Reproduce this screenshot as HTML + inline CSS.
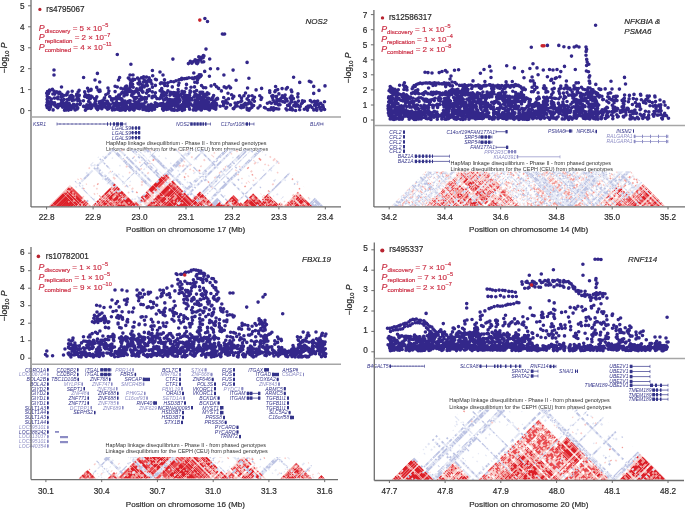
<!DOCTYPE html><html><head><meta charset="utf-8"><style>
html,body{margin:0;padding:0;background:#fff;}
svg{display:block;font-family:"Liberation Sans", sans-serif;filter:blur(0.4px);}
</style></head><body>
<svg width="685" height="509" viewBox="0 0 685 509">
<text x="46" y="125.8" text-anchor="end" font-size="5.0" font-style="italic" fill="#34348a">KSR1</text><path d="M57 124H126" stroke="#34348a" stroke-width="0.7"/><path d="M57 122.5v3M126 122.5v3" stroke="#34348a" stroke-width="0.6"/><rect x="107" y="122.3" width="1" height="3.4" fill="#34348a"/><rect x="110" y="122.3" width="1" height="3.4" fill="#34348a"/><rect x="113" y="122.3" width="2" height="3.4" fill="#34348a"/><rect x="116" y="122.3" width="3" height="3.4" fill="#34348a"/><rect x="120" y="122.3" width="3" height="3.4" fill="#34348a"/><path d="M60 123v2M64 123v2M68 123v2M72 123v2M76 123v2M80 123v2M84 123v2M88 123v2M92 123v2M96 123v2M100 123v2M104 123v2" stroke="#34348a" stroke-width="0.5"/><text x="131" y="129.8" text-anchor="end" font-size="5.0" font-style="italic" fill="#34348a">LGALS9</text><path d="M131 128H140" stroke="#34348a" stroke-width="0.7"/><path d="M131 126.5v3M140 126.5v3" stroke="#34348a" stroke-width="0.6"/><rect x="132" y="126.3" width="1.5" height="3.4" fill="#34348a"/><rect x="135" y="126.3" width="2" height="3.4" fill="#34348a"/><rect x="138" y="126.3" width="2" height="3.4" fill="#34348a"/><text x="131" y="134.5" text-anchor="end" font-size="5.0" font-style="italic" fill="#34348a">LGALS9</text><path d="M131 132.7H140" stroke="#34348a" stroke-width="0.7"/><path d="M131 131.2v3M140 131.2v3" stroke="#34348a" stroke-width="0.6"/><rect x="132" y="131.0" width="1.5" height="3.4" fill="#34348a"/><rect x="135" y="131.0" width="2" height="3.4" fill="#34348a"/><rect x="138" y="131.0" width="2" height="3.4" fill="#34348a"/><text x="131" y="139.5" text-anchor="end" font-size="5.0" font-style="italic" fill="#34348a">LGALS9</text><path d="M131 137.7H140" stroke="#34348a" stroke-width="0.7"/><path d="M131 136.2v3M140 136.2v3" stroke="#34348a" stroke-width="0.6"/><rect x="132" y="136.0" width="1.5" height="3.4" fill="#34348a"/><rect x="135" y="136.0" width="2" height="3.4" fill="#34348a"/><rect x="138" y="136.0" width="2" height="3.4" fill="#34348a"/><text x="189.5" y="125.8" text-anchor="end" font-size="5.0" font-style="italic" fill="#34348a">NOS2</text><path d="M190.5 124H210.5" stroke="#34348a" stroke-width="0.7"/><path d="M190.5 122.5v3M210.5 122.5v3" stroke="#34348a" stroke-width="0.6"/><rect x="190.5" y="122.3" width="2.2" height="3.4" fill="#34348a"/><rect x="193.5" y="122.3" width="2.2" height="3.4" fill="#34348a"/><rect x="196.5" y="122.3" width="2.2" height="3.4" fill="#34348a"/><rect x="199.5" y="122.3" width="2.2" height="3.4" fill="#34348a"/><rect x="202.5" y="122.3" width="1.5" height="3.4" fill="#34348a"/><rect x="205" y="122.3" width="1.5" height="3.4" fill="#34348a"/><text x="244" y="125.8" text-anchor="end" font-size="5.0" font-style="italic" fill="#34348a">C17orf108</text><path d="M245 124H254" stroke="#34348a" stroke-width="0.7"/><path d="M245 122.5v3M254 122.5v3" stroke="#34348a" stroke-width="0.6"/><rect x="246" y="122.3" width="2" height="3.4" fill="#34348a"/><rect x="249" y="122.3" width="1" height="3.4" fill="#34348a"/><text x="319.5" y="125.8" text-anchor="end" font-size="5.0" font-style="italic" fill="#34348a">BLK</text><path d="M320 124H323" stroke="#34348a" stroke-width="0.7"/><path d="M320 122.5v3M323 122.5v3" stroke="#34348a" stroke-width="0.6"/><text x="106" y="144.5" font-size="5.45" fill="#333">HapMap linkage disequilibrium - Phase II - from phased genotypes</text><text x="106" y="150.8" font-size="5.45" fill="#333">Linkage disequilibrium for the CEPH (CEU) from phased genotypes</text>
<text x="401.5" y="133.9" text-anchor="end" font-size="5.0" font-style="italic" fill="#34348a">CFL2</text><path d="M403 132.1H405" stroke="#34348a" stroke-width="0.7"/><rect x="403" y="130.4" width="2" height="3.4" fill="#34348a"/><text x="401.5" y="138.6" text-anchor="end" font-size="5.0" font-style="italic" fill="#34348a">CFL2</text><path d="M403 136.8H405" stroke="#34348a" stroke-width="0.7"/><rect x="403" y="135.1" width="2" height="3.4" fill="#34348a"/><text x="401.5" y="143.7" text-anchor="end" font-size="5.0" font-style="italic" fill="#34348a">CFL2</text><path d="M403 141.9H405" stroke="#34348a" stroke-width="0.7"/><rect x="403" y="140.2" width="2" height="3.4" fill="#34348a"/><text x="401.5" y="148.5" text-anchor="end" font-size="5.0" font-style="italic" fill="#34348a">CFL2</text><path d="M403 146.7H405" stroke="#34348a" stroke-width="0.7"/><rect x="403" y="145.0" width="2" height="3.4" fill="#34348a"/><text x="401.5" y="153.0" text-anchor="end" font-size="5.0" font-style="italic" fill="#34348a">CFL2</text><path d="M403 151.2H405" stroke="#34348a" stroke-width="0.7"/><rect x="403" y="149.5" width="2" height="3.4" fill="#34348a"/><text x="413.5" y="158.0" text-anchor="end" font-size="5.0" font-style="italic" fill="#34348a">BAZ1A</text><path d="M415 156.2H449.5" stroke="#34348a" stroke-width="0.7"/><path d="M415 154.7v3M449.5 154.7v3" stroke="#34348a" stroke-width="0.6"/><rect x="415" y="154.5" width="2" height="3.4" fill="#34348a"/><rect x="418.5" y="154.5" width="2" height="3.4" fill="#34348a"/><rect x="422" y="154.5" width="2" height="3.4" fill="#34348a"/><rect x="425.5" y="154.5" width="2" height="3.4" fill="#34348a"/><rect x="429" y="154.5" width="1.5" height="3.4" fill="#34348a"/><rect x="432" y="154.5" width="1" height="3.4" fill="#34348a"/><text x="413.5" y="163.2" text-anchor="end" font-size="5.0" font-style="italic" fill="#34348a">BAZ1A</text><path d="M415 161.4H449.5" stroke="#34348a" stroke-width="0.7"/><path d="M415 159.9v3M449.5 159.9v3" stroke="#34348a" stroke-width="0.6"/><rect x="415" y="159.7" width="2" height="3.4" fill="#34348a"/><rect x="418.5" y="159.7" width="2" height="3.4" fill="#34348a"/><rect x="422" y="159.7" width="2" height="3.4" fill="#34348a"/><rect x="425.5" y="159.7" width="2" height="3.4" fill="#34348a"/><rect x="429" y="159.7" width="1.5" height="3.4" fill="#34348a"/><rect x="432" y="159.7" width="1" height="3.4" fill="#34348a"/><text x="467" y="133.5" text-anchor="end" font-size="5.0" font-style="italic" fill="#34348a">C14orf19</text><path d="M468 131.7H469.5" stroke="#34348a" stroke-width="0.7"/><path d="M468 130.2v3M469.5 130.2v3" stroke="#34348a" stroke-width="0.6"/><text x="495" y="133.5" text-anchor="end" font-size="5.0" font-style="italic" fill="#34348a">FAM177A1</text><path d="M496 131.7H507" stroke="#34348a" stroke-width="0.7"/><path d="M496 130.2v3M507 130.2v3" stroke="#34348a" stroke-width="0.6"/><rect x="505.5" y="130.0" width="2" height="3.4" fill="#34348a"/><text x="480" y="138.8" text-anchor="end" font-size="5.0" font-style="italic" fill="#34348a">SRP54</text><path d="M480.5 137H492" stroke="#34348a" stroke-width="0.7"/><path d="M480.5 135.5v3M492 135.5v3" stroke="#34348a" stroke-width="0.6"/><rect x="481" y="135.3" width="2.5" height="3.4" fill="#34348a"/><rect x="484.5" y="135.3" width="2.5" height="3.4" fill="#34348a"/><rect x="488" y="135.3" width="2.5" height="3.4" fill="#34348a"/><text x="480" y="144.0" text-anchor="end" font-size="5.0" font-style="italic" fill="#34348a">SRP54</text><path d="M480.5 142.2H492" stroke="#34348a" stroke-width="0.7"/><path d="M480.5 140.7v3M492 140.7v3" stroke="#34348a" stroke-width="0.6"/><rect x="481" y="140.5" width="2.5" height="3.4" fill="#34348a"/><rect x="484.5" y="140.5" width="2.5" height="3.4" fill="#34348a"/><rect x="488" y="140.5" width="2.5" height="3.4" fill="#34348a"/><text x="495" y="149.1" text-anchor="end" font-size="5.0" font-style="italic" fill="#34348a">FAM177A1</text><path d="M496 147.3H508" stroke="#34348a" stroke-width="0.7"/><path d="M496 145.8v3M508 145.8v3" stroke="#34348a" stroke-width="0.6"/><rect x="506" y="145.6" width="2" height="3.4" fill="#34348a"/><text x="507" y="153.5" text-anchor="end" font-size="5.0" font-style="italic" fill="#8c8cc4">PPP2R3C</text><path d="M508 151.7H516" stroke="#8c8cc4" stroke-width="0.7"/><path d="M508 150.2v3M516 150.2v3" stroke="#8c8cc4" stroke-width="0.6"/><rect x="508" y="150.0" width="2" height="3.4" fill="#8c8cc4"/><rect x="511" y="150.0" width="2" height="3.4" fill="#8c8cc4"/><rect x="514" y="150.0" width="2" height="3.4" fill="#8c8cc4"/><text x="516" y="158.6" text-anchor="end" font-size="5.0" font-style="italic" fill="#8c8cc4">KIAA0391</text><path d="M517 156.8H560" stroke="#8c8cc4" stroke-width="0.7"/><path d="M517 155.3v3M560 155.3v3" stroke="#8c8cc4" stroke-width="0.6"/><rect x="517" y="155.1" width="1.2" height="3.4" fill="#8c8cc4"/><text x="565" y="132.8" text-anchor="end" font-size="5.0" font-style="italic" fill="#34348a">PSMA6</text><path d="M565.5 131H572" stroke="#34348a" stroke-width="0.7"/><path d="M565.5 129.5v3M572 129.5v3" stroke="#34348a" stroke-width="0.6"/><rect x="569" y="129.3" width="2.5" height="3.4" fill="#34348a"/><text x="594.5" y="133.3" text-anchor="end" font-size="5.0" font-style="italic" fill="#34348a">NFKBIA</text><path d="M595.5 131.5H597" stroke="#34348a" stroke-width="0.7"/><rect x="595.5" y="129.8" width="1.5" height="3.4" fill="#34348a"/><text x="631.5" y="132.8" text-anchor="end" font-size="5.0" font-style="italic" fill="#34348a">INSM2</text><path d="M633 131H634" stroke="#34348a" stroke-width="0.7"/><rect x="633" y="129.3" width="1" height="3.4" fill="#34348a"/><text x="632.5" y="138.2" text-anchor="end" font-size="5.0" font-style="italic" fill="#8c8cc4">RALGAPA1</text><path d="M634 136.4H668" stroke="#8c8cc4" stroke-width="0.7"/><path d="M634 134.9v3M668 134.9v3" stroke="#8c8cc4" stroke-width="0.6"/><rect x="634" y="134.7" width="1.5" height="3.4" fill="#8c8cc4"/><rect x="642" y="134.7" width="1" height="3.4" fill="#8c8cc4"/><rect x="650" y="134.7" width="1" height="3.4" fill="#8c8cc4"/><rect x="658" y="134.7" width="1" height="3.4" fill="#8c8cc4"/><rect x="666" y="134.7" width="1.5" height="3.4" fill="#8c8cc4"/><text x="632.5" y="143.3" text-anchor="end" font-size="5.0" font-style="italic" fill="#8c8cc4">RALGAPA1</text><path d="M634 141.5H668" stroke="#8c8cc4" stroke-width="0.7"/><path d="M634 140.0v3M668 140.0v3" stroke="#8c8cc4" stroke-width="0.6"/><rect x="634" y="139.8" width="1.5" height="3.4" fill="#8c8cc4"/><rect x="642" y="139.8" width="1" height="3.4" fill="#8c8cc4"/><rect x="650" y="139.8" width="1" height="3.4" fill="#8c8cc4"/><rect x="658" y="139.8" width="1" height="3.4" fill="#8c8cc4"/><rect x="666" y="139.8" width="1.5" height="3.4" fill="#8c8cc4"/><text x="450.6" y="164.7" font-size="5.45" fill="#333">HapMap linkage disequilibrium - Phase II - from phased genotypes</text><text x="450.6" y="171.2" font-size="5.45" fill="#333">Linkage disequilibrium for the CEPH (CEU) from phased genotypes</text>
<text x="46" y="371.6" text-anchor="end" font-size="5.0" font-style="italic" fill="#34348a">CORO1A</text><path d="M47 369.8H49" stroke="#34348a" stroke-width="0.7"/><rect x="47" y="368.1" width="1.6" height="3.4" fill="#34348a"/><text x="46" y="376.3" text-anchor="end" font-size="5.0" font-style="italic" fill="#8c8cc4">LOC606724</text><path d="M47 374.5H49" stroke="#8c8cc4" stroke-width="0.7"/><rect x="47" y="372.8" width="1.6" height="3.4" fill="#8c8cc4"/><text x="46" y="381.2" text-anchor="end" font-size="5.0" font-style="italic" fill="#34348a">BOLA2B</text><path d="M47 379.4H49" stroke="#34348a" stroke-width="0.7"/><rect x="47" y="377.7" width="1.6" height="3.4" fill="#34348a"/><text x="46" y="385.9" text-anchor="end" font-size="5.0" font-style="italic" fill="#34348a">BOLA2</text><path d="M47 384.1H49" stroke="#34348a" stroke-width="0.7"/><rect x="47" y="382.4" width="1.6" height="3.4" fill="#34348a"/><text x="46" y="390.5" text-anchor="end" font-size="5.0" font-style="italic" fill="#34348a">GIYD2</text><path d="M47 388.7H49" stroke="#34348a" stroke-width="0.7"/><rect x="47" y="387.0" width="1.6" height="3.4" fill="#34348a"/><text x="46" y="395.2" text-anchor="end" font-size="5.0" font-style="italic" fill="#34348a">GIYD2</text><path d="M47 393.4H49" stroke="#34348a" stroke-width="0.7"/><rect x="47" y="391.7" width="1.6" height="3.4" fill="#34348a"/><text x="46" y="399.9" text-anchor="end" font-size="5.0" font-style="italic" fill="#34348a">GIYD1</text><path d="M47 398.1H49" stroke="#34348a" stroke-width="0.7"/><rect x="47" y="396.4" width="1.6" height="3.4" fill="#34348a"/><text x="46" y="404.8" text-anchor="end" font-size="5.0" font-style="italic" fill="#34348a">GIYD1</text><path d="M47 403H49" stroke="#34348a" stroke-width="0.7"/><rect x="47" y="401.3" width="1.6" height="3.4" fill="#34348a"/><text x="46" y="409.5" text-anchor="end" font-size="5.0" font-style="italic" fill="#34348a">SULT1A3</text><path d="M47 407.7H49" stroke="#34348a" stroke-width="0.7"/><rect x="47" y="406.0" width="1.6" height="3.4" fill="#34348a"/><text x="46" y="414.4" text-anchor="end" font-size="5.0" font-style="italic" fill="#34348a">SULT1A4</text><path d="M47 412.6H49" stroke="#34348a" stroke-width="0.7"/><rect x="47" y="410.9" width="1.6" height="3.4" fill="#34348a"/><text x="46" y="419.3" text-anchor="end" font-size="5.0" font-style="italic" fill="#34348a">SULT1A3</text><path d="M47 417.5H49" stroke="#34348a" stroke-width="0.7"/><rect x="47" y="415.8" width="1.6" height="3.4" fill="#34348a"/><text x="46" y="424.2" text-anchor="end" font-size="5.0" font-style="italic" fill="#34348a">SULT1A4</text><path d="M47 422.4H49" stroke="#34348a" stroke-width="0.7"/><rect x="47" y="420.7" width="1.6" height="3.4" fill="#34348a"/><text x="46" y="429.1" text-anchor="end" font-size="5.0" font-style="italic" fill="#8c8cc4">LOC595101</text><path d="M47 427.3H49" stroke="#8c8cc4" stroke-width="0.7"/><rect x="47" y="425.6" width="1.6" height="3.4" fill="#8c8cc4"/><text x="46" y="433.8" text-anchor="end" font-size="5.0" font-style="italic" fill="#34348a">LOC388242</text><path d="M47 432H49" stroke="#34348a" stroke-width="0.7"/><rect x="47" y="430.3" width="1.6" height="3.4" fill="#34348a"/><text x="46" y="438.4" text-anchor="end" font-size="5.0" font-style="italic" fill="#8c8cc4">LOC613037</text><path d="M47 436.6H49" stroke="#8c8cc4" stroke-width="0.7"/><rect x="47" y="434.9" width="1.6" height="3.4" fill="#8c8cc4"/><text x="46" y="443.1" text-anchor="end" font-size="5.0" font-style="italic" fill="#8c8cc4">LOC595101</text><path d="M47 441.3H49" stroke="#8c8cc4" stroke-width="0.7"/><rect x="47" y="439.6" width="1.6" height="3.4" fill="#8c8cc4"/><text x="46" y="447.8" text-anchor="end" font-size="5.0" font-style="italic" fill="#8c8cc4">LOC440354</text><path d="M47 446H49" stroke="#8c8cc4" stroke-width="0.7"/><rect x="47" y="444.3" width="1.6" height="3.4" fill="#8c8cc4"/><rect x="55" y="431" width="4" height="1.8" fill="#8c8cc4"/><rect x="60" y="436" width="8" height="2.2" fill="#8c8cc4"/><rect x="60" y="441" width="8" height="2.2" fill="#8c8cc4"/><text x="76" y="371.6" text-anchor="end" font-size="5.0" font-style="italic" fill="#34348a">CD2BP2</text><path d="M77 369.8H78.5" stroke="#34348a" stroke-width="0.7"/><rect x="77" y="368.1" width="1.5" height="3.4" fill="#34348a"/><text x="76" y="376.3" text-anchor="end" font-size="5.0" font-style="italic" fill="#34348a">CD2BP2</text><path d="M77 374.5H78.5" stroke="#34348a" stroke-width="0.7"/><rect x="77" y="372.8" width="1.5" height="3.4" fill="#34348a"/><text x="76.5" y="381.2" text-anchor="end" font-size="5.0" font-style="italic" fill="#34348a">TBC1D10B</text><path d="M77.5 379.4H79.0" stroke="#34348a" stroke-width="0.7"/><rect x="77.5" y="377.7" width="1.5" height="3.4" fill="#34348a"/><text x="80.5" y="385.9" text-anchor="end" font-size="5.0" font-style="italic" fill="#8c8cc4">MYLPF</text><path d="M81.5 384.1H83.0" stroke="#8c8cc4" stroke-width="0.7"/><rect x="81.5" y="382.4" width="1.5" height="3.4" fill="#8c8cc4"/><text x="82.5" y="390.5" text-anchor="end" font-size="5.0" font-style="italic" fill="#34348a">SEPT1</text><path d="M83.5 388.7H85.0" stroke="#34348a" stroke-width="0.7"/><rect x="83.5" y="387.0" width="1.5" height="3.4" fill="#34348a"/><text x="86.5" y="395.2" text-anchor="end" font-size="5.0" font-style="italic" fill="#8c8cc4">ZNF48</text><path d="M87.5 393.4H89.0" stroke="#8c8cc4" stroke-width="0.7"/><rect x="87.5" y="391.7" width="1.5" height="3.4" fill="#8c8cc4"/><text x="86.5" y="399.9" text-anchor="end" font-size="5.0" font-style="italic" fill="#34348a">ZNF771</text><path d="M87.5 398.1H89.0" stroke="#34348a" stroke-width="0.7"/><rect x="87.5" y="396.4" width="1.5" height="3.4" fill="#34348a"/><text x="86.5" y="404.8" text-anchor="end" font-size="5.0" font-style="italic" fill="#34348a">ZNF771</text><path d="M87.5 403H89.0" stroke="#34348a" stroke-width="0.7"/><rect x="87.5" y="401.3" width="1.5" height="3.4" fill="#34348a"/><text x="89.5" y="409.5" text-anchor="end" font-size="5.0" font-style="italic" fill="#8c8cc4">DCTPP1</text><path d="M90.5 407.7H92.0" stroke="#8c8cc4" stroke-width="0.7"/><rect x="90.5" y="406.0" width="1.5" height="3.4" fill="#8c8cc4"/><text x="93" y="414.4" text-anchor="end" font-size="5.0" font-style="italic" fill="#34348a">SEPHS2</text><path d="M94 412.6H95.5" stroke="#34348a" stroke-width="0.7"/><rect x="94" y="410.9" width="1.5" height="3.4" fill="#34348a"/><text x="99.5" y="371.6" text-anchor="end" font-size="5.0" font-style="italic" fill="#34348a">ITGAL</text><path d="M100.5 369.8H111" stroke="#34348a" stroke-width="0.7"/><path d="M100.5 368.3v3M111 368.3v3" stroke="#34348a" stroke-width="0.6"/><rect x="100.5" y="368.1" width="3" height="3.4" fill="#34348a"/><rect x="104" y="368.1" width="3" height="3.4" fill="#34348a"/><rect x="107.5" y="368.1" width="3" height="3.4" fill="#34348a"/><text x="99.5" y="376.3" text-anchor="end" font-size="5.0" font-style="italic" fill="#34348a">ITGAL</text><path d="M100.5 374.5H111" stroke="#34348a" stroke-width="0.7"/><path d="M100.5 373.0v3M111 373.0v3" stroke="#34348a" stroke-width="0.6"/><rect x="100.5" y="372.8" width="3" height="3.4" fill="#34348a"/><rect x="104" y="372.8" width="3" height="3.4" fill="#34348a"/><rect x="107.5" y="372.8" width="3" height="3.4" fill="#34348a"/><text x="108" y="381.2" text-anchor="end" font-size="5.0" font-style="italic" fill="#34348a">ZNF768</text><path d="M109 379.4H110.5" stroke="#34348a" stroke-width="0.7"/><rect x="109" y="377.7" width="1.5" height="3.4" fill="#34348a"/><text x="110" y="385.9" text-anchor="end" font-size="5.0" font-style="italic" fill="#8c8cc4">ZNF747</text><path d="M111 384.1H112.5" stroke="#8c8cc4" stroke-width="0.7"/><rect x="111" y="382.4" width="1.5" height="3.4" fill="#8c8cc4"/><text x="115" y="390.5" text-anchor="end" font-size="5.0" font-style="italic" fill="#8c8cc4">ZNF764</text><path d="M116 388.7H117.5" stroke="#8c8cc4" stroke-width="0.7"/><rect x="116" y="387.0" width="1.5" height="3.4" fill="#8c8cc4"/><text x="116" y="395.2" text-anchor="end" font-size="5.0" font-style="italic" fill="#34348a">ZNF688</text><path d="M117 393.4H118.5" stroke="#34348a" stroke-width="0.7"/><rect x="117" y="391.7" width="1.5" height="3.4" fill="#34348a"/><text x="116" y="399.9" text-anchor="end" font-size="5.0" font-style="italic" fill="#34348a">ZNF688</text><path d="M117 398.1H118.5" stroke="#34348a" stroke-width="0.7"/><rect x="117" y="396.4" width="1.5" height="3.4" fill="#34348a"/><text x="116" y="404.8" text-anchor="end" font-size="5.0" font-style="italic" fill="#8c8cc4">ZNF785</text><path d="M117 403H118.5" stroke="#8c8cc4" stroke-width="0.7"/><rect x="117" y="401.3" width="1.5" height="3.4" fill="#8c8cc4"/><text x="121" y="409.5" text-anchor="end" font-size="5.0" font-style="italic" fill="#8c8cc4">ZNF689</text><path d="M122 407.7H123.5" stroke="#8c8cc4" stroke-width="0.7"/><rect x="122" y="406.0" width="1.5" height="3.4" fill="#8c8cc4"/><text x="131.3" y="371.6" text-anchor="end" font-size="5.0" font-style="italic" fill="#8c8cc4">PRR14</text><path d="M132.3 369.8H133.8" stroke="#8c8cc4" stroke-width="0.7"/><rect x="132.3" y="368.1" width="1.5" height="3.4" fill="#8c8cc4"/><text x="133.6" y="376.3" text-anchor="end" font-size="5.0" font-style="italic" fill="#34348a">FBRS</text><path d="M134.6 374.5H136.1" stroke="#34348a" stroke-width="0.7"/><rect x="134.6" y="372.8" width="1.5" height="3.4" fill="#34348a"/><text x="141.8" y="381.2" text-anchor="end" font-size="5.0" font-style="italic" fill="#34348a">SRCAP</text><path d="M142.8 379.4H144.3" stroke="#34348a" stroke-width="0.7"/><rect x="142.8" y="377.7" width="1.5" height="3.4" fill="#34348a"/><text x="141.8" y="385.9" text-anchor="end" font-size="5.0" font-style="italic" fill="#8c8cc4">SMCR4B</text><path d="M142.8 384.1H144.3" stroke="#8c8cc4" stroke-width="0.7"/><rect x="142.8" y="382.4" width="1.5" height="3.4" fill="#8c8cc4"/><text x="143" y="395.2" text-anchor="end" font-size="5.0" font-style="italic" fill="#8c8cc4">PHKG2</text><path d="M144 393.4H145.5" stroke="#8c8cc4" stroke-width="0.7"/><rect x="144" y="391.7" width="1.5" height="3.4" fill="#8c8cc4"/><text x="145.3" y="399.9" text-anchor="end" font-size="5.0" font-style="italic" fill="#8c8cc4">C16orf93</text><path d="M146.3 398.1H147.8" stroke="#8c8cc4" stroke-width="0.7"/><rect x="146.3" y="396.4" width="1.5" height="3.4" fill="#8c8cc4"/><text x="152.3" y="404.8" text-anchor="end" font-size="5.0" font-style="italic" fill="#34348a">RNF40</text><path d="M153.3 403H154.8" stroke="#34348a" stroke-width="0.7"/><rect x="153.3" y="401.3" width="1.5" height="3.4" fill="#34348a"/><text x="157" y="409.5" text-anchor="end" font-size="5.0" font-style="italic" fill="#8c8cc4">ZNF629</text><path d="M158 407.7H159.5" stroke="#8c8cc4" stroke-width="0.7"/><rect x="158" y="406.0" width="1.5" height="3.4" fill="#8c8cc4"/><rect x="143" y="377.7" width="7" height="3.4" fill="#34348a"/><rect x="153.5" y="401.3" width="3.5" height="3.4" fill="#34348a"/><text x="178" y="371.6" text-anchor="end" font-size="5.0" font-style="italic" fill="#34348a">BCL7C</text><path d="M179 369.8H181" stroke="#34348a" stroke-width="0.7"/><rect x="179" y="368.1" width="2" height="3.4" fill="#34348a"/><text x="178" y="376.3" text-anchor="end" font-size="5.0" font-style="italic" fill="#8c8cc4">MIR762</text><path d="M179 374.5H181" stroke="#8c8cc4" stroke-width="0.7"/><rect x="179" y="372.8" width="2" height="3.4" fill="#8c8cc4"/><text x="178" y="381.2" text-anchor="end" font-size="5.0" font-style="italic" fill="#34348a">CTF1</text><path d="M179 379.4H181" stroke="#34348a" stroke-width="0.7"/><rect x="179" y="377.7" width="2" height="3.4" fill="#34348a"/><text x="178" y="385.9" text-anchor="end" font-size="5.0" font-style="italic" fill="#34348a">CTF1</text><path d="M179 384.1H181" stroke="#34348a" stroke-width="0.7"/><rect x="179" y="382.4" width="2" height="3.4" fill="#34348a"/><text x="180" y="390.5" text-anchor="end" font-size="5.0" font-style="italic" fill="#8c8cc4">FBXL19</text><path d="M181 388.7H183" stroke="#8c8cc4" stroke-width="0.7"/><rect x="181" y="387.0" width="2" height="3.4" fill="#8c8cc4"/><text x="181" y="395.2" text-anchor="end" font-size="5.0" font-style="italic" fill="#34348a">ORAI3</text><path d="M182 393.4H184" stroke="#34348a" stroke-width="0.7"/><rect x="182" y="391.7" width="2" height="3.4" fill="#34348a"/><text x="182" y="399.9" text-anchor="end" font-size="5.0" font-style="italic" fill="#8c8cc4">SETD1A</text><path d="M183 398.1H185" stroke="#8c8cc4" stroke-width="0.7"/><rect x="183" y="396.4" width="2" height="3.4" fill="#8c8cc4"/><text x="183" y="404.8" text-anchor="end" font-size="5.0" font-style="italic" fill="#34348a">HSD3B7</text><path d="M184 403H186" stroke="#34348a" stroke-width="0.7"/><rect x="184" y="401.3" width="2" height="3.4" fill="#34348a"/><text x="190" y="409.5" text-anchor="end" font-size="5.0" font-style="italic" fill="#34348a">NCRNA00095</text><path d="M191 407.7H193" stroke="#34348a" stroke-width="0.7"/><rect x="191" y="406.0" width="2" height="3.4" fill="#34348a"/><text x="181" y="414.4" text-anchor="end" font-size="5.0" font-style="italic" fill="#34348a">HSD3B7</text><path d="M182 412.6H184" stroke="#34348a" stroke-width="0.7"/><rect x="182" y="410.9" width="2" height="3.4" fill="#34348a"/><text x="181" y="419.3" text-anchor="end" font-size="5.0" font-style="italic" fill="#34348a">HSD3B7</text><path d="M182 417.5H184" stroke="#34348a" stroke-width="0.7"/><rect x="182" y="415.8" width="2" height="3.4" fill="#34348a"/><text x="180" y="424.2" text-anchor="end" font-size="5.0" font-style="italic" fill="#34348a">STX1B</text><path d="M181 422.4H183" stroke="#34348a" stroke-width="0.7"/><rect x="181" y="420.7" width="2" height="3.4" fill="#34348a"/><text x="203.6" y="371.6" text-anchor="end" font-size="5.0" font-style="italic" fill="#8c8cc4">STX4</text><path d="M204.6 369.8H206.6" stroke="#8c8cc4" stroke-width="0.7"/><rect x="204.6" y="368.1" width="2" height="3.4" fill="#8c8cc4"/><text x="209.5" y="376.3" text-anchor="end" font-size="5.0" font-style="italic" fill="#8c8cc4">ZNF668</text><path d="M210.5 374.5H212.5" stroke="#8c8cc4" stroke-width="0.7"/><rect x="210.5" y="372.8" width="2" height="3.4" fill="#8c8cc4"/><text x="210.7" y="381.2" text-anchor="end" font-size="5.0" font-style="italic" fill="#34348a">ZNF646</text><path d="M211.7 379.4H213.7" stroke="#34348a" stroke-width="0.7"/><rect x="211.7" y="377.7" width="2" height="3.4" fill="#34348a"/><text x="213" y="385.9" text-anchor="end" font-size="5.0" font-style="italic" fill="#34348a">POL3S</text><path d="M214 384.1H216" stroke="#34348a" stroke-width="0.7"/><rect x="214" y="382.4" width="2" height="3.4" fill="#34348a"/><text x="213" y="390.5" text-anchor="end" font-size="5.0" font-style="italic" fill="#34348a">VKORC1</text><path d="M214 388.7H216" stroke="#34348a" stroke-width="0.7"/><rect x="214" y="387.0" width="2" height="3.4" fill="#34348a"/><text x="213" y="395.2" text-anchor="end" font-size="5.0" font-style="italic" fill="#34348a">VKORC1</text><path d="M214 393.4H216" stroke="#34348a" stroke-width="0.7"/><rect x="214" y="391.7" width="2" height="3.4" fill="#34348a"/><text x="216.6" y="399.9" text-anchor="end" font-size="5.0" font-style="italic" fill="#34348a">BCKDK</text><path d="M217.6 398.1H219.6" stroke="#34348a" stroke-width="0.7"/><rect x="217.6" y="396.4" width="2" height="3.4" fill="#34348a"/><text x="216.6" y="404.8" text-anchor="end" font-size="5.0" font-style="italic" fill="#34348a">BCKDK</text><path d="M217.6 403H219.6" stroke="#34348a" stroke-width="0.7"/><rect x="217.6" y="401.3" width="2" height="3.4" fill="#34348a"/><text x="219" y="409.5" text-anchor="end" font-size="5.0" font-style="italic" fill="#34348a">MYST1</text><path d="M220 407.7H222" stroke="#34348a" stroke-width="0.7"/><rect x="220" y="406.0" width="2" height="3.4" fill="#34348a"/><text x="219" y="414.4" text-anchor="end" font-size="5.0" font-style="italic" fill="#34348a">MYST1</text><path d="M220 412.6H222" stroke="#34348a" stroke-width="0.7"/><rect x="220" y="410.9" width="2" height="3.4" fill="#34348a"/><text x="222" y="419.3" text-anchor="end" font-size="5.0" font-style="italic" fill="#34348a">PRSS8</text><path d="M223 417.5H225" stroke="#34348a" stroke-width="0.7"/><rect x="223" y="415.8" width="2" height="3.4" fill="#34348a"/><text x="223.7" y="424.2" text-anchor="end" font-size="5.0" font-style="italic" fill="#34348a">PRSS36</text><path d="M224.7 422.4H226.7" stroke="#34348a" stroke-width="0.7"/><rect x="224.7" y="420.7" width="2" height="3.4" fill="#34348a"/><text x="235.5" y="429.1" text-anchor="end" font-size="5.0" font-style="italic" fill="#34348a">PYCARD</text><path d="M236.5 427.3H238.5" stroke="#34348a" stroke-width="0.7"/><rect x="236.5" y="425.6" width="2" height="3.4" fill="#34348a"/><text x="235.5" y="433.8" text-anchor="end" font-size="5.0" font-style="italic" fill="#34348a">PYCARD</text><path d="M236.5 432H238.5" stroke="#34348a" stroke-width="0.7"/><rect x="236.5" y="430.3" width="2" height="3.4" fill="#34348a"/><text x="238" y="438.4" text-anchor="end" font-size="5.0" font-style="italic" fill="#34348a">TRIM72</text><path d="M239 436.6H241" stroke="#34348a" stroke-width="0.7"/><rect x="239" y="434.9" width="2" height="3.4" fill="#34348a"/><text x="232" y="371.6" text-anchor="end" font-size="5.0" font-style="italic" fill="#34348a">FUS</text><path d="M233 369.8H235" stroke="#34348a" stroke-width="0.7"/><rect x="233" y="368.1" width="2" height="3.4" fill="#34348a"/><text x="232" y="376.3" text-anchor="end" font-size="5.0" font-style="italic" fill="#34348a">FUS</text><path d="M233 374.5H235" stroke="#34348a" stroke-width="0.7"/><rect x="233" y="372.8" width="2" height="3.4" fill="#34348a"/><text x="232" y="381.2" text-anchor="end" font-size="5.0" font-style="italic" fill="#34348a">FUS</text><path d="M233 379.4H235" stroke="#34348a" stroke-width="0.7"/><rect x="233" y="377.7" width="2" height="3.4" fill="#34348a"/><text x="232" y="385.9" text-anchor="end" font-size="5.0" font-style="italic" fill="#34348a">FUS</text><path d="M233 384.1H235" stroke="#34348a" stroke-width="0.7"/><rect x="233" y="382.4" width="2" height="3.4" fill="#34348a"/><text x="240.3" y="390.5" text-anchor="end" font-size="5.0" font-style="italic" fill="#8c8cc4">PYDC1</text><path d="M241.3 388.7H243.3" stroke="#8c8cc4" stroke-width="0.7"/><rect x="241.3" y="387.0" width="2" height="3.4" fill="#8c8cc4"/><text x="245.5" y="395.2" text-anchor="end" font-size="5.0" font-style="italic" fill="#34348a">ITGAM</text><path d="M247 393.4H260" stroke="#34348a" stroke-width="0.7"/><path d="M247 391.9v3M260 391.9v3" stroke="#34348a" stroke-width="0.6"/><rect x="247" y="391.7" width="2.5" height="3.4" fill="#34348a"/><rect x="250" y="391.7" width="2.5" height="3.4" fill="#34348a"/><rect x="258" y="391.7" width="2.2" height="3.4" fill="#34348a"/><text x="245.5" y="399.9" text-anchor="end" font-size="5.0" font-style="italic" fill="#34348a">ITGAM</text><path d="M247 398.1H260" stroke="#34348a" stroke-width="0.7"/><path d="M247 396.6v3M260 396.6v3" stroke="#34348a" stroke-width="0.6"/><rect x="247" y="396.4" width="2.5" height="3.4" fill="#34348a"/><rect x="250" y="396.4" width="2.5" height="3.4" fill="#34348a"/><rect x="258" y="396.4" width="2.2" height="3.4" fill="#34348a"/><text x="263.2" y="371.6" text-anchor="end" font-size="5.0" font-style="italic" fill="#34348a">ITGAX</text><path d="M264.2 369.8H266.2" stroke="#34348a" stroke-width="0.7"/><rect x="264.2" y="368.1" width="2" height="3.4" fill="#34348a"/><text x="271" y="376.3" text-anchor="end" font-size="5.0" font-style="italic" fill="#34348a">ITGAD</text><path d="M272 374.5H274" stroke="#34348a" stroke-width="0.7"/><rect x="272" y="372.8" width="2" height="3.4" fill="#34348a"/><text x="275.7" y="381.2" text-anchor="end" font-size="5.0" font-style="italic" fill="#34348a">COX6A2</text><path d="M276.7 379.4H278.7" stroke="#34348a" stroke-width="0.7"/><rect x="276.7" y="377.7" width="2" height="3.4" fill="#34348a"/><text x="277" y="385.9" text-anchor="end" font-size="5.0" font-style="italic" fill="#8c8cc4">ZNF843</text><path d="M278 384.1H280" stroke="#8c8cc4" stroke-width="0.7"/><rect x="278" y="382.4" width="2" height="3.4" fill="#8c8cc4"/><text x="282.8" y="390.5" text-anchor="end" font-size="5.0" font-style="italic" fill="#34348a">ARMC5</text><path d="M283.8 388.7H285.8" stroke="#34348a" stroke-width="0.7"/><rect x="283.8" y="387.0" width="2" height="3.4" fill="#34348a"/><text x="282.8" y="395.2" text-anchor="end" font-size="5.0" font-style="italic" fill="#34348a">ARMC5</text><path d="M283.8 393.4H285.8" stroke="#34348a" stroke-width="0.7"/><rect x="283.8" y="391.7" width="2" height="3.4" fill="#34348a"/><text x="286" y="399.9" text-anchor="end" font-size="5.0" font-style="italic" fill="#34348a">TGFB1I1</text><path d="M287 398.1H289" stroke="#34348a" stroke-width="0.7"/><rect x="287" y="396.4" width="2" height="3.4" fill="#34348a"/><text x="286" y="404.8" text-anchor="end" font-size="5.0" font-style="italic" fill="#34348a">TGFB1I1</text><path d="M287 403H289" stroke="#34348a" stroke-width="0.7"/><rect x="287" y="401.3" width="2" height="3.4" fill="#34348a"/><text x="286" y="409.5" text-anchor="end" font-size="5.0" font-style="italic" fill="#34348a">TGFB1I1</text><path d="M287 407.7H289" stroke="#34348a" stroke-width="0.7"/><rect x="287" y="406.0" width="2" height="3.4" fill="#34348a"/><text x="287.6" y="414.4" text-anchor="end" font-size="5.0" font-style="italic" fill="#34348a">SLC5A2</text><path d="M288.6 412.6H290.6" stroke="#34348a" stroke-width="0.7"/><rect x="288.6" y="410.9" width="2" height="3.4" fill="#34348a"/><text x="289.2" y="419.3" text-anchor="end" font-size="5.0" font-style="italic" fill="#34348a">C16orf58</text><path d="M290.2 417.5H292.2" stroke="#34348a" stroke-width="0.7"/><rect x="290.2" y="415.8" width="2" height="3.4" fill="#34348a"/><rect x="264.5" y="368.1" width="4.5" height="3.4" fill="#34348a"/><rect x="272" y="372.8" width="7" height="3.4" fill="#34348a"/><rect x="290" y="415.8" width="4" height="3.4" fill="#34348a"/><rect x="220" y="406" width="3.5" height="3.4" fill="#34348a"/><rect x="220" y="410.9" width="3.5" height="3.4" fill="#34348a"/><text x="295.8" y="371.6" text-anchor="end" font-size="5.0" font-style="italic" fill="#34348a">AHSP</text><path d="M296.5 369.8H297.5" stroke="#34348a" stroke-width="0.7"/><rect x="296.5" y="368.1" width="1" height="3.4" fill="#34348a"/><text x="302" y="376.3" text-anchor="end" font-size="5.0" font-style="italic" fill="#8c8cc4">CSDAP1</text><path d="M303 374.5H304" stroke="#8c8cc4" stroke-width="0.7"/><rect x="303" y="372.8" width="1" height="3.4" fill="#8c8cc4"/><text x="105.5" y="447.1" font-size="5.45" fill="#333">HapMap linkage disequilibrium - Phase II - from phased genotypes</text><text x="105.5" y="453.1" font-size="5.45" fill="#333">Linkage disequilibrium for the CEPH (CEU) from phased genotypes</text>
<text x="388.5" y="368.0" text-anchor="end" font-size="5.0" font-style="italic" fill="#34348a">B4GALT5</text><path d="M389.5 366.2H424.5" stroke="#34348a" stroke-width="0.7"/><path d="M389.5 364.7v3M424.5 364.7v3" stroke="#34348a" stroke-width="0.6"/><rect x="390" y="364.5" width="1" height="3.4" fill="#34348a"/><path d="M392 365.4v1.6M395 365.4v1.6M398 365.4v1.6M401 365.4v1.6M404 365.4v1.6M407 365.4v1.6M410 365.4v1.6M413 365.4v1.6M416 365.4v1.6M419 365.4v1.6M422 365.4v1.6" stroke="#34348a" stroke-width="0.5"/><text x="478.5" y="368.0" text-anchor="end" font-size="5.0" font-style="italic" fill="#34348a">SLC9A8</text><path d="M479.5 366.2H521" stroke="#34348a" stroke-width="0.7"/><path d="M479.5 364.7v3M521 364.7v3" stroke="#34348a" stroke-width="0.6"/><rect x="480" y="364.5" width="1.5" height="3.4" fill="#34348a"/><rect x="486" y="364.5" width="1" height="3.4" fill="#34348a"/><rect x="494" y="364.5" width="1.5" height="3.4" fill="#34348a"/><rect x="497" y="364.5" width="1.5" height="3.4" fill="#34348a"/><rect x="500" y="364.5" width="1.5" height="3.4" fill="#34348a"/><rect x="505" y="364.5" width="1.5" height="3.4" fill="#34348a"/><rect x="510" y="364.5" width="1.5" height="3.4" fill="#34348a"/><rect x="515" y="364.5" width="1.5" height="3.4" fill="#34348a"/><rect x="519" y="364.5" width="1.5" height="3.4" fill="#34348a"/><text x="548.5" y="368.2" text-anchor="end" font-size="5.0" font-style="italic" fill="#34348a">RNF114</text><path d="M549.5 366.4H556" stroke="#34348a" stroke-width="0.7"/><path d="M549.5 364.9v3M556 364.9v3" stroke="#34348a" stroke-width="0.6"/><rect x="550" y="364.7" width="1.5" height="3.4" fill="#34348a"/><rect x="553" y="364.7" width="1.5" height="3.4" fill="#34348a"/><text x="529.5" y="373.0" text-anchor="end" font-size="5.0" font-style="italic" fill="#34348a">SPATA2</text><path d="M531 371.2H538" stroke="#34348a" stroke-width="0.7"/><path d="M531 369.7v3M538 369.7v3" stroke="#34348a" stroke-width="0.6"/><rect x="531" y="369.5" width="2.5" height="3.4" fill="#34348a"/><text x="529.5" y="377.8" text-anchor="end" font-size="5.0" font-style="italic" fill="#34348a">SPATA2</text><path d="M531 376H538" stroke="#34348a" stroke-width="0.7"/><path d="M531 374.5v3M538 374.5v3" stroke="#34348a" stroke-width="0.6"/><rect x="531" y="374.3" width="2.5" height="3.4" fill="#34348a"/><text x="573.5" y="373.0" text-anchor="end" font-size="5.0" font-style="italic" fill="#34348a">SNAI1</text><path d="M575 371.2H578" stroke="#34348a" stroke-width="0.7"/><rect x="575" y="369.5" width="1" height="3.4" fill="#34348a"/><rect x="577" y="369.5" width="1" height="3.4" fill="#34348a"/><text x="628.5" y="368.2" text-anchor="end" font-size="5.0" font-style="italic" fill="#34348a">UBE2V1</text><path d="M630 366.4H650" stroke="#34348a" stroke-width="0.7"/><path d="M630 364.9v3M650 364.9v3" stroke="#34348a" stroke-width="0.6"/><rect x="630" y="364.7" width="2.5" height="3.4" fill="#34348a"/><text x="628.5" y="373.3" text-anchor="end" font-size="5.0" font-style="italic" fill="#34348a">UBE2V1</text><path d="M630 371.5H650" stroke="#34348a" stroke-width="0.7"/><path d="M630 370.0v3M650 370.0v3" stroke="#34348a" stroke-width="0.6"/><rect x="630" y="369.8" width="2.5" height="3.4" fill="#34348a"/><text x="628.5" y="378.4" text-anchor="end" font-size="5.0" font-style="italic" fill="#34348a">UBE2V1</text><path d="M630 376.6H650" stroke="#34348a" stroke-width="0.7"/><path d="M630 375.1v3M650 375.1v3" stroke="#34348a" stroke-width="0.6"/><rect x="630" y="374.9" width="2.5" height="3.4" fill="#34348a"/><text x="628.5" y="383.3" text-anchor="end" font-size="5.0" font-style="italic" fill="#34348a">UBE2V1</text><path d="M630 381.5H650" stroke="#34348a" stroke-width="0.7"/><path d="M630 380.0v3M650 380.0v3" stroke="#34348a" stroke-width="0.6"/><rect x="630" y="379.8" width="2.5" height="3.4" fill="#34348a"/><text x="628.5" y="387.1" text-anchor="end" font-size="5.0" font-style="italic" fill="#34348a">TMEM189-UBE2V1</text><path d="M630 385.3H668" stroke="#34348a" stroke-width="0.7"/><path d="M630 383.8v3M668 383.8v3" stroke="#34348a" stroke-width="0.6"/><rect x="630" y="383.6" width="2.5" height="3.4" fill="#34348a"/><rect x="650" y="383.6" width="3" height="3.4" fill="#34348a"/><rect x="655" y="383.6" width="2" height="3.4" fill="#34348a"/><rect x="660" y="383.6" width="2" height="3.4" fill="#34348a"/><text x="651.5" y="391.9" text-anchor="end" font-size="5.0" font-style="italic" fill="#34348a">TMEM189</text><path d="M652.5 390.1H668" stroke="#34348a" stroke-width="0.7"/><path d="M652.5 388.6v3M668 388.6v3" stroke="#34348a" stroke-width="0.6"/><rect x="652.5" y="388.4" width="2.5" height="3.4" fill="#34348a"/><rect x="656" y="388.4" width="2" height="3.4" fill="#34348a"/><rect x="660" y="388.4" width="1.5" height="3.4" fill="#34348a"/><text x="651.5" y="396.5" text-anchor="end" font-size="5.0" font-style="italic" fill="#34348a">TMEM189</text><path d="M652.5 394.7H668" stroke="#34348a" stroke-width="0.7"/><path d="M652.5 393.2v3M668 393.2v3" stroke="#34348a" stroke-width="0.6"/><rect x="652.5" y="393.0" width="2.5" height="3.4" fill="#34348a"/><rect x="656" y="393.0" width="2" height="3.4" fill="#34348a"/><rect x="660" y="393.0" width="1.5" height="3.4" fill="#34348a"/><text x="651.5" y="401.0" text-anchor="end" font-size="5.0" font-style="italic" fill="#34348a">TMEM189</text><path d="M652.5 399.2H668" stroke="#34348a" stroke-width="0.7"/><path d="M652.5 397.7v3M668 397.7v3" stroke="#34348a" stroke-width="0.6"/><rect x="652.5" y="397.5" width="2.5" height="3.4" fill="#34348a"/><rect x="656" y="397.5" width="2" height="3.4" fill="#34348a"/><rect x="660" y="397.5" width="1.5" height="3.4" fill="#34348a"/><text x="449.3" y="401.9" font-size="5.45" fill="#333">HapMap linkage disequilibrium - Phase II - from phased genotypes</text><text x="449.3" y="408.6" font-size="5.45" fill="#333">Linkage disequilibrium for the CEPH (CEU) from phased genotypes</text>
<clipPath id="hcTL"><path d="M48.5 206.4L105.4 149.5H267.1L324 206.4z"/></clipPath>
<g clip-path="url(#hcTL)"><g transform="matrix(0.25 0.25 0.25 -0.25 0 206.4)">
<path fill="#e2e6f4" d="M99 263h5v5h-5zM104 199h6v3h-6zM104 238h6v5h-6zM104 268h6v7h-6zM104 304h6v4h-6zM110 189h6v5h-6zM110 202h6v3h-6zM110 212h6v10h-6zM110 243h6v15h-6zM110 282h6v15h-6zM110 313h6v6h-6zM110 330h6v6h-6zM110 344h6v5h-6zM116 263h5v5h-5zM116 293h5v4h-5zM116 336h5v5h-5zM121 205h5v4h-5zM121 263h5v12h-5zM121 336h5v5h-5zM121 349h5v6h-5zM126 202h4v3h-4zM126 263h4v5h-4zM126 319h4v5h-4zM130 199h4v3h-4zM130 349h4v6h-4zM134 268h5v7h-5zM134 349h5v6h-5zM139 293h6v4h-6zM139 336h6v8h-6zM139 349h6v6h-6zM139 374h6v5h-6zM145 263h4v12h-4zM145 336h4v5h-4zM145 379h4v5h-4zM149 199h4v3h-4zM149 258h4v5h-4zM149 282h4v6h-4zM149 336h4v5h-4zM153 199h3v3h-3zM153 288h3v5h-3zM153 336h3v5h-3zM153 379h3v5h-3zM153 388h3v3h-3zM156 199h5v3h-5zM156 319h5v5h-5zM161 263h6v5h-6zM161 288h6v9h-6zM161 374h6v5h-6zM167 258h4v5h-4zM167 341h4v3h-4zM167 374h4v5h-4zM171 202h5v3h-5zM171 263h5v12h-5zM171 300h5v4h-5zM171 336h5v5h-5zM171 379h5v5h-5zM171 403h5v5h-5zM176 199h7v3h-7zM176 263h7v5h-7zM176 293h7v4h-7zM176 360h7v6h-7zM176 379h7v5h-7zM176 388h7v3h-7zM176 397h7v6h-7zM183 199h6v3h-6zM183 263h6v5h-6zM183 293h6v4h-6zM183 304h6v4h-6zM183 349h6v6h-6zM189 293h5v4h-5zM189 341h5v3h-5zM189 374h5v5h-5zM189 388h5v3h-5zM194 388h5v3h-5zM194 403h5v5h-5zM199 288h3v20h-3zM199 319h3v5h-3zM199 336h3v5h-3zM199 344h3v5h-3zM199 370h3v4h-3zM199 384h3v4h-3zM199 397h3v6h-3zM199 414h3v7h-3zM199 426h3v4h-3zM202 293h3v4h-3zM202 336h3v5h-3zM202 379h3v5h-3zM202 408h3v3h-3zM205 263h4v5h-4zM205 341h4v3h-4zM205 426h4v4h-4zM209 268h3v7h-3zM209 308h3v5h-3zM209 341h3v3h-3zM209 397h3v6h-3zM212 336h4v5h-4zM212 349h4v6h-4zM212 360h4v6h-4zM212 370h4v9h-4zM212 408h4v3h-4zM216 263h3v5h-3zM216 293h3v4h-3zM216 336h3v8h-3zM216 379h3v5h-3zM216 408h3v3h-3zM216 417h3v4h-3zM219 336h3v5h-3zM219 349h3v6h-3zM222 336h5v8h-5zM222 349h5v6h-5zM227 341h5v3h-5zM227 379h5v5h-5zM227 388h5v3h-5zM232 341h6v3h-6zM232 349h6v6h-6zM232 374h6v5h-6zM232 388h6v3h-6zM232 426h6v4h-6zM238 388h5v3h-5zM238 408h5v3h-5zM243 341h5v3h-5zM243 374h5v5h-5zM243 464h5v4h-5zM248 275h5v7h-5zM248 336h5v8h-5zM248 349h5v6h-5zM248 388h5v3h-5zM248 408h5v3h-5zM248 464h5v4h-5zM253 282h5v6h-5zM253 293h5v4h-5zM253 336h5v8h-5zM253 379h5v5h-5zM253 388h5v3h-5zM253 403h5v5h-5zM253 426h5v4h-5zM253 464h5v4h-5zM253 480h5v5h-5zM258 336h5v5h-5zM258 379h5v5h-5zM258 388h5v3h-5zM258 408h5v3h-5zM263 263h5v5h-5zM263 282h5v18h-5zM263 313h5v6h-5zM263 384h5v4h-5zM263 397h5v6h-5zM263 414h5v3h-5zM263 435h5v4h-5zM263 448h5v9h-5zM263 468h5v12h-5zM263 485h5v10h-5zM263 499h5v5h-5zM268 282h7v6h-7zM268 297h7v3h-7zM268 304h7v4h-7zM268 324h7v6h-7zM268 408h7v3h-7zM268 426h7v4h-7zM268 448h7v4h-7zM268 460h7v4h-7zM268 473h7v7h-7zM268 485h7v5h-7zM275 293h7v4h-7zM275 336h7v5h-7zM275 435h7v4h-7zM275 464h7v4h-7zM275 504h7v6h-7zM282 336h6v5h-6zM282 374h6v5h-6zM282 388h6v3h-6zM282 408h6v3h-6zM282 426h6v4h-6zM282 464h6v4h-6zM288 341h5v3h-5zM288 374h5v10h-5zM288 403h5v5h-5zM288 452h5v5h-5zM288 464h5v4h-5zM293 388h4v3h-4zM293 403h4v11h-4zM293 417h4v4h-4zM293 430h4v5h-4zM293 448h4v4h-4zM293 457h4v11h-4zM293 480h4v5h-4zM293 504h4v11h-4zM297 408h3v3h-3zM297 414h3v3h-3zM297 435h3v4h-3zM297 485h3v5h-3zM297 510h3v5h-3zM300 510h4v5h-4zM304 408h4v3h-4zM313 408h6v3h-6zM313 421h6v5h-6zM313 510h6v5h-6zM319 341h5v3h-5zM319 452h5v8h-5zM324 403h6v8h-6zM324 421h6v5h-6zM324 464h6v4h-6zM330 403h6v5h-6zM330 510h6v5h-6zM336 391h5v6h-5zM336 403h5v5h-5zM336 421h5v5h-5zM336 435h5v4h-5zM336 444h5v8h-5zM336 457h5v3h-5zM336 468h5v12h-5zM336 485h5v25h-5zM336 525h5v3h-5zM341 408h3v3h-3zM341 426h3v4h-3zM341 448h3v9h-3zM341 473h3v7h-3zM341 490h3v5h-3zM341 499h3v5h-3zM341 542h3v6h-3zM344 411h5v3h-5zM344 421h5v5h-5zM344 430h5v5h-5zM344 473h5v7h-5zM344 570h5v6h-5zM349 349h6v6h-6zM349 360h6v6h-6zM349 403h6v8h-6zM349 435h6v4h-6zM349 444h6v8h-6zM349 460h6v4h-6zM349 473h6v7h-6zM349 495h6v9h-6zM349 510h6v5h-6zM349 533h6v9h-6zM349 546h6v6h-6zM349 561h6v5h-6zM349 570h6v12h-6zM355 510h5v5h-5zM360 408h6v3h-6zM360 464h6v4h-6zM366 403h4v5h-4zM366 561h4v5h-4zM370 464h4v4h-4zM370 490h4v5h-4zM370 533h4v5h-4zM374 430h5v5h-5zM374 457h5v3h-5zM374 464h5v4h-5zM374 473h5v17h-5zM374 510h5v10h-5zM374 525h5v3h-5zM374 548h5v4h-5zM374 557h5v13h-5zM374 582h5v16h-5zM379 430h5v22h-5zM379 457h5v3h-5zM379 464h5v16h-5zM379 485h5v5h-5zM379 499h5v16h-5zM379 520h5v13h-5zM379 542h5v6h-5zM379 561h5v9h-5zM379 601h5v5h-5zM384 464h4v4h-4zM384 510h4v5h-4zM388 452h3v5h-3zM388 464h3v4h-3zM388 490h3v5h-3zM388 510h3v5h-3zM388 548h3v4h-3zM388 576h3v6h-3zM388 601h3v11h-3zM391 510h6v5h-6zM397 464h6v4h-6zM403 411h5v3h-5zM403 430h5v5h-5zM403 439h5v9h-5zM403 457h5v3h-5zM403 464h5v9h-5zM403 499h5v5h-5zM403 525h5v3h-5zM403 542h5v4h-5zM403 557h5v4h-5zM403 566h5v10h-5zM403 598h5v14h-5zM403 637h5v5h-5zM408 411h3v3h-3zM408 430h3v9h-3zM408 448h3v4h-3zM408 457h3v7h-3zM408 499h3v16h-3zM408 520h3v8h-3zM408 548h3v4h-3zM408 557h3v9h-3zM408 570h3v12h-3zM408 601h3v5h-3zM408 632h3v5h-3zM414 510h3v5h-3zM414 632h3v5h-3zM417 510h4v5h-4zM417 598h4v3h-4zM426 468h4v5h-4zM426 601h4v5h-4zM426 632h4v5h-4zM435 510h4v5h-4zM435 528h4v5h-4zM435 557h4v4h-4zM444 510h4v5h-4zM452 464h5v4h-5zM452 510h5v5h-5zM452 598h5v3h-5zM457 464h3v4h-3zM460 464h4v4h-4zM460 548h4v4h-4zM464 490h4v9h-4zM464 504h4v6h-4zM464 525h4v8h-4zM464 546h4v2h-4zM464 561h4v5h-4zM464 570h4v6h-4zM464 598h4v3h-4zM464 606h4v6h-4zM464 621h4v11h-4zM464 637h4v5h-4zM468 612h5v5h-5zM480 510h5v5h-5zM495 601h4v5h-4zM510 533h5v5h-5zM510 566h5v10h-5zM510 612h5v13h-5zM510 642h5v5h-5zM515 621h5v4h-5zM525 566h3v4h-3zM528 576h5v6h-5zM542 642h4v5h-4zM546 576h2v6h-2zM601 632h5v5h-5z"/>
<path fill="#bcc3e3" d="M97 263h2v12h-2zM97 293h2v4h-2zM99 199h5v3h-5zM104 293h6v4h-6zM104 336h6v5h-6zM110 205h6v4h-6zM110 222h6v21h-6zM110 263h6v5h-6zM110 275h6v7h-6zM110 297h6v3h-6zM110 304h6v9h-6zM110 319h6v11h-6zM110 336h6v8h-6zM116 199h5v3h-5zM116 268h5v7h-5zM116 349h5v6h-5zM121 293h5v4h-5zM126 199h4v3h-4zM126 268h4v7h-4zM126 336h4v8h-4zM126 349h4v6h-4zM130 263h4v5h-4zM130 293h4v4h-4zM130 336h4v8h-4zM134 199h5v3h-5zM134 263h5v5h-5zM134 293h5v4h-5zM134 336h5v8h-5zM139 199h6v3h-6zM139 263h6v5h-6zM145 199h4v3h-4zM145 349h4v6h-4zM145 374h4v5h-4zM149 268h4v7h-4zM149 341h4v3h-4zM149 374h4v10h-4zM153 263h3v5h-3zM153 293h3v4h-3zM153 349h3v6h-3zM153 374h3v5h-3zM156 263h5v12h-5zM156 336h5v8h-5zM156 349h5v6h-5zM156 374h5v10h-5zM156 388h5v3h-5zM161 183h6v6h-6zM161 199h6v3h-6zM161 268h6v7h-6zM161 336h6v8h-6zM161 349h6v6h-6zM161 379h6v5h-6zM161 388h6v3h-6zM167 199h4v3h-4zM167 263h4v12h-4zM167 293h4v4h-4zM167 336h4v5h-4zM167 349h4v6h-4zM167 360h4v6h-4zM171 199h5v3h-5zM171 293h5v4h-5zM171 341h5v3h-5zM171 349h5v6h-5zM171 388h5v3h-5zM176 268h7v7h-7zM176 336h7v8h-7zM176 349h7v6h-7zM176 374h7v5h-7zM176 403h7v8h-7zM183 336h6v8h-6zM183 379h6v5h-6zM183 388h6v3h-6zM183 403h6v8h-6zM189 268h5v7h-5zM189 336h5v5h-5zM189 349h5v6h-5zM189 379h5v5h-5zM189 408h5v3h-5zM194 293h5v4h-5zM194 336h5v5h-5zM194 349h5v6h-5zM194 379h5v5h-5zM199 253h3v10h-3zM199 308h3v11h-3zM199 324h3v12h-3zM199 341h3v3h-3zM199 349h3v6h-3zM199 360h3v10h-3zM199 374h3v10h-3zM199 403h3v11h-3zM199 421h3v5h-3zM199 430h3v5h-3zM202 263h3v5h-3zM202 341h3v3h-3zM202 349h3v6h-3zM202 374h3v5h-3zM202 388h3v3h-3zM202 403h3v5h-3zM205 268h4v7h-4zM205 336h4v5h-4zM205 349h4v6h-4zM205 374h4v10h-4zM205 388h4v3h-4zM205 403h4v8h-4zM209 293h3v4h-3zM209 374h3v10h-3zM209 388h3v3h-3zM209 403h3v8h-3zM212 293h4v4h-4zM212 341h4v3h-4zM212 403h4v5h-4zM216 349h3v6h-3zM216 374h3v5h-3zM216 388h3v3h-3zM216 403h3v5h-3zM219 374h3v10h-3zM219 388h3v3h-3zM219 403h3v8h-3zM222 374h5v10h-5zM222 388h5v3h-5zM222 403h5v8h-5zM227 336h5v5h-5zM227 349h5v6h-5zM227 374h5v5h-5zM227 403h5v8h-5zM232 263h6v5h-6zM232 293h6v4h-6zM232 336h6v5h-6zM232 403h6v8h-6zM238 336h5v8h-5zM238 349h5v6h-5zM238 374h5v14h-5zM238 403h5v5h-5zM238 464h5v4h-5zM243 336h5v5h-5zM243 349h5v6h-5zM243 379h5v5h-5zM243 403h5v8h-5zM248 374h5v10h-5zM248 403h5v5h-5zM253 374h5v5h-5zM253 408h5v3h-5zM258 293h5v4h-5zM258 341h5v3h-5zM258 374h5v5h-5zM258 464h5v4h-5zM263 308h5v5h-5zM263 360h5v10h-5zM263 391h5v6h-5zM263 403h5v11h-5zM263 417h5v4h-5zM263 426h5v9h-5zM263 439h5v9h-5zM263 457h5v3h-5zM263 464h5v4h-5zM263 495h5v4h-5zM268 268h7v7h-7zM268 288h7v5h-7zM268 397h7v11h-7zM268 411h7v10h-7zM268 430h7v18h-7zM268 452h7v8h-7zM268 464h7v4h-7zM268 480h7v5h-7zM268 499h7v5h-7zM275 349h7v6h-7zM275 403h7v5h-7zM275 510h7v5h-7zM282 341h6v3h-6zM282 349h6v6h-6zM282 379h6v5h-6zM282 403h6v5h-6zM282 510h6v5h-6zM288 293h5v4h-5zM288 510h5v5h-5zM293 313h4v6h-4zM293 397h4v6h-4zM293 414h4v3h-4zM293 421h4v5h-4zM293 435h4v13h-4zM293 452h4v5h-4zM293 485h4v19h-4zM293 515h4v13h-4zM297 403h3v5h-3zM297 464h3v4h-3zM300 403h4v8h-4zM304 403h4v5h-4zM304 510h4v5h-4zM308 403h5v8h-5zM308 464h5v4h-5zM308 510h5v5h-5zM313 403h6v5h-6zM313 464h6v4h-6zM319 408h5v3h-5zM319 464h5v4h-5zM319 510h5v5h-5zM324 510h6v5h-6zM330 408h6v3h-6zM330 426h6v4h-6zM330 464h6v4h-6zM336 397h5v6h-5zM336 408h5v13h-5zM336 426h5v4h-5zM336 439h5v5h-5zM336 480h5v5h-5zM336 510h5v10h-5zM336 528h5v18h-5zM336 548h5v9h-5zM336 561h5v15h-5zM341 366h3v4h-3zM341 384h3v4h-3zM341 397h3v6h-3zM341 411h3v15h-3zM341 439h3v9h-3zM341 457h3v7h-3zM341 468h3v5h-3zM341 480h3v5h-3zM341 495h3v4h-3zM341 504h3v11h-3zM341 520h3v8h-3zM341 538h3v4h-3zM341 548h3v18h-3zM341 570h3v6h-3zM344 464h5v4h-5zM344 510h5v5h-5zM349 366h6v4h-6zM349 397h6v6h-6zM349 411h6v10h-6zM349 426h6v4h-6zM349 439h6v5h-6zM349 452h6v5h-6zM349 468h6v5h-6zM349 480h6v15h-6zM349 504h6v6h-6zM349 515h6v18h-6zM349 542h6v4h-6zM349 552h6v9h-6zM349 566h6v4h-6zM349 582h6v5h-6zM355 403h5v8h-5zM355 460h5v8h-5zM366 408h4v3h-4zM370 510h4v5h-4zM374 435h5v22h-5zM374 460h5v4h-5zM374 468h5v5h-5zM374 490h5v14h-5zM374 520h5v5h-5zM374 533h5v15h-5zM374 552h5v5h-5zM374 570h5v12h-5zM374 598h5v8h-5zM379 403h5v8h-5zM379 414h5v3h-5zM379 460h5v4h-5zM379 480h5v5h-5zM379 495h5v4h-5zM379 533h5v9h-5zM379 552h5v5h-5zM379 570h5v31h-5zM379 606h5v6h-5zM384 388h4v3h-4zM384 403h4v8h-4zM388 411h3v3h-3zM388 417h3v4h-3zM388 430h3v5h-3zM388 439h3v5h-3zM388 448h3v4h-3zM388 457h3v7h-3zM388 468h3v22h-3zM388 495h3v15h-3zM388 515h3v27h-3zM388 552h3v24h-3zM388 582h3v16h-3zM388 612h3v13h-3zM391 464h6v4h-6zM391 548h6v4h-6zM391 612h6v5h-6zM397 495h6v4h-6zM397 510h6v5h-6zM403 403h5v5h-5zM403 448h5v9h-5zM403 460h5v4h-5zM403 473h5v26h-5zM403 504h5v21h-5zM403 528h5v14h-5zM403 546h5v2h-5zM403 552h5v5h-5zM403 561h5v5h-5zM403 576h5v17h-5zM403 612h5v9h-5zM403 625h5v12h-5zM408 408h3v3h-3zM408 414h3v3h-3zM408 439h3v5h-3zM408 452h3v5h-3zM408 464h3v9h-3zM408 480h3v19h-3zM408 515h3v5h-3zM408 528h3v10h-3zM408 542h3v6h-3zM408 552h3v5h-3zM408 566h3v4h-3zM408 582h3v16h-3zM408 606h3v26h-3zM408 642h3v5h-3zM417 430h4v22h-4zM417 464h4v4h-4zM421 430h5v22h-5zM421 464h5v4h-5zM421 510h5v5h-5zM421 528h5v5h-5zM426 430h4v14h-4zM426 448h4v4h-4zM426 464h4v4h-4zM426 510h4v5h-4zM430 448h5v4h-5zM435 464h4v4h-4zM439 448h5v4h-5zM439 464h5v4h-5zM439 510h5v5h-5zM448 464h4v4h-4zM457 510h3v5h-3zM460 510h4v5h-4zM464 485h4v5h-4zM464 499h4v5h-4zM464 515h4v10h-4zM464 533h4v9h-4zM464 548h4v13h-4zM464 576h4v22h-4zM464 612h4v9h-4zM464 642h4v6h-4zM468 510h5v5h-5zM473 510h7v5h-7zM480 557h5v4h-5zM495 598h4v3h-4zM510 515h5v5h-5zM510 561h5v5h-5zM510 576h5v36h-5zM510 625h5v17h-5zM542 632h4v5h-4zM546 582h2v5h-2zM546 642h2v5h-2zM612 625h5v23h-5zM617 625h4v23h-4zM621 625h4v7h-4zM621 637h4v10h-4zM625 625h7v23h-7zM632 632h5v16h-5zM637 637h5v11h-5zM642 642h5v6h-5zM647 647h1v1h-1z"/>
<path fill="#f9cdca" d="M99 176h5v7h-5zM99 209h5v3h-5zM99 253h5v5h-5zM104 216h6v3h-6zM126 216h4v3h-4zM126 355h4v5h-4zM130 355h4v5h-4zM134 370h5v4h-5zM139 370h6v4h-6zM145 183h4v6h-4zM145 227h4v5h-4zM149 176h4v7h-4zM149 288h4v5h-4zM153 176h3v7h-3zM153 341h3v3h-3zM156 227h5v5h-5zM161 212h6v4h-6zM161 397h6v6h-6zM167 219h4v3h-4zM167 282h4v6h-4zM167 366h4v4h-4zM171 176h5v7h-5zM171 282h5v6h-5zM171 330h5v6h-5zM183 209h6v3h-6zM183 411h6v3h-6zM189 219h5v3h-5zM189 243h5v5h-5zM189 253h5v5h-5zM189 324h5v6h-5zM189 366h5v4h-5zM189 414h5v3h-5zM202 227h3v5h-3zM205 355h4v5h-4zM209 212h3v4h-3zM209 219h3v3h-3zM209 243h3v10h-3zM209 288h3v5h-3zM212 384h4v4h-4zM216 300h3v4h-3zM227 227h5v5h-5zM227 258h5v5h-5zM227 282h5v6h-5zM227 297h5v7h-5zM227 360h5v6h-5zM232 330h6v6h-6zM238 324h5v6h-5zM243 468h5v5h-5zM258 275h5v7h-5zM258 485h5v5h-5zM275 282h7v6h-7zM275 324h7v6h-7zM275 439h7v5h-7zM275 457h7v3h-7zM282 293h6v11h-6zM282 308h6v22h-6zM282 344h6v5h-6zM282 355h6v11h-6zM282 370h6v4h-6zM282 391h6v6h-6zM282 444h6v8h-6zM282 480h6v5h-6zM288 297h5v27h-5zM288 330h5v11h-5zM288 344h5v30h-5zM288 384h5v7h-5zM297 460h3v4h-3zM304 313h4v6h-4zM304 344h4v5h-4zM304 370h4v4h-4zM304 435h4v4h-4zM304 452h4v5h-4zM313 435h6v4h-6zM313 457h6v3h-6zM313 499h6v5h-6zM319 480h5v5h-5zM319 525h5v3h-5zM319 533h5v5h-5zM319 552h5v5h-5zM324 525h6v3h-6zM355 566h5v4h-5zM360 582h6v5h-6zM370 414h4v3h-4zM370 485h4v5h-4zM370 504h4v6h-4zM370 520h4v5h-4zM370 528h4v5h-4zM384 460h4v4h-4zM397 542h6v4h-6zM397 557h6v4h-6zM411 414h3v3h-3zM414 421h3v9h-3zM414 598h3v3h-3zM421 593h5v8h-5zM426 538h4v4h-4zM430 570h5v6h-5zM439 637h5v5h-5zM444 538h4v4h-4zM444 546h4v2h-4zM444 612h4v5h-4zM448 546h4v2h-4zM452 468h5v5h-5zM452 557h5v4h-5zM452 566h5v4h-5zM452 617h5v4h-5zM452 637h5v10h-5zM460 642h4v5h-4zM468 642h5v5h-5zM485 520h5v5h-5zM485 621h5v4h-5zM495 546h4v2h-4zM499 587h5v6h-5zM504 542h6v4h-6zM504 548h6v4h-6zM520 647h5v1h-5zM525 533h3v5h-3zM548 637h4v5h-4zM552 566h5v4h-5zM557 576h4v6h-4zM561 566h5v4h-5zM561 606h5v6h-5zM566 576h4v6h-4zM566 587h4v14h-4zM566 612h4v9h-4zM566 647h4v1h-4zM570 598h6v3h-6zM570 606h6v6h-6zM570 617h6v8h-6zM576 601h6v5h-6zM582 601h5v5h-5zM587 601h6v5h-6zM593 601h5v5h-5zM598 632h3v5h-3zM601 612h5v5h-5z"/>
<path fill="#f29590" d="M97 97h2v2h-2zM97 176h2v7h-2zM99 156h5v11h-5zM104 167h6v4h-6zM116 171h5v5h-5zM121 167h5v4h-5zM126 145h4v4h-4zM126 171h4v5h-4zM130 167h4v4h-4zM130 202h4v3h-4zM134 156h5v5h-5zM145 145h4v4h-4zM149 238h4v5h-4zM153 153h3v8h-3zM156 167h5v4h-5zM161 161h6v6h-6zM171 171h5v5h-5zM176 176h7v7h-7zM176 219h7v3h-7zM183 183h6v6h-6zM183 216h6v6h-6zM183 258h6v5h-6zM189 189h5v5h-5zM189 209h5v3h-5zM189 227h5v5h-5zM194 205h5v4h-5zM194 222h5v5h-5zM194 243h5v5h-5zM194 253h5v5h-5zM199 263h3v5h-3zM202 205h3v4h-3zM202 219h3v3h-3zM205 205h4v4h-4zM205 243h4v15h-4zM209 209h3v3h-3zM212 219h4v3h-4zM212 232h4v6h-4zM212 397h4v6h-4zM216 219h3v3h-3zM216 232h3v6h-3zM219 219h3v3h-3zM219 238h3v5h-3zM219 253h3v5h-3zM222 232h5v6h-5zM222 243h5v5h-5zM222 263h5v5h-5zM232 243h6v5h-6zM232 268h6v7h-6zM238 248h5v10h-5zM243 253h5v5h-5zM243 300h5v4h-5zM248 253h5v5h-5zM248 263h5v5h-5zM263 324h5v6h-5zM275 275h7v7h-7zM275 304h7v4h-7zM293 341h4v3h-4zM297 297h3v3h-3zM297 319h3v5h-3zM297 384h3v4h-3zM300 308h4v5h-4zM300 341h4v3h-4zM304 304h4v4h-4zM308 391h5v6h-5zM308 426h5v4h-5zM313 324h6v6h-6zM313 349h6v6h-6zM319 344h5v5h-5zM319 355h5v5h-5zM324 370h6v4h-6zM324 468h6v5h-6zM330 360h6v14h-6zM336 355h5v5h-5zM344 360h5v6h-5zM355 370h5v4h-5zM366 464h4v4h-4zM370 397h4v6h-4zM374 426h5v4h-5zM384 411h4v3h-4zM384 417h4v4h-4zM391 421h6v5h-6zM397 397h6v6h-6zM397 411h6v3h-6zM397 421h6v9h-6zM403 417h5v4h-5zM411 411h3v3h-3zM411 421h3v5h-3zM411 538h3v4h-3zM414 414h3v3h-3zM417 570h4v6h-4zM421 426h5v4h-5zM421 612h5v5h-5zM426 612h4v5h-4zM435 444h4v4h-4zM439 566h5v4h-5zM444 452h4v5h-4zM448 448h4v16h-4zM448 473h4v7h-4zM448 528h4v5h-4zM452 460h5v4h-5zM457 460h3v4h-3zM457 473h3v7h-3zM468 468h5v5h-5zM473 473h7v7h-7zM480 480h5v5h-5zM480 490h5v5h-5zM485 485h5v5h-5zM485 525h5v3h-5zM490 499h5v5h-5zM490 520h5v5h-5zM495 499h4v5h-4zM499 499h5v5h-5zM499 520h5v5h-5zM499 528h5v5h-5zM504 566h6v4h-6zM510 542h5v4h-5zM515 538h5v4h-5zM515 548h5v4h-5zM515 557h5v4h-5zM520 542h5v4h-5zM520 552h5v5h-5zM525 525h3v3h-3zM528 528h5v5h-5zM528 538h5v4h-5zM528 557h5v4h-5zM528 637h5v5h-5zM533 546h5v6h-5zM533 557h5v4h-5zM538 548h4v9h-4zM548 548h4v4h-4zM552 557h5v4h-5zM557 561h4v5h-4zM561 632h5v5h-5zM566 570h4v6h-4zM566 601h4v5h-4zM570 570h6v6h-6zM570 601h6v5h-6zM576 576h6v6h-6zM576 593h6v5h-6zM576 617h6v4h-6zM582 582h5v11h-5zM582 621h5v4h-5zM587 621h6v4h-6zM593 621h5v4h-5zM598 598h3v3h-3zM598 606h3v11h-3zM601 601h5v5h-5zM606 612h6v5h-6z"/>
<path fill="#e84a4e" d="M97 99h2v77h-2zM104 176h6v7h-6zM110 176h6v7h-6zM116 176h5v7h-5zM121 176h5v7h-5zM126 176h4v7h-4zM130 176h4v7h-4zM134 176h5v7h-5zM139 176h6v7h-6zM145 176h4v7h-4zM156 176h5v7h-5zM161 176h6v7h-6zM167 176h4v7h-4zM183 189h6v5h-6zM183 227h6v5h-6zM189 194h5v15h-5zM189 212h5v7h-5zM189 222h5v5h-5zM189 232h5v11h-5zM189 248h5v5h-5zM189 258h5v10h-5zM194 209h5v3h-5zM194 227h5v5h-5zM199 209h3v3h-3zM199 227h3v5h-3zM202 209h3v3h-3zM205 209h4v3h-4zM205 227h4v5h-4zM209 216h3v3h-3zM209 222h3v5h-3zM209 232h3v11h-3zM209 253h3v15h-3zM212 227h4v5h-4zM216 227h3v5h-3zM219 227h3v5h-3zM222 227h5v5h-5zM227 232h5v26h-5zM227 263h5v12h-5zM263 275h5v7h-5zM263 304h5v4h-5zM268 275h7v7h-7zM275 297h7v7h-7zM275 308h7v16h-7zM275 330h7v6h-7zM275 341h7v8h-7zM275 355h7v42h-7zM293 304h4v4h-4zM297 304h3v4h-3zM300 304h4v4h-4zM304 308h4v5h-4zM304 319h4v25h-4zM304 349h4v21h-4zM304 374h4v23h-4zM370 408h4v3h-4zM374 408h5v3h-5zM374 414h5v3h-5zM384 414h4v3h-4zM388 408h3v3h-3zM388 414h3v3h-3zM391 408h6v3h-6zM391 414h6v3h-6zM397 408h6v3h-6zM397 414h6v3h-6zM403 408h5v3h-5zM403 414h5v3h-5zM408 417h3v13h-3zM414 417h3v4h-3zM444 468h4v5h-4zM444 485h4v5h-4zM448 468h4v5h-4zM448 485h4v5h-4zM452 485h5v5h-5zM457 468h3v5h-3zM457 485h3v5h-3zM460 468h4v5h-4zM460 485h4v5h-4zM464 468h4v5h-4zM468 473h5v12h-5zM473 485h7v5h-7zM480 485h5v5h-5zM480 525h5v3h-5zM485 490h5v30h-5zM485 528h5v5h-5zM490 525h5v3h-5zM495 525h4v3h-4zM499 525h5v3h-5zM504 525h6v3h-6zM510 525h5v3h-5zM515 525h5v3h-5zM520 525h5v3h-5zM525 528h3v5h-3zM525 538h3v23h-3zM557 566h4v4h-4zM566 582h4v5h-4zM566 606h4v6h-4zM566 621h4v4h-4zM570 576h6v22h-6zM570 612h6v5h-6zM598 601h3v5h-3zM601 606h5v6h-5zM601 617h5v8h-5z"/>
<path fill="#dc1f27" d="M99 99h5v57h-5zM99 167h5v9h-5zM104 104h6v63h-6zM104 171h6v5h-6zM110 110h6v66h-6zM116 116h5v55h-5zM121 121h5v46h-5zM121 171h5v5h-5zM126 126h4v19h-4zM126 149h4v22h-4zM130 130h4v37h-4zM130 171h4v5h-4zM134 134h5v22h-5zM134 161h5v15h-5zM139 139h6v37h-6zM145 149h4v27h-4zM149 149h4v27h-4zM153 161h3v15h-3zM156 156h5v11h-5zM156 171h5v5h-5zM161 167h6v9h-6zM167 167h4v9h-4zM183 194h6v5h-6zM183 202h6v7h-6zM183 212h6v4h-6zM183 222h6v5h-6zM183 232h6v26h-6zM183 268h6v7h-6zM194 194h5v11h-5zM194 212h5v10h-5zM194 232h5v11h-5zM194 248h5v5h-5zM194 258h5v17h-5zM199 199h3v10h-3zM199 212h3v15h-3zM199 232h3v21h-3zM199 268h3v7h-3zM202 202h3v3h-3zM202 212h3v7h-3zM202 222h3v5h-3zM202 232h3v31h-3zM202 268h3v7h-3zM205 212h4v15h-4zM205 232h4v11h-4zM205 258h4v5h-4zM212 212h4v7h-4zM212 222h4v5h-4zM212 238h4v37h-4zM216 216h3v3h-3zM216 222h3v5h-3zM216 238h3v25h-3zM216 268h3v7h-3zM219 222h3v5h-3zM219 232h3v6h-3zM219 243h3v10h-3zM219 258h3v17h-3zM222 222h5v5h-5zM222 238h5v5h-5zM222 248h5v15h-5zM222 268h5v7h-5zM232 232h6v11h-6zM232 248h6v15h-6zM238 238h5v10h-5zM238 258h5v17h-5zM243 243h5v10h-5zM243 258h5v17h-5zM248 248h5v5h-5zM248 258h5v5h-5zM248 268h5v7h-5zM253 253h5v22h-5zM258 258h5v17h-5zM263 268h5v7h-5zM263 300h5v4h-5zM263 319h5v5h-5zM263 330h5v30h-5zM263 370h5v14h-5zM263 388h5v3h-5zM268 293h7v4h-7zM268 300h7v4h-7zM268 308h7v16h-7zM268 330h7v67h-7zM293 293h4v11h-4zM293 308h4v5h-4zM293 319h4v22h-4zM293 344h4v44h-4zM293 391h4v6h-4zM297 300h3v4h-3zM297 308h3v11h-3zM297 324h3v60h-3zM297 388h3v9h-3zM300 300h4v4h-4zM300 313h4v28h-4zM300 344h4v53h-4zM308 308h5v83h-5zM313 313h6v11h-6zM313 330h6v19h-6zM313 355h6v42h-6zM319 319h5v22h-5zM319 349h5v6h-5zM319 360h5v37h-5zM324 324h6v46h-6zM324 374h6v23h-6zM330 330h6v30h-6zM330 374h6v23h-6zM336 336h5v19h-5zM336 360h5v31h-5zM341 341h3v25h-3zM341 370h3v14h-3zM341 388h3v9h-3zM344 344h5v16h-5zM344 366h5v31h-5zM349 355h6v5h-6zM349 370h6v27h-6zM355 355h5v15h-5zM355 374h5v23h-5zM360 360h6v37h-6zM366 366h4v31h-4zM370 370h4v27h-4zM370 403h4v5h-4zM370 411h4v3h-4zM370 417h4v13h-4zM374 374h5v34h-5zM374 411h5v3h-5zM374 417h5v9h-5zM379 379h5v24h-5zM379 411h5v3h-5zM379 417h5v13h-5zM384 384h4v4h-4zM384 391h4v12h-4zM384 421h4v9h-4zM388 388h3v20h-3zM388 421h3v9h-3zM391 391h6v17h-6zM391 411h6v3h-6zM391 417h6v4h-6zM391 426h6v4h-6zM397 403h6v5h-6zM397 417h6v4h-6zM403 421h5v9h-5zM411 417h3v4h-3zM411 426h3v4h-3zM417 417h4v13h-4zM421 421h5v5h-5zM426 426h4v4h-4zM430 430h5v18h-5zM435 435h4v9h-4zM439 439h5v9h-5zM444 444h4v8h-4zM444 457h4v11h-4zM444 473h4v12h-4zM448 480h4v5h-4zM452 452h5v8h-5zM452 473h5v12h-5zM457 457h3v3h-3zM457 480h3v5h-3zM460 460h4v4h-4zM460 473h4v12h-4zM464 464h4v4h-4zM464 473h4v12h-4zM473 480h7v5h-7zM480 495h5v15h-5zM480 515h5v10h-5zM480 528h5v5h-5zM490 490h5v9h-5zM490 504h5v16h-5zM490 528h5v5h-5zM495 495h4v4h-4zM495 504h4v21h-4zM495 528h4v5h-4zM499 504h5v16h-5zM504 504h6v21h-6zM504 528h6v5h-6zM510 510h5v5h-5zM510 520h5v5h-5zM510 528h5v5h-5zM510 538h5v4h-5zM510 546h5v15h-5zM515 515h5v10h-5zM515 528h5v10h-5zM515 542h5v6h-5zM515 552h5v5h-5zM520 520h5v5h-5zM520 528h5v14h-5zM520 546h5v6h-5zM520 557h5v4h-5zM528 533h5v5h-5zM528 542h5v15h-5zM533 533h5v13h-5zM533 552h5v5h-5zM538 538h4v10h-4zM538 557h4v4h-4zM542 542h4v19h-4zM546 546h2v15h-2zM548 552h4v9h-4zM552 552h5v5h-5zM552 561h5v5h-5zM557 557h4v4h-4zM561 561h5v5h-5zM576 582h6v11h-6zM576 598h6v3h-6zM576 606h6v11h-6zM576 621h6v4h-6zM582 593h5v8h-5zM582 606h5v15h-5zM587 587h6v14h-6zM587 606h6v15h-6zM593 593h5v8h-5zM593 606h5v15h-5zM598 617h3v8h-3zM606 606h6v6h-6zM606 617h6v8h-6zM612 612h5v13h-5zM617 617h4v8h-4zM621 621h4v4h-4z"/>
<path stroke="#fff" stroke-width="1.6" opacity="0.75" fill="none" d="M99 99v232M99 99h-232M110 110v232M110 110h-232M153 153v232M153 153h-232M161 161v232M161 161h-232M167 167v232M167 167h-232M189 189v232M189 189h-232M194 194v232M194 194h-232M199 199v232M199 199h-232M222 222v232M222 222h-232M232 232v232M232 232h-232M258 258v232M258 258h-232M282 282v232M282 282h-232M288 288v232M288 288h-232M319 319v232M319 319h-232M324 324v232M324 324h-232M330 330v232M330 330h-232M349 349v232M349 349h-232M379 379v232M379 379h-232M388 388v232M388 388h-232M391 391v232M391 391h-232M403 403v232M403 403h-232M414 414v232M414 414h-232M468 468v232M468 468h-232M515 515v232M515 515h-232M533 533v232M533 533h-232M542 542v232M542 542h-232M557 557v232M557 557h-232M561 561v232M561 561h-232M566 566v232M566 566h-232M582 582v232M582 582h-232M587 587v232M587 587h-232M617 617v232M617 617h-232M637 637v232M637 637h-232M647 647v232M647 647h-232"/>
</g></g>
<clipPath id="hcTR"><path d="M391 206L425.5 171.5H631.0L665.5 206z"/></clipPath>
<g clip-path="url(#hcTR)"><g transform="matrix(0.25 0.25 0.25 -0.25 0 206)">
<path fill="#e2e6f4" d="M782 788h2v8h-2zM782 819h2v4h-2zM782 834h2v7h-2zM782 849h2v4h-2zM782 856h2v8h-2zM782 886h2v5h-2zM782 924h2v3h-2zM784 788h4v8h-4zM784 819h4v4h-4zM784 845h4v4h-4zM784 869h4v3h-4zM788 799h5v3h-5zM788 809h5v5h-5zM788 827h5v7h-5zM788 837h5v4h-5zM788 845h5v8h-5zM788 856h5v5h-5zM788 883h5v13h-5zM788 901h5v3h-5zM788 907h5v6h-5zM788 917h5v4h-5zM788 927h5v4h-5zM793 799h3v3h-3zM793 809h3v5h-3zM793 819h3v4h-3zM793 841h3v8h-3zM793 861h3v8h-3zM793 872h3v6h-3zM793 883h3v8h-3zM793 913h3v4h-3zM793 935h3v4h-3zM796 819h3v4h-3zM796 834h3v7h-3zM796 896h3v5h-3zM796 917h3v4h-3zM796 927h3v4h-3zM796 935h3v4h-3zM799 805h3v4h-3zM799 819h3v4h-3zM799 886h3v5h-3zM799 896h3v5h-3zM799 935h3v4h-3zM802 802h3v3h-3zM802 809h3v10h-3zM802 841h3v4h-3zM802 856h3v8h-3zM802 869h3v9h-3zM802 883h3v8h-3zM802 896h3v5h-3zM802 907h3v3h-3zM802 935h3v8h-3zM805 805h4v4h-4zM805 819h4v4h-4zM805 827h4v4h-4zM805 845h4v4h-4zM805 853h4v3h-4zM805 874h4v9h-4zM805 901h4v3h-4zM805 935h4v4h-4zM805 943h4v4h-4zM809 819h5v4h-5zM809 837h5v4h-5zM809 849h5v4h-5zM809 864h5v5h-5zM809 886h5v5h-5zM809 904h5v3h-5zM809 935h5v4h-5zM809 943h5v4h-5zM814 819h5v4h-5zM814 837h5v4h-5zM814 845h5v4h-5zM814 864h5v5h-5zM814 872h5v2h-5zM814 896h5v5h-5zM814 924h5v3h-5zM814 951h5v2h-5zM814 957h5v5h-5zM819 823h4v4h-4zM819 831h4v10h-4zM819 861h4v3h-4zM819 874h4v4h-4zM819 883h4v8h-4zM819 901h4v6h-4zM819 910h4v3h-4zM819 917h4v14h-4zM819 939h4v4h-4zM819 953h4v9h-4zM823 827h4v4h-4zM823 883h4v3h-4zM823 924h4v3h-4zM823 935h4v4h-4zM823 957h4v5h-4zM827 837h4v8h-4zM827 853h4v8h-4zM827 864h4v5h-4zM827 896h4v8h-4zM827 917h4v4h-4zM827 924h4v3h-4zM827 951h4v2h-4zM827 957h4v5h-4zM831 834h3v3h-3zM831 853h3v3h-3zM831 872h3v2h-3zM831 917h3v4h-3zM831 924h3v3h-3zM831 931h3v8h-3zM831 957h3v5h-3zM834 841h3v4h-3zM834 856h3v8h-3zM834 883h3v3h-3zM834 891h3v10h-3zM834 907h3v3h-3zM834 913h3v4h-3zM834 921h3v3h-3zM834 939h3v4h-3zM834 974h3v4h-3zM837 869h4v3h-4zM837 878h4v8h-4zM837 891h4v10h-4zM837 904h4v3h-4zM837 910h4v3h-4zM837 924h4v3h-4zM837 931h4v4h-4zM837 939h4v4h-4zM837 947h4v6h-4zM837 957h4v5h-4zM837 978h4v3h-4zM841 878h4v8h-4zM841 901h4v6h-4zM841 921h4v6h-4zM841 947h4v4h-4zM841 974h4v4h-4zM845 849h4v4h-4zM845 864h4v5h-4zM845 891h4v5h-4zM845 931h4v8h-4zM845 943h4v4h-4zM845 953h4v9h-4zM845 990h4v3h-4zM849 861h4v3h-4zM849 869h4v3h-4zM849 874h4v4h-4zM849 896h4v8h-4zM849 924h4v3h-4zM849 957h4v11h-4zM853 935h3v4h-3zM856 924h5v3h-5zM864 883h5v3h-5zM864 891h5v10h-5zM864 913h5v4h-5zM864 921h5v6h-5zM864 931h5v4h-5zM864 962h5v6h-5zM864 990h5v3h-5zM864 999h5v4h-5zM872 957h2v5h-2zM874 957h4v5h-4zM874 990h4v3h-4zM878 883h5v3h-5zM883 886h3v5h-3zM883 913h3v4h-3zM883 924h3v3h-3zM883 951h3v2h-3zM883 957h3v5h-3zM891 901h5v3h-5zM891 996h5v3h-5zM896 901h5v3h-5zM896 907h5v3h-5zM896 917h5v4h-5zM896 927h5v4h-5zM896 939h5v4h-5zM896 947h5v6h-5zM896 957h5v5h-5zM896 974h5v4h-5zM896 996h5v3h-5zM896 1024h5v14h-5zM896 1042h5v4h-5zM901 904h3v6h-3zM901 913h3v4h-3zM901 921h3v3h-3zM901 927h3v4h-3zM901 953h3v4h-3zM901 962h3v6h-3zM901 996h3v3h-3zM901 1038h3v8h-3zM904 1046h3v3h-3zM907 996h3v3h-3zM910 924h3v3h-3zM910 935h3v4h-3zM910 996h3v3h-3zM913 1057h4v3h-4zM917 924h4v3h-4zM917 957h4v5h-4zM921 931h3v8h-3zM921 957h3v5h-3zM921 974h3v4h-3zM921 985h3v5h-3zM921 1060h3v3h-3zM924 935h3v4h-3zM924 968h3v6h-3zM924 978h3v3h-3zM924 996h3v3h-3zM924 1034h3v4h-3zM924 1042h3v4h-3zM924 1053h3v4h-3zM924 1060h3v3h-3zM927 957h4v5h-4zM927 996h4v3h-4zM927 1070h4v3h-4zM931 1015h4v4h-4zM935 935h4v8h-4zM935 953h4v4h-4zM935 974h4v4h-4zM935 1015h4v4h-4zM935 1024h4v7h-4zM935 1038h4v4h-4zM935 1046h4v3h-4zM935 1057h4v6h-4zM935 1070h4v3h-4zM935 1080h4v3h-4zM939 996h4v3h-4zM939 1080h4v3h-4zM943 1063h4v3h-4zM943 1073h4v3h-4zM943 1080h4v3h-4zM947 1049h4v8h-4zM947 1080h4v3h-4zM951 1063h2v10h-2zM953 968h4v6h-4zM953 1053h4v4h-4zM953 1096h4v5h-4zM957 957h5v5h-5zM957 990h5v3h-5zM957 1003h5v5h-5zM957 1024h5v4h-5zM957 1057h5v6h-5zM957 1073h5v7h-5zM962 990h6v3h-6zM962 996h6v3h-6zM962 1049h6v4h-6zM962 1070h6v3h-6zM962 1076h6v4h-6zM968 1024h6v4h-6zM968 1057h6v3h-6zM968 1070h6v3h-6zM968 1080h6v3h-6zM968 1096h6v5h-6zM968 1109h6v5h-6zM974 1042h4v4h-4zM978 1024h3v4h-3zM978 1049h3v4h-3zM978 1057h3v3h-3zM978 1070h3v3h-3zM978 1096h3v5h-3zM981 996h4v3h-4zM981 1046h4v3h-4zM981 1073h4v3h-4zM981 1121h4v5h-4zM985 1063h5v3h-5zM985 1070h5v3h-5zM985 1080h5v3h-5zM985 1086h5v5h-5zM985 1130h5v2h-5zM990 1046h3v3h-3zM990 1073h3v3h-3zM990 1096h3v9h-3zM990 1109h3v5h-3zM990 1121h3v15h-3zM993 1109h3v5h-3zM993 1130h3v2h-3zM996 1038h3v4h-3zM996 1049h3v8h-3zM996 1066h3v14h-3zM996 1083h3v3h-3zM996 1091h3v5h-3zM996 1101h3v8h-3zM996 1117h3v4h-3zM996 1130h3v2h-3zM999 1049h4v4h-4zM999 1066h4v7h-4zM999 1076h4v7h-4zM999 1096h4v5h-4zM999 1136h4v5h-4zM1003 1042h5v4h-5zM1003 1073h5v3h-5zM1003 1080h5v3h-5zM1003 1096h5v13h-5zM1003 1130h5v6h-5zM1008 1046h4v3h-4zM1008 1060h4v3h-4zM1008 1066h4v4h-4zM1008 1080h4v11h-4zM1008 1096h4v5h-4zM1008 1117h4v4h-4zM1008 1141h4v3h-4zM1012 1057h3v3h-3zM1012 1076h3v7h-3zM1012 1105h3v4h-3zM1012 1114h3v7h-3zM1012 1130h3v6h-3zM1012 1144h3v4h-3zM1015 1053h4v7h-4zM1015 1070h4v3h-4zM1015 1080h4v6h-4zM1015 1109h4v5h-4zM1015 1117h4v4h-4zM1015 1130h4v2h-4zM1015 1141h4v7h-4zM1019 1080h5v3h-5zM1019 1096h5v5h-5zM1024 1042h4v4h-4zM1024 1076h4v7h-4zM1024 1096h4v5h-4zM1024 1117h4v9h-4zM1024 1132h4v4h-4zM1024 1141h4v5h-4zM1024 1168h4v3h-4zM1028 1042h3v4h-3zM1028 1057h3v3h-3zM1028 1126h3v10h-3zM1028 1144h3v2h-3zM1028 1171h3v3h-3zM1031 1046h3v3h-3zM1031 1053h3v4h-3zM1031 1070h3v6h-3zM1031 1096h3v5h-3zM1031 1117h3v4h-3zM1031 1132h3v12h-3zM1031 1146h3v2h-3zM1031 1174h3v4h-3zM1034 1060h4v6h-4zM1034 1070h4v3h-4zM1034 1080h4v3h-4zM1034 1121h4v20h-4zM1034 1178h4v5h-4zM1038 1049h4v4h-4zM1038 1066h4v7h-4zM1038 1136h4v5h-4zM1042 1042h4v4h-4zM1042 1053h4v4h-4zM1042 1060h4v3h-4zM1042 1070h4v3h-4zM1042 1080h4v3h-4zM1042 1114h4v3h-4zM1042 1121h4v5h-4zM1042 1141h4v3h-4zM1042 1171h4v3h-4zM1042 1183h4v5h-4zM1046 1114h3v7h-3zM1046 1132h3v4h-3zM1046 1141h3v3h-3zM1046 1171h3v7h-3zM1046 1188h3v4h-3zM1049 1049h4v4h-4zM1049 1073h4v3h-4zM1049 1080h4v3h-4zM1049 1091h4v5h-4zM1049 1141h4v3h-4zM1049 1183h4v9h-4zM1053 1070h4v3h-4zM1053 1080h4v3h-4zM1053 1086h4v5h-4zM1053 1130h4v2h-4zM1053 1136h4v8h-4zM1053 1163h4v5h-4zM1053 1174h4v4h-4zM1057 1070h3v6h-3zM1057 1080h3v3h-3zM1057 1105h3v4h-3zM1057 1117h3v9h-3zM1057 1130h3v6h-3zM1057 1141h3v5h-3zM1057 1152h3v5h-3zM1057 1171h3v7h-3zM1057 1183h3v5h-3zM1060 1076h3v4h-3zM1060 1121h3v5h-3zM1060 1132h3v4h-3zM1060 1144h3v2h-3zM1060 1171h3v7h-3zM1060 1183h3v5h-3zM1063 1066h3v7h-3zM1063 1117h3v4h-3zM1063 1126h3v4h-3zM1063 1132h3v14h-3zM1063 1188h3v4h-3zM1063 1204h3v3h-3zM1066 1096h4v5h-4zM1066 1121h4v5h-4zM1066 1136h4v5h-4zM1066 1171h4v3h-4zM1066 1188h4v4h-4zM1066 1207h4v5h-4zM1070 1073h3v13h-3zM1070 1101h3v4h-3zM1070 1109h3v8h-3zM1070 1121h3v9h-3zM1070 1136h3v5h-3zM1070 1144h3v4h-3zM1070 1152h3v16h-3zM1070 1171h3v7h-3zM1070 1199h3v5h-3zM1070 1212h3v5h-3zM1073 1083h3v3h-3zM1073 1096h3v5h-3zM1073 1109h3v5h-3zM1073 1117h3v4h-3zM1073 1130h3v6h-3zM1073 1141h3v3h-3zM1073 1174h3v4h-3zM1073 1188h3v4h-3zM1076 1126h4v4h-4zM1076 1141h4v3h-4zM1076 1171h4v3h-4zM1080 1080h3v3h-3zM1080 1101h3v4h-3zM1080 1109h3v5h-3zM1080 1121h3v5h-3zM1080 1130h3v6h-3zM1080 1146h3v6h-3zM1080 1168h3v6h-3zM1080 1178h3v14h-3zM1080 1199h3v5h-3zM1080 1222h3v7h-3zM1083 1114h3v3h-3zM1083 1126h3v18h-3zM1083 1157h3v6h-3zM1083 1171h3v3h-3zM1083 1178h3v5h-3zM1083 1188h3v4h-3zM1083 1212h3v5h-3zM1086 1117h5v13h-5zM1086 1132h5v4h-5zM1086 1178h5v5h-5zM1086 1188h5v4h-5zM1086 1212h5v5h-5zM1091 1096h5v5h-5zM1091 1121h5v11h-5zM1091 1141h5v5h-5zM1091 1148h5v4h-5zM1091 1171h5v3h-5zM1091 1183h5v5h-5zM1091 1192h5v3h-5zM1091 1204h5v3h-5zM1091 1212h5v5h-5zM1096 1101h5v16h-5zM1096 1121h5v5h-5zM1096 1130h5v14h-5zM1096 1148h5v9h-5zM1096 1163h5v8h-5zM1096 1183h5v5h-5zM1096 1192h5v3h-5zM1096 1199h5v5h-5zM1096 1207h5v5h-5zM1096 1217h5v16h-5zM1096 1238h5v4h-5zM1101 1121h4v9h-4zM1101 1141h4v3h-4zM1101 1178h4v5h-4zM1101 1188h4v4h-4zM1101 1204h4v8h-4zM1105 1105h4v4h-4zM1105 1121h4v9h-4zM1105 1132h4v4h-4zM1105 1192h4v3h-4zM1105 1217h4v5h-4zM1105 1247h4v5h-4zM1109 1144h5v2h-5zM1109 1148h5v4h-5zM1109 1174h5v4h-5zM1109 1204h5v3h-5zM1109 1224h5v5h-5zM1109 1233h5v9h-5zM1109 1255h5v3h-5zM1114 1117h3v4h-3zM1114 1130h3v6h-3zM1114 1144h3v2h-3zM1114 1168h3v3h-3zM1114 1174h3v4h-3zM1114 1207h3v5h-3zM1114 1224h3v5h-3zM1114 1233h3v9h-3zM1117 1117h4v4h-4zM1117 1126h4v4h-4zM1117 1136h4v8h-4zM1117 1152h4v11h-4zM1117 1178h4v10h-4zM1117 1192h4v7h-4zM1117 1207h4v15h-4zM1117 1242h4v5h-4zM1121 1130h5v11h-5zM1121 1163h5v5h-5zM1121 1171h5v3h-5zM1121 1178h5v5h-5zM1121 1192h5v12h-5zM1121 1207h5v5h-5zM1121 1233h5v5h-5zM1121 1247h5v8h-5zM1121 1265h5v5h-5zM1126 1130h4v14h-4zM1126 1146h4v2h-4zM1126 1171h4v3h-4zM1126 1188h4v4h-4zM1126 1195h4v4h-4zM1126 1207h4v5h-4zM1126 1217h4v5h-4zM1126 1224h4v5h-4zM1126 1233h4v5h-4zM1126 1258h4v7h-4zM1126 1270h4v4h-4zM1130 1130h2v2h-2zM1130 1144h2v4h-2zM1130 1163h2v8h-2zM1130 1178h2v10h-2zM1130 1195h2v4h-2zM1130 1204h2v3h-2zM1130 1212h2v5h-2zM1130 1242h2v13h-2zM1130 1258h2v4h-2zM1130 1270h2v4h-2zM1132 1132h4v4h-4zM1132 1141h4v3h-4zM1132 1171h4v7h-4zM1132 1183h4v5h-4zM1132 1192h4v3h-4zM1132 1217h4v5h-4zM1132 1224h4v9h-4zM1132 1247h4v5h-4zM1132 1262h4v3h-4zM1132 1270h4v4h-4zM1136 1148h5v15h-5zM1136 1168h5v6h-5zM1136 1183h5v5h-5zM1136 1195h5v4h-5zM1136 1212h5v10h-5zM1136 1229h5v4h-5zM1136 1242h5v16h-5zM1136 1265h5v5h-5zM1136 1274h5v4h-5zM1141 1148h3v4h-3zM1141 1168h3v3h-3zM1141 1178h3v17h-3zM1141 1199h3v8h-3zM1141 1233h3v14h-3zM1141 1252h3v6h-3zM1141 1262h3v8h-3zM1141 1274h3v9h-3zM1144 1163h2v5h-2zM1144 1171h2v12h-2zM1144 1188h2v4h-2zM1144 1204h2v18h-2zM1144 1229h2v9h-2zM1144 1242h2v10h-2zM1144 1258h2v7h-2zM1144 1270h2v8h-2zM1146 1157h2v6h-2zM1146 1174h2v4h-2zM1146 1183h2v5h-2zM1146 1204h2v3h-2zM1146 1212h2v5h-2zM1146 1229h2v4h-2zM1146 1262h2v3h-2zM1146 1289h2v5h-2zM1148 1171h4v3h-4zM1148 1178h4v10h-4zM1148 1204h4v3h-4zM1148 1255h4v3h-4zM1148 1265h4v9h-4zM1152 1199h5v5h-5zM1152 1258h5v4h-5zM1152 1265h5v9h-5zM1157 1163h6v5h-6zM1157 1171h6v7h-6zM1157 1183h6v5h-6zM1157 1199h6v5h-6zM1157 1217h6v5h-6zM1157 1233h6v5h-6zM1157 1242h6v5h-6zM1157 1270h6v4h-6zM1157 1303h6v6h-6zM1163 1174h5v4h-5zM1163 1183h5v5h-5zM1163 1217h5v5h-5zM1163 1255h5v3h-5zM1163 1265h5v5h-5zM1163 1286h5v8h-5zM1163 1303h5v6h-5zM1168 1171h3v3h-3zM1168 1188h3v4h-3zM1168 1195h3v12h-3zM1168 1212h3v5h-3zM1168 1247h3v5h-3zM1168 1255h3v3h-3zM1168 1270h3v4h-3zM1168 1299h3v15h-3zM1171 1178h3v5h-3zM1171 1192h3v3h-3zM1171 1204h3v8h-3zM1171 1238h3v4h-3zM1171 1247h3v5h-3zM1171 1255h3v3h-3zM1171 1262h3v3h-3zM1171 1283h3v37h-3zM1174 1195h4v4h-4zM1174 1212h4v5h-4zM1174 1222h4v20h-4zM1174 1274h4v4h-4zM1174 1303h4v17h-4zM1178 1204h5v3h-5zM1178 1212h5v5h-5zM1178 1238h5v4h-5zM1178 1255h5v3h-5zM1178 1262h5v3h-5zM1178 1270h5v4h-5zM1178 1303h5v6h-5zM1183 1192h5v3h-5zM1183 1199h5v8h-5zM1183 1229h5v4h-5zM1183 1258h5v4h-5zM1183 1270h5v4h-5zM1183 1278h5v5h-5zM1183 1286h5v3h-5zM1183 1314h5v6h-5zM1183 1328h5v3h-5zM1188 1188h4v4h-4zM1188 1199h4v8h-4zM1188 1212h4v5h-4zM1188 1222h4v16h-4zM1188 1252h4v3h-4zM1188 1265h4v5h-4zM1188 1274h4v4h-4zM1188 1283h4v3h-4zM1188 1309h4v5h-4zM1188 1320h4v4h-4zM1192 1233h3v5h-3zM1192 1255h3v3h-3zM1192 1270h3v4h-3zM1192 1286h3v17h-3zM1195 1270h4v4h-4zM1195 1286h4v3h-4zM1195 1294h4v5h-4zM1195 1309h4v5h-4zM1199 1199h5v5h-5zM1199 1247h5v5h-5zM1199 1255h5v3h-5zM1199 1265h5v9h-5zM1199 1283h5v3h-5zM1204 1204h3v13h-3zM1204 1262h3v3h-3zM1204 1283h3v6h-3zM1204 1303h3v21h-3zM1204 1328h3v3h-3zM1207 1255h5v3h-5zM1207 1278h5v5h-5zM1207 1324h5v4h-5zM1212 1233h5v5h-5zM1212 1255h5v3h-5zM1212 1283h5v3h-5zM1217 1303h5v6h-5zM1217 1328h5v3h-5zM1222 1265h2v5h-2zM1224 1233h5v5h-5zM1224 1258h5v4h-5zM1224 1270h5v4h-5zM1224 1286h5v13h-5zM1224 1303h5v6h-5zM1229 1278h4v5h-4zM1229 1286h4v3h-4zM1229 1299h4v4h-4zM1229 1314h4v6h-4zM1233 1265h5v5h-5zM1233 1274h5v4h-5zM1233 1283h5v6h-5zM1233 1294h5v34h-5zM1238 1283h4v3h-4zM1238 1303h4v17h-4zM1247 1294h5v5h-5zM1247 1303h5v6h-5zM1255 1286h3v3h-3zM1262 1278h3v5h-3zM1262 1303h3v6h-3zM1262 1324h3v4h-3zM1265 1286h5v3h-5zM1265 1320h5v4h-5zM1270 1274h4v4h-4zM1270 1320h4v4h-4zM1309 1328h5v3h-5zM1320 1320h4v4h-4z"/>
<path fill="#bcc3e3" d="M782 799h2v6h-2zM782 823h2v4h-2zM782 864h2v5h-2zM782 878h2v5h-2zM782 896h2v5h-2zM782 907h2v3h-2zM784 799h4v6h-4zM784 834h4v7h-4zM784 849h4v4h-4zM784 864h4v5h-4zM784 878h4v5h-4zM784 896h4v5h-4zM784 924h4v3h-4zM788 788h5v8h-5zM788 802h5v7h-5zM788 814h5v5h-5zM788 823h5v4h-5zM788 834h5v3h-5zM788 841h5v4h-5zM788 861h5v13h-5zM788 896h5v5h-5zM788 904h5v3h-5zM788 913h5v4h-5zM788 921h5v6h-5zM788 931h5v4h-5zM793 793h3v6h-3zM793 805h3v4h-3zM793 814h3v5h-3zM793 823h3v18h-3zM793 849h3v4h-3zM793 878h3v5h-3zM793 891h3v22h-3zM793 917h3v14h-3zM796 802h3v3h-3zM796 864h3v5h-3zM796 874h3v9h-3zM796 886h3v5h-3zM796 924h3v3h-3zM799 802h3v3h-3zM799 834h3v3h-3zM799 864h3v5h-3zM799 901h3v3h-3zM799 913h3v4h-3zM799 924h3v3h-3zM799 939h3v4h-3zM802 819h3v8h-3zM802 831h3v6h-3zM802 845h3v11h-3zM802 864h3v5h-3zM802 878h3v5h-3zM802 891h3v5h-3zM802 901h3v6h-3zM802 910h3v3h-3zM802 917h3v7h-3zM802 927h3v8h-3zM802 943h3v4h-3zM805 814h4v5h-4zM805 834h4v7h-4zM805 891h4v10h-4zM809 874h5v4h-5zM809 896h5v5h-5zM809 924h5v3h-5zM814 834h5v3h-5zM814 853h5v8h-5zM814 901h5v3h-5zM814 935h5v4h-5zM819 819h4v4h-4zM819 827h4v4h-4zM819 841h4v20h-4zM819 864h4v5h-4zM819 872h4v2h-4zM819 878h4v5h-4zM819 891h4v10h-4zM819 913h4v4h-4zM819 931h4v8h-4zM819 947h4v6h-4zM819 962h4v6h-4zM823 834h4v7h-4zM823 845h4v4h-4zM823 886h4v5h-4zM823 896h4v8h-4zM823 907h4v3h-4zM823 943h4v4h-4zM823 953h4v4h-4zM827 827h4v4h-4zM827 834h4v3h-4zM827 861h4v3h-4zM827 874h4v4h-4zM827 891h4v5h-4zM827 935h4v4h-4zM827 943h4v4h-4zM831 831h3v3h-3zM831 837h3v4h-3zM831 845h3v4h-3zM831 856h3v5h-3zM831 864h3v5h-3zM831 896h3v8h-3zM831 913h3v4h-3zM834 834h3v7h-3zM834 845h3v4h-3zM834 853h3v3h-3zM834 864h3v19h-3zM834 886h3v5h-3zM834 901h3v6h-3zM834 910h3v3h-3zM834 924h3v15h-3zM834 943h3v10h-3zM834 962h3v12h-3zM837 837h4v4h-4zM837 845h4v4h-4zM837 853h4v8h-4zM837 864h4v5h-4zM837 874h4v4h-4zM837 886h4v5h-4zM837 901h4v3h-4zM837 907h4v3h-4zM837 913h4v11h-4zM837 935h4v4h-4zM837 943h4v4h-4zM837 953h4v4h-4zM837 962h4v16h-4zM837 981h4v4h-4zM841 849h4v4h-4zM841 864h4v5h-4zM841 874h4v4h-4zM841 896h4v5h-4zM841 913h4v4h-4zM841 935h4v4h-4zM841 957h4v5h-4zM845 853h4v3h-4zM845 861h4v3h-4zM845 869h4v3h-4zM845 896h4v8h-4zM845 924h4v3h-4zM845 985h4v5h-4zM849 886h4v5h-4zM849 993h4v3h-4zM853 896h3v5h-3zM853 996h3v3h-3zM856 883h5v3h-5zM856 896h5v8h-5zM856 935h5v4h-5zM856 996h5v3h-5zM861 864h3v5h-3zM861 901h3v3h-3zM861 935h3v4h-3zM861 990h3v3h-3zM864 878h5v5h-5zM864 917h5v4h-5zM864 935h5v4h-5zM864 957h5v5h-5zM864 968h5v6h-5zM864 981h5v4h-5zM864 996h5v3h-5zM864 1008h5v4h-5zM869 896h3v8h-3zM869 924h3v3h-3zM869 957h3v11h-3zM872 901h2v3h-2zM872 996h2v3h-2zM874 901h4v3h-4zM874 996h4v3h-4zM878 896h5v5h-5zM878 935h5v4h-5zM878 996h5v3h-5zM883 883h3v3h-3zM883 901h3v3h-3zM883 910h3v3h-3zM883 931h3v8h-3zM883 943h3v4h-3zM883 993h3v6h-3zM891 896h5v5h-5zM896 904h5v3h-5zM896 921h5v6h-5zM896 953h5v4h-5zM896 968h5v6h-5zM896 981h5v4h-5zM896 1003h5v5h-5zM896 1012h5v7h-5zM896 1038h5v4h-5zM901 901h3v3h-3zM901 917h3v4h-3zM901 924h3v3h-3zM901 957h3v5h-3zM901 985h3v5h-3zM901 1012h3v7h-3zM901 1024h3v4h-3zM901 1031h3v3h-3zM910 1053h3v4h-3zM913 935h4v4h-4zM913 957h4v5h-4zM913 996h4v3h-4zM913 1024h4v4h-4zM913 1042h4v4h-4zM917 935h4v4h-4zM917 1015h4v4h-4zM917 1046h4v7h-4zM917 1063h4v3h-4zM921 924h3v3h-3zM921 990h3v9h-3zM921 1053h3v4h-3zM924 931h3v4h-3zM924 943h3v4h-3zM924 957h3v11h-3zM924 985h3v8h-3zM924 999h3v13h-3zM924 1024h3v4h-3zM924 1031h3v3h-3zM924 1038h3v4h-3zM924 1046h3v7h-3zM924 1063h3v3h-3zM927 1015h4v4h-4zM927 1024h4v4h-4zM931 957h4v5h-4zM931 1053h4v4h-4zM931 1070h4v3h-4zM935 951h4v2h-4zM935 957h4v17h-4zM935 978h4v3h-4zM935 985h4v8h-4zM935 1031h4v3h-4zM935 1042h4v4h-4zM935 1053h4v4h-4zM935 1063h4v3h-4zM935 1073h4v7h-4zM939 957h4v5h-4zM939 1042h4v4h-4zM939 1053h4v4h-4zM939 1070h4v3h-4zM939 1076h4v4h-4zM943 996h4v3h-4zM943 1070h4v3h-4zM947 957h4v5h-4zM947 996h4v3h-4zM951 1057h2v3h-2zM951 1083h2v3h-2zM953 957h4v5h-4zM953 996h4v3h-4zM953 1080h4v3h-4zM957 968h5v6h-5zM957 978h5v7h-5zM957 999h5v4h-5zM957 1008h5v4h-5zM957 1015h5v4h-5zM957 1038h5v15h-5zM957 1063h5v3h-5zM957 1070h5v3h-5zM957 1086h5v5h-5zM957 1096h5v9h-5zM962 1015h6v4h-6zM962 1080h6v3h-6zM962 1105h6v4h-6zM968 1105h6v4h-6zM974 1080h4v3h-4zM974 1096h4v5h-4zM978 1080h3v3h-3zM978 1086h3v5h-3zM978 1114h3v7h-3zM981 1015h4v4h-4zM981 1066h4v7h-4zM981 1080h4v3h-4zM981 1117h4v4h-4zM981 1126h4v4h-4zM985 1046h5v3h-5zM985 1091h5v10h-5zM985 1117h5v13h-5zM990 996h3v3h-3zM990 1049h3v4h-3zM990 1060h3v3h-3zM990 1070h3v3h-3zM990 1080h3v3h-3zM990 1117h3v4h-3zM993 996h3v3h-3zM993 1070h3v3h-3zM993 1080h3v3h-3zM993 1086h3v5h-3zM993 1096h3v5h-3zM993 1117h3v9h-3zM993 1136h3v5h-3zM996 1003h3v9h-3zM996 1019h3v5h-3zM996 1042h3v4h-3zM996 1057h3v3h-3zM996 1063h3v3h-3zM996 1080h3v3h-3zM996 1086h3v5h-3zM996 1096h3v5h-3zM996 1114h3v3h-3zM996 1121h3v9h-3zM996 1132h3v9h-3zM999 1046h4v3h-4zM999 1063h4v3h-4zM999 1117h4v13h-4zM999 1132h4v4h-4zM999 1141h4v5h-4zM1003 1015h5v4h-5zM1003 1057h5v3h-5zM1003 1117h5v13h-5zM1003 1136h5v10h-5zM1008 1042h4v4h-4zM1008 1049h4v4h-4zM1008 1070h4v3h-4zM1008 1105h4v4h-4zM1008 1121h4v5h-4zM1008 1132h4v9h-4zM1008 1144h4v2h-4zM1012 1038h3v4h-3zM1012 1049h3v4h-3zM1012 1060h3v3h-3zM1012 1070h3v3h-3zM1012 1101h3v4h-3zM1012 1121h3v9h-3zM1012 1136h3v8h-3zM1015 1049h4v4h-4zM1015 1063h4v3h-4zM1015 1086h4v5h-4zM1015 1096h4v5h-4zM1015 1121h4v9h-4zM1015 1132h4v4h-4zM1019 1066h5v4h-5zM1019 1083h5v3h-5zM1019 1117h5v15h-5zM1019 1136h5v5h-5zM1019 1144h5v2h-5zM1019 1148h5v4h-5zM1019 1157h5v6h-5zM1024 1066h4v7h-4zM1024 1126h4v6h-4zM1028 1070h3v3h-3zM1028 1080h3v6h-3zM1028 1096h3v5h-3zM1028 1109h3v5h-3zM1028 1117h3v4h-3zM1028 1136h3v8h-3zM1031 1057h3v3h-3zM1031 1076h3v7h-3zM1031 1121h3v11h-3zM1031 1144h3v2h-3zM1031 1152h3v16h-3zM1031 1171h3v3h-3zM1034 1117h4v4h-4zM1034 1141h4v5h-4zM1034 1171h4v7h-4zM1038 1080h4v3h-4zM1038 1096h4v5h-4zM1038 1109h4v5h-4zM1038 1117h4v9h-4zM1038 1132h4v4h-4zM1038 1141h4v5h-4zM1038 1163h4v5h-4zM1038 1171h4v7h-4zM1038 1183h4v5h-4zM1042 1066h4v4h-4zM1042 1073h4v3h-4zM1042 1117h4v4h-4zM1042 1126h4v15h-4zM1042 1144h4v2h-4zM1042 1152h4v5h-4zM1042 1168h4v3h-4zM1042 1174h4v9h-4zM1046 1049h3v4h-3zM1046 1070h3v3h-3zM1046 1080h3v3h-3zM1046 1091h3v10h-3zM1046 1121h3v11h-3zM1046 1136h3v5h-3zM1046 1144h3v2h-3zM1046 1163h3v5h-3zM1046 1183h3v5h-3zM1049 1070h4v3h-4zM1049 1096h4v5h-4zM1049 1117h4v9h-4zM1049 1130h4v11h-4zM1049 1146h4v2h-4zM1049 1171h4v12h-4zM1053 1057h4v3h-4zM1053 1096h4v5h-4zM1053 1117h4v13h-4zM1053 1132h4v4h-4zM1053 1171h4v3h-4zM1053 1183h4v5h-4zM1057 1096h3v5h-3zM1057 1136h3v5h-3zM1057 1188h3v4h-3zM1060 1070h3v6h-3zM1060 1080h3v3h-3zM1060 1091h3v5h-3zM1060 1117h3v4h-3zM1060 1126h3v6h-3zM1060 1136h3v8h-3zM1060 1168h3v3h-3zM1060 1188h3v4h-3zM1060 1199h3v8h-3zM1063 1080h3v3h-3zM1063 1096h3v5h-3zM1063 1105h3v4h-3zM1063 1121h3v5h-3zM1063 1130h3v2h-3zM1063 1171h3v7h-3zM1063 1183h3v5h-3zM1063 1199h3v5h-3zM1066 1070h4v3h-4zM1066 1083h4v3h-4zM1066 1117h4v4h-4zM1066 1126h4v10h-4zM1066 1141h4v5h-4zM1066 1174h4v4h-4zM1066 1183h4v5h-4zM1066 1199h4v8h-4zM1070 1070h3v3h-3zM1070 1091h3v10h-3zM1070 1105h3v4h-3zM1070 1117h3v4h-3zM1070 1130h3v6h-3zM1070 1148h3v4h-3zM1070 1168h3v3h-3zM1070 1178h3v5h-3zM1070 1188h3v11h-3zM1073 1080h3v3h-3zM1073 1121h3v5h-3zM1073 1144h3v2h-3zM1073 1148h3v4h-3zM1073 1183h3v5h-3zM1073 1204h3v3h-3zM1073 1217h3v5h-3zM1076 1080h4v3h-4zM1076 1096h4v5h-4zM1076 1117h4v9h-4zM1076 1130h4v11h-4zM1076 1144h4v2h-4zM1076 1174h4v4h-4zM1076 1188h4v4h-4zM1076 1204h4v3h-4zM1076 1212h4v10h-4zM1080 1083h3v18h-3zM1080 1105h3v4h-3zM1080 1114h3v3h-3zM1080 1126h3v4h-3zM1080 1136h3v10h-3zM1080 1157h3v11h-3zM1080 1174h3v4h-3zM1080 1192h3v7h-3zM1080 1204h3v18h-3zM1083 1091h3v5h-3zM1083 1117h3v9h-3zM1083 1144h3v2h-3zM1083 1152h3v5h-3zM1083 1174h3v4h-3zM1083 1204h3v3h-3zM1086 1096h5v5h-5zM1086 1114h5v3h-5zM1086 1130h5v2h-5zM1086 1141h5v5h-5zM1086 1157h5v6h-5zM1086 1171h5v7h-5zM1086 1183h5v5h-5zM1086 1204h5v3h-5zM1091 1105h5v4h-5zM1091 1117h5v4h-5zM1091 1132h5v9h-5zM1091 1174h5v4h-5zM1091 1188h5v4h-5zM1091 1207h5v5h-5zM1091 1233h5v5h-5zM1096 1096h5v5h-5zM1096 1126h5v4h-5zM1096 1144h5v4h-5zM1096 1157h5v6h-5zM1096 1171h5v3h-5zM1096 1178h5v5h-5zM1096 1188h5v4h-5zM1096 1195h5v4h-5zM1096 1204h5v3h-5zM1096 1212h5v5h-5zM1096 1233h5v5h-5zM1096 1242h5v5h-5zM1101 1117h4v4h-4zM1101 1130h4v2h-4zM1101 1144h4v2h-4zM1101 1174h4v4h-4zM1101 1183h4v5h-4zM1101 1229h4v9h-4zM1105 1117h4v4h-4zM1105 1130h4v2h-4zM1105 1144h4v2h-4zM1105 1174h4v4h-4zM1105 1183h4v9h-4zM1105 1222h4v2h-4zM1105 1233h4v9h-4zM1109 1117h5v9h-5zM1109 1130h5v2h-5zM1109 1136h5v5h-5zM1109 1152h5v5h-5zM1109 1171h5v3h-5zM1109 1178h5v5h-5zM1109 1242h5v5h-5zM1114 1121h3v5h-3zM1114 1141h3v3h-3zM1114 1171h3v3h-3zM1114 1183h3v5h-3zM1114 1252h3v6h-3zM1117 1121h4v5h-4zM1117 1130h4v6h-4zM1117 1144h4v4h-4zM1117 1163h4v5h-4zM1117 1174h4v4h-4zM1117 1199h4v8h-4zM1117 1222h4v7h-4zM1117 1233h4v9h-4zM1117 1247h4v18h-4zM1121 1121h5v9h-5zM1121 1141h5v11h-5zM1121 1174h5v4h-5zM1121 1183h5v9h-5zM1121 1204h5v3h-5zM1121 1212h5v21h-5zM1121 1238h5v9h-5zM1121 1258h5v7h-5zM1126 1126h4v4h-4zM1126 1144h4v2h-4zM1126 1152h4v11h-4zM1126 1168h4v3h-4zM1126 1174h4v14h-4zM1126 1192h4v3h-4zM1126 1199h4v5h-4zM1126 1212h4v5h-4zM1126 1222h4v2h-4zM1126 1229h4v4h-4zM1126 1242h4v5h-4zM1126 1252h4v6h-4zM1126 1265h4v5h-4zM1130 1132h2v12h-2zM1130 1152h2v11h-2zM1130 1171h2v3h-2zM1130 1188h2v4h-2zM1130 1207h2v5h-2zM1130 1217h2v7h-2zM1130 1229h2v4h-2zM1130 1238h2v4h-2zM1130 1255h2v3h-2zM1130 1262h2v8h-2zM1132 1136h4v5h-4zM1132 1144h4v27h-4zM1132 1188h4v4h-4zM1132 1195h4v22h-4zM1132 1222h4v2h-4zM1132 1233h4v14h-4zM1132 1252h4v3h-4zM1132 1258h4v4h-4zM1132 1274h4v9h-4zM1136 1136h5v10h-5zM1136 1178h5v5h-5zM1136 1188h5v7h-5zM1136 1199h5v13h-5zM1136 1222h5v7h-5zM1136 1233h5v9h-5zM1136 1262h5v3h-5zM1136 1270h5v4h-5zM1136 1278h5v8h-5zM1141 1141h3v7h-3zM1141 1152h3v16h-3zM1141 1171h3v7h-3zM1141 1195h3v4h-3zM1141 1207h3v10h-3zM1141 1222h3v11h-3zM1141 1258h3v4h-3zM1141 1270h3v4h-3zM1141 1283h3v6h-3zM1144 1144h2v19h-2zM1144 1168h2v3h-2zM1144 1183h2v5h-2zM1144 1192h2v7h-2zM1144 1222h2v7h-2zM1144 1238h2v4h-2zM1144 1265h2v5h-2zM1144 1278h2v5h-2zM1144 1286h2v3h-2zM1146 1171h2v3h-2zM1146 1188h2v4h-2zM1146 1222h2v2h-2zM1146 1233h2v5h-2zM1146 1242h2v5h-2zM1146 1265h2v9h-2zM1148 1174h4v4h-4zM1148 1188h4v4h-4zM1148 1212h4v5h-4zM1148 1222h4v2h-4zM1148 1262h4v3h-4zM1148 1274h4v4h-4zM1152 1171h5v3h-5zM1152 1188h5v4h-5zM1152 1212h5v5h-5zM1152 1229h5v9h-5zM1152 1255h5v3h-5zM1152 1262h5v3h-5zM1152 1283h5v3h-5zM1157 1188h6v4h-6zM1157 1204h6v3h-6zM1157 1224h6v5h-6zM1157 1255h6v3h-6zM1157 1265h6v5h-6zM1163 1171h5v3h-5zM1163 1188h5v4h-5zM1163 1204h5v3h-5zM1163 1233h5v9h-5zM1168 1174h3v4h-3zM1168 1183h3v5h-3zM1168 1233h3v5h-3zM1168 1252h3v3h-3zM1168 1262h3v8h-3zM1171 1171h3v7h-3zM1171 1183h3v9h-3zM1171 1195h3v9h-3zM1171 1217h3v21h-3zM1171 1242h3v5h-3zM1171 1252h3v3h-3zM1171 1258h3v4h-3zM1171 1265h3v18h-3zM1174 1174h4v4h-4zM1174 1183h4v5h-4zM1174 1192h4v3h-4zM1174 1199h4v13h-4zM1174 1217h4v5h-4zM1174 1242h4v5h-4zM1174 1252h4v6h-4zM1174 1262h4v12h-4zM1174 1278h4v25h-4zM1174 1320h4v4h-4zM1178 1188h5v4h-5zM1178 1233h5v5h-5zM1178 1265h5v5h-5zM1178 1278h5v8h-5zM1178 1320h5v4h-5zM1183 1183h5v9h-5zM1183 1195h5v4h-5zM1183 1207h5v15h-5zM1183 1224h5v5h-5zM1183 1233h5v14h-5zM1183 1252h5v6h-5zM1183 1262h5v8h-5zM1183 1289h5v5h-5zM1183 1299h5v15h-5zM1183 1320h5v8h-5zM1188 1195h4v4h-4zM1188 1207h4v5h-4zM1188 1217h4v5h-4zM1188 1238h4v4h-4zM1188 1247h4v5h-4zM1188 1258h4v7h-4zM1188 1270h4v4h-4zM1188 1278h4v5h-4zM1188 1289h4v20h-4zM1188 1314h4v6h-4zM1188 1324h4v7h-4zM1192 1262h3v8h-3zM1192 1303h3v6h-3zM1195 1204h4v3h-4zM1195 1262h4v3h-4zM1195 1303h4v6h-4zM1199 1204h5v3h-5zM1199 1233h5v9h-5zM1199 1262h5v3h-5zM1199 1303h5v6h-5zM1204 1222h3v7h-3zM1204 1258h3v4h-3zM1204 1274h3v9h-3zM1204 1289h3v14h-3zM1207 1303h5v6h-5zM1212 1262h5v3h-5zM1212 1299h5v10h-5zM1217 1224h5v5h-5zM1217 1233h5v5h-5zM1217 1265h5v9h-5zM1217 1283h5v3h-5zM1222 1233h2v5h-2zM1222 1255h2v3h-2zM1222 1262h2v3h-2zM1222 1303h2v6h-2zM1224 1255h5v3h-5zM1224 1262h5v8h-5zM1224 1274h5v9h-5zM1224 1299h5v4h-5zM1224 1328h5v3h-5zM1229 1255h4v3h-4zM1229 1262h4v3h-4zM1229 1303h4v6h-4zM1233 1233h5v5h-5zM1233 1247h5v5h-5zM1233 1255h5v3h-5zM1233 1270h5v4h-5zM1233 1278h5v5h-5zM1233 1289h5v5h-5zM1233 1328h5v3h-5zM1238 1262h4v3h-4zM1238 1270h4v4h-4zM1238 1289h4v5h-4zM1252 1303h3v6h-3zM1255 1270h3v4h-3zM1255 1320h3v4h-3zM1262 1320h3v4h-3zM1265 1278h5v5h-5zM1265 1294h5v5h-5zM1303 1320h6v4h-6z"/>
<path fill="#f9cdca" d="M782 784h2v4h-2zM782 805h2v9h-2zM782 841h2v4h-2zM782 910h2v3h-2zM782 921h2v3h-2zM784 827h4v4h-4zM784 861h4v3h-4zM784 874h4v4h-4zM784 910h4v3h-4zM796 799h3v3h-3zM796 831h3v3h-3zM796 849h3v4h-3zM796 856h3v5h-3zM796 910h3v3h-3zM799 845h3v8h-3zM799 861h3v3h-3zM799 878h3v5h-3zM799 910h3v3h-3zM799 917h3v4h-3zM805 823h4v4h-4zM805 864h4v5h-4zM805 910h4v3h-4zM809 883h5v3h-5zM809 921h5v3h-5zM809 951h5v2h-5zM814 849h5v4h-5zM814 910h5v3h-5zM814 931h5v4h-5zM814 943h5v4h-5zM823 823h4v4h-4zM823 831h4v3h-4zM823 861h4v3h-4zM823 872h4v2h-4zM823 904h4v3h-4zM827 849h4v4h-4zM827 953h4v4h-4zM831 886h3v5h-3zM831 921h3v3h-3zM831 947h3v4h-3zM831 974h3v4h-3zM834 917h3v4h-3zM837 849h4v4h-4zM837 927h4v4h-4zM841 853h4v3h-4zM841 861h4v3h-4zM841 869h4v3h-4zM841 907h4v3h-4zM841 931h4v4h-4zM841 939h4v4h-4zM841 953h4v4h-4zM845 874h4v4h-4zM845 913h4v4h-4zM845 978h4v3h-4zM849 978h4v3h-4zM849 990h4v3h-4zM853 869h3v5h-3zM853 878h3v13h-3zM853 907h3v3h-3zM853 921h3v3h-3zM853 931h3v4h-3zM853 947h3v4h-3zM853 953h3v4h-3zM853 968h3v6h-3zM853 978h3v12h-3zM853 993h3v3h-3zM856 856h5v8h-5zM856 872h5v2h-5zM856 891h5v5h-5zM856 904h5v3h-5zM856 921h5v3h-5zM856 953h5v4h-5zM856 968h5v17h-5zM856 993h5v3h-5zM861 869h3v5h-3zM861 886h3v15h-3zM861 910h3v3h-3zM861 917h3v7h-3zM861 939h3v4h-3zM861 947h3v4h-3zM861 974h3v7h-3zM861 996h3v12h-3zM864 907h5v6h-5zM864 951h5v2h-5zM864 1003h5v5h-5zM869 869h3v3h-3zM869 874h3v4h-3zM869 886h3v5h-3zM869 921h3v3h-3zM869 943h3v14h-3zM869 968h3v17h-3zM869 993h3v3h-3zM869 1003h3v12h-3zM872 872h2v2h-2zM872 883h2v13h-2zM872 904h2v3h-2zM872 917h2v4h-2zM872 947h2v6h-2zM872 968h2v10h-2zM872 981h2v4h-2zM872 993h2v3h-2zM872 1015h2v4h-2zM874 874h4v4h-4zM874 883h4v3h-4zM874 891h4v5h-4zM874 907h4v3h-4zM874 913h4v4h-4zM874 921h4v3h-4zM874 927h4v8h-4zM874 939h4v4h-4zM874 947h4v10h-4zM874 968h4v17h-4zM874 999h4v9h-4zM874 1012h4v7h-4zM878 921h5v3h-5zM878 962h5v12h-5zM878 990h5v3h-5zM878 1003h5v5h-5zM878 1015h5v9h-5zM883 891h3v10h-3zM883 917h3v4h-3zM883 927h3v4h-3zM883 974h3v11h-3zM883 990h3v3h-3zM883 999h3v16h-3zM886 921h5v3h-5zM886 962h5v6h-5zM886 990h5v3h-5zM886 1015h5v4h-5zM886 1028h5v6h-5zM891 962h5v6h-5zM891 990h5v3h-5zM891 999h5v13h-5zM891 1019h5v19h-5zM901 968h3v6h-3zM901 1019h3v5h-3zM904 921h3v3h-3zM904 990h3v3h-3zM904 1003h3v35h-3zM907 962h3v6h-3zM907 999h3v4h-3zM907 1008h3v20h-3zM907 1034h3v8h-3zM910 999h3v4h-3zM910 1012h3v26h-3zM910 1042h3v4h-3zM913 962h4v6h-4zM913 990h4v3h-4zM913 1008h4v4h-4zM913 1015h4v9h-4zM913 1031h4v3h-4zM917 921h4v3h-4zM917 962h4v12h-4zM917 999h4v4h-4zM917 1024h4v7h-4zM921 927h3v4h-3zM921 939h3v4h-3zM921 953h3v4h-3zM921 981h3v4h-3zM921 999h3v4h-3zM921 1008h3v7h-3zM921 1019h3v5h-3zM921 1028h3v6h-3zM921 1066h3v4h-3zM924 1015h3v4h-3zM927 962h4v12h-4zM927 990h4v3h-4zM927 999h4v4h-4zM927 1008h4v4h-4zM927 1019h4v5h-4zM927 1028h4v3h-4zM927 1053h4v10h-4zM931 962h4v12h-4zM931 999h4v16h-4zM931 1019h4v9h-4zM931 1031h4v3h-4zM931 1049h4v4h-4zM931 1076h4v4h-4zM935 1034h4v4h-4zM939 968h4v6h-4zM939 990h4v3h-4zM939 999h4v4h-4zM939 1008h4v4h-4zM939 1015h4v4h-4zM939 1024h4v4h-4zM939 1031h4v11h-4zM939 1046h4v7h-4zM943 962h4v12h-4zM943 990h4v3h-4zM943 999h4v16h-4zM943 1024h4v4h-4zM943 1034h4v4h-4zM943 1083h4v3h-4zM947 990h4v3h-4zM947 1012h4v26h-4zM951 968h2v6h-2zM951 1003h2v5h-2zM951 1012h2v12h-2zM951 1028h2v10h-2zM953 990h4v3h-4zM953 1024h4v7h-4zM953 1034h4v4h-4zM953 1046h4v3h-4zM962 985h6v5h-6zM962 993h6v3h-6zM962 1024h6v4h-6zM962 1034h6v8h-6zM962 1053h6v7h-6zM962 1096h6v5h-6zM968 990h6v6h-6zM968 999h6v16h-6zM968 1028h6v3h-6zM968 1034h6v4h-6zM968 1060h6v3h-6zM974 999h4v4h-4zM974 1008h4v7h-4zM974 1019h4v9h-4zM974 1053h4v4h-4zM974 1066h4v4h-4zM974 1073h4v3h-4zM978 990h3v3h-3zM978 999h3v20h-3zM978 1028h3v3h-3zM978 1066h3v4h-3zM981 999h4v9h-4zM981 1031h4v3h-4zM981 1053h4v4h-4zM981 1091h4v5h-4zM985 990h5v3h-5zM985 1003h5v9h-5zM985 1019h5v5h-5zM985 1034h5v4h-5zM985 1042h5v4h-5zM990 1038h3v4h-3zM990 1053h3v4h-3zM990 1086h3v5h-3zM990 1114h3v3h-3zM993 999h3v16h-3zM993 1028h3v10h-3zM993 1046h3v3h-3zM993 1053h3v4h-3zM996 1015h3v4h-3zM996 1024h3v4h-3zM999 999h4v4h-4zM999 1008h4v4h-4zM999 1015h4v4h-4zM999 1031h4v3h-4zM999 1042h4v4h-4zM999 1057h4v3h-4zM1003 1008h5v4h-5zM1003 1031h5v3h-5zM1003 1046h5v3h-5zM1003 1060h5v3h-5zM1003 1086h5v5h-5zM1008 1012h4v19h-4zM1008 1073h4v7h-4zM1008 1148h4v4h-4zM1012 1012h3v7h-3zM1012 1031h3v3h-3zM1012 1042h3v4h-3zM1015 1019h4v5h-4zM1015 1031h4v7h-4zM1015 1046h4v3h-4zM1015 1114h4v3h-4zM1015 1136h4v5h-4zM1019 1019h5v12h-5zM1019 1034h5v4h-5zM1019 1042h5v4h-5zM1019 1063h5v3h-5zM1019 1101h5v4h-5zM1019 1152h5v5h-5zM1024 1028h4v3h-4zM1024 1034h4v4h-4zM1024 1053h4v4h-4zM1024 1060h4v3h-4zM1024 1109h4v5h-4zM1024 1148h4v9h-4zM1028 1063h3v7h-3zM1028 1101h3v8h-3zM1028 1148h3v4h-3zM1028 1157h3v6h-3zM1031 1034h3v4h-3zM1031 1105h3v4h-3zM1031 1168h3v3h-3zM1034 1042h4v4h-4zM1034 1057h4v3h-4zM1034 1073h4v3h-4zM1034 1163h4v5h-4zM1038 1038h4v4h-4zM1038 1083h4v3h-4zM1038 1148h4v15h-4zM1042 1049h4v4h-4zM1042 1063h4v3h-4zM1042 1076h4v4h-4zM1042 1101h4v4h-4zM1042 1148h4v4h-4zM1042 1157h4v6h-4zM1046 1066h3v4h-3zM1046 1105h3v4h-3zM1046 1157h3v6h-3zM1049 1083h4v3h-4zM1049 1105h4v4h-4zM1053 1060h4v6h-4zM1053 1083h4v3h-4zM1053 1109h4v8h-4zM1053 1144h4v2h-4zM1053 1152h4v11h-4zM1053 1192h4v3h-4zM1057 1083h3v3h-3zM1057 1126h3v4h-3zM1060 1105h3v4h-3zM1063 1083h3v8h-3zM1063 1146h3v2h-3zM1063 1163h3v5h-3zM1066 1073h4v3h-4zM1066 1101h4v4h-4zM1066 1109h4v5h-4zM1066 1148h4v4h-4zM1066 1157h4v6h-4zM1066 1168h4v3h-4zM1066 1192h4v7h-4zM1073 1105h3v4h-3zM1073 1146h3v2h-3zM1076 1083h4v3h-4zM1076 1105h4v4h-4zM1080 1152h3v5h-3zM1083 1148h3v4h-3zM1083 1192h3v7h-3zM1086 1105h5v4h-5zM1086 1146h5v2h-5zM1086 1207h5v5h-5zM1086 1217h5v7h-5zM1091 1163h5v5h-5zM1101 1192h4v3h-4zM1101 1217h4v5h-4zM1105 1109h4v5h-4zM1105 1136h4v8h-4zM1105 1152h4v22h-4zM1105 1204h4v3h-4zM1105 1229h4v4h-4zM1109 1212h5v10h-5zM1114 1146h3v2h-3zM1114 1152h3v5h-3zM1114 1188h3v4h-3zM1114 1204h3v3h-3zM1114 1217h3v5h-3zM1117 1148h4v4h-4zM1126 1204h4v3h-4zM1130 1174h2v4h-2zM1130 1233h2v5h-2zM1132 1178h4v5h-4zM1136 1163h5v5h-5zM1136 1174h5v4h-5zM1136 1258h5v4h-5zM1146 1168h2v3h-2zM1146 1178h2v5h-2zM1146 1192h2v3h-2zM1146 1217h2v5h-2zM1146 1238h2v4h-2zM1146 1252h2v3h-2zM1148 1229h4v4h-4zM1148 1238h4v4h-4zM1148 1247h4v5h-4zM1152 1168h5v3h-5zM1152 1204h5v3h-5zM1152 1294h5v5h-5zM1157 1207h6v5h-6zM1157 1278h6v5h-6zM1163 1168h5v3h-5zM1163 1247h5v5h-5zM1163 1299h5v4h-5zM1168 1178h3v5h-3zM1168 1192h3v3h-3zM1168 1224h3v5h-3zM1168 1258h3v4h-3zM1168 1278h3v5h-3zM1168 1286h3v3h-3zM1171 1212h3v5h-3zM1174 1188h4v4h-4zM1178 1183h5v5h-5zM1178 1217h5v5h-5zM1178 1224h5v5h-5zM1178 1258h5v4h-5zM1178 1294h5v5h-5zM1183 1247h5v5h-5zM1188 1286h4v3h-4zM1192 1222h3v7h-3zM1192 1242h3v10h-3zM1195 1199h4v5h-4zM1195 1212h4v5h-4zM1195 1224h4v5h-4zM1195 1242h4v10h-4zM1199 1212h5v10h-5zM1199 1258h5v4h-5zM1199 1278h5v5h-5zM1199 1331h5v0h-5zM1204 1238h3v4h-3zM1204 1324h3v4h-3zM1207 1224h5v5h-5zM1207 1242h5v5h-5zM1207 1283h5v3h-5zM1212 1222h5v2h-5zM1212 1229h5v4h-5zM1212 1238h5v9h-5zM1212 1252h5v3h-5zM1212 1265h5v5h-5zM1212 1274h5v4h-5zM1217 1242h5v10h-5zM1222 1224h2v5h-2zM1224 1229h5v4h-5zM1224 1242h5v13h-5zM1224 1283h5v3h-5zM1229 1289h4v5h-4zM1238 1247h4v5h-4zM1242 1278h5v8h-5zM1242 1320h5v4h-5zM1247 1258h5v4h-5zM1247 1278h5v5h-5zM1247 1320h5v4h-5zM1252 1278h3v5h-3zM1252 1320h3v4h-3zM1255 1278h3v5h-3zM1258 1278h4v5h-4zM1258 1320h4v4h-4zM1270 1278h4v5h-4zM1274 1278h4v5h-4zM1274 1320h4v4h-4zM1278 1283h5v37h-5zM1278 1324h5v7h-5zM1283 1309h3v5h-3zM1283 1320h3v4h-3zM1286 1320h3v4h-3zM1289 1289h5v5h-5zM1289 1320h5v4h-5zM1294 1299h5v4h-5zM1294 1320h5v4h-5zM1299 1320h4v4h-4zM1309 1320h5v4h-5zM1314 1320h6v4h-6zM1320 1324h4v7h-4zM1324 1328h4v3h-4z"/>
<path fill="#f29590" d="M782 845h2v4h-2zM782 853h2v3h-2zM782 917h2v4h-2zM793 853h3v8h-3zM796 796h3v3h-3zM796 841h3v4h-3zM796 853h3v3h-3zM796 939h3v4h-3zM799 799h3v3h-3zM799 809h3v10h-3zM799 823h3v4h-3zM802 805h3v4h-3zM802 837h3v4h-3zM805 841h4v4h-4zM805 883h4v3h-4zM805 939h4v4h-4zM809 823h5v4h-5zM809 869h5v3h-5zM809 901h5v3h-5zM814 831h5v3h-5zM814 869h5v3h-5zM814 883h5v3h-5zM814 904h5v3h-5zM814 947h5v4h-5zM814 953h5v4h-5zM823 856h4v5h-4zM823 891h4v5h-4zM823 968h4v6h-4zM827 831h4v3h-4zM827 845h4v4h-4zM827 927h4v4h-4zM831 869h3v3h-3zM831 951h3v6h-3zM834 953h3v9h-3zM834 978h3v3h-3zM837 861h4v3h-4zM841 845h4v4h-4zM841 951h4v2h-4zM845 856h4v5h-4zM845 872h4v2h-4zM849 849h4v4h-4zM849 864h4v5h-4zM849 872h4v2h-4zM849 878h4v5h-4zM849 917h4v4h-4zM849 931h4v20h-4zM849 974h4v4h-4zM849 981h4v4h-4zM853 962h3v6h-3zM853 990h3v3h-3zM856 962h5v6h-5zM861 962h3v6h-3zM869 990h3v3h-3zM872 921h2v3h-2zM872 990h2v3h-2zM878 904h5v17h-5zM878 927h5v8h-5zM878 939h5v8h-5zM878 951h5v6h-5zM878 993h5v3h-5zM883 939h3v4h-3zM883 947h3v4h-3zM883 1024h3v4h-3zM886 891h5v16h-5zM886 910h5v7h-5zM886 927h5v30h-5zM886 978h5v12h-5zM886 993h5v3h-5zM891 891h5v5h-5zM891 907h5v14h-5zM891 927h5v8h-5zM891 943h5v14h-5zM891 974h5v4h-5zM891 993h5v3h-5zM896 910h5v3h-5zM901 910h3v3h-3zM901 931h3v4h-3zM901 947h3v6h-3zM901 981h3v4h-3zM904 904h3v3h-3zM904 917h3v4h-3zM904 931h3v4h-3zM904 939h3v4h-3zM904 947h3v10h-3zM904 974h3v7h-3zM904 985h3v5h-3zM904 993h3v6h-3zM904 1038h3v4h-3zM907 907h3v14h-3zM907 931h3v20h-3zM907 953h3v9h-3zM907 981h3v9h-3zM910 917h3v4h-3zM910 927h3v8h-3zM910 939h3v18h-3zM910 978h3v3h-3zM910 985h3v5h-3zM910 1038h3v4h-3zM913 913h4v8h-4zM913 931h4v4h-4zM913 943h4v4h-4zM913 974h4v4h-4zM913 981h4v4h-4zM913 1038h4v4h-4zM917 917h4v4h-4zM917 927h4v4h-4zM917 943h4v14h-4zM917 974h4v7h-4zM917 1038h4v4h-4zM921 921h3v3h-3zM921 951h3v2h-3zM921 968h3v6h-3zM921 1024h3v4h-3zM924 924h3v3h-3zM924 939h3v4h-3zM924 974h3v4h-3zM924 993h3v3h-3zM927 927h4v4h-4zM927 939h4v4h-4zM927 947h4v4h-4zM927 985h4v5h-4zM927 1049h4v4h-4zM931 931h4v4h-4zM931 939h4v8h-4zM931 951h4v6h-4zM931 978h4v3h-4zM931 993h4v3h-4zM931 1038h4v4h-4zM931 1046h4v3h-4zM931 1057h4v3h-4zM935 1066h4v4h-4zM939 943h4v4h-4zM939 974h4v7h-4zM939 985h4v5h-4zM939 1057h4v3h-4zM943 947h4v4h-4zM943 974h4v16h-4zM943 1038h4v4h-4zM943 1086h4v5h-4zM947 953h4v4h-4zM947 978h4v3h-4zM947 985h4v5h-4zM947 993h4v3h-4zM947 1038h4v4h-4zM947 1046h4v3h-4zM947 1083h4v3h-4zM951 951h2v6h-2zM951 981h2v4h-2zM951 993h2v3h-2zM951 1038h2v4h-2zM951 1060h2v3h-2zM951 1076h2v4h-2zM951 1091h2v5h-2zM953 953h4v4h-4zM953 974h4v7h-4zM953 985h4v5h-4zM953 1038h4v4h-4zM953 1086h4v5h-4zM957 974h5v4h-5zM957 993h5v3h-5zM957 1083h5v3h-5zM962 962h6v6h-6zM962 999h6v13h-6zM962 1031h6v3h-6zM962 1060h6v3h-6zM962 1086h6v5h-6zM968 1053h6v4h-6zM968 1063h6v3h-6zM974 974h4v4h-4zM974 981h4v9h-4zM974 1038h4v4h-4zM974 1046h4v3h-4zM978 981h3v4h-3zM978 996h3v3h-3zM978 1038h3v11h-3zM978 1091h3v5h-3zM981 981h4v9h-4zM981 1038h4v4h-4zM981 1057h4v3h-4zM981 1109h4v5h-4zM985 1015h5v4h-5zM990 990h3v3h-3zM990 999h3v4h-3zM990 1012h3v3h-3zM990 1028h3v10h-3zM990 1042h3v4h-3zM990 1076h3v4h-3zM993 1015h3v4h-3zM993 1057h3v3h-3zM993 1063h3v3h-3zM993 1083h3v3h-3zM993 1114h3v3h-3zM999 1101h4v4h-4zM999 1109h4v5h-4zM1003 1024h5v4h-5zM1003 1038h5v4h-5zM1003 1066h5v4h-5zM1003 1148h5v4h-5zM1008 1152h4v5h-4zM1012 1073h3v3h-3zM1012 1152h3v5h-3zM1015 1076h4v4h-4zM1019 1070h5v3h-5zM1019 1146h5v2h-5zM1024 1157h4v11h-4zM1028 1038h3v4h-3zM1028 1091h3v5h-3zM1031 1101h3v4h-3zM1034 1101h4v4h-4zM1038 1105h4v4h-4zM1038 1168h4v3h-4zM1042 1109h4v5h-4zM1046 1046h3v3h-3zM1046 1060h3v3h-3zM1046 1076h3v4h-3zM1046 1101h3v4h-3zM1046 1109h3v5h-3zM1046 1148h3v9h-3zM1046 1168h3v3h-3zM1049 1057h4v6h-4zM1049 1101h4v4h-4zM1049 1109h4v5h-4zM1049 1126h4v4h-4zM1049 1144h4v2h-4zM1049 1148h4v15h-4zM1049 1192h4v3h-4zM1053 1053h4v4h-4zM1053 1091h4v5h-4zM1053 1195h4v4h-4zM1057 1063h3v7h-3zM1057 1109h3v8h-3zM1057 1148h3v4h-3zM1057 1178h3v5h-3zM1057 1192h3v7h-3zM1060 1060h3v6h-3zM1060 1086h3v5h-3zM1060 1101h3v4h-3zM1060 1109h3v5h-3zM1060 1148h3v15h-3zM1060 1192h3v3h-3zM1063 1063h3v3h-3zM1063 1076h3v4h-3zM1063 1101h3v4h-3zM1063 1152h3v11h-3zM1063 1192h3v7h-3zM1070 1086h3v5h-3zM1070 1141h3v3h-3zM1073 1073h3v7h-3zM1073 1086h3v5h-3zM1073 1101h3v4h-3zM1073 1126h3v4h-3zM1073 1136h3v5h-3zM1073 1157h3v6h-3zM1073 1168h3v3h-3zM1073 1195h3v4h-3zM1076 1076h4v4h-4zM1076 1086h4v10h-4zM1076 1101h4v4h-4zM1076 1114h4v3h-4zM1076 1148h4v15h-4zM1076 1168h4v3h-4zM1076 1192h4v3h-4zM1076 1199h4v5h-4zM1080 1117h3v4h-3zM1083 1083h3v3h-3zM1086 1109h5v5h-5zM1086 1148h5v9h-5zM1086 1168h5v3h-5zM1086 1192h5v7h-5zM1091 1091h5v5h-5zM1091 1195h5v9h-5zM1101 1101h4v4h-4zM1101 1109h4v8h-4zM1101 1152h4v11h-4zM1101 1168h4v3h-4zM1101 1212h4v5h-4zM1105 1114h4v3h-4zM1109 1114h5v3h-5zM1109 1157h5v11h-5zM1109 1183h5v5h-5zM1109 1192h5v7h-5zM1109 1222h5v2h-5zM1114 1114h3v3h-3zM1114 1126h3v4h-3zM1114 1148h3v4h-3zM1114 1157h3v6h-3zM1114 1192h3v3h-3zM1114 1229h3v4h-3zM1114 1247h3v5h-3zM1117 1168h4v3h-4zM1121 1152h5v11h-5zM1130 1148h2v4h-2zM1130 1192h2v3h-2zM1130 1224h2v5h-2zM1144 1199h2v5h-2zM1146 1195h2v4h-2zM1146 1224h2v5h-2zM1148 1148h4v9h-4zM1148 1195h4v4h-4zM1152 1152h5v16h-5zM1152 1174h5v4h-5zM1152 1183h5v5h-5zM1152 1192h5v7h-5zM1152 1238h5v9h-5zM1152 1252h5v3h-5zM1157 1157h6v6h-6zM1157 1168h6v3h-6zM1157 1192h6v3h-6zM1157 1212h6v5h-6zM1157 1286h6v3h-6zM1163 1274h5v4h-5zM1168 1168h3v3h-3zM1192 1192h3v7h-3zM1192 1204h3v3h-3zM1192 1238h3v4h-3zM1192 1278h3v5h-3zM1192 1328h3v3h-3zM1195 1195h4v4h-4zM1195 1207h4v5h-4zM1195 1217h4v7h-4zM1195 1238h4v4h-4zM1195 1255h4v3h-4zM1195 1274h4v4h-4zM1195 1299h4v4h-4zM1195 1328h4v3h-4zM1199 1222h5v2h-5zM1199 1299h5v4h-5zM1199 1314h5v6h-5zM1204 1247h3v5h-3zM1207 1207h5v5h-5zM1207 1217h5v7h-5zM1207 1229h5v4h-5zM1207 1252h5v3h-5zM1207 1286h5v8h-5zM1212 1320h5v4h-5zM1212 1331h5v0h-5zM1217 1217h5v5h-5zM1217 1229h5v4h-5zM1217 1238h5v4h-5zM1217 1252h5v3h-5zM1217 1309h5v5h-5zM1217 1324h5v4h-5zM1222 1222h2v2h-2zM1222 1229h2v4h-2zM1222 1238h2v4h-2zM1222 1252h2v3h-2zM1222 1258h2v4h-2zM1222 1274h2v4h-2zM1222 1324h2v4h-2zM1222 1331h2v0h-2zM1224 1238h5v4h-5zM1224 1320h5v4h-5zM1229 1229h4v4h-4zM1229 1258h4v4h-4zM1229 1265h4v9h-4zM1229 1283h4v3h-4zM1229 1309h4v5h-4zM1238 1252h4v3h-4zM1238 1258h4v4h-4zM1242 1242h5v10h-5zM1242 1289h5v10h-5zM1242 1309h5v5h-5zM1242 1328h5v3h-5zM1247 1247h5v5h-5zM1247 1289h5v5h-5zM1247 1309h5v5h-5zM1247 1328h5v3h-5zM1252 1283h3v3h-3zM1252 1314h3v6h-3zM1252 1324h3v4h-3zM1258 1286h4v3h-4zM1274 1331h4v0h-4zM1283 1299h3v4h-3zM1283 1324h3v4h-3zM1286 1299h3v4h-3zM1286 1331h3v0h-3zM1289 1294h5v5h-5zM1289 1328h5v3h-5zM1294 1294h5v5h-5zM1294 1309h5v5h-5zM1294 1328h5v3h-5zM1309 1309h5v5h-5zM1328 1328h3v3h-3zM1331 1331h0v0h0z"/>
<path fill="#e84a4e" d="M853 853h3v16h-3zM853 874h3v4h-3zM853 891h3v5h-3zM853 901h3v6h-3zM853 910h3v11h-3zM853 924h3v7h-3zM853 939h3v8h-3zM853 951h3v2h-3zM853 957h3v5h-3zM853 974h3v4h-3zM856 864h5v8h-5zM856 874h5v9h-5zM856 886h5v5h-5zM856 907h5v14h-5zM856 927h5v8h-5zM856 939h5v14h-5zM856 957h5v5h-5zM856 985h5v5h-5zM856 999h5v4h-5zM861 861h3v3h-3zM861 874h3v9h-3zM861 904h3v6h-3zM861 913h3v4h-3zM861 924h3v11h-3zM861 943h3v4h-3zM861 951h3v11h-3zM861 981h3v9h-3zM861 993h3v3h-3zM864 864h5v14h-5zM864 886h5v5h-5zM864 901h5v6h-5zM864 927h5v4h-5zM864 939h5v12h-5zM864 953h5v4h-5zM864 974h5v7h-5zM864 985h5v5h-5zM864 993h5v3h-5zM869 872h3v2h-3zM869 878h3v5h-3zM869 891h3v5h-3zM869 904h3v17h-3zM869 927h3v16h-3zM869 985h3v5h-3zM869 996h3v7h-3zM872 874h2v9h-2zM872 896h2v5h-2zM872 907h2v10h-2zM872 924h2v23h-2zM872 953h2v4h-2zM872 978h2v3h-2zM872 985h2v5h-2zM872 999h2v16h-2zM874 878h4v5h-4zM874 886h4v5h-4zM874 896h4v5h-4zM874 904h4v3h-4zM874 910h4v3h-4zM874 917h4v4h-4zM874 924h4v3h-4zM874 935h4v4h-4zM874 943h4v4h-4zM874 985h4v5h-4zM874 993h4v3h-4zM874 1008h4v4h-4zM874 1019h4v5h-4zM878 999h5v4h-5zM878 1008h5v7h-5zM886 999h5v16h-5zM886 1019h5v5h-5zM891 1012h5v3h-5zM896 962h5v6h-5zM896 990h5v3h-5zM896 999h5v4h-5zM896 1008h5v4h-5zM896 1019h5v5h-5zM901 990h3v3h-3zM901 999h3v13h-3zM901 1028h3v3h-3zM901 1034h3v4h-3zM904 962h3v6h-3zM904 999h3v4h-3zM907 990h3v3h-3zM907 1003h3v5h-3zM907 1028h3v6h-3zM910 962h3v6h-3zM910 990h3v3h-3zM910 1003h3v9h-3zM913 999h4v9h-4zM913 1012h4v3h-4zM913 1028h4v3h-4zM913 1034h4v4h-4zM917 990h4v3h-4zM917 1003h4v12h-4zM917 1019h4v5h-4zM917 1031h4v7h-4zM924 1012h3v3h-3zM924 1019h3v5h-3zM924 1028h3v3h-3zM927 1003h4v5h-4zM927 1012h4v3h-4zM927 1031h4v7h-4zM931 990h4v3h-4zM931 1028h4v3h-4zM931 1034h4v4h-4zM935 999h4v16h-4zM935 1019h4v5h-4zM939 962h4v6h-4zM939 1003h4v5h-4zM939 1012h4v3h-4zM939 1019h4v5h-4zM939 1028h4v3h-4zM943 1019h4v5h-4zM943 1028h4v6h-4zM947 962h4v6h-4zM947 999h4v13h-4zM951 962h2v6h-2zM951 990h2v3h-2zM951 999h2v4h-2zM951 1008h2v4h-2zM953 962h4v6h-4zM953 999h4v16h-4zM953 1019h4v5h-4zM953 1031h4v3h-4zM957 962h5v6h-5zM957 1012h5v3h-5zM957 1019h5v5h-5zM957 1028h5v10h-5zM962 974h6v11h-6zM974 990h4v3h-4zM974 1003h4v5h-4zM974 1028h4v10h-4zM978 1019h3v5h-3zM978 1031h3v7h-3zM981 990h4v3h-4zM981 1008h4v7h-4zM981 1019h4v5h-4zM981 1028h4v3h-4zM981 1034h4v4h-4zM985 999h5v4h-5zM985 1012h5v3h-5zM985 1028h5v6h-5zM990 993h3v3h-3zM993 1019h3v5h-3zM996 999h3v4h-3zM996 1012h3v3h-3zM996 1028h3v10h-3zM999 1003h4v5h-4zM999 1012h4v3h-4zM999 1019h4v5h-4zM999 1028h4v3h-4zM999 1034h4v4h-4zM1003 1003h5v5h-5zM1003 1012h5v3h-5zM1003 1019h5v5h-5zM1003 1028h5v3h-5zM1003 1034h5v4h-5zM1008 1008h4v4h-4zM1008 1031h4v7h-4zM1012 1019h3v5h-3zM1012 1028h3v3h-3zM1012 1034h3v4h-3zM1019 1031h5v3h-5zM1028 1028h3v10h-3zM1031 1031h3v3h-3zM1034 1034h4v4h-4zM1204 1217h3v5h-3zM1204 1229h3v9h-3zM1204 1252h3v6h-3zM1204 1265h3v9h-3zM1207 1212h5v5h-5zM1207 1247h5v5h-5zM1212 1217h5v5h-5zM1212 1258h5v4h-5zM1212 1270h5v4h-5zM1222 1242h2v10h-2zM1229 1242h4v10h-4zM1233 1242h5v5h-5zM1238 1242h4v5h-4zM1242 1252h5v26h-5zM1242 1286h5v3h-5zM1242 1299h5v10h-5zM1242 1314h5v6h-5zM1242 1324h5v4h-5zM1242 1331h5v0h-5zM1247 1252h5v6h-5zM1247 1262h5v16h-5zM1247 1283h5v6h-5zM1247 1299h5v4h-5zM1247 1314h5v6h-5zM1247 1324h5v4h-5zM1247 1331h5v0h-5zM1252 1289h3v10h-3zM1252 1309h3v5h-3zM1252 1328h3v3h-3zM1255 1289h3v10h-3zM1255 1309h3v5h-3zM1255 1328h3v3h-3zM1258 1289h4v10h-4zM1258 1309h4v5h-4zM1258 1328h4v3h-4zM1262 1289h3v10h-3zM1262 1309h3v5h-3zM1262 1328h3v3h-3zM1265 1289h5v5h-5zM1265 1309h5v5h-5zM1265 1328h5v3h-5zM1270 1289h4v10h-4zM1270 1309h4v5h-4zM1270 1328h4v3h-4zM1274 1289h4v10h-4zM1274 1309h4v5h-4zM1274 1328h4v3h-4zM1283 1289h3v10h-3zM1283 1328h3v3h-3zM1286 1289h3v10h-3zM1286 1309h3v5h-3zM1286 1328h3v3h-3zM1289 1299h5v10h-5zM1289 1314h5v6h-5zM1289 1324h5v4h-5zM1289 1331h5v0h-5zM1294 1303h5v6h-5zM1294 1314h5v6h-5zM1294 1324h5v4h-5zM1294 1331h5v0h-5zM1299 1309h4v5h-4zM1299 1328h4v3h-4zM1303 1309h6v5h-6zM1303 1328h6v3h-6zM1309 1314h5v6h-5zM1309 1324h5v4h-5zM1309 1331h5v0h-5zM1314 1328h6v3h-6zM1328 1331h3v0h-3z"/>
<path fill="#dc1f27" d="M878 878h5v5h-5zM878 886h5v10h-5zM878 901h5v3h-5zM878 924h5v3h-5zM878 947h5v4h-5zM878 957h5v5h-5zM878 974h5v16h-5zM886 886h5v5h-5zM886 907h5v3h-5zM886 917h5v4h-5zM886 924h5v3h-5zM886 957h5v5h-5zM886 974h5v4h-5zM886 996h5v3h-5zM891 904h5v3h-5zM891 924h5v3h-5zM891 935h5v8h-5zM891 957h5v5h-5zM891 978h5v12h-5zM896 896h5v5h-5zM896 913h5v4h-5zM896 931h5v8h-5zM896 943h5v4h-5zM896 978h5v3h-5zM896 985h5v5h-5zM896 993h5v3h-5zM901 935h3v12h-3zM901 974h3v7h-3zM901 993h3v3h-3zM904 907h3v10h-3zM904 924h3v7h-3zM904 935h3v4h-3zM904 943h3v4h-3zM904 957h3v5h-3zM904 981h3v4h-3zM907 924h3v7h-3zM907 951h3v2h-3zM907 974h3v7h-3zM907 993h3v3h-3zM910 910h3v7h-3zM910 957h3v5h-3zM910 974h3v4h-3zM910 981h3v4h-3zM910 993h3v3h-3zM913 924h4v7h-4zM913 939h4v4h-4zM913 947h4v10h-4zM913 978h4v3h-4zM913 985h4v5h-4zM913 993h4v3h-4zM917 931h4v4h-4zM917 939h4v4h-4zM917 981h4v9h-4zM917 993h4v6h-4zM924 927h3v4h-3zM924 947h3v10h-3zM924 981h3v4h-3zM927 931h4v8h-4zM927 943h4v4h-4zM927 951h4v6h-4zM927 974h4v11h-4zM927 993h4v3h-4zM931 935h4v4h-4zM931 947h4v4h-4zM931 974h4v4h-4zM931 981h4v9h-4zM931 996h4v3h-4zM935 943h4v8h-4zM935 981h4v4h-4zM935 993h4v6h-4zM939 939h4v4h-4zM939 947h4v10h-4zM939 981h4v4h-4zM939 993h4v3h-4zM943 943h4v4h-4zM943 951h4v11h-4zM943 993h4v3h-4zM947 947h4v6h-4zM947 974h4v4h-4zM947 981h4v4h-4zM951 957h2v5h-2zM951 974h2v7h-2zM951 985h2v5h-2zM951 996h2v3h-2zM953 981h4v4h-4zM953 993h4v3h-4zM957 985h5v5h-5zM957 996h5v3h-5zM974 978h4v3h-4zM974 993h4v6h-4zM978 978h3v3h-3zM978 985h3v5h-3zM978 993h3v3h-3zM981 993h4v3h-4zM985 985h5v5h-5zM985 993h5v6h-5zM993 993h3v3h-3zM996 996h3v3h-3zM1195 1229h4v9h-4zM1195 1252h4v3h-4zM1195 1258h4v4h-4zM1195 1265h4v5h-4zM1207 1233h5v9h-5zM1207 1258h5v20h-5zM1217 1222h5v2h-5zM1217 1255h5v10h-5zM1217 1274h5v4h-5zM1222 1270h2v4h-2zM1229 1233h4v9h-4zM1229 1252h4v3h-4zM1229 1274h4v4h-4zM1233 1238h5v4h-5zM1233 1252h5v3h-5zM1233 1258h5v7h-5zM1238 1238h4v4h-4zM1238 1255h4v3h-4zM1238 1265h4v5h-4zM1238 1274h4v4h-4zM1252 1252h3v26h-3zM1252 1286h3v3h-3zM1252 1299h3v4h-3zM1252 1331h3v0h-3zM1255 1255h3v15h-3zM1255 1274h3v4h-3zM1255 1283h3v3h-3zM1255 1299h3v10h-3zM1255 1314h3v6h-3zM1255 1324h3v4h-3zM1255 1331h3v0h-3zM1258 1258h4v20h-4zM1258 1283h4v3h-4zM1258 1299h4v10h-4zM1258 1314h4v6h-4zM1258 1324h4v4h-4zM1258 1331h4v0h-4zM1262 1262h3v16h-3zM1262 1283h3v6h-3zM1262 1299h3v4h-3zM1262 1314h3v6h-3zM1262 1331h3v0h-3zM1265 1265h5v13h-5zM1265 1283h5v3h-5zM1265 1299h5v10h-5zM1265 1314h5v6h-5zM1265 1324h5v4h-5zM1265 1331h5v0h-5zM1270 1270h4v4h-4zM1270 1283h4v6h-4zM1270 1299h4v10h-4zM1270 1314h4v6h-4zM1270 1324h4v4h-4zM1270 1331h4v0h-4zM1274 1274h4v4h-4zM1274 1283h4v6h-4zM1274 1299h4v10h-4zM1274 1314h4v6h-4zM1274 1324h4v4h-4zM1283 1283h3v6h-3zM1283 1303h3v6h-3zM1283 1314h3v6h-3zM1283 1331h3v0h-3zM1286 1286h3v3h-3zM1286 1303h3v6h-3zM1286 1314h3v6h-3zM1286 1324h3v4h-3zM1299 1299h4v10h-4zM1299 1314h4v6h-4zM1299 1324h4v4h-4zM1299 1331h4v0h-4zM1303 1303h6v6h-6zM1303 1314h6v6h-6zM1303 1324h6v4h-6zM1303 1331h6v0h-6zM1314 1314h6v6h-6zM1314 1324h6v4h-6zM1314 1331h6v0h-6zM1324 1324h4v4h-4zM1324 1331h4v0h-4z"/>
<path stroke="#fff" stroke-width="1.6" opacity="0.75" fill="none" d="M799 799v142M799 799h-142M834 834v142M834 834h-142M837 837v142M837 837h-142M841 841v142M841 841h-142M845 845v142M845 845h-142M849 849v142M849 849h-142M856 856v142M856 856h-142M861 861v142M861 861h-142M864 864v142M864 864h-142M869 869v142M869 869h-142M874 874v142M874 874h-142M891 891v142M891 891h-142M904 904v142M904 904h-142M910 910v142M910 910h-142M921 921v142M921 921h-142M924 924v142M924 924h-142M931 931v142M931 931h-142M935 935v142M935 935h-142M962 962v142M962 962h-142M999 999v142M999 999h-142M1003 1003v142M1003 1003h-142M1008 1008v142M1008 1008h-142M1012 1012v142M1012 1012h-142M1046 1046v142M1046 1046h-142M1049 1049v142M1049 1049h-142M1057 1057v142M1057 1057h-142M1083 1083v142M1083 1083h-142M1091 1091v142M1091 1091h-142M1121 1121v142M1121 1121h-142M1130 1130v142M1130 1130h-142M1132 1132v142M1132 1132h-142M1157 1157v142M1157 1157h-142M1171 1171v142M1171 1171h-142M1178 1178v142M1178 1178h-142M1195 1195v142M1195 1195h-142M1212 1212v142M1212 1212h-142M1217 1217v142M1217 1217h-142M1224 1224v142M1224 1224h-142M1233 1233v142M1233 1233h-142M1252 1252v142M1252 1252h-142M1255 1255v142M1255 1255h-142M1258 1258v142M1258 1258h-142M1262 1262v142M1262 1262h-142M1265 1265v142M1265 1265h-142M1289 1289v142M1289 1289h-142M1299 1299v142M1299 1299h-142M1309 1309v142M1309 1309h-142M1328 1328v142M1328 1328h-142M1331 1331v142M1331 1331h-142"/>
</g></g>
<clipPath id="hcBL"><path d="M78.5 478.6L100.10000000000002 457H303.4L325 478.6z"/></clipPath>
<g clip-path="url(#hcBL)"><g transform="matrix(0.25 0.25 0.25 -0.25 0 478.6)">
<path fill="#e2e6f4" d="M157 174h2v4h-2zM159 252h4v6h-4zM168 224h6v6h-6zM174 181h4v3h-4zM174 199h4v4h-4zM174 207h4v3h-4zM174 215h4v15h-4zM174 241h4v5h-4zM181 252h3v6h-3zM184 203h3v4h-3zM184 252h3v6h-3zM187 221h5v3h-5zM187 258h5v6h-5zM192 192h4v4h-4zM192 199h4v4h-4zM192 207h4v3h-4zM192 215h4v6h-4zM192 230h4v5h-4zM192 284h4v5h-4zM196 207h3v3h-3zM196 221h3v3h-3zM196 227h3v3h-3zM196 241h3v5h-3zM196 252h3v6h-3zM199 203h4v4h-4zM199 230h4v5h-4zM199 252h4v6h-4zM203 227h4v3h-4zM203 252h4v6h-4zM207 207h3v3h-3zM207 224h3v3h-3zM215 252h6v12h-6zM215 302h6v4h-6zM221 299h3v3h-3zM221 306h3v4h-3zM227 235h3v17h-3zM227 284h3v5h-3zM227 299h3v3h-3zM227 313h3v5h-3zM230 264h5v6h-5zM230 302h5v8h-5zM230 313h5v5h-5zM230 323h5v7h-5zM235 306h6v4h-6zM235 323h6v7h-6zM241 252h5v6h-5zM241 299h5v3h-5zM241 306h5v4h-5zM246 306h6v4h-6zM246 323h6v7h-6zM252 274h6v10h-6zM252 294h6v5h-6zM252 306h6v7h-6zM252 340h6v5h-6zM264 302h6v8h-6zM270 299h4v7h-4zM274 299h5v3h-5zM279 299h5v7h-5zM284 299h5v7h-5zM284 354h5v4h-5zM289 302h5v4h-5zM294 306h5v4h-5zM299 313h3v5h-3zM299 323h3v22h-3zM299 350h3v4h-3zM299 362h3v7h-3zM299 373h3v12h-3zM299 392h3v4h-3zM302 302h4v8h-4zM302 330h4v10h-4zM302 345h4v9h-4zM302 358h4v4h-4zM302 365h4v20h-4zM302 389h4v3h-4zM306 313h4v5h-4zM306 335h4v15h-4zM306 365h4v8h-4zM306 376h4v5h-4zM306 385h4v11h-4zM306 399h4v3h-4zM313 385h5v4h-5zM318 323h5v7h-5zM318 354h5v4h-5zM340 354h5v4h-5zM354 424h4v4h-4zM358 451h4v6h-4zM369 461h4v3h-4zM385 424h4v10h-4zM385 438h4v3h-4zM385 457h4v4h-4zM385 469h4v12h-4zM396 461h3v3h-3zM399 461h3v3h-3zM402 464h4v5h-4zM409 475h4v6h-4zM413 461h5v3h-5zM418 451h6v6h-6zM418 514h6v5h-6zM424 451h4v6h-4zM424 461h4v3h-4zM424 508h4v6h-4zM428 508h6v6h-6zM428 519h6v4h-6zM434 481h4v4h-4zM434 508h4v6h-4zM438 461h3v3h-3zM438 495h3v4h-3zM438 514h3v5h-3zM441 523h4v4h-4zM445 461h6v3h-6zM451 508h6v6h-6zM451 537h6v9h-6zM461 495h3v4h-3zM461 523h3v4h-3zM461 532h3v18h-3zM469 508h6v6h-6zM475 475h6v6h-6zM481 532h4v5h-4zM495 541h4v5h-4zM495 588h4v3h-4zM499 514h5v5h-5zM504 508h4v6h-4zM504 546h4v4h-4zM504 595h4v3h-4zM508 508h6v6h-6zM508 523h6v4h-6zM508 532h6v5h-6zM508 541h6v5h-6zM508 550h6v4h-6zM508 561h6v4h-6zM508 571h6v4h-6zM508 584h6v7h-6zM508 600h6v5h-6zM514 519h5v4h-5zM514 537h5v9h-5zM514 554h5v3h-5zM514 565h5v6h-5zM514 595h5v3h-5zM514 600h5v9h-5zM519 523h4v4h-4zM519 554h4v3h-4zM523 591h4v7h-4zM532 554h5v3h-5zM532 565h5v6h-5zM532 595h5v3h-5zM532 616h5v4h-5zM537 598h4v2h-4zM537 616h4v4h-4zM541 595h5v5h-5zM546 561h4v7h-4zM550 588h4v3h-4zM550 598h4v2h-4zM554 580h3v4h-3zM554 591h3v4h-3zM557 598h4v2h-4zM568 595h3v3h-3zM575 595h5v5h-5zM575 631h5v9h-5zM595 616h3v8h-3zM595 627h3v4h-3zM595 636h3v7h-3zM598 600h2v5h-2zM598 643h2v4h-2zM598 650h2v0h-2zM620 627h4v4h-4zM624 643h3v4h-3z"/>
<path fill="#bcc3e3" d="M157 227h2v3h-2zM159 227h4v3h-4zM163 227h5v3h-5zM168 246h6v12h-6zM174 196h4v3h-4zM174 203h4v4h-4zM174 230h4v11h-4zM174 246h4v24h-4zM178 227h3v3h-3zM178 252h3v6h-3zM181 227h3v3h-3zM187 227h5v3h-5zM187 252h5v6h-5zM192 252h4v6h-4zM199 227h4v3h-4zM207 227h3v3h-3zM207 252h3v6h-3zM207 299h3v3h-3zM210 227h5v3h-5zM210 252h5v6h-5zM210 299h5v3h-5zM215 306h6v4h-6zM224 227h3v3h-3zM224 252h3v6h-3zM224 284h3v5h-3zM224 306h3v4h-3zM227 252h3v27h-3zM227 289h3v5h-3zM227 302h3v4h-3zM227 310h3v3h-3zM227 318h3v5h-3zM230 252h5v6h-5zM230 299h5v3h-5zM235 299h6v3h-6zM241 302h5v4h-5zM241 323h5v7h-5zM246 299h6v7h-6zM252 299h6v3h-6zM258 299h6v11h-6zM264 299h6v3h-6zM264 323h6v7h-6zM270 306h4v4h-4zM274 306h5v4h-5zM274 323h5v7h-5zM284 306h5v4h-5zM289 306h5v4h-5zM294 302h5v4h-5zM299 299h3v11h-3zM299 318h3v5h-3zM299 345h3v5h-3zM299 354h3v8h-3zM299 369h3v4h-3zM299 385h3v7h-3zM302 310h4v20h-4zM302 340h4v5h-4zM302 354h4v4h-4zM302 385h4v4h-4zM302 392h4v7h-4zM306 306h4v4h-4zM306 318h4v17h-4zM306 354h4v8h-4zM306 381h4v4h-4zM310 385h3v4h-3zM318 385h5v4h-5zM323 362h7v3h-7zM323 392h7v4h-7zM323 413h7v5h-7zM354 389h4v3h-4zM354 438h4v7h-4zM362 451h3v6h-3zM373 461h3v3h-3zM376 461h5v3h-5zM385 464h4v5h-4zM389 461h3v3h-3zM392 451h4v6h-4zM392 485h4v5h-4zM396 451h3v6h-3zM399 485h3v5h-3zM413 451h5v6h-5zM413 508h5v6h-5zM418 461h6v3h-6zM418 508h6v6h-6zM424 514h4v5h-4zM428 461h6v3h-6zM434 461h4v3h-4zM434 514h4v5h-4zM438 469h3v6h-3zM438 508h3v6h-3zM445 508h6v11h-6zM451 457h6v4h-6zM451 475h6v15h-6zM451 514h6v5h-6zM451 523h6v4h-6zM451 532h6v5h-6zM451 546h6v4h-6zM461 461h3v3h-3zM461 485h3v5h-3zM461 527h3v5h-3zM461 550h3v7h-3zM464 508h5v6h-5zM469 537h6v4h-6zM475 508h6v11h-6zM481 508h4v6h-4zM481 557h4v4h-4zM485 508h5v11h-5zM495 514h4v5h-4zM504 514h4v5h-4zM508 537h6v4h-6zM508 546h6v4h-6zM508 554h6v7h-6zM508 565h6v6h-6zM508 575h6v9h-6zM508 595h6v5h-6zM514 523h5v4h-5zM514 532h5v5h-5zM514 546h5v4h-5zM514 557h5v8h-5zM514 571h5v24h-5zM519 595h4v3h-4zM523 598h4v2h-4zM527 595h5v5h-5zM537 595h4v3h-4zM546 598h4v2h-4zM550 571h4v4h-4zM550 595h4v3h-4zM561 598h4v2h-4zM565 598h3v2h-3zM568 598h3v2h-3zM571 598h4v2h-4zM580 598h4v2h-4zM588 595h3v5h-3zM595 595h3v3h-3zM595 609h3v7h-3zM595 624h3v3h-3zM595 631h3v5h-3zM595 647h3v3h-3zM598 624h2v19h-2z"/>
<path fill="#f9cdca" d="M159 215h4v6h-4zM178 192h3v4h-3zM192 210h4v5h-4zM207 235h3v6h-3zM207 264h3v6h-3zM221 235h3v6h-3zM224 235h3v6h-3zM230 235h5v6h-5zM235 279h6v5h-6zM241 318h5v5h-5zM258 318h6v5h-6zM306 362h4v3h-4zM313 392h5v4h-5zM330 424h5v4h-5zM335 424h5v4h-5zM340 424h5v4h-5zM345 424h5v4h-5zM350 424h4v4h-4zM358 424h4v4h-4zM362 413h3v5h-3zM365 424h4v4h-4zM369 424h4v4h-4zM369 438h4v3h-4zM373 424h3v4h-3zM376 424h5v4h-5zM381 424h4v4h-4zM389 424h3v4h-3zM392 424h4v4h-4zM392 434h4v4h-4zM392 445h4v6h-4zM396 424h3v4h-3zM396 481h3v4h-3zM399 424h3v4h-3zM402 424h4v4h-4zM402 438h4v3h-4zM402 469h4v6h-4zM409 424h4v4h-4zM409 438h4v3h-4zM413 428h5v6h-5zM413 445h5v6h-5zM418 424h6v4h-6zM424 428h4v6h-4zM424 438h4v7h-4zM438 445h3v6h-3zM438 504h3v4h-3zM441 457h4v4h-4zM441 464h4v11h-4zM441 485h4v23h-4zM441 519h4v4h-4zM441 527h4v5h-4zM445 457h6v4h-6zM445 464h6v11h-6zM445 495h6v4h-6zM445 504h6v4h-6zM445 523h6v9h-6zM457 464h4v5h-4zM457 475h4v6h-4zM457 495h4v4h-4zM457 504h4v10h-4zM457 519h4v8h-4zM457 537h4v4h-4zM457 550h4v4h-4zM464 469h5v6h-5zM464 481h5v9h-5zM464 499h5v9h-5zM464 519h5v8h-5zM469 475h6v6h-6zM469 523h6v4h-6zM475 481h6v4h-6zM475 490h6v9h-6zM475 537h6v4h-6zM481 523h4v9h-4zM485 523h5v4h-5zM490 527h5v10h-5zM495 527h4v5h-4zM499 523h5v4h-5zM504 527h4v5h-4zM519 527h4v5h-4zM523 527h4v5h-4zM527 527h5v5h-5zM527 609h5v4h-5zM537 627h4v4h-4zM546 568h4v3h-4zM557 591h4v4h-4zM565 595h3v3h-3zM565 613h3v3h-3zM568 613h3v3h-3zM571 650h4v0h-4zM580 595h4v3h-4zM584 647h4v3h-4zM588 613h3v3h-3zM595 605h3v4h-3zM598 613h2v3h-2zM600 631h5v5h-5zM605 613h4v3h-4zM613 620h3v4h-3zM616 631h4v5h-4zM624 627h3v4h-3zM624 647h3v3h-3zM627 647h4v3h-4z"/>
<path fill="#f29590" d="M157 187h2v5h-2zM159 163h4v5h-4zM159 178h4v6h-4zM159 196h4v3h-4zM163 163h5v5h-5zM163 178h5v3h-5zM168 184h6v3h-6zM174 174h4v4h-4zM187 187h5v5h-5zM215 227h6v8h-6zM221 224h3v3h-3zM221 241h3v5h-3zM227 227h3v3h-3zM235 235h6v6h-6zM235 318h6v5h-6zM241 246h5v6h-5zM241 258h5v12h-5zM241 274h5v5h-5zM241 294h5v5h-5zM246 258h6v6h-6zM246 270h6v4h-6zM246 335h6v10h-6zM252 302h6v4h-6zM258 264h6v10h-6zM258 279h6v5h-6zM258 294h6v5h-6zM258 335h6v5h-6zM264 270h6v24h-6zM264 330h6v5h-6zM264 340h6v5h-6zM270 284h4v5h-4zM270 350h4v4h-4zM270 358h4v7h-4zM274 284h5v10h-5zM274 302h5v4h-5zM274 313h5v5h-5zM274 335h5v5h-5zM274 345h5v9h-5zM279 289h5v5h-5zM279 313h5v5h-5zM279 340h5v5h-5zM284 284h5v5h-5zM284 345h5v9h-5zM289 299h5v3h-5zM289 310h5v3h-5zM289 330h5v5h-5zM289 358h5v4h-5zM289 369h5v7h-5zM294 294h5v5h-5zM294 310h5v3h-5zM294 345h5v5h-5zM294 376h5v5h-5zM294 389h5v3h-5zM302 362h4v3h-4zM310 335h3v5h-3zM310 345h3v5h-3zM310 389h3v3h-3zM313 330h5v5h-5zM313 399h5v3h-5zM318 318h5v5h-5zM318 392h5v4h-5zM318 413h5v5h-5zM323 323h7v7h-7zM330 335h5v5h-5zM330 358h5v4h-5zM330 376h5v5h-5zM330 396h5v3h-5zM330 402h5v4h-5zM330 409h5v4h-5zM330 418h5v6h-5zM335 340h5v5h-5zM335 399h5v3h-5zM340 340h5v10h-5zM340 358h5v4h-5zM340 376h5v5h-5zM340 418h5v6h-5zM340 434h5v4h-5zM345 409h5v4h-5zM350 350h4v4h-4zM350 358h4v4h-4zM350 365h4v8h-4zM350 381h4v4h-4zM350 409h4v4h-4zM358 381h4v4h-4zM358 434h4v4h-4zM358 441h4v10h-4zM362 409h3v4h-3zM365 369h4v4h-4zM365 376h4v5h-4zM365 402h4v4h-4zM365 428h4v6h-4zM369 369h4v7h-4zM369 381h4v4h-4zM369 389h4v3h-4zM369 434h4v4h-4zM373 445h3v6h-3zM376 396h5v6h-5zM376 434h5v4h-5zM376 441h5v4h-5zM381 406h4v3h-4zM381 445h4v6h-4zM385 399h4v3h-4zM385 451h4v6h-4zM389 434h3v4h-3zM392 392h4v4h-4zM392 413h4v5h-4zM392 438h4v3h-4zM396 434h3v4h-3zM399 434h3v4h-3zM402 402h4v4h-4zM402 434h4v4h-4zM402 445h4v6h-4zM406 441h3v4h-3zM409 409h4v4h-4zM409 434h4v4h-4zM409 445h4v6h-4zM413 413h5v5h-5zM413 438h5v3h-5zM413 495h5v4h-5zM418 418h6v6h-6zM418 428h6v10h-6zM428 445h6v6h-6zM434 441h4v10h-4zM464 541h5v5h-5zM469 469h6v6h-6zM469 495h6v9h-6zM481 481h4v4h-4zM481 495h4v9h-4zM485 499h5v9h-5zM485 568h5v3h-5zM495 504h4v4h-4zM495 519h4v4h-4zM499 519h5v4h-5zM504 504h4v4h-4zM561 565h4v3h-4zM561 575h4v13h-4zM561 591h4v4h-4zM561 600h4v13h-4zM565 568h3v3h-3zM565 600h3v5h-3zM565 609h3v4h-3zM565 616h3v4h-3zM568 568h3v3h-3zM568 575h3v5h-3zM568 600h3v5h-3zM568 609h3v4h-3zM568 616h3v4h-3zM571 584h4v4h-4zM571 591h4v4h-4zM571 600h4v5h-4zM575 584h5v7h-5zM575 620h5v4h-5zM580 591h4v4h-4zM580 600h4v5h-4zM580 616h4v4h-4zM584 600h4v5h-4zM584 609h4v4h-4zM588 600h3v9h-3zM588 616h3v8h-3zM588 650h3v0h-3zM591 591h4v4h-4zM591 609h4v4h-4zM591 616h4v4h-4zM600 600h5v5h-5zM600 609h5v4h-5zM605 609h4v4h-4zM605 620h4v4h-4zM609 609h4v4h-4zM613 613h3v3h-3zM613 624h3v3h-3z"/>
<path fill="#e84a4e" d="M159 174h4v4h-4zM163 174h5v4h-5zM168 174h6v4h-6zM174 178h4v3h-4zM174 184h4v8h-4zM215 235h6v6h-6zM235 241h6v38h-6zM235 284h6v15h-6zM235 302h6v4h-6zM235 310h6v8h-6zM235 330h6v5h-6zM246 318h6v5h-6zM252 318h6v12h-6zM258 323h6v7h-6zM264 318h6v5h-6zM270 318h4v12h-4zM274 318h5v5h-5zM279 306h5v4h-5zM279 318h5v12h-5zM284 318h5v12h-5zM289 318h5v12h-5zM294 318h5v12h-5zM306 310h4v3h-4zM306 350h4v4h-4zM306 373h4v3h-4zM306 396h4v3h-4zM310 318h3v12h-3zM310 392h3v4h-3zM313 318h5v12h-5zM318 330h5v24h-5zM318 358h5v27h-5zM318 389h5v3h-5zM318 396h5v17h-5zM323 330h7v32h-7zM323 365h7v27h-7zM323 396h7v17h-7zM323 418h7v6h-7zM330 392h5v4h-5zM330 413h5v5h-5zM335 392h5v4h-5zM335 413h5v5h-5zM340 392h5v4h-5zM340 413h5v5h-5zM345 392h5v4h-5zM345 413h5v5h-5zM345 438h5v3h-5zM350 392h4v4h-4zM350 413h4v5h-4zM350 438h4v3h-4zM354 392h4v4h-4zM354 413h4v5h-4zM358 392h4v4h-4zM358 413h4v5h-4zM358 438h4v3h-4zM362 392h3v4h-3zM362 438h3v3h-3zM365 392h4v4h-4zM365 413h4v5h-4zM365 438h4v3h-4zM369 392h4v4h-4zM369 413h4v5h-4zM373 392h3v4h-3zM373 413h3v5h-3zM373 438h3v3h-3zM376 392h5v4h-5zM376 413h5v5h-5zM376 438h5v3h-5zM381 392h4v4h-4zM381 413h4v5h-4zM381 438h4v3h-4zM385 392h4v4h-4zM385 413h4v5h-4zM389 392h3v4h-3zM389 413h3v5h-3zM389 438h3v3h-3zM392 396h4v17h-4zM392 418h4v6h-4zM392 428h4v6h-4zM392 441h4v4h-4zM396 413h3v5h-3zM396 438h3v3h-3zM399 413h3v5h-3zM399 438h3v3h-3zM402 413h4v5h-4zM406 413h3v5h-3zM406 438h3v3h-3zM409 413h4v5h-4zM413 418h5v6h-5zM413 434h5v4h-5zM413 441h5v4h-5zM418 438h6v3h-6zM428 438h6v3h-6zM434 438h4v3h-4zM438 441h3v4h-3zM438 451h3v6h-3zM441 461h4v3h-4zM441 481h4v4h-4zM441 508h4v11h-4zM445 481h6v14h-6zM445 499h6v5h-6zM445 519h6v4h-6zM451 461h6v14h-6zM451 490h6v18h-6zM451 519h6v4h-6zM451 527h6v5h-6zM457 457h4v7h-4zM457 469h4v6h-4zM457 481h4v14h-4zM457 499h4v5h-4zM457 514h4v5h-4zM457 527h4v5h-4zM461 464h3v11h-3zM461 481h3v4h-3zM461 490h3v5h-3zM461 499h3v24h-3zM464 464h5v5h-5zM464 490h5v9h-5zM464 514h5v5h-5zM464 527h5v5h-5zM469 527h6v5h-6zM485 527h5v5h-5zM499 527h5v5h-5zM508 527h6v5h-6zM514 527h5v5h-5zM561 595h4v3h-4zM561 613h4v3h-4zM571 595h4v3h-4zM571 613h4v3h-4zM575 613h5v3h-5zM580 613h4v3h-4zM584 595h4v3h-4zM584 613h4v3h-4zM591 595h4v3h-4zM591 613h4v3h-4zM595 598h3v7h-3zM600 613h5v3h-5zM609 613h4v3h-4zM613 616h3v4h-3z"/>
<path fill="#dc1f27" d="M157 157h2v17h-2zM157 178h2v9h-2zM159 159h4v4h-4zM159 168h4v6h-4zM159 184h4v8h-4zM163 168h5v6h-5zM163 181h5v11h-5zM168 168h6v6h-6zM168 178h6v6h-6zM168 187h6v5h-6zM178 178h3v14h-3zM181 181h3v11h-3zM184 184h3v8h-3zM215 215h6v12h-6zM221 221h3v3h-3zM221 227h3v8h-3zM224 224h3v3h-3zM224 230h3v5h-3zM227 230h3v5h-3zM230 230h5v5h-5zM241 241h5v5h-5zM241 270h5v4h-5zM241 279h5v15h-5zM241 310h5v8h-5zM241 330h5v10h-5zM246 246h6v12h-6zM246 264h6v6h-6zM246 274h6v25h-6zM246 310h6v8h-6zM246 330h6v5h-6zM252 252h6v22h-6zM252 284h6v10h-6zM252 313h6v5h-6zM252 330h6v10h-6zM252 345h6v5h-6zM258 258h6v6h-6zM258 274h6v5h-6zM258 284h6v10h-6zM258 310h6v8h-6zM258 330h6v5h-6zM258 340h6v18h-6zM264 264h6v6h-6zM264 294h6v5h-6zM264 310h6v8h-6zM264 335h6v5h-6zM264 345h6v17h-6zM270 270h4v14h-4zM270 289h4v10h-4zM270 310h4v8h-4zM270 330h4v20h-4zM270 354h4v4h-4zM274 274h5v10h-5zM274 294h5v5h-5zM274 310h5v3h-5zM274 330h5v5h-5zM274 340h5v5h-5zM274 354h5v19h-5zM279 279h5v10h-5zM279 294h5v5h-5zM279 310h5v3h-5zM279 330h5v10h-5zM279 345h5v31h-5zM284 289h5v10h-5zM284 310h5v8h-5zM284 330h5v15h-5zM284 358h5v23h-5zM289 289h5v10h-5zM289 313h5v5h-5zM289 335h5v23h-5zM289 362h5v7h-5zM289 376h5v9h-5zM294 299h5v3h-5zM294 313h5v5h-5zM294 330h5v15h-5zM294 350h5v26h-5zM294 381h5v8h-5zM299 310h3v3h-3zM310 310h3v8h-3zM310 330h3v5h-3zM310 340h3v5h-3zM310 350h3v35h-3zM310 396h3v10h-3zM313 313h5v5h-5zM313 335h5v50h-5zM313 389h5v3h-5zM313 396h5v3h-5zM313 402h5v7h-5zM330 330h5v5h-5zM330 340h5v18h-5zM330 362h5v14h-5zM330 381h5v11h-5zM330 399h5v3h-5zM330 406h5v3h-5zM335 335h5v5h-5zM335 345h5v47h-5zM335 396h5v3h-5zM335 402h5v11h-5zM335 418h5v6h-5zM335 428h5v6h-5zM340 350h5v4h-5zM340 362h5v14h-5zM340 381h5v11h-5zM340 396h5v17h-5zM340 428h5v6h-5zM345 345h5v47h-5zM345 396h5v13h-5zM345 418h5v6h-5zM345 428h5v10h-5zM350 354h4v4h-4zM350 362h4v3h-4zM350 373h4v8h-4zM350 385h4v7h-4zM350 396h4v13h-4zM350 418h4v6h-4zM350 428h4v10h-4zM350 441h4v4h-4zM354 354h4v35h-4zM354 396h4v17h-4zM354 418h4v6h-4zM354 428h4v10h-4zM354 445h4v6h-4zM358 358h4v23h-4zM358 385h4v7h-4zM358 396h4v17h-4zM358 418h4v6h-4zM358 428h4v6h-4zM362 362h3v30h-3zM362 396h3v13h-3zM362 418h3v6h-3zM362 428h3v10h-3zM362 441h3v10h-3zM365 365h4v4h-4zM365 373h4v3h-4zM365 381h4v11h-4zM365 396h4v6h-4zM365 406h4v7h-4zM365 418h4v6h-4zM365 434h4v4h-4zM365 441h4v16h-4zM369 376h4v5h-4zM369 385h4v4h-4zM369 396h4v17h-4zM369 418h4v6h-4zM369 428h4v6h-4zM369 441h4v16h-4zM373 373h3v19h-3zM373 396h3v17h-3zM373 418h3v6h-3zM373 428h3v10h-3zM373 441h3v4h-3zM373 451h3v6h-3zM376 376h5v16h-5zM376 402h5v11h-5zM376 418h5v6h-5zM376 428h5v6h-5zM376 445h5v12h-5zM381 381h4v11h-4zM381 396h4v10h-4zM381 409h4v4h-4zM381 418h4v6h-4zM381 428h4v10h-4zM381 441h4v4h-4zM381 451h4v6h-4zM385 385h4v7h-4zM385 396h4v3h-4zM385 402h4v11h-4zM385 418h4v6h-4zM385 434h4v4h-4zM385 441h4v10h-4zM389 389h3v3h-3zM389 396h3v17h-3zM389 418h3v6h-3zM389 428h3v6h-3zM389 441h3v16h-3zM396 396h3v17h-3zM396 418h3v6h-3zM396 428h3v6h-3zM396 441h3v10h-3zM399 399h3v14h-3zM399 418h3v6h-3zM399 428h3v6h-3zM399 441h3v16h-3zM402 406h4v7h-4zM402 418h4v6h-4zM402 428h4v6h-4zM402 441h4v4h-4zM402 451h4v6h-4zM406 406h3v7h-3zM406 418h3v6h-3zM406 428h3v10h-3zM406 445h3v12h-3zM409 418h4v6h-4zM409 428h4v6h-4zM409 441h4v4h-4zM409 451h4v6h-4zM418 441h6v10h-6zM428 428h6v10h-6zM428 441h6v4h-6zM428 451h6v6h-6zM434 434h4v4h-4zM434 451h4v6h-4zM441 441h4v16h-4zM445 445h6v12h-6zM451 451h6v6h-6zM469 481h6v14h-6zM469 504h6v4h-6zM469 514h6v9h-6zM481 485h4v10h-4zM481 504h4v4h-4zM481 514h4v9h-4zM485 485h5v14h-5zM485 519h5v4h-5zM490 490h5v33h-5zM495 495h4v9h-4zM495 508h4v6h-4zM499 499h5v15h-5zM504 519h4v4h-4zM508 514h6v9h-6zM514 514h5v5h-5zM519 519h4v4h-4zM561 561h4v4h-4zM561 568h4v7h-4zM561 588h4v3h-4zM561 616h4v8h-4zM565 565h3v3h-3zM565 571h3v24h-3zM565 605h3v4h-3zM565 620h3v4h-3zM568 571h3v4h-3zM568 580h3v15h-3zM568 605h3v4h-3zM568 620h3v4h-3zM571 571h4v13h-4zM571 588h4v3h-4zM571 605h4v8h-4zM571 616h4v8h-4zM575 575h5v9h-5zM575 591h5v4h-5zM575 600h5v13h-5zM575 616h5v4h-5zM580 580h4v11h-4zM580 605h4v8h-4zM580 620h4v4h-4zM584 584h4v11h-4zM584 598h4v2h-4zM584 605h4v4h-4zM584 616h4v8h-4zM588 588h3v7h-3zM588 609h3v4h-3zM591 598h4v11h-4zM591 620h4v4h-4zM598 598h2v2h-2zM598 605h2v8h-2zM598 616h2v8h-2zM600 605h5v4h-5zM600 616h5v8h-5zM605 605h4v4h-4zM605 616h4v4h-4zM609 616h4v8h-4zM616 616h4v8h-4zM620 620h4v4h-4zM636 636h4v14h-4zM640 640h3v10h-3zM643 643h4v7h-4zM647 647h3v3h-3zM650 650h0v0h0z"/>
<path stroke="#fff" stroke-width="1.6" opacity="0.75" fill="none" d="M168 168v90M168 168h-90M184 184v90M184 184h-90M199 199v90M199 199h-90M210 210v90M210 210h-90M224 224v90M224 224h-90M279 279v90M279 279h-90M289 289v90M289 289h-90M310 310v90M310 310h-90M330 330v90M330 330h-90M345 345v90M345 345h-90M365 365v90M365 365h-90M369 369v90M369 369h-90M402 402v90M402 402h-90M409 409v90M409 409h-90M418 418v90M418 418h-90M424 424v90M424 424h-90M434 434v90M434 434h-90M438 438v90M438 438h-90M441 441v90M441 441h-90M451 451v90M451 451h-90M485 485v90M485 485h-90M495 495v90M495 495h-90M499 499v90M499 499h-90M504 504v90M504 504h-90M527 527v90M527 527h-90M568 568v90M568 568h-90M575 575v90M575 575h-90M591 591v90M591 591h-90M616 616v90M616 616h-90M620 620v90M620 620h-90M624 624v90M624 624h-90M643 643v90M643 643h-90"/>
</g></g>
<clipPath id="hcBR"><path d="M391.4 479.7L461.59999999999997 409.5H596.3L666.5 479.7z"/></clipPath>
<g clip-path="url(#hcBR)"><g transform="matrix(0.25 0.25 0.25 -0.25 0 479.7)">
<path fill="#e2e6f4" d="M783 891h1v4h-1zM783 1043h1v5h-1zM784 820h5v5h-5zM784 906h5v3h-5zM784 915h5v5h-5zM784 926h5v6h-5zM784 1035h5v4h-5zM789 1035h5v4h-5zM794 899h6v4h-6zM794 943h6v6h-6zM794 957h6v6h-6zM794 1027h6v4h-6zM794 1035h6v4h-6zM800 920h6v6h-6zM800 932h6v5h-6zM800 1016h6v3h-6zM800 1022h6v5h-6zM806 829h3v11h-3zM806 858h3v9h-3zM806 943h3v6h-3zM806 1003h3v4h-3zM806 1035h3v4h-3zM809 1039h5v4h-5zM814 957h6v6h-6zM820 825h5v4h-5zM820 877h5v4h-5zM820 891h5v8h-5zM820 937h5v6h-5zM820 953h5v14h-5zM820 970h5v5h-5zM820 989h5v4h-5zM820 1003h5v4h-5zM820 1011h5v11h-5zM820 1035h5v13h-5zM820 1067h5v5h-5zM820 1080h5v4h-5zM820 1089h5v7h-5zM820 1101h5v3h-5zM820 1108h5v5h-5zM825 943h4v6h-4zM825 1019h4v3h-4zM825 1080h4v4h-4zM829 862h5v5h-5zM829 881h5v18h-5zM829 903h5v6h-5zM829 932h5v5h-5zM829 957h5v6h-5zM829 970h5v10h-5zM829 985h5v4h-5zM829 1003h5v4h-5zM829 1016h5v3h-5zM829 1027h5v16h-5zM829 1058h5v5h-5zM829 1080h5v4h-5zM829 1101h5v7h-5zM829 1113h5v4h-5zM834 891h6v4h-6zM834 903h6v12h-6zM834 926h6v6h-6zM834 937h6v26h-6zM834 975h6v5h-6zM834 985h6v4h-6zM834 1016h6v3h-6zM834 1031h6v4h-6zM834 1039h6v4h-6zM834 1048h6v5h-6zM834 1067h6v9h-6zM834 1080h6v4h-6zM834 1096h6v5h-6zM834 1104h6v4h-6zM834 1117h6v11h-6zM840 967h4v3h-4zM840 1035h4v4h-4zM844 867h3v6h-3zM844 957h3v6h-3zM844 1072h3v4h-3zM844 1080h3v4h-3zM847 867h6v6h-6zM847 985h6v4h-6zM847 1027h6v4h-6zM847 1035h6v4h-6zM853 867h5v6h-5zM853 1080h5v4h-5zM858 858h4v4h-4zM858 867h4v6h-4zM858 877h4v9h-4zM858 915h4v17h-4zM858 943h4v10h-4zM858 975h4v5h-4zM858 985h4v4h-4zM858 1011h4v8h-4zM858 1027h4v4h-4zM858 1039h4v19h-4zM858 1063h4v13h-4zM858 1104h4v13h-4zM858 1128h4v5h-4zM858 1138h4v4h-4zM862 873h5v4h-5zM862 881h5v5h-5zM862 909h5v6h-5zM862 926h5v11h-5zM862 967h5v8h-5zM862 980h5v5h-5zM862 989h5v4h-5zM862 997h5v10h-5zM862 1027h5v4h-5zM862 1035h5v4h-5zM862 1067h5v5h-5zM862 1084h5v5h-5zM862 1108h5v5h-5zM862 1117h5v16h-5zM862 1142h5v6h-5zM867 867h6v10h-6zM867 899h6v4h-6zM867 906h6v3h-6zM867 932h6v17h-6zM867 953h6v4h-6zM867 967h6v13h-6zM867 985h6v4h-6zM867 1019h6v3h-6zM867 1053h6v5h-6zM867 1072h6v12h-6zM867 1089h6v7h-6zM867 1101h6v3h-6zM867 1108h6v13h-6zM867 1154h6v7h-6zM873 957h4v6h-4zM873 1080h4v4h-4zM873 1104h4v4h-4zM873 1133h4v5h-4zM877 1133h4v5h-4zM881 957h5v6h-5zM881 1080h5v4h-5zM881 1113h5v4h-5zM881 1154h5v3h-5zM886 957h5v6h-5zM886 1053h5v5h-5zM886 1067h5v5h-5zM886 1080h5v4h-5zM891 943h4v6h-4zM891 967h4v3h-4zM891 1133h4v5h-4zM895 1080h4v4h-4zM899 957h4v6h-4zM899 989h4v4h-4zM903 1007h3v4h-3zM903 1121h3v7h-3zM903 1133h3v5h-3zM906 957h3v6h-3zM906 1035h3v4h-3zM906 1080h3v4h-3zM906 1133h3v5h-3zM906 1178h3v4h-3zM909 943h6v6h-6zM909 1080h6v4h-6zM909 1138h6v4h-6zM915 943h5v6h-5zM915 957h5v6h-5zM915 989h5v4h-5zM915 1035h5v4h-5zM915 1080h5v4h-5zM915 1133h5v5h-5zM920 943h6v6h-6zM920 957h6v6h-6zM920 1019h6v3h-6zM920 1080h6v4h-6zM920 1133h6v5h-6zM926 943h6v6h-6zM926 1133h6v5h-6zM932 943h5v6h-5zM932 1035h5v4h-5zM932 1080h5v4h-5zM932 1154h5v3h-5zM932 1219h5v3h-5zM937 957h6v6h-6zM937 989h6v4h-6zM937 1133h6v5h-6zM937 1219h6v6h-6zM943 963h6v7h-6zM943 975h6v5h-6zM943 989h6v4h-6zM943 1003h6v4h-6zM943 1019h6v3h-6zM943 1027h6v8h-6zM943 1053h6v5h-6zM943 1072h6v8h-6zM943 1096h6v5h-6zM943 1113h6v20h-6zM943 1157h6v13h-6zM943 1174h6v8h-6zM943 1201h6v5h-6zM943 1219h6v3h-6zM943 1233h6v6h-6zM949 957h4v6h-4zM949 975h4v5h-4zM949 1101h4v3h-4zM949 1219h4v6h-4zM949 1228h4v5h-4zM953 957h4v6h-4zM953 1035h4v4h-4zM953 1080h4v4h-4zM953 1178h4v4h-4zM953 1219h4v3h-4zM953 1239h4v3h-4zM957 1027h6v4h-6zM957 1039h6v4h-6zM957 1063h6v4h-6zM957 1076h6v4h-6zM957 1117h6v4h-6zM957 1133h6v5h-6zM957 1197h6v4h-6zM957 1206h6v13h-6zM957 1228h6v5h-6zM957 1247h6v6h-6zM963 1035h4v4h-4zM963 1080h4v4h-4zM963 1219h4v6h-4zM967 1035h3v4h-3zM967 1222h3v3h-3zM970 1206h5v6h-5zM970 1225h5v3h-5zM975 1225h5v8h-5zM980 1035h5v4h-5zM980 1222h5v3h-5zM980 1228h5v5h-5zM985 1089h4v7h-4zM985 1133h4v5h-4zM985 1219h4v3h-4zM989 1219h4v3h-4zM993 1035h4v4h-4zM993 1228h4v5h-4zM993 1273h4v5h-4zM997 1225h6v8h-6zM997 1284h6v6h-6zM1003 1035h4v4h-4zM1003 1219h4v6h-4zM1007 1035h4v4h-4zM1007 1197h4v4h-4zM1007 1219h4v14h-4zM1011 1080h5v4h-5zM1011 1228h5v5h-5zM1011 1284h5v6h-5zM1016 1133h3v5h-3zM1016 1219h3v3h-3zM1016 1225h3v3h-3zM1019 1225h3v3h-3zM1022 1035h5v4h-5zM1022 1182h5v3h-5zM1022 1222h5v3h-5zM1022 1228h5v5h-5zM1027 1035h4v4h-4zM1027 1133h4v5h-4zM1027 1212h4v4h-4zM1027 1219h4v6h-4zM1031 1225h4v3h-4zM1031 1247h4v6h-4zM1031 1284h4v6h-4zM1035 1035h4v4h-4zM1035 1076h4v4h-4zM1035 1128h4v5h-4zM1035 1154h4v3h-4zM1035 1165h4v5h-4zM1035 1182h4v3h-4zM1035 1201h4v11h-4zM1035 1225h4v3h-4zM1035 1239h4v3h-4zM1035 1258h4v10h-4zM1035 1278h4v6h-4zM1035 1296h4v6h-4zM1035 1307h4v4h-4zM1039 1080h4v4h-4zM1039 1219h4v6h-4zM1043 1133h5v5h-5zM1043 1228h5v5h-5zM1048 1219h5v3h-5zM1048 1284h5v6h-5zM1053 1225h5v8h-5zM1053 1253h5v5h-5zM1053 1307h5v4h-5zM1058 1133h5v5h-5zM1058 1222h5v11h-5zM1058 1242h5v5h-5zM1063 1080h4v4h-4zM1063 1133h4v5h-4zM1063 1225h4v3h-4zM1067 1219h5v3h-5zM1067 1228h5v5h-5zM1067 1284h5v6h-5zM1072 1080h4v4h-4zM1072 1296h4v6h-4zM1076 1222h4v6h-4zM1080 1157h4v4h-4zM1080 1165h4v5h-4zM1080 1197h4v4h-4zM1080 1219h4v6h-4zM1080 1228h4v11h-4zM1080 1247h4v6h-4zM1080 1258h4v5h-4zM1080 1268h4v16h-4zM1080 1290h4v6h-4zM1080 1311h4v6h-4zM1080 1323h4v10h-4zM1084 1284h5v6h-5zM1089 1133h7v5h-7zM1089 1284h7v6h-7zM1089 1311h7v6h-7zM1096 1133h5v5h-5zM1101 1222h3v3h-3zM1101 1228h3v5h-3zM1101 1332h3v1h-3zM1104 1133h4v5h-4zM1104 1284h4v6h-4zM1108 1219h5v3h-5zM1108 1228h5v5h-5zM1108 1284h5v6h-5zM1113 1133h4v5h-4zM1113 1222h4v6h-4zM1113 1258h4v5h-4zM1117 1219h4v3h-4zM1117 1228h4v5h-4zM1117 1284h4v6h-4zM1121 1133h7v5h-7zM1121 1225h7v8h-7zM1128 1219h5v3h-5zM1128 1225h5v3h-5zM1128 1284h5v6h-5zM1128 1302h5v5h-5zM1133 1138h5v4h-5zM1133 1182h5v3h-5zM1133 1225h5v3h-5zM1133 1233h5v6h-5zM1133 1253h5v15h-5zM1133 1290h5v6h-5zM1133 1307h5v4h-5zM1133 1317h5v6h-5zM1138 1219h4v3h-4zM1138 1225h4v8h-4zM1138 1284h4v6h-4zM1142 1219h6v3h-6zM1142 1228h6v5h-6zM1142 1307h6v4h-6zM1148 1219h6v3h-6zM1148 1228h6v5h-6zM1148 1311h6v6h-6zM1157 1222h4v11h-4zM1157 1253h4v5h-4zM1161 1225h4v3h-4zM1165 1219h5v6h-5zM1165 1228h5v5h-5zM1170 1219h4v3h-4zM1170 1225h4v3h-4zM1170 1263h4v5h-4zM1174 1284h4v6h-4zM1178 1182h4v3h-4zM1178 1228h4v5h-4zM1178 1253h4v5h-4zM1178 1284h4v6h-4zM1182 1225h3v3h-3zM1182 1253h3v5h-3zM1191 1219h6v3h-6zM1191 1225h6v3h-6zM1197 1225h4v3h-4zM1197 1284h4v6h-4zM1197 1332h4v1h-4zM1201 1219h5v14h-5zM1206 1228h6v5h-6zM1212 1222h4v3h-4zM1216 1219h3v3h-3zM1219 1219h3v14h-3zM1219 1268h3v10h-3zM1219 1307h3v4h-3zM1222 1242h3v5h-3zM1222 1284h3v6h-3zM1222 1302h3v5h-3zM1222 1311h3v6h-3zM1222 1323h3v5h-3zM1225 1233h3v6h-3zM1225 1242h3v5h-3zM1225 1258h3v5h-3zM1225 1290h3v12h-3zM1225 1307h3v4h-3zM1225 1323h3v10h-3zM1228 1233h5v25h-5zM1228 1273h5v5h-5zM1228 1311h5v6h-5zM1242 1284h5v6h-5zM1253 1284h5v6h-5zM1284 1284h6v6h-6zM1284 1296h6v6h-6zM1284 1307h6v4h-6zM1284 1323h6v9h-6z"/>
<path fill="#bcc3e3" d="M783 926h1v6h-1zM783 957h1v6h-1zM783 1035h1v4h-1zM784 862h5v11h-5zM784 943h5v6h-5zM784 957h5v6h-5zM789 867h5v6h-5zM794 867h6v6h-6zM794 1080h6v4h-6zM800 943h6v6h-6zM800 1089h6v7h-6zM806 820h3v5h-3zM806 957h3v6h-3zM809 820h5v5h-5zM809 829h5v5h-5zM809 943h5v6h-5zM809 957h5v6h-5zM809 975h5v5h-5zM809 1080h5v4h-5zM814 867h6v6h-6zM814 1035h6v4h-6zM814 1080h6v4h-6zM820 873h5v4h-5zM820 881h5v10h-5zM820 899h5v7h-5zM820 909h5v28h-5zM820 943h5v10h-5zM820 967h5v3h-5zM820 975h5v10h-5zM820 997h5v6h-5zM820 1022h5v9h-5zM820 1048h5v19h-5zM820 1072h5v4h-5zM820 1096h5v5h-5zM820 1104h5v4h-5zM825 957h4v6h-4zM825 1031h4v4h-4zM829 829h5v5h-5zM829 858h5v4h-5zM829 873h5v8h-5zM829 899h5v4h-5zM829 909h5v6h-5zM829 920h5v12h-5zM829 937h5v20h-5zM829 967h5v3h-5zM829 980h5v5h-5zM829 989h5v14h-5zM829 1007h5v9h-5zM829 1019h5v8h-5zM829 1043h5v15h-5zM829 1063h5v17h-5zM829 1084h5v17h-5zM829 1108h5v5h-5zM829 1117h5v4h-5zM834 867h6v24h-6zM834 895h6v8h-6zM834 915h6v11h-6zM834 932h6v5h-6zM834 963h6v4h-6zM834 970h6v5h-6zM834 980h6v5h-6zM834 989h6v27h-6zM834 1019h6v12h-6zM834 1035h6v4h-6zM834 1053h6v5h-6zM834 1063h6v4h-6zM834 1076h6v4h-6zM834 1084h6v12h-6zM834 1101h6v3h-6zM834 1108h6v9h-6zM840 867h4v6h-4zM840 943h4v6h-4zM840 957h4v6h-4zM844 943h3v6h-3zM844 1035h3v4h-3zM847 903h6v3h-6zM847 937h6v6h-6zM847 1080h6v4h-6zM847 1133h6v5h-6zM853 873h5v4h-5zM853 943h5v6h-5zM853 957h5v6h-5zM853 1133h5v5h-5zM858 891h4v24h-4zM858 937h4v6h-4zM858 953h4v10h-4zM858 967h4v8h-4zM858 989h4v22h-4zM858 1019h4v8h-4zM858 1035h4v4h-4zM858 1058h4v5h-4zM858 1076h4v8h-4zM858 1089h4v12h-4zM858 1117h4v11h-4zM858 1133h4v5h-4zM858 1142h4v6h-4zM862 867h5v6h-5zM862 877h5v4h-5zM862 886h5v17h-5zM862 906h5v3h-5zM862 920h5v6h-5zM862 937h5v30h-5zM862 975h5v5h-5zM862 985h5v4h-5zM862 993h5v4h-5zM862 1011h5v8h-5zM862 1022h5v5h-5zM862 1031h5v4h-5zM862 1043h5v5h-5zM862 1053h5v5h-5zM862 1072h5v12h-5zM862 1096h5v8h-5zM862 1133h5v9h-5zM867 877h6v22h-6zM867 915h6v17h-6zM867 949h6v4h-6zM867 957h6v10h-6zM867 980h6v5h-6zM867 989h6v8h-6zM867 1003h6v13h-6zM867 1022h6v17h-6zM867 1058h6v14h-6zM867 1084h6v5h-6zM867 1104h6v4h-6zM867 1121h6v27h-6zM873 943h4v6h-4zM873 993h4v4h-4zM873 1035h4v4h-4zM877 943h4v6h-4zM877 993h4v4h-4zM877 1035h4v4h-4zM877 1080h4v4h-4zM881 943h5v6h-5zM881 967h5v3h-5zM881 1035h5v4h-5zM881 1133h5v5h-5zM886 943h5v6h-5zM891 957h4v6h-4zM891 1035h4v4h-4zM891 1080h4v4h-4zM895 943h4v6h-4zM895 957h4v6h-4zM895 1035h4v4h-4zM895 1133h4v5h-4zM899 1035h4v4h-4zM899 1133h4v5h-4zM903 957h3v6h-3zM903 1035h3v4h-3zM903 1080h3v4h-3zM906 943h3v6h-3zM909 957h6v6h-6zM909 1035h6v4h-6zM926 957h6v6h-6zM926 1035h6v4h-6zM926 1080h6v4h-6zM932 957h5v6h-5zM932 1133h5v5h-5zM937 1035h6v4h-6zM937 1080h6v4h-6zM937 1225h6v3h-6zM943 943h6v6h-6zM943 957h6v6h-6zM943 970h6v5h-6zM943 985h6v4h-6zM943 997h6v6h-6zM943 1007h6v4h-6zM943 1035h6v8h-6zM943 1048h6v5h-6zM943 1058h6v14h-6zM943 1080h6v4h-6zM943 1101h6v7h-6zM943 1148h6v9h-6zM943 1170h6v4h-6zM943 1182h6v15h-6zM943 1206h6v10h-6zM943 1222h6v11h-6zM949 1035h4v4h-4zM949 1133h4v5h-4zM949 1225h4v3h-4zM953 1063h4v4h-4zM953 1133h4v5h-4zM953 1222h4v11h-4zM957 967h6v3h-6zM957 980h6v13h-6zM957 1016h6v3h-6zM957 1031h6v8h-6zM957 1067h6v5h-6zM957 1084h6v5h-6zM957 1096h6v5h-6zM957 1121h6v7h-6zM957 1142h6v6h-6zM957 1165h6v5h-6zM957 1178h6v7h-6zM957 1222h6v6h-6zM957 1233h6v14h-6zM963 1225h4v3h-4zM967 1219h3v3h-3zM967 1225h3v8h-3zM970 1035h5v4h-5zM970 1219h5v6h-5zM970 1228h5v5h-5zM975 1035h5v4h-5zM980 1080h5v4h-5zM980 1219h5v3h-5zM980 1225h5v3h-5zM985 1035h4v4h-4zM985 1080h4v4h-4zM985 1222h4v3h-4zM989 1035h4v4h-4zM989 1080h4v4h-4zM989 1225h4v8h-4zM993 1222h4v6h-4zM997 1035h6v4h-6zM997 1080h6v4h-6zM1003 1080h4v4h-4zM1003 1225h4v8h-4zM1003 1284h4v6h-4zM1007 1080h4v4h-4zM1011 1219h5v6h-5zM1011 1290h5v6h-5zM1016 1080h3v4h-3zM1016 1222h3v3h-3zM1019 1219h3v6h-3zM1019 1228h3v5h-3zM1019 1284h3v6h-3zM1022 1080h5v4h-5zM1022 1219h5v3h-5zM1022 1225h5v3h-5zM1022 1284h5v6h-5zM1027 1225h4v8h-4zM1027 1284h4v6h-4zM1031 1219h4v6h-4zM1031 1228h4v5h-4zM1035 1063h4v4h-4zM1035 1096h4v5h-4zM1035 1104h4v4h-4zM1035 1121h4v7h-4zM1035 1133h4v15h-4zM1035 1157h4v8h-4zM1035 1170h4v12h-4zM1035 1185h4v12h-4zM1035 1216h4v6h-4zM1035 1233h4v6h-4zM1035 1253h4v5h-4zM1035 1273h4v5h-4zM1035 1302h4v5h-4zM1035 1317h4v11h-4zM1039 1225h4v8h-4zM1039 1284h4v6h-4zM1043 1219h5v6h-5zM1043 1284h5v6h-5zM1043 1302h5v5h-5zM1048 1222h5v11h-5zM1053 1219h5v3h-5zM1058 1219h5v3h-5zM1058 1284h5v6h-5zM1063 1222h4v3h-4zM1063 1228h4v5h-4zM1063 1284h4v6h-4zM1067 1080h5v4h-5zM1067 1222h5v6h-5zM1072 1219h4v3h-4zM1072 1225h4v8h-4zM1072 1284h4v6h-4zM1076 1080h4v4h-4zM1076 1219h4v3h-4zM1076 1228h4v5h-4zM1076 1284h4v6h-4zM1080 1138h4v4h-4zM1080 1161h4v4h-4zM1080 1225h4v3h-4zM1080 1239h4v8h-4zM1080 1253h4v5h-4zM1080 1284h4v6h-4zM1080 1296h4v15h-4zM1080 1317h4v6h-4zM1084 1219h5v14h-5zM1089 1222h7v3h-7zM1089 1228h7v5h-7zM1096 1219h5v6h-5zM1096 1228h5v5h-5zM1096 1284h5v6h-5zM1101 1133h3v5h-3zM1101 1219h3v3h-3zM1101 1284h3v6h-3zM1104 1222h4v11h-4zM1108 1225h5v3h-5zM1113 1219h4v3h-4zM1113 1228h4v5h-4zM1113 1284h4v6h-4zM1117 1133h4v5h-4zM1117 1222h4v6h-4zM1121 1165h7v5h-7zM1121 1219h7v6h-7zM1128 1228h5v5h-5zM1133 1148h5v6h-5zM1133 1157h5v4h-5zM1133 1170h5v4h-5zM1133 1178h5v4h-5zM1133 1197h5v4h-5zM1133 1212h5v13h-5zM1133 1239h5v14h-5zM1133 1278h5v12h-5zM1133 1296h5v11h-5zM1133 1311h5v6h-5zM1133 1323h5v5h-5zM1138 1222h4v3h-4zM1142 1222h6v6h-6zM1142 1284h6v6h-6zM1148 1222h6v6h-6zM1148 1284h6v6h-6zM1154 1219h3v14h-3zM1154 1284h3v6h-3zM1157 1328h4v4h-4zM1161 1219h4v6h-4zM1161 1284h4v6h-4zM1165 1253h5v5h-5zM1165 1284h5v6h-5zM1170 1222h4v3h-4zM1170 1228h4v5h-4zM1170 1284h4v6h-4zM1174 1219h4v9h-4zM1178 1222h4v3h-4zM1182 1219h3v6h-3zM1182 1228h3v5h-3zM1182 1284h3v6h-3zM1185 1219h6v6h-6zM1185 1228h6v5h-6zM1185 1247h6v6h-6zM1185 1284h6v6h-6zM1197 1222h4v3h-4zM1197 1228h4v5h-4zM1201 1284h5v6h-5zM1206 1219h6v9h-6zM1212 1219h4v3h-4zM1212 1225h4v8h-4zM1216 1225h3v3h-3zM1216 1284h3v6h-3zM1219 1233h3v35h-3zM1219 1278h3v6h-3zM1219 1290h3v17h-3zM1219 1311h3v22h-3zM1222 1222h3v17h-3zM1222 1263h3v21h-3zM1222 1290h3v6h-3zM1222 1317h3v6h-3zM1222 1328h3v5h-3zM1225 1225h3v8h-3zM1225 1239h3v3h-3zM1225 1247h3v11h-3zM1225 1263h3v10h-3zM1225 1278h3v12h-3zM1225 1302h3v5h-3zM1225 1311h3v6h-3zM1228 1228h5v5h-5zM1228 1258h5v15h-5zM1228 1278h5v24h-5zM1228 1307h5v4h-5zM1228 1323h5v5h-5zM1228 1332h5v1h-5zM1268 1284h5v6h-5zM1273 1284h5v6h-5z"/>
<path fill="#f9cdca" d="M783 844h1v3h-1zM784 806h5v3h-5zM794 806h6v3h-6zM800 806h6v3h-6zM806 809h3v11h-3zM806 825h3v4h-3zM806 840h3v18h-3zM809 844h5v3h-5zM825 1058h4v5h-4zM844 873h3v4h-3zM867 1096h6v5h-6zM873 877h4v4h-4zM873 891h4v4h-4zM873 937h4v6h-4zM877 886h4v5h-4zM877 895h4v14h-4zM877 920h4v6h-4zM881 891h5v8h-5zM881 937h5v6h-5zM886 891h5v8h-5zM886 937h5v6h-5zM891 895h4v8h-4zM891 920h4v17h-4zM895 899h4v16h-4zM895 920h4v12h-4zM895 937h4v6h-4zM899 937h4v6h-4zM903 937h3v6h-3zM909 920h6v12h-6zM915 937h5v6h-5zM920 937h6v6h-6zM932 937h5v6h-5zM932 1138h5v4h-5zM953 1048h4v5h-4zM953 1089h4v7h-4zM957 1053h6v5h-6zM963 963h4v4h-4zM963 993h4v14h-4zM963 1011h4v8h-4zM963 1058h4v5h-4zM963 1072h4v8h-4zM963 1084h4v5h-4zM963 1096h4v8h-4zM963 1113h4v4h-4zM963 1121h4v7h-4zM963 1142h4v6h-4zM963 1157h4v4h-4zM963 1165h4v5h-4zM963 1174h4v4h-4zM967 975h3v10h-3zM967 997h3v6h-3zM967 1007h3v4h-3zM967 1016h3v3h-3zM967 1039h3v4h-3zM967 1058h3v5h-3zM967 1072h3v4h-3zM967 1089h3v7h-3zM967 1101h3v3h-3zM967 1121h3v12h-3zM967 1138h3v4h-3zM967 1154h3v3h-3zM967 1170h3v4h-3zM967 1185h3v6h-3zM970 975h5v5h-5zM970 997h5v14h-5zM970 1022h5v5h-5zM970 1031h5v4h-5zM970 1043h5v20h-5zM970 1072h5v8h-5zM970 1096h5v5h-5zM970 1108h5v25h-5zM970 1138h5v4h-5zM970 1154h5v3h-5zM970 1185h5v12h-5zM975 975h5v10h-5zM975 993h5v14h-5zM975 1016h5v3h-5zM975 1022h5v5h-5zM975 1031h5v4h-5zM975 1039h5v4h-5zM975 1048h5v5h-5zM975 1067h5v5h-5zM975 1076h5v4h-5zM975 1089h5v15h-5zM975 1113h5v4h-5zM975 1148h5v6h-5zM975 1161h5v4h-5zM975 1170h5v4h-5zM975 1185h5v6h-5zM980 993h5v4h-5zM980 1003h5v4h-5zM980 1011h5v5h-5zM980 1019h5v8h-5zM980 1039h5v9h-5zM980 1076h5v4h-5zM980 1084h5v5h-5zM980 1101h5v3h-5zM980 1108h5v9h-5zM980 1121h5v7h-5zM980 1161h5v17h-5zM980 1191h5v6h-5zM985 989h4v4h-4zM985 997h4v6h-4zM985 1027h4v4h-4zM985 1104h4v4h-4zM985 1178h4v7h-4zM989 1007h4v4h-4zM989 1039h4v4h-4zM989 1048h4v5h-4zM989 1058h4v5h-4zM989 1067h4v5h-4zM989 1076h4v4h-4zM989 1089h4v7h-4zM989 1101h4v3h-4zM989 1113h4v4h-4zM993 1063h4v4h-4zM993 1096h4v5h-4zM993 1104h4v4h-4zM993 1128h4v5h-4zM993 1142h4v12h-4zM993 1161h4v4h-4zM993 1191h4v6h-4zM997 1063h6v4h-6zM997 1096h6v5h-6zM997 1128h6v5h-6zM997 1142h6v6h-6zM997 1161h6v4h-6zM997 1216h6v3h-6zM1003 1063h4v4h-4zM1003 1096h4v5h-4zM1003 1104h4v4h-4zM1003 1121h4v7h-4zM1003 1138h4v10h-4zM1003 1170h4v4h-4zM1003 1185h4v6h-4zM1007 1096h4v5h-4zM1007 1104h4v4h-4zM1007 1121h4v12h-4zM1007 1154h4v11h-4zM1007 1191h4v6h-4zM1007 1216h4v3h-4zM1011 1063h5v4h-5zM1011 1096h5v5h-5zM1011 1104h5v4h-5zM1011 1148h5v9h-5zM1011 1174h5v4h-5zM1011 1191h5v6h-5zM1016 1063h3v4h-3zM1016 1096h3v5h-3zM1016 1121h3v7h-3zM1016 1138h3v4h-3zM1016 1148h3v9h-3zM1016 1170h3v8h-3zM1016 1185h3v6h-3zM1019 1027h3v4h-3zM1019 1063h3v4h-3zM1019 1121h3v7h-3zM1019 1157h3v4h-3zM1019 1191h3v6h-3zM1019 1268h3v5h-3zM1022 1027h5v4h-5zM1022 1063h5v4h-5zM1022 1096h5v5h-5zM1022 1121h5v7h-5zM1022 1138h5v4h-5zM1022 1148h5v6h-5zM1022 1165h5v5h-5zM1022 1174h5v4h-5zM1022 1185h5v6h-5zM1027 1043h4v10h-4zM1027 1058h4v5h-4zM1027 1084h4v5h-4zM1027 1096h4v5h-4zM1027 1108h4v13h-4zM1027 1182h4v3h-4zM1031 1063h4v4h-4zM1031 1096h4v5h-4zM1031 1104h4v4h-4zM1031 1121h4v12h-4zM1031 1138h4v16h-4zM1031 1165h4v13h-4zM1035 1117h4v4h-4zM1035 1197h4v4h-4zM1039 1121h4v12h-4zM1039 1142h4v15h-4zM1039 1174h4v4h-4zM1039 1185h4v6h-4zM1043 1063h5v4h-5zM1043 1096h5v5h-5zM1043 1104h5v4h-5zM1043 1128h5v5h-5zM1043 1148h5v13h-5zM1043 1170h5v8h-5zM1043 1191h5v6h-5zM1048 1063h5v4h-5zM1048 1096h5v5h-5zM1048 1128h5v5h-5zM1048 1157h5v4h-5zM1048 1165h5v5h-5zM1048 1197h5v4h-5zM1048 1239h5v3h-5zM1053 1063h5v4h-5zM1053 1096h5v5h-5zM1053 1104h5v4h-5zM1053 1138h5v10h-5zM1053 1157h5v4h-5zM1053 1197h5v4h-5zM1058 1063h5v4h-5zM1058 1104h5v4h-5zM1058 1121h5v7h-5zM1058 1138h5v4h-5zM1058 1154h5v3h-5zM1058 1161h5v4h-5zM1058 1182h5v3h-5zM1058 1278h5v6h-5zM1058 1307h5v4h-5zM1063 1076h4v4h-4zM1063 1089h4v7h-4zM1063 1101h4v3h-4zM1063 1108h4v13h-4zM1063 1197h4v4h-4zM1063 1206h4v6h-4zM1063 1216h4v3h-4zM1067 1121h5v7h-5zM1067 1138h5v19h-5zM1067 1182h5v3h-5zM1067 1197h5v4h-5zM1067 1253h5v5h-5zM1072 1096h4v5h-4zM1072 1138h4v10h-4zM1072 1157h4v8h-4zM1072 1170h4v4h-4zM1072 1197h4v4h-4zM1076 1104h4v4h-4zM1076 1121h4v12h-4zM1076 1138h4v19h-4zM1076 1165h4v9h-4zM1076 1197h4v4h-4zM1076 1302h4v5h-4zM1080 1096h4v5h-4zM1080 1104h4v4h-4zM1080 1121h4v7h-4zM1084 1096h5v5h-5zM1084 1121h5v7h-5zM1084 1157h5v4h-5zM1084 1165h5v9h-5zM1084 1197h5v4h-5zM1089 1121h7v12h-7zM1089 1148h7v6h-7zM1089 1161h7v9h-7zM1089 1197h7v4h-7zM1096 1101h5v7h-5zM1096 1113h5v4h-5zM1096 1128h5v5h-5zM1096 1138h5v19h-5zM1096 1161h5v36h-5zM1096 1201h5v18h-5zM1101 1121h3v7h-3zM1101 1165h3v5h-3zM1101 1197h3v4h-3zM1104 1121h4v7h-4zM1108 1121h5v7h-5zM1108 1138h5v4h-5zM1108 1148h5v6h-5zM1108 1182h5v3h-5zM1108 1197h5v4h-5zM1108 1212h5v4h-5zM1113 1121h4v12h-4zM1113 1197h4v4h-4zM1113 1212h4v4h-4zM1117 1121h4v12h-4zM1117 1138h4v10h-4zM1117 1154h4v11h-4zM1117 1170h4v4h-4zM1117 1197h4v4h-4zM1117 1212h4v4h-4zM1117 1263h4v5h-4zM1121 1148h7v6h-7zM1121 1170h7v12h-7zM1121 1206h7v10h-7zM1128 1142h5v15h-5zM1128 1161h5v9h-5zM1128 1174h5v4h-5zM1128 1185h5v6h-5zM1128 1206h5v6h-5zM1133 1201h5v5h-5zM1138 1138h4v4h-4zM1138 1154h4v3h-4zM1138 1185h4v6h-4zM1138 1197h4v9h-4zM1142 1142h6v12h-6zM1142 1170h6v4h-6zM1142 1191h6v6h-6zM1142 1201h6v11h-6zM1148 1154h6v24h-6zM1148 1197h6v4h-6zM1148 1206h6v6h-6zM1148 1216h6v3h-6zM1154 1157h3v4h-3zM1154 1165h3v13h-3zM1154 1206h3v6h-3zM1157 1161h4v4h-4zM1157 1185h4v6h-4zM1157 1206h4v6h-4zM1157 1216h4v3h-4zM1161 1161h4v9h-4zM1161 1185h4v12h-4zM1165 1170h5v4h-5zM1165 1197h5v9h-5zM1170 1197h4v4h-4zM1170 1216h4v3h-4zM1174 1178h4v4h-4zM1174 1242h4v5h-4zM1178 1191h4v10h-4zM1182 1185h3v27h-3zM1185 1212h6v4h-6zM1191 1197h6v4h-6zM1191 1216h6v3h-6zM1191 1268h6v5h-6zM1197 1206h4v13h-4zM1201 1212h5v4h-5zM1206 1212h6v4h-6zM1216 1216h3v3h-3zM1233 1253h6v10h-6zM1233 1273h6v5h-6zM1233 1284h6v48h-6zM1239 1268h3v5h-3zM1239 1332h3v1h-3zM1242 1268h5v5h-5zM1247 1268h6v5h-6zM1253 1268h5v5h-5zM1253 1332h5v1h-5zM1258 1268h5v5h-5zM1263 1268h5v5h-5zM1268 1273h5v11h-5zM1268 1290h5v27h-5zM1268 1323h5v10h-5zM1328 1332h4v1h-4z"/>
<path fill="#f29590" d="M783 789h1v5h-1zM783 800h1v14h-1zM783 825h1v4h-1zM783 862h1v5h-1zM784 784h5v5h-5zM784 800h5v6h-5zM784 814h5v6h-5zM784 840h5v4h-5zM789 809h5v5h-5zM789 840h5v4h-5zM789 1063h5v4h-5zM794 840h6v4h-6zM800 800h6v6h-6zM809 809h5v5h-5zM814 840h6v4h-6zM825 847h4v11h-4zM873 903h4v3h-4zM873 915h4v17h-4zM877 877h4v4h-4zM877 909h4v6h-4zM881 903h5v3h-5zM881 915h5v5h-5zM881 926h5v11h-5zM886 903h5v3h-5zM886 920h5v12h-5zM891 891h4v4h-4zM891 937h4v6h-4zM899 899h4v10h-4zM899 915h4v5h-4zM899 932h4v5h-4zM903 903h3v3h-3zM903 915h3v11h-3zM906 915h3v22h-3zM915 932h5v5h-5zM920 920h6v6h-6zM926 926h6v6h-6zM932 932h5v5h-5zM963 985h4v4h-4zM963 1027h4v4h-4zM963 1104h4v4h-4zM963 1182h4v3h-4zM967 989h3v4h-3zM967 1027h3v4h-3zM967 1104h3v4h-3zM970 989h5v4h-5zM970 1027h5v4h-5zM970 1063h5v4h-5zM970 1178h5v4h-5zM975 985h5v4h-5zM975 1063h5v4h-5zM975 1104h5v4h-5zM975 1178h5v7h-5zM980 985h5v4h-5zM980 1027h5v4h-5zM980 1104h5v4h-5zM980 1178h5v7h-5zM985 993h4v4h-4zM985 1003h4v24h-4zM985 1043h4v20h-4zM985 1072h4v8h-4zM985 1084h4v5h-4zM985 1101h4v3h-4zM985 1113h4v4h-4zM985 1128h4v5h-4zM985 1138h4v4h-4zM985 1161h4v13h-4zM985 1185h4v6h-4zM989 989h4v4h-4zM989 1104h4v4h-4zM989 1128h4v10h-4zM989 1142h4v6h-4zM989 1154h4v16h-4zM989 1174h4v4h-4zM989 1185h4v12h-4zM993 993h4v18h-4zM993 1016h4v11h-4zM993 1039h4v9h-4zM993 1067h4v5h-4zM993 1089h4v7h-4zM993 1101h4v3h-4zM993 1182h4v3h-4zM997 997h6v6h-6zM997 1007h6v4h-6zM997 1016h6v3h-6zM997 1022h6v5h-6zM997 1031h6v4h-6zM997 1039h6v4h-6zM997 1048h6v5h-6zM997 1067h6v9h-6zM997 1113h6v8h-6zM997 1178h6v7h-6zM1003 1007h4v20h-4zM1003 1031h4v4h-4zM1003 1067h4v9h-4zM1003 1101h4v3h-4zM1003 1108h4v5h-4zM1003 1178h4v7h-4zM1007 1007h4v4h-4zM1007 1031h4v4h-4zM1007 1039h4v14h-4zM1007 1058h4v5h-4zM1007 1084h4v12h-4zM1007 1182h4v3h-4zM1011 1016h5v6h-5zM1011 1053h5v10h-5zM1011 1084h5v12h-5zM1011 1101h5v3h-5zM1011 1117h5v4h-5zM1011 1178h5v7h-5zM1016 1039h3v19h-3zM1016 1072h3v8h-3zM1016 1084h3v5h-3zM1016 1101h3v3h-3zM1016 1108h3v9h-3zM1016 1182h3v3h-3zM1019 1019h3v8h-3zM1019 1031h3v4h-3zM1019 1043h3v5h-3zM1019 1053h3v5h-3zM1019 1072h3v4h-3zM1019 1101h3v3h-3zM1019 1108h3v5h-3zM1019 1117h3v4h-3zM1022 1053h5v5h-5zM1022 1067h5v13h-5zM1022 1089h5v7h-5zM1022 1101h5v3h-5zM1022 1108h5v13h-5zM1022 1178h5v4h-5zM1027 1027h4v4h-4zM1027 1104h4v4h-4zM1027 1128h4v5h-4zM1027 1138h4v23h-4zM1027 1165h4v13h-4zM1031 1039h4v14h-4zM1031 1058h4v5h-4zM1031 1067h4v9h-4zM1031 1113h4v4h-4zM1031 1178h4v7h-4zM1039 1039h4v14h-4zM1039 1067h4v5h-4zM1039 1084h4v5h-4zM1039 1101h4v3h-4zM1039 1113h4v8h-4zM1043 1043h5v5h-5zM1043 1084h5v5h-5zM1048 1058h5v5h-5zM1048 1072h5v4h-5zM1048 1108h5v5h-5zM1048 1191h5v6h-5zM1048 1201h5v11h-5zM1053 1053h5v5h-5zM1053 1067h5v5h-5zM1053 1089h5v7h-5zM1053 1113h5v4h-5zM1053 1185h5v6h-5zM1058 1058h5v5h-5zM1058 1076h5v4h-5zM1058 1089h5v7h-5zM1058 1101h5v3h-5zM1058 1113h5v8h-5zM1058 1174h5v4h-5zM1063 1063h4v4h-4zM1063 1104h4v4h-4zM1063 1128h4v5h-4zM1063 1138h4v10h-4zM1063 1157h4v8h-4zM1063 1170h4v4h-4zM1063 1178h4v4h-4zM1063 1212h4v4h-4zM1067 1067h5v9h-5zM1067 1084h5v12h-5zM1067 1108h5v5h-5zM1067 1117h5v4h-5zM1067 1191h5v6h-5zM1067 1206h5v6h-5zM1072 1072h4v8h-4zM1072 1084h4v12h-4zM1072 1101h4v3h-4zM1072 1113h4v8h-4zM1072 1174h4v4h-4zM1076 1113h4v8h-4zM1076 1201h4v11h-4zM1080 1080h4v4h-4zM1084 1089h5v7h-5zM1084 1101h5v3h-5zM1089 1117h7v4h-7zM1101 1117h3v4h-3zM1104 1104h4v4h-4zM1104 1128h4v5h-4zM1104 1148h4v6h-4zM1104 1157h4v4h-4zM1104 1178h4v7h-4zM1104 1212h4v4h-4zM1108 1117h5v4h-5zM1113 1117h4v4h-4zM1113 1174h4v4h-4zM1113 1206h4v6h-4zM1117 1206h4v6h-4zM1128 1178h5v4h-5zM1128 1212h5v4h-5zM1138 1182h4v3h-4zM1142 1178h6v7h-6zM1154 1182h3v3h-3zM1157 1178h4v7h-4zM1157 1212h4v4h-4zM1157 1278h4v6h-4zM1161 1178h4v7h-4zM1161 1212h4v4h-4zM1165 1178h5v4h-5zM1165 1212h5v4h-5zM1170 1185h4v12h-4zM1170 1206h4v6h-4zM1174 1174h4v4h-4zM1174 1185h4v12h-4zM1174 1206h4v6h-4zM1178 1178h4v4h-4zM1178 1212h4v7h-4zM1178 1307h4v4h-4zM1182 1182h3v3h-3zM1182 1212h3v4h-3zM1182 1258h3v5h-3zM1185 1191h6v6h-6zM1191 1191h6v6h-6zM1191 1201h6v11h-6zM1201 1206h5v6h-5zM1212 1212h4v4h-4zM1228 1302h5v5h-5zM1228 1328h5v4h-5zM1239 1239h3v3h-3zM1239 1258h3v5h-3zM1239 1273h3v11h-3zM1239 1296h3v6h-3zM1239 1307h3v4h-3zM1239 1323h3v5h-3zM1242 1242h5v5h-5zM1242 1253h5v5h-5zM1242 1302h5v9h-5zM1242 1323h5v5h-5zM1247 1253h6v5h-6zM1247 1273h6v5h-6zM1247 1317h6v11h-6zM1253 1290h5v12h-5zM1253 1307h5v4h-5zM1258 1258h5v10h-5zM1258 1278h5v6h-5zM1258 1311h5v12h-5zM1263 1263h5v5h-5zM1263 1273h5v5h-5zM1263 1290h5v6h-5zM1273 1302h5v9h-5zM1290 1296h6v6h-6zM1290 1317h6v6h-6zM1296 1302h6v15h-6zM1296 1323h6v5h-6zM1302 1317h5v6h-5zM1307 1307h4v4h-4zM1311 1311h6v6h-6zM1311 1323h6v5h-6zM1317 1317h6v6h-6zM1328 1328h4v4h-4zM1332 1332h1v1h-1z"/>
<path fill="#e84a4e" d="M784 844h5v3h-5zM789 844h5v3h-5zM794 844h6v3h-6zM800 844h6v3h-6zM814 844h6v3h-6zM820 844h5v3h-5zM825 844h4v3h-4zM829 844h5v3h-5zM834 844h6v3h-6zM840 844h4v3h-4zM844 847h3v20h-3zM873 909h4v6h-4zM877 881h4v5h-4zM877 915h4v5h-4zM877 926h4v11h-4zM881 909h5v6h-5zM886 909h5v6h-5zM891 903h4v6h-4zM891 915h4v5h-4zM899 909h4v6h-4zM903 909h3v6h-3zM906 909h3v6h-3zM906 937h3v6h-3zM909 915h6v5h-6zM909 932h6v5h-6zM926 937h6v6h-6zM957 957h6v10h-6zM957 970h6v10h-6zM957 993h6v23h-6zM957 1019h6v8h-6zM957 1043h6v10h-6zM957 1058h6v5h-6zM957 1072h6v4h-6zM957 1080h6v4h-6zM957 1089h6v7h-6zM957 1101h6v3h-6zM957 1108h6v9h-6zM957 1128h6v5h-6zM957 1138h6v4h-6zM957 1148h6v17h-6zM957 1170h6v8h-6zM957 1185h6v12h-6zM963 967h4v18h-4zM963 1007h4v4h-4zM963 1019h4v8h-4zM963 1031h4v4h-4zM963 1039h4v19h-4zM963 1067h4v5h-4zM963 1089h4v7h-4zM963 1108h4v5h-4zM963 1117h4v4h-4zM963 1128h4v14h-4zM963 1148h4v9h-4zM963 1161h4v4h-4zM963 1170h4v4h-4zM963 1185h4v12h-4zM967 967h3v8h-3zM967 993h3v4h-3zM967 1003h3v4h-3zM967 1011h3v5h-3zM967 1019h3v8h-3zM967 1031h3v4h-3zM967 1043h3v15h-3zM967 1067h3v5h-3zM967 1076h3v13h-3zM967 1108h3v13h-3zM967 1133h3v5h-3zM967 1142h3v12h-3zM967 1157h3v13h-3zM967 1174h3v4h-3zM967 1191h3v6h-3zM970 970h5v5h-5zM970 980h5v5h-5zM970 993h5v4h-5zM970 1011h5v11h-5zM970 1039h5v4h-5zM970 1067h5v5h-5zM970 1080h5v16h-5zM970 1101h5v3h-5zM970 1133h5v5h-5zM970 1142h5v12h-5zM970 1157h5v21h-5zM975 1007h5v9h-5zM975 1019h5v3h-5zM975 1043h5v5h-5zM975 1053h5v10h-5zM975 1072h5v4h-5zM975 1080h5v9h-5zM975 1108h5v5h-5zM975 1117h5v4h-5zM975 1128h5v20h-5zM975 1154h5v7h-5zM975 1165h5v5h-5zM975 1174h5v4h-5zM975 1191h5v6h-5zM980 980h5v5h-5zM980 997h5v6h-5zM980 1007h5v4h-5zM980 1016h5v3h-5zM980 1031h5v4h-5zM980 1048h5v15h-5zM980 1067h5v9h-5zM980 1089h5v7h-5zM980 1117h5v4h-5zM980 1128h5v33h-5zM980 1185h5v6h-5zM989 993h4v14h-4zM989 1011h4v16h-4zM989 1031h4v4h-4zM989 1043h4v5h-4zM989 1053h4v5h-4zM989 1072h4v4h-4zM989 1084h4v5h-4zM989 1108h4v5h-4zM989 1117h4v4h-4zM993 1027h4v4h-4zM993 1133h4v9h-4zM993 1154h4v7h-4zM993 1165h4v13h-4zM993 1185h4v6h-4zM997 1027h6v4h-6zM997 1104h6v4h-6zM997 1133h6v9h-6zM997 1148h6v13h-6zM997 1165h6v13h-6zM997 1185h6v12h-6zM1003 1027h4v4h-4zM1003 1128h4v10h-4zM1003 1148h4v22h-4zM1003 1174h4v4h-4zM1003 1191h4v6h-4zM1007 1027h4v4h-4zM1007 1063h4v4h-4zM1007 1133h4v21h-4zM1007 1165h4v13h-4zM1007 1185h4v6h-4zM1011 1027h5v4h-5zM1011 1035h5v4h-5zM1011 1128h5v20h-5zM1011 1157h5v17h-5zM1011 1185h5v6h-5zM1016 1027h3v4h-3zM1016 1035h3v4h-3zM1016 1104h3v4h-3zM1016 1128h3v5h-3zM1016 1142h3v6h-3zM1016 1157h3v13h-3zM1016 1191h3v6h-3zM1019 1035h3v4h-3zM1019 1104h3v4h-3zM1019 1128h3v29h-3zM1019 1161h3v17h-3zM1019 1185h3v6h-3zM1022 1104h5v4h-5zM1022 1128h5v10h-5zM1022 1142h5v6h-5zM1022 1154h5v11h-5zM1022 1170h5v4h-5zM1022 1191h5v6h-5zM1027 1031h4v4h-4zM1027 1039h4v4h-4zM1027 1053h4v5h-4zM1027 1067h4v17h-4zM1027 1089h4v7h-4zM1027 1101h4v3h-4zM1031 1035h4v4h-4zM1031 1133h4v5h-4zM1031 1154h4v11h-4zM1031 1185h4v12h-4zM1035 1039h4v24h-4zM1035 1067h4v9h-4zM1035 1080h4v16h-4zM1035 1101h4v3h-4zM1035 1108h4v9h-4zM1039 1063h4v4h-4zM1039 1104h4v4h-4zM1039 1133h4v9h-4zM1039 1157h4v17h-4zM1039 1191h4v6h-4zM1043 1138h5v10h-5zM1043 1161h5v9h-5zM1043 1185h5v6h-5zM1048 1104h5v4h-5zM1048 1133h5v24h-5zM1048 1161h5v4h-5zM1048 1170h5v4h-5zM1048 1178h5v7h-5zM1048 1212h5v4h-5zM1053 1128h5v10h-5zM1053 1148h5v9h-5zM1053 1161h5v13h-5zM1053 1178h5v7h-5zM1053 1212h5v4h-5zM1058 1128h5v5h-5zM1058 1142h5v12h-5zM1058 1157h5v4h-5zM1058 1165h5v9h-5zM1058 1178h5v4h-5zM1058 1212h5v4h-5zM1063 1067h4v9h-4zM1063 1084h4v5h-4zM1063 1174h4v4h-4zM1063 1185h4v12h-4zM1063 1201h4v5h-4zM1067 1104h5v4h-5zM1067 1128h5v10h-5zM1067 1157h5v17h-5zM1067 1178h5v4h-5zM1067 1212h5v4h-5zM1072 1104h4v4h-4zM1072 1128h4v10h-4zM1072 1148h4v9h-4zM1072 1165h4v5h-4zM1072 1178h4v7h-4zM1072 1212h4v4h-4zM1076 1133h4v5h-4zM1076 1157h4v8h-4zM1076 1178h4v7h-4zM1076 1212h4v4h-4zM1080 1128h4v10h-4zM1080 1142h4v15h-4zM1080 1170h4v4h-4zM1080 1178h4v7h-4zM1080 1212h4v4h-4zM1084 1104h5v4h-5zM1084 1128h5v29h-5zM1084 1161h5v4h-5zM1084 1178h5v7h-5zM1084 1212h5v4h-5zM1089 1104h7v4h-7zM1089 1138h7v10h-7zM1089 1154h7v7h-7zM1089 1170h7v4h-7zM1089 1178h7v7h-7zM1089 1212h7v4h-7zM1101 1104h3v4h-3zM1101 1128h3v5h-3zM1101 1138h3v27h-3zM1101 1170h3v4h-3zM1101 1178h3v7h-3zM1101 1212h3v4h-3zM1104 1108h4v13h-4zM1104 1174h4v4h-4zM1104 1185h4v12h-4zM1104 1201h4v11h-4zM1104 1216h4v3h-4zM1108 1128h5v10h-5zM1108 1142h5v6h-5zM1108 1154h5v20h-5zM1108 1178h5v4h-5zM1113 1138h4v36h-4zM1113 1178h4v7h-4zM1117 1148h4v6h-4zM1117 1165h4v5h-4zM1117 1178h4v7h-4zM1128 1128h5v14h-5zM1128 1157h5v4h-5zM1128 1170h5v4h-5zM1128 1191h5v6h-5zM1128 1201h5v5h-5zM1128 1216h5v3h-5zM1133 1133h5v5h-5zM1133 1142h5v6h-5zM1133 1154h5v3h-5zM1133 1161h5v9h-5zM1133 1174h5v4h-5zM1133 1185h5v12h-5zM1133 1206h5v6h-5zM1138 1142h4v12h-4zM1138 1157h4v21h-4zM1138 1191h4v6h-4zM1138 1206h4v6h-4zM1138 1216h4v3h-4zM1142 1154h6v16h-6zM1142 1174h6v4h-6zM1142 1185h6v6h-6zM1142 1216h6v3h-6zM1148 1148h6v6h-6zM1148 1185h6v12h-6zM1148 1201h6v5h-6zM1154 1154h3v3h-3zM1154 1161h3v4h-3zM1154 1185h3v12h-3zM1154 1201h3v5h-3zM1154 1216h3v3h-3zM1157 1157h4v4h-4zM1157 1165h4v13h-4zM1157 1191h4v6h-4zM1157 1201h4v5h-4zM1161 1170h4v8h-4zM1161 1201h4v11h-4zM1161 1216h4v3h-4zM1165 1165h5v5h-5zM1165 1174h5v4h-5zM1165 1185h5v12h-5zM1165 1206h5v6h-5zM1165 1216h5v3h-5zM1170 1178h4v7h-4zM1170 1212h4v4h-4zM1174 1182h4v3h-4zM1174 1212h4v7h-4zM1178 1185h4v6h-4zM1178 1201h4v11h-4zM1185 1216h6v3h-6zM1191 1212h6v4h-6zM1201 1216h5v3h-5zM1206 1216h6v3h-6zM1242 1332h5v1h-5zM1247 1332h6v1h-6zM1258 1332h5v1h-5zM1263 1332h5v1h-5zM1273 1332h5v1h-5zM1278 1332h6v1h-6zM1284 1332h6v1h-6zM1290 1332h6v1h-6zM1296 1332h6v1h-6zM1302 1332h5v1h-5zM1307 1332h4v1h-4zM1311 1332h6v1h-6zM1317 1332h6v1h-6zM1323 1332h5v1h-5z"/>
<path fill="#dc1f27" d="M783 783h1v6h-1zM783 794h1v6h-1zM783 814h1v11h-1zM783 829h1v15h-1zM783 847h1v15h-1zM784 789h5v11h-5zM784 809h5v5h-5zM784 825h5v15h-5zM784 847h5v15h-5zM789 789h5v17h-5zM789 814h5v26h-5zM789 847h5v20h-5zM794 794h6v12h-6zM794 809h6v31h-6zM794 847h6v20h-6zM800 809h6v35h-6zM800 847h6v20h-6zM809 814h5v6h-5zM809 825h5v4h-5zM809 834h5v10h-5zM809 847h5v20h-5zM814 814h6v26h-6zM814 847h6v20h-6zM820 820h5v5h-5zM820 829h5v15h-5zM820 847h5v20h-5zM825 825h4v19h-4zM825 858h4v9h-4zM829 834h5v10h-5zM829 847h5v11h-5zM834 834h6v10h-6zM834 847h6v20h-6zM840 840h4v4h-4zM840 847h4v20h-4zM847 847h6v20h-6zM853 853h5v14h-5zM858 862h4v5h-4zM862 862h5v5h-5zM873 873h4v4h-4zM873 881h4v10h-4zM873 899h4v4h-4zM873 906h4v3h-4zM873 932h4v5h-4zM881 881h5v10h-5zM881 899h5v4h-5zM881 906h5v3h-5zM881 920h5v6h-5zM886 886h5v5h-5zM886 899h5v4h-5zM886 906h5v3h-5zM886 915h5v5h-5zM886 932h5v5h-5zM899 920h4v12h-4zM903 906h3v3h-3zM903 926h3v11h-3zM906 906h3v3h-3zM915 915h5v17h-5zM920 926h6v11h-6zM926 932h6v5h-6zM993 1011h4v5h-4zM993 1031h4v4h-4zM993 1048h4v15h-4zM993 1072h4v17h-4zM993 1108h4v13h-4zM997 1003h6v4h-6zM997 1011h6v5h-6zM997 1019h6v3h-6zM997 1043h6v5h-6zM997 1053h6v10h-6zM997 1076h6v4h-6zM997 1084h6v12h-6zM997 1101h6v3h-6zM997 1108h6v5h-6zM1003 1003h4v4h-4zM1003 1039h4v24h-4zM1003 1076h4v4h-4zM1003 1084h4v12h-4zM1003 1113h4v8h-4zM1007 1011h4v16h-4zM1007 1053h4v5h-4zM1007 1067h4v13h-4zM1007 1101h4v3h-4zM1007 1108h4v13h-4zM1011 1011h5v5h-5zM1011 1022h5v5h-5zM1011 1031h5v4h-5zM1011 1039h5v14h-5zM1011 1067h5v13h-5zM1011 1108h5v9h-5zM1016 1016h3v11h-3zM1016 1031h3v4h-3zM1016 1058h3v5h-3zM1016 1067h3v5h-3zM1016 1089h3v7h-3zM1016 1117h3v4h-3zM1019 1039h3v4h-3zM1019 1048h3v5h-3zM1019 1058h3v5h-3zM1019 1067h3v5h-3zM1019 1076h3v20h-3zM1019 1113h3v4h-3zM1022 1022h5v5h-5zM1022 1031h5v4h-5zM1022 1039h5v14h-5zM1022 1058h5v5h-5zM1022 1084h5v5h-5zM1031 1031h4v4h-4zM1031 1053h4v5h-4zM1031 1076h4v20h-4zM1031 1101h4v3h-4zM1031 1108h4v5h-4zM1031 1117h4v4h-4zM1039 1053h4v10h-4zM1039 1072h4v8h-4zM1039 1089h4v7h-4zM1039 1108h4v5h-4zM1043 1048h5v15h-5zM1043 1067h5v17h-5zM1043 1089h5v7h-5zM1043 1101h5v3h-5zM1043 1108h5v13h-5zM1048 1048h5v10h-5zM1048 1067h5v5h-5zM1048 1076h5v20h-5zM1048 1101h5v3h-5zM1048 1113h5v8h-5zM1048 1174h5v4h-5zM1048 1185h5v6h-5zM1048 1216h5v3h-5zM1053 1058h5v5h-5zM1053 1072h5v17h-5zM1053 1101h5v3h-5zM1053 1108h5v5h-5zM1053 1117h5v4h-5zM1053 1174h5v4h-5zM1053 1191h5v6h-5zM1053 1201h5v11h-5zM1053 1216h5v3h-5zM1058 1067h5v9h-5zM1058 1080h5v9h-5zM1058 1108h5v5h-5zM1058 1185h5v12h-5zM1058 1201h5v11h-5zM1058 1216h5v3h-5zM1067 1076h5v4h-5zM1067 1101h5v3h-5zM1067 1113h5v4h-5zM1067 1174h5v4h-5zM1067 1185h5v6h-5zM1067 1201h5v5h-5zM1067 1216h5v3h-5zM1072 1108h4v5h-4zM1072 1185h4v12h-4zM1072 1201h4v11h-4zM1072 1216h4v3h-4zM1076 1076h4v4h-4zM1076 1084h4v12h-4zM1076 1101h4v3h-4zM1076 1108h4v5h-4zM1076 1174h4v4h-4zM1076 1185h4v12h-4zM1076 1216h4v3h-4zM1080 1084h4v12h-4zM1080 1101h4v3h-4zM1080 1108h4v13h-4zM1080 1174h4v4h-4zM1080 1185h4v12h-4zM1080 1201h4v11h-4zM1080 1216h4v3h-4zM1084 1084h5v5h-5zM1084 1108h5v13h-5zM1084 1174h5v4h-5zM1084 1185h5v12h-5zM1084 1201h5v11h-5zM1084 1216h5v3h-5zM1089 1089h7v7h-7zM1089 1101h7v3h-7zM1089 1108h7v9h-7zM1089 1174h7v4h-7zM1089 1185h7v12h-7zM1089 1201h7v11h-7zM1089 1216h7v3h-7zM1101 1101h3v3h-3zM1101 1108h3v9h-3zM1101 1174h3v4h-3zM1101 1185h3v12h-3zM1101 1201h3v11h-3zM1101 1216h3v3h-3zM1108 1108h5v9h-5zM1108 1174h5v4h-5zM1108 1185h5v12h-5zM1108 1201h5v11h-5zM1108 1216h5v3h-5zM1113 1113h4v4h-4zM1113 1185h4v12h-4zM1113 1201h4v5h-4zM1113 1216h4v3h-4zM1117 1117h4v4h-4zM1117 1174h4v4h-4zM1117 1185h4v12h-4zM1117 1201h4v5h-4zM1117 1216h4v3h-4zM1170 1170h4v8h-4zM1170 1201h4v5h-4zM1174 1201h4v5h-4zM1185 1185h6v6h-6zM1185 1201h6v11h-6zM1201 1201h5v5h-5zM1206 1206h6v6h-6zM1228 1317h5v6h-5zM1239 1242h3v16h-3zM1239 1263h3v5h-3zM1239 1284h3v12h-3zM1239 1302h3v5h-3zM1239 1311h3v12h-3zM1239 1328h3v4h-3zM1242 1247h5v6h-5zM1242 1258h5v10h-5zM1242 1273h5v11h-5zM1242 1290h5v12h-5zM1242 1311h5v12h-5zM1242 1328h5v4h-5zM1247 1247h6v6h-6zM1247 1258h6v10h-6zM1247 1278h6v39h-6zM1247 1328h6v4h-6zM1253 1253h5v15h-5zM1253 1273h5v11h-5zM1253 1302h5v5h-5zM1253 1311h5v21h-5zM1258 1273h5v5h-5zM1258 1284h5v27h-5zM1258 1323h5v9h-5zM1263 1278h5v12h-5zM1263 1296h5v36h-5zM1273 1273h5v11h-5zM1273 1290h5v12h-5zM1273 1311h5v21h-5zM1278 1278h6v54h-6zM1284 1290h6v6h-6zM1284 1302h6v5h-6zM1284 1311h6v12h-6zM1290 1290h6v6h-6zM1290 1302h6v15h-6zM1290 1323h6v9h-6zM1296 1296h6v6h-6zM1296 1317h6v6h-6zM1296 1328h6v4h-6zM1302 1302h5v15h-5zM1302 1323h5v9h-5zM1307 1311h4v21h-4zM1311 1317h6v6h-6zM1311 1328h6v4h-6zM1317 1323h6v9h-6zM1323 1323h5v9h-5z"/>
<path stroke="#fff" stroke-width="1.6" opacity="0.75" fill="none" d="M794 794v285M794 794h-285M800 800v285M800 800h-285M806 806v285M806 806h-285M844 844v285M844 844h-285M847 847v285M847 847h-285M862 862v285M862 862h-285M873 873v285M873 873h-285M899 899v285M899 899h-285M903 903v285M903 903h-285M909 909v285M909 909h-285M915 915v285M915 915h-285M920 920v285M920 920h-285M937 937v285M937 937h-285M957 957v285M957 957h-285M963 963v285M963 963h-285M967 967v285M967 967h-285M985 985v285M985 985h-285M993 993v285M993 993h-285M997 997v285M997 997h-285M1011 1011v285M1011 1011h-285M1039 1039v285M1039 1039h-285M1108 1108v285M1108 1108h-285M1117 1117v285M1117 1117h-285M1142 1142v285M1142 1142h-285M1178 1178v285M1178 1178h-285M1197 1197v285M1197 1197h-285M1216 1216v285M1216 1216h-285M1225 1225v285M1225 1225h-285M1233 1233v285M1233 1233h-285M1263 1263v285M1263 1263h-285M1273 1273v285M1273 1273h-285M1284 1284v285M1284 1284h-285M1307 1307v285M1307 1307h-285M1332 1332v285M1332 1332h-285"/>
</g></g>
<path d="M31 0V206.9" stroke="#6d6d6d" stroke-width="1.3" fill="none"/>
<path d="M31 117H341" stroke="#a6a6a6" stroke-width="1.5" fill="none"/>
<path d="M31 206.9H341" stroke="#6d6d6d" stroke-width="1.3" fill="none"/>
<path d="M28 110.6H31" stroke="#6d6d6d" stroke-width="1"/>
<text x="24.5" y="113.5" text-anchor="end" font-size="8.2" fill="#2b2b2b" stroke="#2b2b2b" stroke-width="0.2">0</text>
<path d="M28 89.6H31" stroke="#6d6d6d" stroke-width="1"/>
<text x="24.5" y="92.5" text-anchor="end" font-size="8.2" fill="#2b2b2b" stroke="#2b2b2b" stroke-width="0.2">1</text>
<path d="M28 68.7H31" stroke="#6d6d6d" stroke-width="1"/>
<text x="24.5" y="71.6" text-anchor="end" font-size="8.2" fill="#2b2b2b" stroke="#2b2b2b" stroke-width="0.2">2</text>
<path d="M28 47.8H31" stroke="#6d6d6d" stroke-width="1"/>
<text x="24.5" y="50.6" text-anchor="end" font-size="8.2" fill="#2b2b2b" stroke="#2b2b2b" stroke-width="0.2">3</text>
<path d="M28 26.8H31" stroke="#6d6d6d" stroke-width="1"/>
<text x="24.5" y="29.7" text-anchor="end" font-size="8.2" fill="#2b2b2b" stroke="#2b2b2b" stroke-width="0.2">4</text>
<path d="M28 5.8H31" stroke="#6d6d6d" stroke-width="1"/>
<text x="24.5" y="8.7" text-anchor="end" font-size="8.2" fill="#2b2b2b" stroke="#2b2b2b" stroke-width="0.2">5</text>
<path d="M46.6 206.9v2.5" stroke="#6d6d6d" stroke-width="1"/>
<text x="46.6" y="219.8" text-anchor="middle" font-size="8.2" fill="#2b2b2b" stroke="#2b2b2b" stroke-width="0.2">22.8</text>
<path d="M93.1 206.9v2.5" stroke="#6d6d6d" stroke-width="1"/>
<text x="93.1" y="219.8" text-anchor="middle" font-size="8.2" fill="#2b2b2b" stroke="#2b2b2b" stroke-width="0.2">22.9</text>
<path d="M139.5 206.9v2.5" stroke="#6d6d6d" stroke-width="1"/>
<text x="139.5" y="219.8" text-anchor="middle" font-size="8.2" fill="#2b2b2b" stroke="#2b2b2b" stroke-width="0.2">23.0</text>
<path d="M186.0 206.9v2.5" stroke="#6d6d6d" stroke-width="1"/>
<text x="186.0" y="219.8" text-anchor="middle" font-size="8.2" fill="#2b2b2b" stroke="#2b2b2b" stroke-width="0.2">23.1</text>
<path d="M232.4 206.9v2.5" stroke="#6d6d6d" stroke-width="1"/>
<text x="232.4" y="219.8" text-anchor="middle" font-size="8.2" fill="#2b2b2b" stroke="#2b2b2b" stroke-width="0.2">23.2</text>
<path d="M278.9 206.9v2.5" stroke="#6d6d6d" stroke-width="1"/>
<text x="278.9" y="219.8" text-anchor="middle" font-size="8.2" fill="#2b2b2b" stroke="#2b2b2b" stroke-width="0.2">23.3</text>
<path d="M325.3 206.9v2.5" stroke="#6d6d6d" stroke-width="1"/>
<text x="325.3" y="219.8" text-anchor="middle" font-size="8.2" fill="#2b2b2b" stroke="#2b2b2b" stroke-width="0.2">23.4</text>
<text x="185.6" y="232.3" text-anchor="middle" font-size="8.1" fill="#2b2b2b" stroke="#2b2b2b" stroke-width="0.2">Position on chromosome 17 (Mb)</text>
<text transform="translate(6.9 58) rotate(-90)" text-anchor="middle" font-size="8.6" fill="#2b2b2b" stroke="#2b2b2b" stroke-width="0.2">−log<tspan font-size="5.6" dy="2">10</tspan><tspan dy="-2" font-style="italic"> P</tspan></text>
<circle cx="39.9" cy="9.4" r="1.6" fill="#b82430"/>
<text x="46.2" y="12.2" font-size="8.15" fill="#2b2b2b" stroke="#2b2b2b" stroke-width="0.2">rs4795067</text>
<text x="38.8" y="30.5" font-size="8" fill="#cc3348" stroke="#cc3348" stroke-width="0.2"><tspan font-style="italic" font-size="8.8">P</tspan><tspan font-size="6.1" dy="2.6">discovery</tspan><tspan dy="-2.6"> = 5 × 10</tspan><tspan font-size="5.5" dy="-3.5">−5</tspan></text>
<text x="38.8" y="40.15" font-size="8" fill="#cc3348" stroke="#cc3348" stroke-width="0.2"><tspan font-style="italic" font-size="8.8">P</tspan><tspan font-size="6.1" dy="2.6">replication</tspan><tspan dy="-2.6"> = 2 × 10</tspan><tspan font-size="5.5" dy="-3.5">−7</tspan></text>
<text x="38.8" y="49.8" font-size="8" fill="#cc3348" stroke="#cc3348" stroke-width="0.2"><tspan font-style="italic" font-size="8.8">P</tspan><tspan font-size="6.1" dy="2.6">combined</tspan><tspan dy="-2.6"> = 4 × 10</tspan><tspan font-size="5.5" dy="-3.5">−11</tspan></text>
<text x="316.5" y="23.5" font-size="8" font-style="italic" fill="#2a2a2a" stroke="#2a2a2a" stroke-width="0.2" text-anchor="middle">NOS2</text>
<path d="M373.9 10V206.9" stroke="#6d6d6d" stroke-width="1.3" fill="none"/>
<path d="M373.9 125.6H685" stroke="#a6a6a6" stroke-width="1.5" fill="none"/>
<path d="M373.9 206.9H685" stroke="#6d6d6d" stroke-width="1.3" fill="none"/>
<path d="M370.9 120.0H373.9" stroke="#6d6d6d" stroke-width="1"/>
<text x="367.4" y="122.9" text-anchor="end" font-size="8.2" fill="#2b2b2b" stroke="#2b2b2b" stroke-width="0.2">0</text>
<path d="M370.9 105.0H373.9" stroke="#6d6d6d" stroke-width="1"/>
<text x="367.4" y="107.9" text-anchor="end" font-size="8.2" fill="#2b2b2b" stroke="#2b2b2b" stroke-width="0.2">1</text>
<path d="M370.9 89.9H373.9" stroke="#6d6d6d" stroke-width="1"/>
<text x="367.4" y="92.8" text-anchor="end" font-size="8.2" fill="#2b2b2b" stroke="#2b2b2b" stroke-width="0.2">2</text>
<path d="M370.9 74.8H373.9" stroke="#6d6d6d" stroke-width="1"/>
<text x="367.4" y="77.8" text-anchor="end" font-size="8.2" fill="#2b2b2b" stroke="#2b2b2b" stroke-width="0.2">3</text>
<path d="M370.9 59.8H373.9" stroke="#6d6d6d" stroke-width="1"/>
<text x="367.4" y="62.7" text-anchor="end" font-size="8.2" fill="#2b2b2b" stroke="#2b2b2b" stroke-width="0.2">4</text>
<path d="M370.9 44.8H373.9" stroke="#6d6d6d" stroke-width="1"/>
<text x="367.4" y="47.6" text-anchor="end" font-size="8.2" fill="#2b2b2b" stroke="#2b2b2b" stroke-width="0.2">5</text>
<path d="M370.9 29.7H373.9" stroke="#6d6d6d" stroke-width="1"/>
<text x="367.4" y="32.6" text-anchor="end" font-size="8.2" fill="#2b2b2b" stroke="#2b2b2b" stroke-width="0.2">6</text>
<path d="M370.9 14.6H373.9" stroke="#6d6d6d" stroke-width="1"/>
<text x="367.4" y="17.5" text-anchor="end" font-size="8.2" fill="#2b2b2b" stroke="#2b2b2b" stroke-width="0.2">7</text>
<path d="M389.2 206.9v2.5" stroke="#6d6d6d" stroke-width="1"/>
<text x="389.2" y="219.9" text-anchor="middle" font-size="8.2" fill="#2b2b2b" stroke="#2b2b2b" stroke-width="0.2">34.2</text>
<path d="M444.9 206.9v2.5" stroke="#6d6d6d" stroke-width="1"/>
<text x="444.9" y="219.9" text-anchor="middle" font-size="8.2" fill="#2b2b2b" stroke="#2b2b2b" stroke-width="0.2">34.4</text>
<path d="M500.7 206.9v2.5" stroke="#6d6d6d" stroke-width="1"/>
<text x="500.7" y="219.9" text-anchor="middle" font-size="8.2" fill="#2b2b2b" stroke="#2b2b2b" stroke-width="0.2">34.6</text>
<path d="M556.5 206.9v2.5" stroke="#6d6d6d" stroke-width="1"/>
<text x="556.5" y="219.9" text-anchor="middle" font-size="8.2" fill="#2b2b2b" stroke="#2b2b2b" stroke-width="0.2">34.8</text>
<path d="M612.2 206.9v2.5" stroke="#6d6d6d" stroke-width="1"/>
<text x="612.2" y="219.9" text-anchor="middle" font-size="8.2" fill="#2b2b2b" stroke="#2b2b2b" stroke-width="0.2">35.0</text>
<path d="M668.0 206.9v2.5" stroke="#6d6d6d" stroke-width="1"/>
<text x="668.0" y="219.9" text-anchor="middle" font-size="8.2" fill="#2b2b2b" stroke="#2b2b2b" stroke-width="0.2">35.2</text>
<text x="528.6" y="232.2" text-anchor="middle" font-size="8.1" fill="#2b2b2b" stroke="#2b2b2b" stroke-width="0.2">Position on chromosome 14 (Mb)</text>
<text transform="translate(350.6 68) rotate(-90)" text-anchor="middle" font-size="8.6" fill="#2b2b2b" stroke="#2b2b2b" stroke-width="0.2">−log<tspan font-size="5.6" dy="2">10</tspan><tspan dy="-2" font-style="italic"> P</tspan></text>
<circle cx="382.5" cy="17.9" r="1.7" fill="#b82430"/>
<text x="388.9" y="19.9" font-size="8.15" fill="#2b2b2b" stroke="#2b2b2b" stroke-width="0.2">rs12586317</text>
<text x="381.2" y="31.7" font-size="8" fill="#cc3348" stroke="#cc3348" stroke-width="0.2"><tspan font-style="italic" font-size="8.8">P</tspan><tspan font-size="6.1" dy="2.6">discovery</tspan><tspan dy="-2.6"> = 1 × 10</tspan><tspan font-size="5.5" dy="-3.5">−5</tspan></text>
<text x="381.2" y="41.6" font-size="8" fill="#cc3348" stroke="#cc3348" stroke-width="0.2"><tspan font-style="italic" font-size="8.8">P</tspan><tspan font-size="6.1" dy="2.6">replication</tspan><tspan dy="-2.6"> = 1 × 10</tspan><tspan font-size="5.5" dy="-3.5">−4</tspan></text>
<text x="381.2" y="51.5" font-size="8" fill="#cc3348" stroke="#cc3348" stroke-width="0.2"><tspan font-style="italic" font-size="8.8">P</tspan><tspan font-size="6.1" dy="2.6">combined</tspan><tspan dy="-2.6"> = 2 × 10</tspan><tspan font-size="5.5" dy="-3.5">−8</tspan></text>
<text x="624.3" y="23.8" font-size="8" font-style="italic" fill="#2a2a2a" stroke="#2a2a2a" stroke-width="0.2" >NFKBIA &amp;</text>
<text x="624.3" y="33.5" font-size="8" font-style="italic" fill="#2a2a2a" stroke="#2a2a2a" stroke-width="0.2" >PSMA6</text>
<path d="M31 247V479.6" stroke="#6d6d6d" stroke-width="1.3" fill="none"/>
<path d="M31 364.3H341" stroke="#a6a6a6" stroke-width="1.5" fill="none"/>
<path d="M31 479.6H338" stroke="#6d6d6d" stroke-width="1.3" fill="none"/>
<path d="M28 358.2H31" stroke="#6d6d6d" stroke-width="1"/>
<text x="24.5" y="359.8" text-anchor="end" font-size="8.2" fill="#2b2b2b" stroke="#2b2b2b" stroke-width="0.2">0</text>
<path d="M28 340.7H31" stroke="#6d6d6d" stroke-width="1"/>
<text x="24.5" y="342.3" text-anchor="end" font-size="8.2" fill="#2b2b2b" stroke="#2b2b2b" stroke-width="0.2">1</text>
<path d="M28 323.2H31" stroke="#6d6d6d" stroke-width="1"/>
<text x="24.5" y="324.8" text-anchor="end" font-size="8.2" fill="#2b2b2b" stroke="#2b2b2b" stroke-width="0.2">2</text>
<path d="M28 305.7H31" stroke="#6d6d6d" stroke-width="1"/>
<text x="24.5" y="307.3" text-anchor="end" font-size="8.2" fill="#2b2b2b" stroke="#2b2b2b" stroke-width="0.2">3</text>
<path d="M28 288.2H31" stroke="#6d6d6d" stroke-width="1"/>
<text x="24.5" y="289.8" text-anchor="end" font-size="8.2" fill="#2b2b2b" stroke="#2b2b2b" stroke-width="0.2">4</text>
<path d="M28 270.7H31" stroke="#6d6d6d" stroke-width="1"/>
<text x="24.5" y="272.3" text-anchor="end" font-size="8.2" fill="#2b2b2b" stroke="#2b2b2b" stroke-width="0.2">5</text>
<path d="M28 253.2H31" stroke="#6d6d6d" stroke-width="1"/>
<text x="24.5" y="254.8" text-anchor="end" font-size="8.2" fill="#2b2b2b" stroke="#2b2b2b" stroke-width="0.2">6</text>
<path d="M45.9 479.6v2.5" stroke="#6d6d6d" stroke-width="1"/>
<text x="45.9" y="493.8" text-anchor="middle" font-size="8.2" fill="#2b2b2b" stroke="#2b2b2b" stroke-width="0.2">30.1</text>
<path d="M101.7 479.6v2.5" stroke="#6d6d6d" stroke-width="1"/>
<text x="101.7" y="493.8" text-anchor="middle" font-size="8.2" fill="#2b2b2b" stroke="#2b2b2b" stroke-width="0.2">30.4</text>
<path d="M157.4 479.6v2.5" stroke="#6d6d6d" stroke-width="1"/>
<text x="157.4" y="493.8" text-anchor="middle" font-size="8.2" fill="#2b2b2b" stroke="#2b2b2b" stroke-width="0.2">30.7</text>
<path d="M213.2 479.6v2.5" stroke="#6d6d6d" stroke-width="1"/>
<text x="213.2" y="493.8" text-anchor="middle" font-size="8.2" fill="#2b2b2b" stroke="#2b2b2b" stroke-width="0.2">31.0</text>
<path d="M268.9 479.6v2.5" stroke="#6d6d6d" stroke-width="1"/>
<text x="268.9" y="493.8" text-anchor="middle" font-size="8.2" fill="#2b2b2b" stroke="#2b2b2b" stroke-width="0.2">31.3</text>
<path d="M324.7 479.6v2.5" stroke="#6d6d6d" stroke-width="1"/>
<text x="324.7" y="493.8" text-anchor="middle" font-size="8.2" fill="#2b2b2b" stroke="#2b2b2b" stroke-width="0.2">31.6</text>
<text x="185.4" y="507" text-anchor="middle" font-size="8.1" fill="#2b2b2b" stroke="#2b2b2b" stroke-width="0.2">Position on chromosome 16 (Mb)</text>
<text transform="translate(7.0 306) rotate(-90)" text-anchor="middle" font-size="8.6" fill="#2b2b2b" stroke="#2b2b2b" stroke-width="0.2">−log<tspan font-size="5.6" dy="2">10</tspan><tspan dy="-2" font-style="italic"> P</tspan></text>
<circle cx="38.4" cy="256.4" r="1.8" fill="#b82430"/>
<text x="45.8" y="258.7" font-size="8.15" fill="#2b2b2b" stroke="#2b2b2b" stroke-width="0.2">rs10782001</text>
<text x="38.5" y="269.7" font-size="8" fill="#cc3348" stroke="#cc3348" stroke-width="0.2"><tspan font-style="italic" font-size="8.8">P</tspan><tspan font-size="6.1" dy="2.6">discovery</tspan><tspan dy="-2.6"> = 1 × 10</tspan><tspan font-size="5.5" dy="-3.5">−5</tspan></text>
<text x="38.5" y="279.59999999999997" font-size="8" fill="#cc3348" stroke="#cc3348" stroke-width="0.2"><tspan font-style="italic" font-size="8.8">P</tspan><tspan font-size="6.1" dy="2.6">replication</tspan><tspan dy="-2.6"> = 1 × 10</tspan><tspan font-size="5.5" dy="-3.5">−5</tspan></text>
<text x="38.5" y="289.5" font-size="8" fill="#cc3348" stroke="#cc3348" stroke-width="0.2"><tspan font-style="italic" font-size="8.8">P</tspan><tspan font-size="6.1" dy="2.6">combined</tspan><tspan dy="-2.6"> = 9 × 10</tspan><tspan font-size="5.5" dy="-3.5">−10</tspan></text>
<text x="316.5" y="261.5" font-size="8" font-style="italic" fill="#2a2a2a" stroke="#2a2a2a" stroke-width="0.2" text-anchor="middle">FBXL19</text>
<path d="M374.3 242.5V480.5" stroke="#6d6d6d" stroke-width="1.3" fill="none"/>
<path d="M374.3 358.5H685" stroke="#a6a6a6" stroke-width="1.5" fill="none"/>
<path d="M374.3 480.5H684" stroke="#6d6d6d" stroke-width="1.3" fill="none"/>
<path d="M371.3 351.8H374.3" stroke="#6d6d6d" stroke-width="1"/>
<text x="367.8" y="353.1" text-anchor="end" font-size="8.2" fill="#2b2b2b" stroke="#2b2b2b" stroke-width="0.2">0</text>
<path d="M371.3 331.4H374.3" stroke="#6d6d6d" stroke-width="1"/>
<text x="367.8" y="332.7" text-anchor="end" font-size="8.2" fill="#2b2b2b" stroke="#2b2b2b" stroke-width="0.2">1</text>
<path d="M371.3 311.0H374.3" stroke="#6d6d6d" stroke-width="1"/>
<text x="367.8" y="312.3" text-anchor="end" font-size="8.2" fill="#2b2b2b" stroke="#2b2b2b" stroke-width="0.2">2</text>
<path d="M371.3 290.6H374.3" stroke="#6d6d6d" stroke-width="1"/>
<text x="367.8" y="291.9" text-anchor="end" font-size="8.2" fill="#2b2b2b" stroke="#2b2b2b" stroke-width="0.2">3</text>
<path d="M371.3 270.2H374.3" stroke="#6d6d6d" stroke-width="1"/>
<text x="367.8" y="271.5" text-anchor="end" font-size="8.2" fill="#2b2b2b" stroke="#2b2b2b" stroke-width="0.2">4</text>
<path d="M371.3 249.8H374.3" stroke="#6d6d6d" stroke-width="1"/>
<text x="367.8" y="251.1" text-anchor="end" font-size="8.2" fill="#2b2b2b" stroke="#2b2b2b" stroke-width="0.2">5</text>
<path d="M389.4 480.5v2.5" stroke="#6d6d6d" stroke-width="1"/>
<text x="389.4" y="493.5" text-anchor="middle" font-size="8.2" fill="#2b2b2b" stroke="#2b2b2b" stroke-width="0.2">47.7</text>
<path d="M445.1 480.5v2.5" stroke="#6d6d6d" stroke-width="1"/>
<text x="445.1" y="493.5" text-anchor="middle" font-size="8.2" fill="#2b2b2b" stroke="#2b2b2b" stroke-width="0.2">47.8</text>
<path d="M500.8 480.5v2.5" stroke="#6d6d6d" stroke-width="1"/>
<text x="500.8" y="493.5" text-anchor="middle" font-size="8.2" fill="#2b2b2b" stroke="#2b2b2b" stroke-width="0.2">47.9</text>
<path d="M556.6 480.5v2.5" stroke="#6d6d6d" stroke-width="1"/>
<text x="556.6" y="493.5" text-anchor="middle" font-size="8.2" fill="#2b2b2b" stroke="#2b2b2b" stroke-width="0.2">48.0</text>
<path d="M612.3 480.5v2.5" stroke="#6d6d6d" stroke-width="1"/>
<text x="612.3" y="493.5" text-anchor="middle" font-size="8.2" fill="#2b2b2b" stroke="#2b2b2b" stroke-width="0.2">48.1</text>
<path d="M668.0 480.5v2.5" stroke="#6d6d6d" stroke-width="1"/>
<text x="668.0" y="493.5" text-anchor="middle" font-size="8.2" fill="#2b2b2b" stroke="#2b2b2b" stroke-width="0.2">48.2</text>
<text x="528.8" y="507" text-anchor="middle" font-size="8.1" fill="#2b2b2b" stroke="#2b2b2b" stroke-width="0.2">Position on chromosome 20 (Mb)</text>
<text transform="translate(352.0 300) rotate(-90)" text-anchor="middle" font-size="8.6" fill="#2b2b2b" stroke="#2b2b2b" stroke-width="0.2">−log<tspan font-size="5.6" dy="2">10</tspan><tspan dy="-2" font-style="italic"> P</tspan></text>
<circle cx="382.3" cy="250.5" r="2.1" fill="#b82430"/>
<text x="389.3" y="252.3" font-size="8.15" fill="#2b2b2b" stroke="#2b2b2b" stroke-width="0.2">rs495337</text>
<text x="381.6" y="269.7" font-size="8" fill="#cc3348" stroke="#cc3348" stroke-width="0.2"><tspan font-style="italic" font-size="8.8">P</tspan><tspan font-size="6.1" dy="2.6">discovery</tspan><tspan dy="-2.6"> = 7 × 10</tspan><tspan font-size="5.5" dy="-3.5">−4</tspan></text>
<text x="381.6" y="279.59999999999997" font-size="8" fill="#cc3348" stroke="#cc3348" stroke-width="0.2"><tspan font-style="italic" font-size="8.8">P</tspan><tspan font-size="6.1" dy="2.6">replication</tspan><tspan dy="-2.6"> = 7 × 10</tspan><tspan font-size="5.5" dy="-3.5">−5</tspan></text>
<text x="381.6" y="289.5" font-size="8" fill="#cc3348" stroke="#cc3348" stroke-width="0.2"><tspan font-style="italic" font-size="8.8">P</tspan><tspan font-size="6.1" dy="2.6">combined</tspan><tspan dy="-2.6"> = 2 × 10</tspan><tspan font-size="5.5" dy="-3.5">−7</tspan></text>
<text x="642.5" y="261.5" font-size="8" font-style="italic" fill="#2a2a2a" stroke="#2a2a2a" stroke-width="0.2" text-anchor="middle">RNF114</text>
<path d="M147.3 109.6h0M161.6 95.0h0M58.7 93.4h0M180.1 100.2h0M116.6 102.3h0M99.3 108.0h0M199.6 98.3h0M119.9 105.1h0M47.6 101.4h0M106.4 106.8h0M73.1 96.8h0M57.9 104.5h0M172.9 104.1h0M128.9 107.3h0M47.5 91.6h0M184.0 93.8h0M201.3 108.4h0M200.0 92.3h0M107.3 101.3h0M189.6 109.2h0M89.9 96.3h0M101.9 105.8h0M200.5 103.4h0M195.1 101.7h0M186.0 95.6h0M139.4 108.8h0M201.6 92.4h0M84.7 96.4h0M67.4 99.6h0M141.9 98.3h0M174.0 100.0h0M125.4 86.9h0M174.9 104.3h0M206.5 99.9h0M124.9 101.1h0M195.3 104.2h0M185.0 105.0h0M118.9 98.4h0M63.2 96.1h0M202.7 92.3h0M135.2 99.3h0M208.7 109.3h0M130.0 87.4h0M116.4 97.0h0M217.6 99.0h0M172.0 102.3h0M208.8 93.7h0M127.9 89.0h0M164.9 106.6h0M54.0 91.1h0M170.2 104.9h0M154.6 109.2h0M88.6 101.5h0M57.6 106.0h0M200.1 106.9h0M190.6 91.6h0M204.7 105.7h0M147.9 91.6h0M144.1 99.0h0M61.6 102.5h0M189.9 93.0h0M133.2 87.3h0M184.0 106.6h0M59.5 104.3h0M47.7 94.0h0M204.4 107.9h0M147.3 107.6h0M167.2 102.6h0M97.6 109.6h0M215.7 109.2h0M170.4 94.0h0M198.1 99.5h0M207.0 94.5h0M48.5 93.5h0M149.9 108.6h0M165.7 108.6h0M182.3 91.6h0M130.5 105.5h0M214.4 107.2h0M127.7 92.1h0M136.1 104.6h0M51.3 99.1h0M100.8 104.6h0M176.1 101.3h0M182.2 110.5h0M50.6 107.1h0M87.3 97.0h0M72.9 97.5h0M60.8 94.0h0M189.5 104.7h0M146.3 98.7h0M180.5 94.8h0M196.0 110.1h0M212.7 106.5h0M169.9 107.4h0M171.7 109.9h0M173.7 92.6h0M199.8 94.7h0M61.2 100.0h0M135.6 97.8h0M125.6 88.4h0M168.5 109.0h0M47.6 97.5h0M130.2 100.8h0M132.3 86.8h0M88.5 95.2h0M67.4 108.4h0M154.0 107.3h0M96.0 107.5h0M159.3 98.8h0M181.3 93.8h0M102.2 105.5h0M188.1 106.0h0M142.9 86.8h0M126.2 92.5h0M77.8 100.7h0M148.8 110.5h0M77.5 98.6h0M58.0 97.1h0M171.4 101.2h0M89.3 98.7h0M214.6 102.5h0M127.1 89.1h0M212.4 103.6h0M163.4 110.2h0M186.8 95.6h0M182.1 108.9h0M149.4 89.5h0M141.8 104.1h0M216.2 103.2h0M67.0 94.3h0M213.7 108.2h0M127.1 94.6h0M73.1 96.6h0M135.5 91.8h0M66.8 94.8h0M129.9 89.7h0M214.1 104.0h0M199.9 108.9h0M181.4 107.1h0M54.6 102.9h0M66.5 110.0h0M119.3 95.5h0M152.1 97.7h0M95.0 102.5h0M80.0 104.4h0M124.0 96.0h0M216.8 98.8h0M152.3 91.9h0M146.4 97.9h0M133.5 104.9h0M74.3 100.0h0M54.4 98.1h0M68.1 104.3h0M201.1 105.1h0M118.2 109.5h0M49.5 97.9h0M62.9 105.1h0M175.0 92.8h0M152.7 96.2h0M189.1 105.0h0M57.8 104.9h0M77.8 108.0h0M188.1 95.9h0M206.5 94.1h0M176.2 99.0h0M176.7 106.2h0M71.4 98.9h0M148.4 105.1h0M155.2 102.9h0M86.2 108.5h0M169.5 99.2h0M200.2 92.7h0M138.5 93.2h0M114.5 109.8h0M90.9 108.5h0M170.2 93.0h0M104.9 103.8h0M74.6 105.7h0M133.7 97.3h0M135.1 102.2h0M71.7 95.3h0M108.2 107.9h0M166.6 92.7h0M59.8 92.4h0M61.8 94.4h0M128.4 101.3h0M190.1 90.8h0M123.7 104.0h0M139.0 101.8h0M200.9 93.3h0M172.6 103.2h0M94.6 98.7h0M139.3 95.5h0M107.5 107.0h0M71.5 106.0h0M163.8 92.2h0M75.2 109.9h0M181.1 105.7h0M141.4 99.0h0M179.2 101.6h0M95.0 99.3h0M194.8 95.5h0M91.8 106.0h0M171.3 106.6h0M83.9 106.4h0M208.1 98.0h0M197.1 98.0h0M183.3 106.0h0M210.8 99.3h0M125.4 91.6h0M90.7 97.1h0M46.7 93.3h0M177.2 110.2h0M165.2 104.7h0M169.9 95.3h0M119.6 97.9h0M184.3 100.7h0M77.1 98.5h0M147.3 107.0h0M161.6 105.5h0M137.1 91.3h0M63.1 95.9h0M165.6 99.1h0M48.7 107.5h0M158.3 105.4h0M177.0 92.7h0M178.3 98.6h0M124.3 93.3h0M148.8 109.9h0M214.3 105.7h0M89.7 107.0h0M208.6 98.4h0M155.4 92.8h0M131.7 91.2h0M131.9 94.7h0M122.7 109.8h0M177.4 101.4h0M77.0 104.3h0M141.8 97.5h0M162.2 93.5h0M162.1 96.7h0M116.6 99.4h0M87.5 108.5h0M216.8 105.1h0M95.8 100.9h0M130.4 85.3h0M206.0 101.2h0M122.5 103.2h0M122.8 105.8h0M85.4 94.6h0M184.4 107.0h0M136.5 102.8h0M179.0 99.5h0M143.6 85.7h0M73.9 106.4h0M163.0 93.8h0M203.3 94.0h0M174.4 110.0h0M201.5 106.0h0M102.7 106.8h0M182.7 97.6h0M48.5 104.2h0M133.9 93.0h0M207.3 92.7h0M144.2 87.0h0M116.0 109.1h0M126.5 105.7h0M68.7 107.5h0M197.1 98.0h0M194.7 106.5h0M141.2 97.1h0M194.3 91.8h0M212.8 97.4h0M49.3 103.5h0M96.0 104.4h0M140.2 89.6h0M89.9 105.2h0M147.4 90.4h0M76.7 94.3h0M107.6 103.6h0M125.1 94.9h0M204.9 108.5h0M120.4 99.0h0M48.3 101.5h0M132.5 105.5h0M176.3 96.2h0M101.8 108.7h0M159.3 105.2h0M178.9 105.8h0M187.5 98.3h0M202.2 99.4h0M49.8 91.1h0M96.0 98.6h0M71.0 109.5h0M207.9 106.8h0M122.9 101.1h0M180.7 95.3h0M151.2 104.3h0M70.0 105.6h0M173.9 110.2h0M168.1 100.6h0M205.0 96.5h0M104.2 98.5h0M184.6 101.3h0M57.7 107.7h0M145.4 85.8h0M163.9 95.9h0M128.9 101.1h0M187.2 100.6h0M86.1 108.0h0M121.1 93.7h0M195.1 94.2h0M175.9 94.9h0M171.9 99.7h0M203.4 96.8h0M138.6 105.5h0M74.9 109.6h0M72.1 107.2h0M89.3 105.5h0M204.3 99.9h0M163.8 99.9h0M182.0 91.3h0M184.6 91.8h0M151.9 105.8h0M196.9 96.1h0M184.1 102.0h0M67.1 108.0h0M96.8 96.7h0M203.4 102.4h0M174.4 102.8h0M118.8 95.0h0M151.6 107.8h0M64.1 99.5h0M85.4 110.2h0M89.5 108.0h0M197.6 104.4h0M58.0 98.7h0M179.1 94.8h0M196.5 104.4h0M205.8 105.9h0M201.0 109.9h0M154.5 107.3h0M132.9 92.5h0M216.4 99.1h0M202.7 106.9h0M99.0 106.8h0M209.1 108.6h0M202.0 97.3h0M139.9 89.7h0M103.2 106.8h0M91.3 107.0h0M113.9 98.9h0M160.3 90.5h0M196.2 94.6h0M90.2 98.8h0M51.1 101.5h0M132.0 84.8h0M77.0 95.7h0M54.7 105.2h0M111.9 100.3h0M206.3 94.1h0M116.2 97.6h0M66.1 103.3h0M160.9 91.1h0M47.2 96.1h0M117.0 105.1h0M103.1 102.0h0M197.6 105.1h0M87.3 106.8h0M207.9 102.6h0M186.3 105.1h0M136.5 106.8h0M90.9 96.0h0M142.3 85.0h0M139.3 99.9h0M142.7 107.7h0M199.7 96.0h0M153.5 109.0h0M111.5 99.9h0M135.2 91.6h0M152.4 87.3h0M131.8 91.9h0M164.1 107.2h0M208.5 104.4h0M139.4 104.1h0M199.3 102.3h0M132.1 108.6h0M165.6 106.7h0M99.4 101.7h0M194.1 104.8h0M46.6 105.4h0M163.0 103.3h0M77.2 109.0h0M193.8 97.0h0M217.4 98.2h0M130.9 90.9h0M68.7 105.7h0M209.1 109.0h0M196.6 90.6h0M124.3 105.4h0M171.9 93.5h0M189.6 95.6h0M134.2 92.2h0M87.3 97.4h0M175.0 99.3h0M198.3 96.4h0M200.6 98.0h0M68.5 110.1h0M136.7 88.8h0M93.7 104.9h0M141.3 99.8h0M60.3 104.4h0M128.3 89.5h0M189.1 107.3h0M124.0 106.6h0M126.3 89.5h0M129.5 100.9h0M137.8 108.2h0M145.3 102.1h0M63.6 95.5h0M110.1 104.7h0M69.0 103.3h0M51.3 102.2h0M215.9 108.1h0M174.2 95.7h0M164.0 95.2h0M166.6 98.3h0M134.8 91.4h0M68.7 109.2h0M138.0 83.3h0M179.2 106.5h0M121.1 110.0h0M189.1 101.7h0M47.4 103.4h0M200.0 105.5h0M191.3 98.6h0M168.8 106.8h0M190.7 103.8h0M179.6 101.6h0M51.4 102.8h0M73.6 108.0h0M88.2 96.3h0M178.7 109.7h0M68.9 99.6h0M168.2 107.7h0M69.7 104.9h0M50.0 104.3h0M67.1 93.5h0M76.5 106.0h0M47.2 107.6h0M136.8 97.6h0M66.7 106.3h0M126.8 92.8h0M213.6 95.5h0M134.0 110.1h0M73.9 107.7h0M191.7 100.0h0M144.8 97.5h0M147.9 110.3h0M173.9 102.1h0M173.2 103.7h0M117.1 106.4h0M200.7 92.8h0M172.1 105.4h0M123.2 89.0h0M138.2 101.6h0M126.5 86.0h0M161.1 98.0h0M178.2 97.1h0M61.0 104.2h0M99.5 103.0h0M79.3 95.3h0M183.4 107.1h0M121.6 98.8h0M119.4 103.7h0M121.9 107.6h0M171.7 93.9h0M91.6 104.7h0M68.6 104.9h0M90.0 102.7h0M184.4 95.5h0M122.3 107.9h0M211.0 99.6h0M168.6 108.6h0M113.0 103.3h0M59.2 106.0h0M102.1 102.3h0M69.6 97.9h0M168.8 108.1h0M202.1 102.1h0M130.1 91.5h0M196.7 100.7h0M129.9 90.6h0M62.6 101.7h0M183.8 106.5h0M181.7 104.7h0M70.1 96.0h0M132.6 84.4h0M67.6 105.3h0M172.4 109.9h0M134.0 100.9h0M144.0 103.7h0M205.4 103.9h0M65.6 105.6h0M72.7 99.5h0M73.6 104.2h0M79.0 96.0h0M107.7 102.2h0M52.8 102.7h0M56.7 91.7h0M160.9 96.8h0M213.3 100.7h0M126.0 104.1h0M128.9 102.8h0M124.0 106.7h0M179.1 98.2h0M154.8 95.8h0M90.0 105.7h0M122.2 92.4h0M131.6 95.6h0M139.3 84.2h0M153.5 108.0h0M211.8 107.6h0M77.1 96.4h0M51.3 104.6h0M47.2 102.6h0M208.9 109.0h0M122.1 99.6h0M172.1 92.8h0M125.9 102.0h0M130.6 91.4h0M173.8 94.0h0M146.6 84.8h0M183.6 101.9h0M103.9 99.6h0M174.3 104.2h0M68.9 106.4h0M185.1 95.7h0M166.3 95.2h0M212.1 98.1h0M94.7 105.6h0M111.2 107.7h0M204.8 108.4h0M146.1 102.0h0M118.7 97.9h0M59.8 105.4h0M47.1 99.3h0M125.3 110.3h0M83.4 100.7h0M198.2 103.2h0M140.2 87.9h0M91.8 107.5h0M186.8 106.3h0M78.6 99.1h0M111.5 98.5h0M208.5 102.1h0M64.4 106.9h0M101.8 101.0h0M55.7 106.3h0M125.3 108.2h0M174.4 103.6h0M195.0 102.4h0M211.7 103.9h0M184.7 100.8h0M155.5 96.7h0M77.6 107.5h0M69.2 107.9h0M61.4 97.1h0M131.5 104.4h0M142.9 109.4h0M148.9 95.7h0M147.4 85.6h0M133.9 93.3h0M142.7 92.3h0M197.4 95.5h0M143.0 91.9h0M178.3 91.8h0M122.1 101.0h0M184.6 109.6h0M207.4 108.8h0M172.8 101.5h0M146.5 93.1h0M171.6 101.1h0M118.8 104.0h0M54.7 94.1h0M141.8 90.8h0M66.1 95.1h0M166.4 93.0h0M62.7 107.3h0M49.3 109.5h0M192.8 105.8h0M146.9 108.2h0M72.2 100.6h0M167.5 105.1h0M85.0 96.4h0M132.0 107.8h0M156.9 98.6h0M198.6 108.6h0M108.5 105.4h0M86.9 104.8h0M100.9 105.2h0M146.5 110.1h0M92.1 96.9h0M145.8 110.0h0M121.9 108.1h0M102.4 101.8h0M170.6 92.4h0M195.6 110.0h0M141.5 89.3h0M186.2 101.6h0M61.4 95.2h0M188.1 99.7h0M59.2 92.4h0M201.5 100.7h0M133.9 107.6h0M185.9 97.0h0M196.0 104.6h0M141.1 98.0h0M188.8 97.4h0M64.5 103.5h0M78.4 99.7h0M178.6 101.0h0M83.6 106.4h0M186.7 100.1h0M195.0 100.4h0M149.3 90.5h0M183.8 99.5h0M125.4 92.3h0M55.3 105.3h0M118.0 108.6h0M80.4 103.6h0M106.8 101.2h0M132.5 109.3h0M64.5 110.3h0M179.4 106.3h0M207.7 98.0h0M104.6 97.9h0M66.5 102.5h0M56.8 98.0h0M216.1 99.5h0M79.9 101.0h0M76.6 95.5h0M176.5 104.4h0M199.8 108.8h0M57.8 92.6h0M182.7 108.2h0M66.3 107.4h0M160.1 90.7h0M169.5 101.9h0M147.0 109.3h0M53.1 109.9h0M134.6 98.3h0M181.9 109.8h0M52.9 94.0h0M130.4 90.9h0M179.4 107.0h0M87.4 106.2h0M189.2 100.9h0M186.1 88.3h0M78.1 92.0h0M178.1 89.5h0M68.0 92.0h0M164.5 79.8h0M216.6 86.8h0M151.9 84.1h0M197.5 80.1h0M172.3 86.9h0M108.2 93.2h0M214.6 84.6h0M194.8 82.2h0M88.5 91.1h0M167.9 90.7h0M79.1 90.4h0M72.2 91.2h0M155.4 85.4h0M100.1 91.2h0M194.5 86.9h0M99.8 90.1h0M130.6 83.3h0M98.1 90.0h0M201.5 85.6h0M143.5 82.0h0M52.4 89.4h0M197.2 82.6h0M161.7 88.5h0M130.2 80.2h0M155.4 79.3h0M115.1 86.3h0M218.6 88.4h0M203.4 87.6h0M198.8 78.0h0M146.7 83.1h0M191.0 87.3h0M167.4 85.7h0M181.7 78.4h0M99.2 91.5h0M193.4 78.8h0M184.0 78.7h0M115.1 91.6h0M96.7 87.4h0M91.0 90.2h0M90.1 90.5h0M192.6 78.2h0M181.6 79.5h0M199.2 74.9h0M49.6 90.0h0M87.6 88.3h0M161.9 90.6h0M186.5 84.4h0M156.4 79.8h0M205.7 87.7h0M108.9 91.0h0M209.4 76.3h0M164.8 85.5h0M179.0 83.1h0M196.8 78.5h0M211.1 85.9h0M204.7 71.4h0M120.9 88.3h0M161.1 82.8h0M178.4 85.3h0M109.7 96.5h0M91.1 89.4h0M201.2 75.5h0M200.9 74.9h0M105.8 94.8h0M152.7 75.8h0M193.8 73.0h0M84.7 91.9h0M264.4 107.5h0M271.3 103.2h0M271.6 108.9h0M280.6 98.7h0M248.3 103.6h0M253.6 105.6h0M315.3 103.3h0M275.9 96.5h0M291.5 101.9h0M314.4 101.2h0M249.0 110.2h0M261.0 99.5h0M271.8 96.0h0M302.4 102.7h0M276.8 101.8h0M319.5 107.2h0M291.0 102.1h0M286.4 99.1h0M237.1 106.0h0M302.7 101.2h0M293.8 105.7h0M278.8 109.0h0M302.4 100.9h0M289.8 103.8h0M280.0 104.8h0M270.2 109.8h0M223.5 105.7h0M286.9 110.0h0M236.7 105.2h0M316.4 104.4h0M271.4 108.1h0M267.4 103.3h0M227.6 103.1h0M313.8 109.9h0M299.7 109.7h0M271.3 107.8h0M307.5 110.1h0M285.8 99.7h0M304.4 101.2h0M252.7 99.7h0M272.8 95.6h0M228.5 98.7h0M272.5 97.6h0M278.6 104.9h0M280.0 99.5h0M253.2 99.3h0M304.3 109.3h0M241.3 105.6h0M295.8 106.2h0M226.0 100.3h0M261.7 97.7h0M265.3 108.0h0M252.1 95.8h0M251.8 107.5h0M233.8 96.4h0M220.2 106.2h0M310.3 100.6h0M235.7 106.0h0M240.6 101.7h0M316.4 107.8h0M276.9 99.3h0M272.9 95.8h0M239.6 95.8h0M292.0 98.3h0M234.9 107.1h0M251.1 103.4h0M286.0 108.7h0M280.2 100.9h0M306.4 107.4h0M292.4 110.0h0M284.7 102.3h0M248.7 96.1h0M289.2 105.5h0M295.9 103.0h0M276.6 103.6h0M258.0 108.0h0M276.9 100.7h0M225.9 108.3h0M247.1 108.4h0M295.6 110.5h0M268.1 109.6h0M248.9 100.5h0M223.7 102.0h0M276.8 108.8h0M251.8 104.7h0M285.4 98.8h0M275.2 103.7h0M243.9 95.7h0M287.2 101.0h0M298.4 101.1h0M287.6 105.4h0M244.1 104.3h0M279.4 101.0h0M223.6 104.0h0M291.3 108.2h0M290.2 109.4h0M308.4 107.4h0M320.0 108.6h0M254.5 97.3h0M293.9 105.4h0M324.6 109.5h0M281.7 97.7h0M320.5 107.6h0M241.7 100.9h0M297.7 105.1h0M278.9 100.8h0M241.5 98.1h0M246.1 104.9h0M232.7 98.2h0M322.8 105.4h0M233.7 108.8h0M312.0 107.5h0M269.8 102.3h0M276.5 96.6h0M243.7 107.1h0M235.1 103.1h0M294.9 102.3h0M226.4 102.9h0M314.5 105.1h0M298.9 106.4h0M238.0 102.5h0M312.0 102.0h0M300.2 106.4h0M308.2 106.0h0M250.2 108.6h0M274.2 101.7h0M273.1 100.0h0M223.5 103.3h0M286.2 99.9h0M301.4 103.7h0M247.1 98.9h0M260.1 105.9h0M223.7 97.5h0M243.4 105.0h0M315.9 101.8h0M290.6 97.6h0M245.3 103.4h0M273.5 107.8h0M273.4 110.1h0M222.7 101.7h0M230.5 104.9h0M250.6 102.8h0M226.7 107.3h0M291.3 100.8h0M292.2 109.3h0M241.3 101.2h0M247.2 109.6h0M254.4 101.3h0M284.7 97.9h0M316.8 110.3h0M275.4 108.8h0M282.8 101.6h0M321.1 110.2h0M278.6 100.1h0M290.8 107.7h0M322.8 107.1h0M293.4 98.6h0M310.4 105.9h0M240.2 107.1h0M241.4 107.8h0M290.2 97.9h0M233.2 108.5h0M251.9 107.3h0M230.6 87.7h0M298.0 93.8h0M282.3 95.9h0M297.8 96.9h0M278.9 93.9h0M275.5 90.6h0M259.8 95.8h0M292.1 96.2h0M285.1 95.1h0M221.4 90.9h0M228.0 93.2h0M226.2 87.9h0M274.9 91.8h0M275.6 86.5h0M324.5 101.7h0M286.2 88.9h0M261.6 88.4h0M317.7 101.1h0M320.7 103.2h0M291.8 91.7h0M291.2 90.0h0M269.7 90.8h0M247.6 88.0h0M230.3 88.0h0M245.5 93.0h0M291.4 96.0h0M224.2 86.9h0M229.0 86.3h0M256.1 89.9h0M269.8 92.5h0M282.1 88.6h0M277.7 89.6h0M287.4 87.5h0M231.6 94.7h0M197.5 107.9h0M160.2 103.7h0M134.9 106.3h0M113.4 103.3h0M155.4 103.2h0M131.7 108.2h0M163.8 105.8h0M134.8 106.9h0M157.0 103.8h0M121.7 103.0h0M161.4 105.8h0M104.8 106.0h0M120.8 109.5h0M199.7 108.6h0M149.9 107.2h0M147.6 109.4h0M157.7 105.6h0M121.6 103.3h0M206.1 103.4h0M108.5 108.7h0M121.6 110.0h0M201.4 110.0h0M208.2 103.8h0M98.7 106.2h0M152.0 110.1h0M193.3 109.9h0M141.3 105.0h0M170.3 107.6h0M134.2 109.7h0M188.3 103.2h0M114.6 103.9h0M107.6 109.3h0M174.4 110.2h0M194.1 108.6h0M181.0 108.7h0M129.5 110.0h0M156.9 106.4h0M118.3 106.6h0M139.4 107.0h0M144.7 107.8h0M174.2 109.3h0M182.2 105.0h0M195.8 103.8h0M130.4 108.7h0M96.4 108.2h0M114.0 103.2h0M196.1 110.0h0M166.6 109.4h0M171.8 109.1h0M137.0 108.0h0M118.5 108.5h0M203.8 105.0h0M168.1 104.1h0M104.8 105.2h0M109.0 103.8h0M172.7 103.5h0M173.2 103.2h0M120.0 110.3h0M114.6 105.6h0M133.7 109.2h0M185.4 105.7h0M152.7 106.5h0M203.9 105.4h0M164.5 107.7h0M141.4 105.1h0M163.6 107.3h0M162.9 105.1h0M164.0 104.5h0M104.8 107.0h0M186.0 105.9h0M207.2 108.2h0M128.4 108.6h0M178.1 104.0h0M103.3 105.1h0M106.5 107.9h0M126.7 108.3h0M109.4 104.6h0M118.2 103.5h0M120.7 104.2h0M112.4 110.0h0M179.0 105.8h0M131.7 106.8h0M95.3 104.4h0M156.0 105.1h0M166.5 106.8h0M161.4 103.9h0M183.7 104.9h0M201.8 109.1h0M140.1 104.2h0M104.2 103.9h0M184.6 103.6h0M175.0 105.9h0M210.2 107.9h0M125.9 106.3h0M209.4 110.0h0M177.8 107.3h0M199.4 103.6h0M129.9 103.2h0M113.7 106.3h0M199.5 108.8h0M209.6 105.6h0M125.6 107.6h0M185.5 105.8h0M162.6 108.9h0M130.8 107.2h0M118.0 106.3h0M152.7 105.5h0M142.8 107.6h0M113.5 108.9h0M134.7 108.3h0M144.3 106.2h0M148.0 105.9h0M209.0 109.7h0M112.5 109.2h0M121.5 108.4h0M118.8 107.6h0M200.0 105.9h0M99.8 106.8h0M124.9 106.6h0M207.6 108.5h0M54.0 70.0h0M54.0 75.0h0M61.5 87.0h0M83.6 77.5h0M97.4 73.4h0M95.0 80.0h0M99.7 82.0h0M108.0 88.0h0M117.3 54.5h0M117.3 87.0h0M119.6 77.5h0M118.5 80.0h0M130.9 64.3h0M172.9 59.1h0M206.0 49.1h0M130.0 75.0h0M133.0 75.0h0M152.4 70.5h0M160.0 72.0h0M163.0 75.0h0M209.7 59.0h0M210.4 68.7h0M217.8 68.7h0M204.9 18.5h0M207.5 21.5h0M222.4 34.0h0M224.6 34.0h0M247.1 62.4h0M233.1 70.1h0M223.9 75.0h0M236.1 80.3h0M248.9 78.2h0M293.6 77.3h0M299.7 82.4h0M309.3 81.2h0M311.0 82.0h0M313.7 86.4h0M325.0 85.9h0M319.0 90.4h0M313.7 93.4h0M319.0 104.4h0M323.3 107.4h0M324.2 109.2h0M188.4 63.6h0M190.3 61.4h0M191.8 63.3h0M195.1 59.7h0M195.0 60.7h0M196.3 60.3h0M198.1 60.7h0M199.6 60.0h0M198.8 56.9h0M202.0 57.7h0M201.2 57.4h0M203.1 57.8h0M203.4 55.5h0M203.9 55.9h0M200.1 58.8h0M197.3 63.6h0M202.0 62.0h0M193.0 61.9h0M203.7 61.8h0M198.1 62.3h0M200.9 59.1h0M196.5 63.2h0M145.4 81.1h0M150.3 81.4h0M131.9 80.3h0M140.4 83.8h0M144.3 81.8h0M148.2 80.9h0M139.0 79.5h0M147.4 81.0h0M149.4 79.3h0M129.1 78.5h0M149.1 77.7h0M128.3 78.0h0M141.4 77.7h0M150.7 81.9h0M139.6 81.9h0M143.6 76.8h0M146.5 77.1h0M150.7 80.5h0M139.7 81.7h0M137.6 78.1h0M139.4 82.8h0M138.2 83.7h0M132.5 80.7h0M134.7 79.5h0M132.9 79.1h0M144.1 79.6h0M160.4 83.6h0M162.8 83.1h0M164.9 83.0h0M168.0 82.7h0M170.9 81.5h0M173.7 81.8h0M176.0 80.8h0M179.0 79.8h0M180.8 79.3h0M184.6 78.7h0M186.8 78.4h0M188.9 77.8h0M191.9 78.1h0M194.8 77.6h0M197.2 76.8h0M200.4 76.6h0" stroke="#33278a" stroke-width="3.6" stroke-linecap="round" fill="none"/>
<path d="M199.8 20.1h0" stroke="#c8232c" stroke-width="3.6" stroke-linecap="round" fill="none"/>
<path d="M469.5 105.8h0M397.2 107.1h0M543.9 102.1h0M481.6 95.0h0M500.4 107.6h0M440.2 101.2h0M533.8 113.8h0M479.4 116.6h0M423.4 108.2h0M521.9 108.3h0M481.4 116.0h0M482.8 115.4h0M532.9 113.7h0M520.1 118.8h0M499.9 117.5h0M588.1 91.2h0M469.5 109.6h0M587.3 102.7h0M528.5 106.0h0M418.3 98.3h0M405.1 97.9h0M455.4 101.1h0M439.6 100.2h0M545.6 107.5h0M524.2 97.7h0M487.5 96.7h0M434.4 111.3h0M583.4 118.3h0M523.3 115.5h0M400.8 118.1h0M418.1 108.5h0M590.5 93.1h0M581.9 96.6h0M417.3 108.0h0M447.6 117.4h0M394.6 104.9h0M514.8 98.0h0M505.3 109.9h0M525.5 99.6h0M402.3 118.9h0M416.5 105.0h0M438.9 97.6h0M459.9 109.8h0M406.8 111.3h0M598.7 105.1h0M597.7 118.7h0M399.9 115.0h0M470.8 102.1h0M594.2 99.8h0M522.3 96.5h0M577.0 112.3h0M585.3 89.7h0M424.9 110.7h0M594.1 117.2h0M540.4 110.2h0M424.2 114.4h0M390.1 100.7h0M448.0 106.2h0M458.7 100.6h0M532.0 114.6h0M405.7 103.3h0M544.3 104.3h0M562.9 111.0h0M541.5 105.7h0M590.3 114.9h0M420.8 105.8h0M448.0 113.1h0M396.2 99.0h0M461.5 105.1h0M466.0 108.4h0M578.0 101.3h0M407.8 102.1h0M559.0 113.4h0M595.7 101.7h0M594.0 99.8h0M506.3 119.3h0M588.9 96.4h0M549.6 119.2h0M517.7 107.8h0M553.1 117.1h0M514.2 114.2h0M584.5 95.1h0M536.9 105.4h0M547.2 99.9h0M591.5 111.8h0M470.7 98.4h0M457.8 95.3h0M492.1 94.5h0M471.6 107.5h0M582.9 110.2h0M470.5 117.1h0M475.8 105.3h0M587.7 116.1h0M597.8 96.0h0M579.7 103.4h0M445.6 94.8h0M585.3 113.2h0M402.9 113.2h0M551.6 107.8h0M407.9 116.6h0M451.1 90.4h0M587.5 90.0h0M541.6 111.8h0M416.9 112.3h0M540.0 106.5h0M524.9 115.2h0M432.9 106.5h0M527.3 106.3h0M427.3 112.4h0M524.9 119.3h0M472.6 95.2h0M477.8 118.5h0M396.9 110.6h0M510.2 117.7h0M536.2 113.0h0M465.2 95.0h0M543.8 109.2h0M480.6 104.5h0M484.0 115.7h0M559.8 105.7h0M515.4 96.2h0M508.4 102.3h0M474.8 106.9h0M499.2 95.9h0M445.1 119.3h0M447.1 110.1h0M594.9 97.4h0M511.9 103.2h0M467.9 110.3h0M480.1 104.1h0M516.0 95.3h0M414.2 119.5h0M496.0 102.1h0M552.5 105.8h0M459.2 103.1h0M460.6 119.3h0M560.2 111.1h0M461.2 92.0h0M570.8 117.4h0M390.4 107.9h0M544.5 105.7h0M389.9 89.9h0M388.4 110.0h0M482.4 115.9h0M392.3 91.0h0M506.7 96.0h0M389.1 90.7h0M393.7 99.3h0M471.7 88.5h0M516.1 117.9h0M488.3 104.5h0M475.5 112.0h0M589.9 106.2h0M515.9 94.7h0M516.4 101.7h0M571.6 107.7h0M496.6 97.0h0M589.9 104.3h0M404.4 106.2h0M444.1 111.5h0M400.8 100.2h0M525.6 116.2h0M396.4 110.6h0M437.7 115.4h0M481.6 117.3h0M588.1 101.8h0M407.9 96.6h0M410.4 97.1h0M409.9 107.3h0M493.1 92.2h0M502.3 91.4h0M553.8 113.3h0M400.8 95.0h0M477.8 96.6h0M586.9 94.1h0M482.8 112.0h0M565.8 109.0h0M399.1 114.3h0M454.8 90.4h0M574.0 100.6h0M469.0 119.2h0M586.5 101.2h0M395.2 108.9h0M454.3 91.3h0M568.4 112.3h0M592.3 89.7h0M411.7 111.4h0M504.6 99.3h0M481.2 107.3h0M427.2 101.5h0M391.8 89.3h0M450.8 115.6h0M392.6 110.9h0M402.5 118.3h0M576.3 104.8h0M573.4 94.3h0M421.0 114.6h0M423.8 113.5h0M470.6 110.3h0M541.1 112.1h0M515.6 92.5h0M489.8 93.4h0M493.5 109.9h0M463.7 111.5h0M430.1 115.9h0M497.2 108.5h0M414.3 106.1h0M409.8 103.5h0M585.2 98.4h0M510.7 115.3h0M477.0 113.1h0M496.8 99.0h0M390.2 119.0h0M418.9 113.5h0M591.4 91.2h0M572.2 119.1h0M504.8 96.5h0M528.9 119.1h0M469.4 101.5h0M397.3 95.6h0M532.0 116.4h0M520.5 118.7h0M575.2 114.1h0M522.3 100.3h0M455.8 103.9h0M508.1 99.9h0M416.0 119.4h0M409.1 103.4h0M468.7 115.1h0M524.8 109.2h0M426.2 118.4h0M578.2 106.1h0M593.0 107.4h0M572.4 102.4h0M472.8 110.4h0M421.3 112.5h0M446.6 119.1h0M581.7 96.3h0M491.8 91.8h0M448.1 95.0h0M530.3 99.5h0M460.2 103.0h0M493.8 103.8h0M543.7 97.2h0M486.6 115.6h0M592.0 89.9h0M532.3 109.5h0M562.2 118.9h0M564.9 108.5h0M592.6 113.0h0M410.0 117.4h0M543.0 116.0h0M506.7 110.6h0M478.7 98.7h0M509.5 115.0h0M414.4 92.3h0M392.9 119.3h0M518.3 94.1h0M524.4 118.8h0M532.8 118.8h0M421.7 108.2h0M411.7 111.0h0M395.5 112.2h0M536.9 113.6h0M559.3 109.3h0M550.2 113.1h0M586.8 98.0h0M553.6 102.8h0M517.6 117.5h0M417.6 116.4h0M452.2 105.0h0M588.8 104.5h0M456.3 117.7h0M567.0 101.5h0M398.9 99.0h0M499.3 114.4h0M464.8 109.1h0M524.9 98.3h0M543.9 111.7h0M578.6 101.9h0M542.2 108.5h0M445.7 105.2h0M475.5 101.7h0M389.9 89.6h0M514.8 106.3h0M580.3 109.4h0M482.7 102.2h0M594.6 91.9h0M560.3 96.9h0M433.1 107.7h0M588.5 115.0h0M395.9 102.7h0M570.2 112.2h0M497.7 114.9h0M528.1 113.4h0M394.0 119.4h0M413.3 104.1h0M424.8 99.9h0M393.4 112.9h0M581.9 94.6h0M394.9 89.3h0M461.7 94.5h0M595.6 101.1h0M508.6 101.9h0M515.9 95.4h0M459.8 103.3h0M452.8 90.4h0M444.0 104.3h0M420.6 114.5h0M545.5 100.8h0M460.0 103.4h0M397.0 112.3h0M509.7 116.3h0M596.5 101.6h0M551.2 106.9h0M442.0 117.1h0M443.2 93.4h0M490.3 92.9h0M591.9 95.9h0M405.0 95.5h0M580.5 108.6h0M582.8 94.2h0M544.7 106.5h0M463.3 103.4h0M457.3 91.4h0M481.2 117.5h0M413.4 92.6h0M449.3 107.5h0M446.4 104.0h0M544.9 98.0h0M552.8 112.0h0M525.4 116.4h0M457.1 103.4h0M449.3 105.5h0M597.1 113.1h0M578.4 106.5h0M547.8 117.4h0M512.6 113.6h0M472.6 99.1h0M443.4 103.3h0M521.8 101.6h0M489.3 118.4h0M590.7 95.6h0M539.6 117.2h0M392.5 115.5h0M583.0 89.1h0M589.2 110.8h0M470.6 94.1h0M397.5 90.5h0M586.1 116.0h0M448.2 110.2h0M545.6 101.6h0M465.2 119.0h0M491.7 88.6h0M578.1 100.4h0M573.1 95.2h0M443.4 110.6h0M576.7 106.0h0M527.1 98.2h0M493.4 107.0h0M465.1 90.0h0M572.0 95.4h0M541.0 105.8h0M578.3 101.8h0M449.7 114.8h0M528.2 110.5h0M490.6 105.6h0M392.8 102.9h0M418.5 93.6h0M414.1 107.1h0M547.7 98.1h0M585.4 113.7h0M388.1 106.1h0M574.1 112.8h0M512.7 106.1h0M517.0 108.8h0M573.8 97.7h0M437.2 116.9h0M588.8 106.6h0M595.3 99.9h0M567.2 105.8h0M462.7 118.8h0M445.7 105.8h0M395.7 103.5h0M577.8 92.1h0M485.4 101.4h0M515.0 98.8h0M541.2 116.5h0M574.1 101.4h0M506.1 107.2h0M464.7 90.5h0M430.0 101.9h0M540.0 118.6h0M494.0 118.9h0M423.7 107.6h0M454.3 117.2h0M546.4 102.7h0M521.0 116.9h0M510.7 106.2h0M460.7 91.2h0M440.5 93.6h0M455.9 99.1h0M481.7 116.9h0M508.3 110.5h0M510.9 106.7h0M467.2 91.8h0M481.2 104.5h0M474.2 118.1h0M461.3 100.1h0M472.4 107.7h0M544.6 112.5h0M500.8 93.3h0M480.7 101.2h0M535.7 104.0h0M466.5 88.0h0M425.6 106.4h0M498.9 102.7h0M488.4 96.2h0M390.7 92.1h0M491.6 93.3h0M403.4 99.2h0M468.3 94.9h0M544.8 100.6h0M437.6 114.2h0M551.8 115.9h0M592.1 112.4h0M404.9 99.1h0M480.9 115.1h0M576.3 100.8h0M445.6 101.4h0M456.2 112.4h0M393.6 93.5h0M467.7 112.8h0M460.8 106.5h0M598.3 105.1h0M542.9 111.8h0M511.9 114.9h0M403.4 110.2h0M463.8 110.7h0M458.1 118.5h0M405.8 109.9h0M446.8 103.8h0M480.3 105.6h0M594.4 100.4h0M564.2 107.5h0M441.8 119.0h0M472.7 103.5h0M405.7 113.9h0M392.4 89.6h0M403.2 99.9h0M462.0 116.6h0M388.7 105.8h0M580.7 93.3h0M393.8 98.9h0M539.0 104.4h0M541.2 115.7h0M414.0 114.3h0M502.2 99.2h0M552.6 105.0h0M566.6 109.7h0M572.9 98.1h0M501.3 96.8h0M499.6 93.3h0M469.4 98.2h0M467.4 106.8h0M390.2 86.6h0M454.0 108.3h0M428.4 114.1h0M514.1 102.7h0M457.9 113.1h0M452.2 89.4h0M554.1 104.7h0M415.6 112.1h0M547.8 101.1h0M599.2 97.1h0M555.6 98.5h0M398.5 110.1h0M438.3 92.7h0M405.0 97.2h0M454.6 100.2h0M534.9 103.6h0M388.8 96.9h0M505.7 92.2h0M423.9 100.2h0M558.7 112.4h0M486.0 110.4h0M580.6 107.4h0M597.6 108.4h0M502.1 107.9h0M536.1 113.2h0M576.9 101.0h0M532.6 104.9h0M416.3 100.2h0M556.9 117.2h0M465.8 91.5h0M461.6 115.7h0M476.0 95.6h0M400.8 110.9h0M550.6 107.7h0M409.6 105.9h0M578.7 115.5h0M568.5 106.9h0M504.9 103.5h0M408.0 99.6h0M595.4 99.2h0M411.8 116.5h0M424.2 92.6h0M457.7 105.9h0M501.7 116.7h0M576.1 102.8h0M502.1 95.7h0M558.4 103.7h0M448.4 114.2h0M513.7 117.9h0M456.2 99.9h0M559.4 107.7h0M446.1 110.4h0M565.4 117.4h0M519.6 110.0h0M565.0 106.2h0M402.7 117.0h0M574.4 117.4h0M546.3 109.5h0M543.3 115.7h0M515.7 108.6h0M416.9 107.5h0M408.1 113.7h0M509.7 105.4h0M557.0 108.4h0M503.8 103.7h0M464.7 115.7h0M476.2 101.9h0M523.3 109.5h0M487.1 110.6h0M474.0 94.0h0M591.4 96.9h0M582.4 104.3h0M400.0 106.1h0M550.6 97.2h0M596.3 113.1h0M583.9 100.8h0M399.4 110.4h0M452.1 110.6h0M396.8 113.7h0M583.1 98.7h0M590.7 97.6h0M506.5 100.9h0M526.1 97.9h0M473.1 98.9h0M522.6 94.9h0M514.0 116.6h0M564.3 115.3h0M578.4 111.1h0M455.6 105.6h0M546.3 101.7h0M474.9 95.4h0M503.7 118.4h0M534.3 106.4h0M487.1 92.0h0M419.1 93.7h0M508.9 99.6h0M484.3 114.9h0M460.9 95.4h0M469.9 102.5h0M430.4 100.2h0M439.7 115.6h0M448.3 98.7h0M396.1 100.1h0M424.6 112.0h0M457.7 104.3h0M598.0 119.1h0M502.4 118.3h0M464.2 90.4h0M390.6 117.1h0M497.1 95.1h0M480.6 102.2h0M446.3 100.2h0M405.0 116.2h0M461.6 99.9h0M593.8 91.6h0M497.3 101.7h0M486.6 98.3h0M470.3 95.0h0M397.2 111.3h0M409.1 117.4h0M507.5 97.1h0M470.7 97.6h0M544.4 118.3h0M504.6 100.5h0M570.8 110.6h0M556.2 119.0h0M487.9 115.4h0M433.7 105.6h0M434.3 100.6h0M462.9 99.0h0M434.2 115.3h0M426.5 99.4h0M447.6 101.0h0M540.7 113.7h0M433.6 92.3h0M464.4 92.6h0M421.0 111.9h0M492.6 88.8h0M543.5 101.5h0M529.2 101.5h0M474.6 114.6h0M396.4 92.1h0M538.3 107.7h0M511.2 97.3h0M508.7 109.0h0M418.6 109.1h0M537.7 110.9h0M592.7 104.5h0M552.7 106.8h0M461.8 97.0h0M512.0 102.9h0M471.5 103.8h0M518.5 116.9h0M472.6 92.7h0M544.1 117.3h0M515.7 105.0h0M427.9 93.7h0M507.0 117.2h0M502.6 112.8h0M487.4 93.7h0M404.8 115.6h0M542.9 105.1h0M567.1 110.6h0M519.9 95.0h0M563.5 104.8h0M596.1 93.8h0M573.7 106.7h0M552.9 107.8h0M475.6 119.0h0M548.8 111.3h0M447.1 118.4h0M581.0 99.5h0M460.2 113.6h0M393.5 91.6h0M467.6 114.7h0M433.5 99.3h0M580.9 97.0h0M554.3 98.2h0M579.6 112.1h0M577.1 92.7h0M462.1 113.4h0M465.7 102.5h0M389.8 100.2h0M551.7 101.3h0M487.6 113.9h0M485.1 106.6h0M498.7 95.3h0M541.2 106.2h0M448.9 93.0h0M512.1 115.5h0M512.8 91.3h0M447.2 94.5h0M454.1 111.7h0M392.2 102.9h0M421.1 111.6h0M437.2 104.2h0M477.6 97.6h0M490.2 96.5h0M409.9 112.1h0M529.4 102.6h0M425.8 108.2h0M481.1 109.3h0M513.1 118.7h0M496.2 112.6h0M462.5 115.1h0M419.1 101.4h0M436.5 112.6h0M514.9 112.9h0M407.4 98.4h0M553.1 102.5h0M499.5 103.5h0M587.7 90.8h0M432.4 112.5h0M494.0 93.7h0M470.4 103.3h0M542.4 117.0h0M536.8 118.1h0M579.4 115.1h0M531.5 105.5h0M473.4 101.5h0M430.3 119.1h0M523.0 111.6h0M521.6 104.0h0M409.7 98.5h0M448.6 111.6h0M398.6 93.8h0M449.6 105.4h0M574.6 111.3h0M398.3 89.8h0M575.2 114.8h0M518.9 113.3h0M537.2 98.5h0M448.6 107.7h0M400.8 107.1h0M483.5 118.1h0M458.0 106.6h0M475.3 106.5h0M509.2 97.8h0M453.0 107.8h0M596.5 92.9h0M584.7 105.7h0M590.5 115.4h0M431.2 92.6h0M477.8 115.1h0M461.4 92.8h0M481.4 95.9h0M499.2 109.2h0M396.3 100.7h0M453.6 97.6h0M532.6 114.9h0M571.1 95.1h0M390.2 115.1h0M459.3 97.6h0M538.6 103.6h0M427.5 93.3h0M539.6 105.5h0M510.0 108.6h0M562.7 115.0h0M473.7 94.9h0M533.8 104.5h0M568.7 110.0h0M570.0 112.4h0M432.7 94.8h0M558.4 103.1h0M428.8 110.9h0M446.0 118.7h0M510.0 114.4h0M457.8 107.3h0M523.6 95.3h0M393.2 106.3h0M428.8 100.4h0M456.8 116.5h0M553.8 108.8h0M507.2 119.0h0M552.1 98.1h0M398.0 103.5h0M513.7 100.7h0M508.1 98.3h0M519.1 111.9h0M595.0 101.6h0M510.4 96.8h0M391.2 102.8h0M563.2 104.5h0M512.3 112.6h0M400.6 118.1h0M515.0 97.3h0M489.2 106.6h0M572.0 95.3h0M399.1 119.2h0M414.2 93.1h0M485.1 110.2h0M472.8 113.9h0M416.9 114.9h0M474.0 114.9h0M400.5 113.5h0M462.2 112.7h0M417.9 115.3h0M484.5 106.8h0M395.7 115.6h0M446.4 99.1h0M522.9 98.3h0M534.5 114.8h0M394.9 101.6h0M413.7 114.7h0M521.8 117.8h0M443.4 101.9h0M424.6 99.6h0M528.2 111.7h0M586.1 93.6h0M412.6 112.8h0M456.7 91.5h0M396.0 114.0h0M500.3 107.2h0M470.7 108.9h0M589.9 95.8h0M448.3 101.0h0M481.1 98.7h0M469.9 93.8h0M591.5 91.8h0M503.2 100.7h0M483.5 103.5h0M459.7 103.0h0M459.2 102.0h0M452.9 114.6h0M541.6 116.3h0M469.9 116.3h0M471.5 112.5h0M478.5 99.0h0M514.1 113.0h0M568.9 111.3h0M445.9 107.5h0M560.1 113.4h0M460.2 102.4h0M469.0 115.8h0M465.6 93.3h0M545.1 103.1h0M470.0 93.5h0M510.8 105.2h0M394.8 112.4h0M520.9 94.1h0M596.3 116.4h0M457.7 98.7h0M471.4 110.4h0M388.4 106.3h0M446.4 115.2h0M502.7 97.5h0M592.6 115.1h0M433.4 116.9h0M504.8 104.9h0M405.7 114.1h0M501.0 115.3h0M451.9 94.5h0M509.8 115.9h0M416.1 99.2h0M455.0 102.7h0M545.3 98.7h0M389.0 114.8h0M399.0 117.3h0M529.0 104.1h0M591.8 104.0h0M489.2 93.5h0M507.7 115.5h0M456.3 89.8h0M466.0 116.7h0M463.1 88.2h0M438.6 98.9h0M456.4 91.9h0M558.7 98.7h0M591.2 108.8h0M411.5 107.1h0M593.0 89.9h0M388.1 108.6h0M559.5 106.8h0M550.9 111.7h0M459.8 111.4h0M451.7 116.2h0M485.6 105.9h0M411.6 93.4h0M538.1 115.3h0M588.5 97.4h0M406.7 99.5h0M589.2 118.8h0M573.1 97.1h0M597.6 93.5h0M489.5 97.1h0M536.7 112.5h0M471.0 95.8h0M481.4 88.3h0M477.2 94.5h0M548.2 108.5h0M539.0 117.0h0M432.4 105.2h0M407.9 112.7h0M500.8 105.4h0M512.9 117.6h0M399.2 118.9h0M453.3 93.0h0M431.4 92.4h0M468.0 89.4h0M527.7 115.9h0M461.5 93.2h0M391.8 97.3h0M534.7 117.6h0M396.8 97.8h0M410.2 102.9h0M391.2 100.9h0M492.3 117.8h0M426.0 116.6h0M579.9 93.2h0M510.8 101.1h0M550.0 118.0h0M456.8 113.5h0M418.3 111.8h0M474.8 115.3h0M410.8 115.4h0M440.2 94.4h0M557.2 111.5h0M415.3 119.2h0M595.7 109.4h0M530.1 100.8h0M472.4 96.5h0M406.6 100.0h0M514.1 119.2h0M474.2 96.5h0M544.7 102.9h0M457.9 89.3h0M525.4 117.8h0M447.0 98.4h0M477.3 101.7h0M552.9 113.9h0M402.4 96.9h0M529.9 109.2h0M517.2 98.1h0M424.7 106.5h0M389.3 97.8h0M486.9 109.4h0M396.2 94.6h0M531.4 113.2h0M480.5 106.1h0M467.4 99.3h0M452.2 117.0h0M459.0 96.5h0M453.3 115.9h0M596.5 102.4h0M390.9 116.9h0M593.3 99.2h0M415.7 108.8h0M437.6 107.4h0M438.4 92.7h0M469.0 113.2h0M529.3 112.2h0M487.4 105.6h0M487.6 103.3h0M496.0 101.2h0M421.0 97.7h0M468.5 98.7h0M494.4 113.1h0M429.5 101.1h0M547.4 104.8h0M391.6 98.8h0M585.7 99.5h0M554.2 113.6h0M457.2 99.0h0M444.7 93.7h0M580.6 101.4h0M405.8 113.9h0M457.1 106.4h0M499.5 88.3h0M449.5 95.3h0M546.9 97.4h0M576.7 100.9h0M588.3 114.4h0M493.9 88.8h0M480.3 107.4h0M405.9 112.4h0M485.0 110.1h0M519.1 116.0h0M423.6 94.6h0M401.4 105.9h0M582.5 100.5h0M537.5 99.2h0M463.3 102.0h0M539.4 107.6h0M460.9 111.2h0M454.1 118.6h0M445.8 102.5h0M529.3 102.0h0M514.5 108.5h0M544.4 97.8h0M429.5 112.3h0M558.1 116.7h0M536.4 114.4h0M436.3 93.4h0M565.2 105.7h0M414.9 105.5h0M504.5 93.6h0M470.7 93.4h0M493.6 91.7h0M399.3 107.4h0M486.0 96.4h0M399.1 98.5h0M464.4 108.0h0M566.3 110.5h0M544.0 98.1h0M442.6 94.6h0M450.1 102.8h0M457.3 112.6h0M517.5 97.7h0M589.3 105.3h0M484.0 114.7h0M581.8 112.1h0M532.2 106.8h0M440.8 98.7h0M585.4 118.7h0M394.7 90.8h0M465.8 108.9h0M524.3 108.7h0M462.6 90.3h0M470.1 111.0h0M455.8 94.8h0M503.1 89.1h0M450.8 106.3h0M480.4 116.3h0M413.8 101.9h0M449.3 101.8h0M396.4 96.5h0M463.8 106.0h0M389.1 115.6h0M520.3 95.1h0M472.3 114.3h0M422.0 112.0h0M476.3 106.7h0M573.2 94.7h0M483.8 95.9h0M579.4 107.5h0M451.1 91.3h0M486.9 97.6h0M395.1 101.0h0M527.3 119.1h0M482.2 118.6h0M482.8 116.7h0M591.9 100.3h0M561.9 105.0h0M392.2 103.4h0M528.2 106.5h0M458.6 92.4h0M536.8 98.8h0M498.7 103.4h0M456.5 119.2h0M595.3 105.7h0M562.6 110.1h0M394.2 90.8h0M552.2 104.4h0M422.0 107.6h0M393.9 106.9h0M544.7 105.2h0M596.0 100.6h0M589.9 115.0h0M463.3 88.1h0M509.4 102.3h0M472.1 97.4h0M447.2 113.7h0M392.2 88.4h0M431.0 118.2h0M583.4 115.0h0M589.7 119.0h0M402.5 106.5h0M406.8 99.9h0M577.6 109.1h0M431.3 99.7h0M553.7 108.5h0M576.4 118.3h0M430.5 101.6h0M546.0 106.1h0M503.6 98.8h0M589.1 111.8h0M592.7 111.8h0M450.4 101.0h0M504.4 116.1h0M432.2 114.4h0M441.6 94.5h0M388.7 101.9h0M545.4 98.2h0M508.8 109.3h0M466.9 99.2h0M485.6 99.7h0M534.1 112.9h0M585.6 111.9h0M413.8 116.2h0M552.1 105.8h0M388.4 105.2h0M537.1 111.2h0M580.4 115.6h0M540.9 117.6h0M530.1 104.0h0M425.1 99.2h0M573.1 118.3h0M456.2 110.8h0M436.9 112.1h0M560.4 107.6h0M396.0 118.4h0M417.5 105.1h0M391.4 96.3h0M443.2 104.7h0M462.7 89.5h0M402.1 109.1h0M393.3 95.0h0M490.8 108.4h0M538.7 97.0h0M486.6 98.2h0M491.7 102.2h0M564.4 96.4h0M480.2 118.2h0M456.0 97.9h0M597.5 103.9h0M536.5 104.8h0M405.9 102.3h0M477.7 96.7h0M588.8 107.1h0M428.6 107.6h0M565.7 97.2h0M554.3 106.3h0M543.3 105.9h0M406.7 106.6h0M508.7 112.9h0M587.6 118.1h0M498.1 118.7h0M472.2 117.7h0M546.4 113.7h0M461.5 114.5h0M468.1 105.0h0M499.7 115.7h0M553.5 108.4h0M409.7 106.0h0M430.5 94.0h0M408.6 102.0h0M500.4 88.1h0M564.2 115.0h0M482.2 107.0h0M434.1 117.1h0M469.2 109.5h0M404.5 105.9h0M505.0 88.2h0M563.2 104.2h0M390.8 102.7h0M403.1 108.6h0M415.4 93.6h0M524.6 101.5h0M515.6 108.1h0M400.2 119.0h0M569.9 116.9h0M465.3 103.3h0M390.7 100.5h0M551.0 97.4h0M547.8 117.2h0M474.9 95.8h0M509.5 97.8h0M521.1 96.3h0M445.6 105.5h0M464.9 112.5h0M454.4 112.9h0M544.5 117.7h0M576.2 94.8h0M575.6 111.1h0M484.1 97.5h0M576.2 109.0h0M519.6 117.5h0M432.0 117.2h0M595.8 99.7h0M478.1 102.6h0M392.7 93.6h0M449.3 91.4h0M544.8 97.8h0M536.1 102.1h0M562.9 106.2h0M486.6 110.7h0M518.1 99.5h0M428.2 110.0h0M508.3 103.0h0M554.3 113.2h0M527.1 119.4h0M575.6 107.6h0M580.7 107.6h0M398.6 115.4h0M467.0 89.5h0M576.8 102.8h0M459.9 114.2h0M540.8 118.8h0M451.1 92.1h0M581.4 106.5h0M413.0 98.3h0M472.8 109.5h0M411.8 101.1h0M444.5 98.6h0M582.3 108.0h0M485.5 95.4h0M424.9 101.2h0M474.1 115.7h0M435.2 98.2h0M500.6 105.2h0M472.1 116.0h0M455.3 98.6h0M464.5 90.1h0M447.8 97.5h0M445.0 113.7h0M463.1 111.3h0M582.9 107.4h0M519.1 110.0h0M444.1 106.9h0M545.8 102.0h0M439.7 104.6h0M583.5 111.0h0M407.7 96.1h0M474.0 100.5h0M456.8 110.4h0M403.3 100.9h0M473.1 114.3h0M597.2 112.8h0M480.6 88.4h0M593.4 100.7h0M510.9 101.0h0M583.6 114.7h0M463.4 99.5h0M399.9 106.2h0M561.8 110.7h0M476.5 102.7h0M454.4 90.0h0M442.1 93.5h0M388.6 98.0h0M533.7 115.1h0M418.9 97.7h0M473.6 113.2h0M441.0 116.1h0M505.3 114.9h0M453.1 106.0h0M591.7 93.3h0M468.0 92.9h0M537.1 113.7h0M517.2 116.9h0M589.2 93.4h0M479.7 93.6h0M416.8 114.8h0M519.2 96.2h0M388.4 112.9h0M464.0 103.6h0M448.5 97.6h0M418.2 98.3h0M438.6 100.2h0M442.2 115.9h0M528.4 110.8h0M568.7 95.2h0M501.0 105.1h0M461.4 95.0h0M427.5 112.5h0M439.7 92.8h0M599.5 95.6h0M422.2 93.7h0M442.8 93.3h0M430.0 112.5h0M588.9 107.0h0M585.0 115.5h0M570.9 104.2h0M543.4 110.4h0M452.6 103.7h0M464.5 90.2h0M528.1 113.1h0M448.6 104.6h0M512.7 97.1h0M543.4 102.9h0M470.7 93.3h0M493.8 115.6h0M563.2 105.6h0M504.0 99.0h0M498.4 93.5h0M587.3 93.8h0M528.7 112.9h0M594.7 98.7h0M517.9 101.4h0M403.0 101.0h0M424.2 105.1h0M462.5 99.9h0M518.6 106.4h0M550.7 97.5h0M508.2 105.1h0M422.9 108.5h0M499.1 98.7h0M491.9 96.8h0M404.5 110.5h0M582.0 115.8h0M408.2 111.3h0M528.9 99.3h0M476.2 97.9h0M526.9 107.3h0M448.7 117.3h0M504.1 113.9h0M585.1 106.5h0M399.2 99.2h0M486.8 106.7h0M448.8 102.2h0M391.5 107.4h0M508.4 97.4h0M470.0 101.2h0M416.5 105.0h0M476.7 109.2h0M438.0 116.6h0M529.2 103.0h0M477.5 92.8h0M458.3 112.3h0M529.1 112.0h0M414.6 113.5h0M499.9 107.5h0M390.8 117.9h0M461.7 91.1h0M592.4 93.3h0M517.3 98.5h0M439.4 98.7h0M576.0 111.2h0M493.7 113.4h0M576.8 101.8h0M544.1 114.6h0M539.3 98.5h0M443.6 115.3h0M597.3 110.9h0M480.9 113.5h0M445.7 92.2h0M480.2 101.9h0M596.8 105.3h0M449.6 100.4h0M595.1 103.0h0M576.3 99.6h0M575.9 114.1h0M484.7 103.6h0M562.9 102.1h0M456.6 93.1h0M596.8 117.6h0M391.1 111.2h0M486.3 116.7h0M405.0 113.2h0M517.1 94.1h0M484.8 109.7h0M390.1 89.9h0M563.3 111.9h0M535.7 111.3h0M531.4 112.3h0M400.5 94.6h0M389.4 112.3h0M449.6 108.3h0M458.2 111.7h0M468.5 99.9h0M417.4 92.2h0M406.4 94.9h0M590.8 99.5h0M490.9 95.3h0M393.8 111.0h0M567.4 116.8h0M473.7 105.4h0M447.7 95.2h0M595.0 99.9h0M413.1 101.5h0M489.2 116.3h0M429.5 104.4h0M551.4 103.5h0M535.4 111.1h0M485.1 105.2h0M522.0 98.4h0M425.3 92.6h0M575.3 95.3h0M450.1 117.6h0M552.1 116.2h0M484.8 98.1h0M494.3 101.7h0M508.6 110.1h0M455.4 103.3h0M478.6 112.9h0M477.5 110.4h0M519.7 116.8h0M580.4 96.2h0M440.1 115.8h0M448.5 101.5h0M585.7 99.4h0M420.9 117.1h0M468.8 117.6h0M458.5 100.2h0M494.1 109.8h0M569.1 95.1h0M594.1 100.3h0M482.9 92.0h0M422.8 98.7h0M595.3 111.8h0M499.0 110.5h0M597.1 117.3h0M470.5 106.0h0M583.1 100.0h0M563.7 98.7h0M581.8 100.3h0M467.4 92.0h0M440.2 95.2h0M457.3 105.9h0M406.6 113.9h0M395.2 111.6h0M512.4 110.3h0M469.5 94.7h0M459.8 108.5h0M462.4 94.6h0M497.7 94.6h0M392.2 105.4h0M551.2 117.2h0M444.5 104.0h0M509.3 96.4h0M427.1 106.0h0M530.2 116.1h0M519.2 97.7h0M494.6 117.3h0M596.0 101.1h0M396.6 91.4h0M592.0 106.5h0M466.6 106.1h0M436.5 105.1h0M462.9 119.4h0M414.1 117.6h0M498.5 116.0h0M503.0 108.4h0M435.7 93.7h0M577.5 106.6h0M563.5 114.1h0M546.6 101.6h0M563.6 111.6h0M447.5 112.1h0M520.1 101.7h0M523.1 116.8h0M494.0 102.6h0M445.8 91.8h0M507.4 85.1h0M599.0 88.8h0M545.9 92.2h0M436.2 83.5h0M414.2 85.5h0M417.8 89.9h0M415.0 92.0h0M567.0 86.5h0M448.6 84.5h0M578.3 88.6h0M545.9 88.2h0M405.6 86.2h0M545.8 89.6h0M564.1 88.7h0M479.3 87.5h0M510.1 87.2h0M595.8 84.4h0M563.4 93.1h0M464.6 85.5h0M483.0 86.1h0M404.6 86.9h0M435.8 85.1h0M455.0 82.5h0M425.4 91.7h0M536.6 87.4h0M560.8 88.3h0M547.7 91.7h0M531.5 91.8h0M436.5 92.0h0M599.8 89.5h0M575.9 88.4h0M567.0 92.6h0M479.4 85.6h0M497.8 87.8h0M558.9 91.2h0M581.4 87.3h0M543.5 88.1h0M569.7 88.2h0M574.0 85.7h0M433.0 85.4h0M499.3 85.9h0M513.9 86.6h0M538.1 92.7h0M573.9 88.8h0M552.2 89.3h0M515.5 84.5h0M445.7 86.6h0M415.5 90.9h0M544.0 88.4h0M534.8 89.6h0M444.3 83.9h0M490.2 84.8h0M553.1 92.4h0M406.8 87.5h0M403.9 89.5h0M399.6 85.3h0M506.7 86.1h0M523.4 88.7h0M484.9 85.9h0M572.2 91.8h0M551.7 94.5h0M456.5 84.0h0M589.5 81.2h0M403.5 93.7h0M510.2 87.3h0M532.1 87.3h0M403.4 85.1h0M559.6 93.6h0M537.0 87.5h0M614.2 111.7h0M624.7 101.0h0M612.0 100.0h0M629.1 98.9h0M628.1 109.8h0M625.3 110.5h0M612.2 111.6h0M644.7 101.0h0M617.2 96.2h0M609.1 111.7h0M615.5 110.0h0M617.6 108.6h0M624.2 109.7h0M657.6 106.0h0M660.2 106.9h0M614.8 100.6h0M603.4 99.5h0M659.6 105.5h0M613.5 96.9h0M615.6 96.3h0M606.8 101.1h0M627.0 108.3h0M609.4 98.6h0M611.3 99.5h0M635.0 110.0h0M640.7 109.1h0M660.8 104.9h0M609.0 97.2h0M608.8 102.7h0M615.8 97.6h0M643.5 102.4h0M640.0 109.7h0M602.2 109.7h0M665.1 105.3h0M627.8 108.4h0M661.1 110.8h0M623.4 108.8h0M655.5 101.6h0M650.0 105.7h0M612.3 105.2h0M649.5 101.4h0M639.6 106.4h0M623.2 103.2h0M639.1 104.3h0M655.2 105.4h0M624.3 98.2h0M658.3 111.2h0M645.8 103.3h0M658.7 110.9h0M639.3 104.3h0M633.3 98.6h0M659.0 105.1h0M615.7 108.6h0M613.4 106.7h0M613.9 110.7h0M616.4 110.8h0M606.8 107.3h0M635.4 102.6h0M623.4 109.9h0M613.3 107.7h0M622.1 106.9h0M637.5 104.5h0M634.7 111.3h0M623.7 99.3h0M617.0 108.2h0M628.4 101.8h0M632.4 104.5h0M606.5 111.4h0M602.7 99.6h0M648.8 111.9h0M620.1 110.9h0M628.3 109.1h0M653.3 106.1h0M607.8 96.8h0M620.6 111.9h0M614.8 107.4h0M613.2 108.1h0M601.9 96.2h0M607.5 107.8h0M652.3 102.6h0M622.1 100.4h0M656.0 108.6h0M605.5 110.3h0M668.1 107.7h0M613.7 100.7h0M617.0 100.6h0M612.9 111.3h0M605.1 108.9h0M614.1 102.8h0M636.6 99.3h0M614.6 111.2h0M623.6 106.8h0M622.2 110.3h0M636.6 106.2h0M648.3 100.7h0M623.9 104.2h0M634.0 110.7h0M641.3 99.7h0M655.5 111.3h0M660.4 108.1h0M610.7 93.0h0M648.0 97.4h0M600.8 89.4h0M664.0 101.9h0M629.4 95.4h0M649.3 96.1h0M640.5 94.3h0M634.0 94.4h0M608.2 93.6h0M624.6 95.0h0M646.0 99.5h0M612.0 89.0h0M605.2 88.9h0M610.1 92.8h0M654.8 96.1h0M467.7 111.4h0M617.6 117.0h0M543.6 112.6h0M658.5 115.0h0M636.3 113.4h0M607.3 113.8h0M489.6 117.5h0M606.5 115.6h0M664.4 115.2h0M469.2 119.1h0M463.2 115.3h0M494.8 117.4h0M445.6 111.8h0M479.6 118.3h0M654.6 114.0h0M409.2 119.2h0M492.4 117.6h0M583.0 114.7h0M455.0 119.0h0M632.6 117.8h0M648.7 115.4h0M644.1 114.5h0M647.7 118.9h0M564.2 113.4h0M595.6 118.9h0M416.9 116.2h0M517.6 116.4h0M579.6 113.3h0M662.4 118.9h0M631.2 118.7h0M523.6 113.4h0M521.4 117.4h0M601.3 118.8h0M601.8 117.6h0M481.9 117.5h0M601.7 116.8h0M436.0 113.5h0M471.3 112.9h0M566.0 115.6h0M535.3 111.2h0M611.5 114.8h0M492.2 119.1h0M580.3 111.6h0M580.1 112.5h0M510.7 117.9h0M518.9 119.4h0M550.3 118.3h0M622.4 111.8h0M421.9 114.7h0M663.5 115.9h0M605.4 118.4h0M447.0 115.6h0M395.9 119.0h0M646.9 117.8h0M576.2 116.4h0M419.2 111.8h0M529.1 113.4h0M539.2 115.0h0M554.7 113.1h0M420.8 112.7h0M613.6 112.1h0M463.4 119.1h0M421.0 117.7h0M636.5 113.0h0M507.5 114.6h0M456.1 118.3h0M509.8 116.1h0M482.8 112.9h0M592.8 114.0h0M546.6 114.3h0M497.9 117.6h0M521.1 114.9h0M551.5 115.0h0M590.1 118.6h0M641.9 116.3h0M415.0 114.4h0M522.9 119.2h0M540.7 112.9h0M414.6 116.5h0M443.8 116.4h0M519.1 115.1h0M565.3 112.0h0M633.2 113.8h0M630.0 118.9h0M579.5 114.7h0M630.3 115.6h0M405.4 112.9h0M577.9 116.1h0M504.0 112.9h0M654.0 111.5h0M540.3 116.9h0M536.2 112.3h0M409.0 114.3h0M657.3 115.1h0M504.6 116.1h0M594.3 113.5h0M591.4 116.3h0M486.6 113.4h0M643.7 117.2h0M570.7 117.8h0M567.7 112.6h0M449.7 116.7h0M616.8 114.8h0M412.6 118.2h0M563.8 113.4h0M608.2 116.5h0M589.2 117.6h0M645.4 111.3h0M612.8 118.8h0M668.5 118.2h0M556.9 117.9h0M519.7 113.1h0M498.5 112.5h0M461.2 116.0h0M582.3 116.3h0M635.0 118.9h0M607.2 117.3h0M620.4 112.5h0M494.8 113.6h0M648.7 118.2h0M480.2 117.2h0M451.9 114.8h0M488.7 112.7h0M402.1 119.3h0M479.3 118.1h0M629.5 111.7h0M597.4 115.8h0M625.8 112.6h0M556.2 111.1h0M454.7 111.4h0M400.4 115.1h0M634.9 112.9h0M475.9 117.5h0M498.4 118.3h0M407.3 113.8h0M566.6 116.6h0M623.3 116.4h0M530.6 114.9h0M534.5 112.0h0M632.3 112.3h0M552.5 117.6h0M452.5 112.6h0M448.4 118.8h0M666.5 115.8h0M433.8 117.3h0M463.0 116.6h0M567.8 112.7h0M643.0 116.0h0M661.7 118.1h0M427.5 118.7h0M643.4 116.3h0M392.0 113.6h0M643.8 116.0h0M544.2 117.9h0M531.0 116.8h0M538.0 117.0h0M592.9 116.3h0M471.1 117.6h0M393.3 117.5h0M638.6 118.8h0M413.3 112.2h0M574.1 115.5h0M402.4 117.1h0M427.8 112.8h0M425.8 113.3h0M625.9 114.9h0M389.3 113.6h0M566.6 115.1h0M441.2 115.3h0M660.5 111.4h0M400.9 113.0h0M424.7 117.5h0M482.0 113.2h0M653.7 116.3h0M565.3 112.4h0M475.0 112.5h0M493.6 112.5h0M523.2 116.1h0M583.4 117.3h0M602.6 114.8h0M398.8 112.7h0M428.6 112.1h0M544.2 111.8h0M593.6 118.4h0M564.3 119.0h0M578.8 115.4h0M480.3 116.4h0M517.9 116.8h0M506.4 118.6h0M612.9 116.1h0M637.3 117.2h0M493.7 114.1h0M534.1 117.2h0M640.2 114.2h0M428.5 112.1h0M507.6 118.3h0M389.0 114.6h0M598.4 113.7h0M513.0 112.3h0M422.2 117.6h0M423.9 111.9h0M509.9 118.0h0M630.4 115.2h0M458.0 115.7h0M566.7 117.7h0M455.0 113.1h0M652.9 114.5h0M525.8 113.1h0M568.7 119.4h0M487.2 112.2h0M437.3 119.2h0M431.0 119.4h0M549.7 111.9h0M599.1 112.3h0M664.7 113.4h0M545.3 112.6h0M465.8 112.5h0M617.7 116.1h0M575.8 111.5h0M600.8 112.6h0M421.1 118.9h0M429.9 117.1h0M447.5 118.0h0M504.6 113.8h0M511.9 113.7h0M474.6 114.1h0M584.2 116.2h0M591.1 113.1h0M442.1 113.7h0M391.1 117.9h0M408.0 114.2h0M402.3 112.5h0M607.1 113.3h0M606.6 116.7h0M506.0 114.1h0M642.8 118.4h0M618.3 116.6h0M600.4 111.7h0M553.1 118.1h0M623.7 116.9h0M603.4 112.4h0M660.9 114.5h0M606.9 112.2h0M418.5 118.9h0M500.2 116.1h0M554.7 118.2h0M425.0 115.5h0M539.3 117.0h0M632.9 117.8h0M538.9 112.3h0M643.4 115.3h0M594.5 117.5h0M631.5 111.4h0M600.9 117.0h0M412.2 88.7h0M413.0 87.1h0M414.4 86.6h0M415.2 86.4h0M416.5 84.5h0M417.6 84.0h0M419.3 83.5h0M420.2 83.0h0M422.1 83.8h0M423.2 83.3h0M425.4 83.0h0M426.8 83.0h0M428.1 83.0h0M429.8 82.9h0M430.6 83.5h0M432.3 83.4h0M433.6 83.7h0M434.5 82.8h0M436.9 83.2h0M438.4 83.1h0M439.2 83.8h0M441.2 83.7h0M442.1 83.9h0M444.2 82.7h0M445.3 83.3h0M446.5 83.4h0M448.6 83.4h0M449.7 84.7h0M450.3 85.7h0M452.4 85.9h0M459.6 85.4h0M461.9 85.4h0M463.5 85.3h0M464.6 84.9h0M466.5 85.9h0M468.6 85.3h0M470.8 85.0h0M471.4 85.2h0M473.2 86.3h0M475.3 85.9h0M476.7 85.8h0M478.3 85.1h0M480.5 86.1h0M482.4 86.4h0M483.4 85.8h0M484.9 85.0h0M486.4 85.6h0M489.3 84.9h0M491.3 85.9h0M493.0 85.4h0M493.5 86.4h0M495.6 86.0h0M497.8 85.2h0M499.0 85.8h0M500.4 86.4h0M501.8 85.6h0M504.2 86.2h0M505.8 85.4h0M507.9 86.0h0M509.4 86.1h0M511.4 85.6h0M512.2 85.7h0M513.8 85.2h0M516.8 85.4h0M518.3 85.3h0M519.0 85.9h0M520.7 86.7h0M522.1 88.7h0M522.8 89.8h0M525.3 89.6h0M428.6 88.0h0M425.0 72.3h0M428.0 72.6h0M432.0 73.0h0M439.2 72.6h0M442.0 71.5h0M445.4 70.5h0M447.0 72.0h0M454.5 70.3h0M458.6 69.7h0M451.0 76.0h0M450.0 79.0h0M452.0 82.0h0M404.4 82.7h0M406.0 87.0h0M407.0 90.0h0M531.3 47.2h0M547.4 45.4h0M558.8 45.4h0M563.9 46.8h0M569.0 47.6h0M574.2 47.0h0M576.5 46.0h0M579.0 47.0h0M571.5 56.1h0M595.6 25.2h0M586.0 47.1h0M586.6 49.4h0M586.1 51.4h0M586.0 55.3h0M586.7 59.4h0M587.2 62.1h0M588.8 64.3h0M586.6 65.5h0M586.4 71.0h0M588.5 71.8h0M589.7 75.8h0M589.1 77.3h0M589.2 81.1h0M589.8 83.2h0M590.0 88.0h0M588.1 87.9h0M590.2 92.4h0M590.8 93.9h0M480.4 73.2h0M484.0 69.5h0M489.6 66.4h0M491.0 71.0h0M491.0 77.5h0M473.0 80.9h0M484.9 81.5h0M506.7 65.8h0M514.4 67.9h0M522.6 71.6h0M529.9 68.5h0M533.0 63.8h0M537.0 67.9h0M543.3 70.0h0M549.5 69.5h0M553.0 70.0h0M557.0 69.5h0M560.8 71.6h0M564.5 66.4h0M575.3 69.5h0M506.1 81.9h0M512.3 81.5h0M524.0 77.8h0M533.0 80.9h0M538.1 74.7h0M547.4 76.8h0M551.5 79.9h0M553.6 83.0h0M560.8 86.0h0M564.9 88.1h0M611.0 81.3h0M624.5 77.4h0M625.5 84.0h0M619.4 89.1h0M640.8 95.3h0M647.2 96.0h0M655.0 97.0h0M660.0 100.0h0M559.7 76.7h0M577.4 90.1h0M554.2 88.4h0M530.5 80.9h0M523.8 88.1h0M566.4 81.0h0M556.3 77.8h0M578.4 82.7h0M521.4 87.7h0M532.1 77.0h0M534.3 85.1h0M574.4 88.9h0M559.3 89.1h0M521.3 92.4h0M534.4 83.3h0M555.3 78.4h0M544.2 85.7h0M550.8 80.5h0M576.1 82.9h0M577.2 92.1h0M567.7 88.9h0M566.1 85.3h0M533.3 91.6h0M570.6 89.7h0M551.7 79.4h0" stroke="#33278a" stroke-width="3.6" stroke-linecap="round" fill="none"/>
<path d="M542.2 45.8h0M544.0 45.8h0" stroke="#c8232c" stroke-width="3.6" stroke-linecap="round" fill="none"/>
<path d="M123.4 348.5h0M99.5 354.9h0M293.0 348.2h0M74.4 345.3h0M115.3 351.5h0M163.2 355.7h0M132.7 339.5h0M192.2 344.4h0M133.2 355.2h0M248.5 351.3h0M127.1 347.8h0M191.2 347.2h0M114.9 353.2h0M85.2 355.2h0M229.7 348.4h0M133.0 343.6h0M221.2 353.6h0M176.4 351.7h0M308.9 351.4h0M130.4 349.9h0M97.0 355.8h0M131.5 351.9h0M311.4 349.3h0M81.5 342.9h0M151.9 341.9h0M119.1 349.7h0M149.0 350.1h0M138.7 341.5h0M93.4 341.3h0M233.4 345.0h0M137.0 340.0h0M79.2 349.5h0M208.5 338.1h0M118.9 356.1h0M123.1 340.3h0M128.9 344.9h0M251.4 347.2h0M208.3 338.6h0M99.4 342.7h0M104.9 344.1h0M70.9 357.0h0M119.5 338.1h0M203.4 346.2h0M103.7 345.1h0M215.5 346.9h0M69.2 354.5h0M220.8 356.8h0M214.0 348.0h0M163.3 342.5h0M252.0 356.0h0M197.6 340.2h0M253.3 352.3h0M130.2 345.2h0M110.2 345.1h0M158.2 334.6h0M198.7 339.8h0M222.3 350.3h0M93.2 347.3h0M315.4 352.0h0M208.6 354.6h0M133.7 346.5h0M278.2 356.1h0M97.1 340.5h0M209.5 347.8h0M173.6 347.1h0M255.7 351.6h0M114.5 347.0h0M164.1 347.1h0M300.5 356.8h0M297.2 353.4h0M212.0 351.5h0M173.0 344.4h0M207.2 339.3h0M284.6 350.1h0M215.6 353.1h0M114.1 337.1h0M238.6 352.2h0M237.4 356.6h0M103.2 353.1h0M164.9 344.0h0M228.9 343.2h0M138.3 351.4h0M153.8 354.0h0M227.8 355.3h0M79.4 345.8h0M166.7 352.8h0M184.8 343.1h0M125.8 336.9h0M91.8 347.4h0M155.8 354.1h0M77.4 354.4h0M285.9 355.1h0M184.0 355.2h0M216.7 355.5h0M190.0 339.8h0M137.4 353.4h0M135.3 349.8h0M321.7 356.5h0M141.2 340.4h0M91.4 342.3h0M211.7 352.5h0M68.6 346.9h0M98.1 347.9h0M85.7 341.3h0M282.9 352.1h0M267.7 350.3h0M138.3 354.8h0M169.2 339.5h0M158.6 348.9h0M160.3 350.6h0M207.1 353.2h0M208.3 339.0h0M170.0 351.1h0M264.9 348.5h0M76.6 352.3h0M209.7 346.3h0M185.8 343.2h0M150.7 355.8h0M267.2 346.6h0M142.7 347.1h0M243.6 356.6h0M304.7 348.7h0M113.4 339.5h0M240.3 351.4h0M152.2 335.7h0M157.0 353.7h0M248.2 348.3h0M106.5 344.7h0M131.2 340.9h0M94.0 342.2h0M300.5 353.5h0M231.8 346.3h0M99.7 352.6h0M154.7 348.3h0M195.0 337.4h0M201.2 350.8h0M89.2 355.0h0M176.1 348.7h0M194.1 356.1h0M127.3 354.8h0M235.0 347.7h0M164.7 345.5h0M157.2 354.6h0M213.9 350.1h0M167.1 352.3h0M108.7 339.7h0M162.8 356.4h0M262.6 347.1h0M111.2 350.1h0M107.4 348.8h0M105.1 339.6h0M157.4 335.6h0M194.7 349.5h0M138.2 338.7h0M152.9 341.3h0M143.2 341.9h0M68.6 347.7h0M148.1 337.5h0M198.9 341.7h0M231.9 344.8h0M152.9 351.7h0M255.9 355.9h0M172.0 335.8h0M87.6 341.9h0M192.6 355.3h0M143.6 354.4h0M284.5 353.5h0M209.2 353.6h0M280.1 353.0h0M125.8 348.4h0M126.5 339.9h0M153.8 346.9h0M161.1 352.6h0M260.0 351.2h0M135.2 349.2h0M293.5 350.9h0M193.4 346.4h0M152.5 351.0h0M206.0 343.7h0M79.4 352.8h0M164.7 350.3h0M134.7 339.0h0M169.2 333.9h0M300.4 354.8h0M157.5 337.3h0M182.4 342.2h0M291.6 350.4h0M301.1 353.2h0M74.7 353.1h0M207.3 348.1h0M305.2 356.1h0M148.4 333.6h0M123.9 355.4h0M236.9 346.9h0M155.8 337.7h0M169.1 353.9h0M278.9 353.7h0M176.7 348.3h0M95.4 355.5h0M95.0 343.3h0M177.3 334.7h0M221.7 352.2h0M167.8 356.2h0M158.8 338.1h0M126.8 340.6h0M242.7 349.5h0M98.3 343.0h0M203.1 340.6h0M111.9 344.1h0M105.4 347.4h0M143.8 339.1h0M70.4 355.4h0M200.2 348.3h0M180.4 342.4h0M107.9 345.8h0M188.6 347.3h0M228.5 349.0h0M100.9 340.3h0M84.4 348.7h0M308.2 348.2h0M155.9 353.5h0M120.1 351.6h0M173.1 337.5h0M103.1 353.3h0M317.8 347.8h0M273.3 351.5h0M221.0 356.3h0M132.2 355.0h0M202.8 353.5h0M300.2 353.4h0M153.2 343.2h0M132.7 342.4h0M258.6 353.9h0M295.1 356.9h0M321.5 356.7h0M131.9 353.0h0M196.4 349.3h0M323.8 352.5h0M120.1 353.8h0M151.2 356.5h0M89.3 355.1h0M98.8 342.5h0M152.9 354.2h0M300.2 346.1h0M110.4 353.1h0M287.6 351.9h0M141.5 342.0h0M76.3 345.8h0M281.3 352.9h0M195.9 337.4h0M174.0 346.0h0M164.5 346.3h0M152.4 338.2h0M214.0 344.8h0M144.4 349.3h0M210.3 344.2h0M214.7 343.5h0M214.0 352.1h0M158.1 347.6h0M155.1 340.9h0M203.3 349.9h0M203.2 338.6h0M323.9 350.2h0M269.4 352.8h0M172.8 346.6h0M267.3 351.8h0M214.2 339.2h0M134.8 354.7h0M256.8 353.0h0M175.1 341.7h0M291.2 351.6h0M105.2 339.2h0M208.5 347.9h0M294.4 352.2h0M194.9 355.8h0M104.4 340.6h0M110.6 347.3h0M74.7 347.9h0M161.3 334.3h0M279.9 354.5h0M125.6 353.3h0M175.2 356.1h0M253.4 356.9h0M269.5 354.1h0M99.3 356.4h0M188.4 342.2h0M132.3 350.7h0M102.7 355.1h0M92.3 348.4h0M126.0 338.9h0M170.9 348.3h0M158.6 342.5h0M142.0 350.5h0M141.7 337.4h0M97.5 339.0h0M167.2 338.5h0M179.4 334.3h0M83.8 351.7h0M229.5 354.7h0M164.8 346.0h0M259.1 348.4h0M127.5 341.6h0M181.7 351.5h0M155.5 353.7h0M313.1 350.9h0M322.0 350.8h0M252.5 354.1h0M301.4 348.3h0M177.4 356.2h0M206.1 345.4h0M96.6 349.5h0M180.9 350.9h0M195.6 354.1h0M207.0 341.7h0M88.0 346.1h0M107.4 339.6h0M315.5 353.2h0M127.4 346.0h0M226.5 344.8h0M138.2 344.0h0M121.8 342.2h0M283.9 351.9h0M87.8 344.9h0M157.5 354.0h0M292.0 356.6h0M137.3 353.8h0M139.1 341.9h0M137.3 338.7h0M121.8 339.3h0M163.0 343.8h0M156.6 346.6h0M98.0 350.7h0M233.4 346.5h0M120.9 355.4h0M85.1 351.9h0M302.5 348.0h0M266.3 355.6h0M300.4 347.0h0M287.0 355.8h0M282.5 353.5h0M134.9 339.3h0M154.1 353.5h0M267.4 348.5h0M268.0 348.0h0M124.0 347.3h0M209.5 338.7h0M202.3 341.0h0M224.6 345.5h0M178.1 343.5h0M182.7 347.1h0M142.9 351.4h0M298.0 347.9h0M93.5 340.4h0M211.2 346.0h0M174.2 349.2h0M217.1 351.2h0M184.2 346.7h0M300.1 347.3h0M184.5 356.6h0M290.4 354.7h0M186.7 342.0h0M175.9 340.5h0M126.6 340.9h0M291.5 353.0h0M108.0 353.1h0M302.1 351.3h0M298.5 356.9h0M238.1 356.9h0M109.6 349.2h0M207.1 346.2h0M132.1 338.1h0M206.8 345.8h0M190.3 353.9h0M161.8 352.4h0M89.4 349.3h0M89.4 343.6h0M173.0 352.5h0M193.4 337.7h0M174.2 351.8h0M205.5 348.2h0M112.9 337.0h0M136.1 349.8h0M102.6 343.7h0M235.5 352.8h0M90.8 355.8h0M200.8 348.3h0M306.7 356.3h0M133.6 354.1h0M273.9 356.0h0M279.0 352.7h0M323.6 355.4h0M145.8 344.0h0M90.4 348.0h0M280.6 349.0h0M93.4 343.9h0M325.8 353.7h0M193.5 351.4h0M147.8 345.5h0M227.3 345.0h0M160.5 340.5h0M95.9 352.1h0M187.9 344.9h0M69.0 353.0h0M301.2 350.8h0M144.9 350.7h0M296.8 353.6h0M121.6 343.4h0M140.2 351.0h0M88.3 345.8h0M128.7 346.3h0M121.2 353.1h0M137.0 340.8h0M176.8 344.6h0M145.9 355.5h0M278.1 353.3h0M184.5 354.4h0M126.6 338.0h0M184.7 351.1h0M256.3 349.1h0M131.6 341.9h0M265.5 351.6h0M183.5 336.0h0M98.4 351.3h0M137.0 339.6h0M314.0 351.2h0M69.9 348.4h0M106.8 353.0h0M157.1 347.0h0M188.7 348.8h0M184.3 352.2h0M138.8 334.3h0M223.8 351.5h0M193.8 343.8h0M81.2 356.1h0M165.9 355.0h0M87.8 345.7h0M111.1 353.8h0M309.6 351.9h0M144.4 338.6h0M127.1 337.3h0M145.4 349.9h0M231.9 342.7h0M189.5 340.8h0M275.4 352.2h0M150.5 334.4h0M302.7 356.6h0M210.2 339.6h0M186.2 336.3h0M113.3 346.8h0M163.7 349.9h0M177.6 338.9h0M76.6 354.0h0M322.4 352.2h0M93.4 356.9h0M225.6 351.2h0M75.2 354.6h0M144.6 343.4h0M124.0 338.3h0M130.7 345.9h0M130.4 338.7h0M160.1 355.1h0M121.3 346.2h0M183.1 343.3h0M218.6 344.6h0M124.2 348.9h0M211.4 356.9h0M174.5 341.5h0M230.9 345.8h0M145.2 346.2h0M179.6 342.4h0M86.2 356.4h0M157.3 333.5h0M135.0 347.5h0M124.9 350.9h0M99.1 346.7h0M85.8 353.0h0M74.0 355.0h0M69.3 354.9h0M68.4 353.6h0M226.9 351.9h0M144.5 337.5h0M250.2 348.9h0M120.6 351.5h0M149.6 339.8h0M111.4 355.2h0M205.1 347.4h0M138.4 340.8h0M220.6 345.5h0M225.6 353.9h0M72.8 348.2h0M177.8 339.5h0M131.7 335.0h0M169.1 340.4h0M160.1 334.0h0M202.6 340.2h0M247.4 352.0h0M132.0 355.4h0M205.6 354.6h0M125.9 349.2h0M166.4 351.1h0M173.3 347.2h0M189.3 338.5h0M154.9 336.2h0M148.3 355.8h0M172.7 348.2h0M195.1 349.4h0M178.2 344.7h0M247.4 352.8h0M277.5 353.0h0M193.2 349.5h0M241.2 350.8h0M152.4 338.0h0M154.5 341.9h0M71.2 344.5h0M163.3 332.9h0M228.7 348.5h0M197.3 337.1h0M120.7 341.6h0M264.7 347.8h0M281.7 353.4h0M89.6 353.5h0M183.9 350.7h0M302.9 346.3h0M291.8 349.2h0M192.3 342.1h0M272.5 349.7h0M310.9 351.4h0M149.7 354.8h0M105.6 343.3h0M99.4 342.4h0M243.4 346.1h0M128.4 343.7h0M99.8 347.8h0M111.8 344.5h0M101.6 343.2h0M209.6 342.0h0M144.6 339.2h0M224.2 343.0h0M286.5 351.6h0M218.7 345.2h0M158.8 347.1h0M214.3 343.4h0M259.4 350.5h0M216.0 353.0h0M190.8 345.6h0M77.5 348.8h0M140.9 346.1h0M204.4 354.2h0M195.4 354.1h0M214.2 345.1h0M312.2 353.7h0M204.4 337.2h0M307.1 347.6h0M138.7 354.2h0M230.8 352.2h0M100.2 349.8h0M73.3 349.9h0M140.2 344.9h0M187.4 336.6h0M190.5 344.5h0M110.8 354.7h0M109.0 349.2h0M198.4 351.1h0M276.8 354.5h0M321.4 356.1h0M156.0 338.3h0M160.6 350.5h0M180.6 337.4h0M274.6 352.5h0M173.1 350.0h0M160.7 342.8h0M133.3 335.1h0M170.6 333.6h0M175.9 340.9h0M184.0 343.3h0M201.1 339.6h0M117.5 352.6h0M194.0 353.4h0M117.9 356.5h0M228.8 354.7h0M113.8 340.8h0M185.4 356.8h0M258.2 349.9h0M232.3 352.4h0M168.6 340.4h0M148.8 342.4h0M124.3 354.5h0M134.1 347.4h0M203.7 350.8h0M285.4 355.2h0M182.7 336.2h0M72.8 345.8h0M105.4 348.7h0M157.3 334.5h0M138.6 347.0h0M245.1 356.7h0M263.2 346.6h0M131.0 343.4h0M139.3 336.8h0M151.3 338.9h0M187.3 349.1h0M208.1 346.5h0M159.7 338.0h0M210.1 343.9h0M211.2 355.9h0M68.2 353.4h0M253.5 348.7h0M170.5 352.8h0M99.5 350.2h0M203.7 345.1h0M140.0 336.1h0M102.4 340.2h0M305.3 348.2h0M198.9 345.4h0M77.4 349.1h0M278.8 350.3h0M292.7 355.3h0M293.6 353.4h0M127.8 344.2h0M127.7 338.3h0M285.9 356.1h0M187.4 342.4h0M212.7 344.8h0M238.3 355.6h0M319.6 354.1h0M147.3 354.5h0M134.3 345.8h0M80.4 348.9h0M82.9 353.6h0M226.9 348.9h0M301.6 346.5h0M205.2 338.1h0M100.3 344.7h0M167.3 335.7h0M182.8 347.8h0M283.1 351.3h0M92.9 354.2h0M121.4 336.7h0M287.7 352.5h0M152.3 336.5h0M249.7 352.1h0M194.2 337.4h0M144.5 343.6h0M180.4 349.0h0M238.4 353.8h0M227.2 352.1h0M238.1 345.5h0M250.6 351.3h0M150.9 349.7h0M272.6 353.3h0M196.3 339.2h0M141.2 348.1h0M259.3 346.9h0M137.9 342.3h0M172.3 354.9h0M224.1 348.5h0M158.5 352.3h0M78.9 356.6h0M281.0 349.6h0M152.0 333.6h0M262.6 352.6h0M165.8 342.1h0M193.1 345.9h0M127.0 347.9h0M202.2 339.2h0M325.3 356.4h0M164.3 338.2h0M218.8 342.8h0M104.2 346.7h0M98.3 352.6h0M212.3 348.6h0M91.6 344.8h0M310.3 351.6h0M208.7 354.2h0M86.7 347.8h0M81.4 355.2h0M204.0 344.2h0M77.8 348.8h0M213.7 345.6h0M164.8 351.0h0M143.3 337.3h0M293.9 347.9h0M178.9 350.7h0M86.8 345.2h0M72.1 351.3h0M191.8 335.6h0M265.7 351.2h0M267.6 352.5h0M214.0 356.4h0M153.7 349.0h0M319.5 351.6h0M170.8 340.8h0M89.3 341.1h0M232.0 352.0h0M322.2 351.4h0M207.0 337.6h0M229.0 353.0h0M82.5 354.7h0M166.4 336.5h0M158.5 350.2h0M227.5 346.7h0M305.6 350.3h0M234.5 346.5h0M170.5 343.6h0M119.1 350.1h0M262.3 352.4h0M70.9 348.5h0M260.8 353.0h0M194.1 341.8h0M288.6 351.8h0M71.4 354.6h0M111.1 347.9h0M287.7 356.7h0M120.3 338.3h0M160.8 343.1h0M263.0 346.4h0M124.4 347.0h0M312.4 346.7h0M177.8 353.4h0M274.2 351.1h0M306.1 346.4h0M169.1 349.6h0M147.4 344.7h0M197.4 350.1h0M154.8 341.6h0M311.0 354.1h0M296.1 354.7h0M134.0 335.7h0M173.3 313.1h0M268.8 334.4h0M127.6 319.5h0M214.0 296.7h0M191.9 323.8h0M252.7 331.5h0M126.9 299.5h0M192.0 298.8h0M219.5 319.6h0M230.6 332.2h0M144.5 294.3h0M132.9 327.0h0M239.7 339.9h0M108.1 322.5h0M105.4 327.4h0M108.6 327.9h0M297.4 336.7h0M161.7 293.8h0M215.2 325.5h0M190.4 294.0h0M126.2 304.5h0M120.7 316.0h0M108.8 321.8h0M212.9 329.5h0M102.9 336.0h0M308.9 335.8h0M133.8 326.9h0M140.5 293.6h0M217.9 298.8h0M205.5 332.8h0M219.5 326.4h0M139.1 298.1h0M226.9 320.0h0M322.6 346.8h0M133.7 308.1h0M164.8 302.9h0M261.0 335.9h0M130.8 333.8h0M162.9 312.4h0M210.9 293.5h0M113.0 334.4h0M221.4 328.2h0M304.4 340.6h0M214.1 324.9h0M209.5 322.8h0M160.9 296.6h0M165.2 308.2h0M261.2 321.3h0M211.3 306.0h0M247.9 325.5h0M175.2 305.8h0M147.2 307.4h0M207.6 328.2h0M243.9 335.8h0M83.5 336.7h0M68.6 343.7h0M88.4 337.0h0M223.4 330.5h0M116.2 310.8h0M279.0 347.5h0M183.9 315.9h0M238.8 328.8h0M90.0 336.9h0M248.4 328.9h0M180.0 286.8h0M196.9 303.7h0M281.1 339.2h0M200.2 299.4h0M254.7 344.6h0M244.9 324.8h0M144.4 320.2h0M212.9 337.7h0M201.0 304.9h0M139.0 324.7h0M151.0 326.4h0M172.0 319.3h0M300.6 337.2h0M148.3 292.3h0M187.5 296.3h0M116.8 317.4h0M265.7 339.8h0M204.5 307.8h0M244.3 339.9h0M224.3 330.3h0M122.1 311.8h0M127.3 321.2h0M221.8 304.0h0M221.5 311.2h0M122.6 319.2h0M153.6 303.5h0M140.9 304.4h0M195.2 286.6h0M182.1 292.4h0M213.4 298.1h0M146.0 316.7h0M183.8 299.6h0M166.8 322.7h0M148.8 293.7h0M191.6 310.0h0M265.0 326.2h0M260.8 320.5h0M229.7 314.7h0M242.1 325.6h0M241.6 329.3h0M111.4 316.7h0M150.5 301.5h0M118.1 323.1h0M160.1 327.8h0M227.4 315.2h0M95.5 332.2h0M196.5 294.1h0M71.1 341.3h0M216.9 300.9h0M312.4 342.8h0M209.4 309.8h0M128.9 312.1h0M232.7 337.5h0M218.7 298.4h0M139.2 324.1h0M200.0 321.8h0M255.0 323.5h0M211.4 328.0h0M138.6 300.7h0M239.1 327.7h0M201.2 294.6h0M145.1 324.8h0M232.2 315.1h0M256.5 341.3h0M163.1 323.0h0M173.7 315.7h0M208.2 304.0h0M242.5 342.9h0M226.9 311.7h0M191.1 290.9h0M187.6 318.7h0M197.2 301.3h0M172.4 311.3h0M233.5 340.0h0M215.1 324.5h0M274.8 344.3h0M212.0 305.2h0M148.8 332.4h0M174.0 321.1h0M203.9 298.5h0M193.3 311.9h0M127.6 322.0h0M151.3 308.0h0M144.3 332.4h0M99.9 331.0h0M316.5 338.7h0M207.9 299.0h0M281.7 347.6h0M220.8 310.3h0M143.2 304.8h0M193.6 297.6h0M263.9 343.0h0M266.5 338.5h0M187.0 303.9h0M166.9 294.8h0M162.0 295.8h0M204.6 290.7h0M165.7 326.5h0M163.2 314.6h0M298.6 344.8h0M153.0 307.3h0M312.1 341.4h0M143.3 304.7h0M83.8 341.0h0M216.1 318.0h0M132.6 312.0h0M170.1 297.3h0M200.2 324.0h0M190.1 325.8h0M163.8 326.0h0M227.2 336.4h0M217.8 300.1h0M216.1 337.7h0M118.1 324.0h0M158.9 310.6h0M317.9 340.2h0M242.1 323.2h0M213.6 332.2h0M110.7 336.8h0M234.2 316.1h0M132.1 331.2h0M164.1 310.0h0M233.6 332.6h0M219.3 323.6h0M160.3 312.3h0M118.0 315.6h0M203.2 312.6h0M97.4 333.5h0M148.6 306.8h0M239.2 334.3h0M151.9 326.1h0M307.2 335.6h0M122.9 333.1h0M226.7 321.8h0M223.0 312.0h0M258.7 333.6h0M277.6 337.1h0M200.0 314.7h0M191.7 323.4h0M89.9 335.1h0M152.4 329.6h0M202.3 293.9h0M92.2 333.6h0M248.5 335.0h0M251.3 340.7h0M184.5 295.7h0M127.4 299.0h0M173.3 308.3h0M241.8 338.8h0M170.0 309.9h0M121.2 328.0h0M169.2 293.5h0M139.5 293.0h0M181.9 284.3h0M207.8 332.2h0M122.4 317.6h0M190.1 326.9h0M254.3 342.1h0M249.8 335.1h0M164.4 311.9h0M200.1 310.0h0M179.1 293.4h0M156.3 314.0h0M182.2 288.4h0M191.6 300.9h0M163.3 290.4h0M266.7 335.7h0M251.7 334.0h0M225.8 340.3h0M72.7 340.1h0M192.1 317.4h0M156.7 305.3h0M137.2 295.2h0M150.5 292.2h0M162.4 293.4h0M267.9 341.1h0M179.9 290.1h0M174.7 312.6h0M259.1 318.7h0M249.2 329.2h0M125.8 325.4h0M199.5 286.8h0M195.0 316.4h0M142.3 316.7h0M260.3 321.8h0M141.1 317.1h0M220.3 328.4h0M213.3 330.0h0M189.4 323.6h0M199.2 333.4h0M262.4 322.7h0M157.1 298.0h0M180.8 322.9h0M214.4 299.3h0M139.7 297.8h0M202.9 311.4h0M293.0 345.6h0M154.1 325.9h0M298.6 340.5h0M320.8 344.9h0M152.8 322.0h0M255.7 336.8h0M277.6 342.4h0M221.6 331.6h0M194.8 316.6h0M166.9 288.1h0M184.1 294.0h0M223.6 308.9h0M320.6 339.9h0M235.4 333.2h0M158.4 322.3h0M240.5 337.8h0M274.8 340.9h0M214.0 296.5h0M280.3 348.9h0M219.9 331.1h0M193.5 286.1h0M318.7 341.3h0M114.0 335.6h0M192.3 312.7h0M302.5 340.8h0M185.6 290.3h0M258.5 331.0h0M134.3 322.2h0M190.2 334.1h0M298.1 339.7h0M178.7 328.0h0M236.7 336.5h0M183.9 318.4h0M119.1 306.9h0M278.6 338.7h0M212.8 314.2h0M174.9 290.9h0M208.5 314.5h0M174.1 301.2h0M179.1 320.2h0M127.0 321.4h0M206.3 292.3h0M176.5 313.5h0M206.1 297.4h0M319.8 338.0h0M230.0 340.7h0M308.9 342.3h0M233.4 317.0h0M252.1 326.2h0M163.5 292.8h0M74.9 343.1h0M211.8 315.8h0M246.8 342.4h0M220.5 308.1h0M224.0 321.1h0M202.4 324.4h0M196.3 312.0h0M178.7 316.8h0M119.6 327.5h0M211.8 321.9h0M184.8 333.8h0M225.1 325.8h0M200.0 335.1h0M169.4 294.4h0M138.0 296.0h0M230.5 336.7h0M108.2 336.5h0M164.2 315.2h0M148.4 293.9h0M142.3 297.0h0M118.9 318.3h0M159.5 327.8h0M198.1 330.9h0M197.3 304.4h0M165.1 315.7h0M256.3 325.2h0M192.5 320.2h0M153.3 302.2h0M151.3 319.4h0M271.9 332.2h0M185.8 327.7h0M207.5 301.8h0M281.4 340.6h0M255.4 330.6h0M266.9 345.2h0M157.5 330.2h0M189.1 295.5h0M186.3 308.8h0M207.5 327.3h0M270.3 333.8h0M209.7 335.4h0M260.6 343.8h0M319.7 351.5h0M221.8 349.7h0M260.0 353.4h0M295.9 349.7h0M240.5 349.1h0M232.3 348.5h0M308.7 356.6h0M199.6 347.3h0M219.8 348.9h0M289.0 351.0h0M279.5 354.7h0M317.9 350.6h0M237.4 348.4h0M219.3 354.8h0M180.4 353.6h0M187.0 355.5h0M233.5 355.2h0M219.5 354.1h0M306.9 357.0h0M193.9 355.0h0M245.4 355.0h0M206.7 349.3h0M279.0 353.6h0M249.8 354.3h0M259.6 352.7h0M293.5 350.3h0M291.4 352.7h0M181.3 348.1h0M243.2 346.7h0M186.3 351.4h0M310.3 354.5h0M211.8 349.2h0M215.1 353.1h0M264.9 355.2h0M212.2 354.1h0M197.2 348.1h0M295.3 351.6h0M196.7 352.5h0M302.0 357.0h0M256.6 350.8h0M286.0 352.7h0M269.1 353.3h0M216.1 355.8h0M305.9 349.7h0M211.3 352.6h0M301.3 347.8h0M225.4 346.8h0M212.5 355.9h0M171.9 349.3h0M295.7 354.8h0M270.0 347.0h0M303.4 351.5h0M198.5 350.3h0M197.8 350.8h0M242.6 354.7h0M315.5 353.8h0M241.5 346.0h0M251.2 347.7h0M278.6 347.1h0M251.8 347.1h0M257.0 354.5h0M320.5 346.5h0M271.8 346.7h0M300.1 353.2h0M174.1 356.0h0M201.5 355.3h0M267.1 349.6h0M250.4 346.0h0M182.1 356.8h0M236.0 346.0h0M214.7 349.9h0M308.9 349.0h0M252.6 350.9h0M227.4 347.3h0M221.1 349.3h0M207.1 353.5h0M299.0 351.1h0M188.9 346.4h0M282.2 351.0h0M280.7 350.9h0M250.1 354.4h0M177.8 346.5h0M221.0 347.0h0M205.8 356.9h0M231.6 349.8h0M325.3 348.8h0M324.9 349.3h0M248.3 349.7h0M207.3 353.7h0M243.5 353.7h0M236.1 347.4h0M313.1 348.6h0M239.9 348.7h0M242.7 347.9h0M188.3 349.7h0M265.9 354.0h0M211.4 356.2h0M283.5 350.1h0M219.3 346.3h0M293.3 351.8h0M186.7 346.4h0M255.1 352.2h0M254.1 352.3h0M184.7 346.5h0M295.4 351.8h0M201.8 349.8h0M227.1 347.5h0M228.4 351.6h0M191.1 351.3h0M278.4 352.8h0M85.1 353.3h0M134.4 349.8h0M87.3 355.5h0M84.4 352.6h0M163.4 351.7h0M166.8 347.6h0M152.5 349.2h0M164.9 353.2h0M151.7 354.3h0M135.7 355.9h0M101.1 354.0h0M99.9 352.1h0M114.7 356.7h0M81.6 352.2h0M97.3 353.1h0M116.9 351.7h0M140.1 352.8h0M87.0 355.4h0M153.6 354.9h0M167.1 347.5h0M156.8 348.9h0M117.2 353.6h0M170.8 353.1h0M138.8 356.3h0M121.8 355.5h0M100.5 350.0h0M156.8 355.4h0M111.3 351.1h0M95.6 355.2h0M158.4 352.6h0M163.6 350.0h0M98.1 354.4h0M68.9 354.6h0M141.8 347.4h0M123.2 351.9h0M119.6 348.9h0M120.2 351.5h0M113.5 354.9h0M87.0 347.5h0M119.5 355.9h0M118.3 356.1h0M126.0 353.4h0M122.4 350.2h0M81.1 356.9h0M126.3 350.1h0M147.5 356.7h0M74.9 349.8h0M83.5 347.9h0M112.7 347.8h0M103.2 355.8h0M77.6 349.0h0M133.0 352.5h0M157.9 354.4h0M145.7 355.8h0M104.3 347.6h0M149.0 350.4h0M162.7 352.1h0M119.3 354.7h0M158.9 348.2h0M87.2 353.7h0M46.8 351.0h0M45.5 354.5h0M47.0 356.0h0M52.6 355.7h0M65.0 349.0h0M63.5 355.0h0M69.0 340.0h0M73.0 338.0h0M96.6 305.3h0M100.0 306.0h0M104.0 307.5h0M110.4 307.0h0M113.0 311.5h0M97.0 312.0h0M102.0 313.0h0M112.0 300.0h0M117.5 301.5h0M116.0 303.5h0M124.5 300.0h0M127.0 302.0h0M115.0 290.0h0M122.0 290.0h0M127.0 291.0h0M137.0 290.0h0M143.0 290.0h0M160.0 290.0h0M167.0 288.0h0M172.0 286.0h0M178.0 284.0h0M230.0 293.0h0M233.0 293.0h0M265.1 294.5h0M263.0 297.0h0M258.1 302.1h0M246.7 307.1h0M282.7 313.7h0M216.0 282.0h0M216.0 290.0h0M303.2 332.1h0M308.0 333.0h0M316.0 332.0h0M322.0 334.0h0M325.0 336.0h0M176.2 273.8h0M177.1 274.5h0M180.7 274.3h0M181.6 274.3h0M184.7 273.1h0M185.5 272.4h0M188.5 272.0h0M191.3 270.4h0M191.1 271.1h0M193.7 269.8h0M196.0 270.1h0M198.3 270.5h0M200.7 271.0h0M202.1 273.2h0M204.5 273.8h0M204.3 275.3h0M207.9 276.0h0M208.3 276.6h0M211.9 278.5h0M213.4 278.8h0M213.3 278.8h0M215.3 281.5h0M196.2 276.0h0M198.6 278.2h0M200.9 279.4h0M203.0 279.6h0M206.2 279.3h0M206.7 280.6h0M210.1 282.6h0M212.5 285.6h0M214.2 287.7h0M215.7 287.9h0M217.9 292.0h0M216.6 294.3h0M177.8 279.6h0M180.3 281.9h0M184.9 281.2h0M187.4 283.4h0M190.3 283.6h0M192.9 285.8h0M197.8 278.4h0M215.7 321.6h0M200.7 330.2h0M194.1 282.7h0M188.1 305.9h0M218.5 338.6h0M191.3 337.7h0M187.6 290.5h0M200.3 327.6h0M214.0 323.9h0M192.1 337.3h0M186.5 331.6h0M191.7 287.7h0M193.4 279.7h0M202.9 281.9h0M199.1 327.4h0M212.2 313.3h0M199.3 273.0h0M188.6 292.2h0M184.8 327.4h0M200.1 273.3h0M199.7 327.4h0M204.0 311.3h0M186.1 303.8h0M200.0 290.3h0M209.8 320.3h0M200.8 278.6h0M209.2 301.2h0M201.1 337.9h0M193.1 299.6h0M205.3 291.8h0M203.9 276.3h0M202.4 295.7h0M194.7 339.6h0M196.9 274.5h0M200.8 299.8h0M185.5 317.3h0M196.1 282.2h0M199.7 318.6h0M193.3 286.2h0M180.7 314.5h0M184.2 302.8h0M194.2 299.1h0M186.1 298.9h0M198.1 311.0h0M193.5 283.0h0M198.4 302.7h0M203.4 288.3h0M214.0 308.9h0M203.8 273.3h0M203.0 282.4h0M187.6 299.9h0M214.3 335.9h0M205.8 316.6h0M207.6 331.6h0M192.5 307.5h0M202.8 319.9h0M188.4 292.4h0M197.4 331.8h0M219.2 327.0h0M205.9 308.0h0M199.5 305.5h0M186.6 291.8h0M213.5 312.2h0M205.7 291.3h0M183.4 321.5h0M209.2 303.0h0M195.0 285.6h0M205.6 294.6h0M194.7 304.0h0M99.5 320.4h0M93.8 318.3h0M95.5 321.1h0M104.3 320.4h0M99.2 319.8h0M105.2 318.4h0M99.0 320.7h0M98.0 320.4h0M105.9 320.6h0M103.0 318.1h0M104.0 318.1h0M99.9 314.3h0M97.5 316.6h0M104.5 322.6h0M97.9 322.5h0M97.1 317.9h0M99.3 314.8h0M97.3 321.1h0M104.4 316.4h0M94.3 322.6h0M97.5 320.0h0M101.0 320.4h0M92.4 321.8h0M94.4 315.4h0M98.2 320.0h0M101.7 319.3h0M100.1 319.2h0M103.5 318.2h0M263.0 341.1h0M259.0 320.3h0M265.0 320.2h0M263.9 336.5h0M262.6 324.8h0M265.0 322.8h0M266.5 324.5h0M262.9 326.4h0M265.0 335.3h0M259.9 342.3h0M265.2 330.0h0M261.1 330.0h0M266.1 341.2h0M262.8 327.0h0M260.4 344.3h0M264.8 328.5h0M263.3 330.8h0M260.7 340.9h0M260.8 328.6h0M263.8 338.0h0M259.6 323.9h0M265.6 338.4h0M321.6 335.5h0M306.3 338.0h0M313.5 346.3h0M325.9 334.0h0M313.2 340.4h0M320.4 349.3h0M322.6 343.2h0M324.5 344.2h0M312.8 345.4h0M306.3 341.2h0M304.0 340.4h0M302.8 342.0h0M318.8 348.0h0M304.0 345.9h0M323.0 341.9h0M322.4 349.1h0M322.4 333.2h0M304.6 345.3h0M316.3 346.5h0M309.0 335.5h0M305.8 346.3h0M300.6 342.9h0M314.2 342.8h0M308.8 348.2h0M316.6 343.7h0M318.7 345.5h0M319.7 342.8h0M325.1 342.0h0M322.8 346.1h0M322.6 342.0h0" stroke="#33278a" stroke-width="3.6" stroke-linecap="round" fill="none"/>
<path d="M184.7 275.0h0" stroke="#c8232c" stroke-width="3.6" stroke-linecap="round" fill="none"/>
<path d="M491.9 338.6h0M390.4 349.0h0M443.5 343.2h0M477.2 340.8h0M464.2 335.2h0M468.7 343.0h0M519.1 350.4h0M529.5 343.1h0M408.6 345.1h0M400.0 336.1h0M503.5 334.5h0M452.2 342.4h0M474.9 342.5h0M507.8 345.2h0M418.0 340.8h0M413.3 339.1h0M420.7 347.5h0M399.8 336.8h0M459.9 341.7h0M421.8 342.8h0M467.9 342.1h0M444.0 338.5h0M406.9 347.3h0M448.6 338.0h0M513.3 336.8h0M483.9 340.4h0M457.5 347.0h0M504.8 334.9h0M433.9 340.5h0M475.8 342.6h0M419.3 339.6h0M408.7 336.5h0M520.1 345.9h0M388.1 344.7h0M413.9 349.0h0M428.8 345.6h0M474.5 339.8h0M454.8 348.4h0M454.8 340.1h0M503.9 338.7h0M499.2 349.7h0M406.7 336.2h0M522.1 342.4h0M519.3 345.6h0M446.6 335.1h0M439.1 348.2h0M438.4 346.7h0M451.9 339.0h0M528.0 339.3h0M405.2 336.4h0M394.3 344.5h0M527.8 338.5h0M458.4 335.9h0M487.4 341.8h0M516.4 341.8h0M470.0 341.4h0M519.6 339.1h0M401.8 344.8h0M491.5 346.0h0M488.4 333.9h0M396.9 340.5h0M491.1 336.9h0M414.5 343.2h0M505.1 334.8h0M431.5 335.1h0M428.2 336.0h0M464.8 338.7h0M436.9 333.3h0M520.7 344.3h0M517.6 337.3h0M508.5 343.7h0M439.2 348.4h0M493.5 344.8h0M499.2 346.8h0M473.6 340.1h0M518.4 334.9h0M458.8 347.8h0M518.6 339.9h0M442.4 347.5h0M423.7 336.4h0M422.8 338.7h0M436.4 347.3h0M390.8 342.5h0M511.1 346.7h0M388.2 338.1h0M499.3 343.0h0M465.1 349.9h0M500.0 340.8h0M472.9 347.2h0M518.2 339.7h0M472.5 336.8h0M478.4 339.0h0M474.2 348.7h0M463.7 344.4h0M412.9 344.2h0M481.3 343.2h0M428.2 344.0h0M492.9 338.0h0M418.3 350.1h0M499.6 334.1h0M517.8 339.8h0M427.9 344.0h0M429.8 334.7h0M494.8 344.5h0M529.7 342.0h0M497.0 335.1h0M442.7 334.6h0M453.6 339.0h0M480.5 345.8h0M439.0 346.9h0M410.9 344.2h0M450.8 336.7h0M453.3 337.2h0M515.9 342.6h0M427.2 335.8h0M523.5 345.8h0M421.2 349.1h0M436.7 345.7h0M425.4 346.2h0M416.7 342.8h0M529.9 341.4h0M424.0 348.4h0M432.2 346.3h0M464.8 339.7h0M429.9 333.9h0M507.7 342.5h0M408.8 349.7h0M437.2 341.9h0M440.1 337.6h0M468.0 333.4h0M527.9 338.0h0M492.9 333.1h0M456.3 334.5h0M526.8 345.7h0M494.5 346.8h0M398.8 336.7h0M421.9 343.6h0M461.7 348.5h0M434.1 341.7h0M494.9 347.0h0M444.6 332.1h0M439.1 346.4h0M427.0 341.6h0M395.6 341.7h0M419.7 338.0h0M429.9 348.6h0M394.5 339.5h0M438.2 335.0h0M528.0 347.3h0M510.1 345.7h0M429.0 350.5h0M402.1 342.0h0M421.2 339.9h0M504.4 344.6h0M398.9 343.3h0M466.8 343.5h0M438.0 332.5h0M466.1 339.4h0M496.5 338.6h0M446.6 344.2h0M422.8 341.6h0M460.1 338.5h0M412.2 348.9h0M451.5 338.0h0M493.1 337.9h0M502.3 338.6h0M474.6 340.2h0M405.8 339.1h0M409.1 343.9h0M399.1 337.8h0M502.4 347.1h0M475.9 346.1h0M459.6 346.6h0M482.5 343.5h0M460.7 341.5h0M458.9 336.8h0M447.1 349.5h0M500.0 333.2h0M490.2 349.3h0M402.0 342.2h0M389.3 339.1h0M470.8 337.4h0M496.6 346.5h0M461.5 348.8h0M421.9 341.9h0M493.0 348.1h0M513.9 343.9h0M503.7 333.9h0M465.3 345.1h0M417.8 337.3h0M456.3 347.9h0M465.8 338.5h0M397.0 342.7h0M436.9 342.7h0M419.9 342.1h0M438.0 342.0h0M399.1 343.9h0M529.8 343.4h0M488.3 338.0h0M522.0 347.7h0M523.6 348.7h0M431.8 337.1h0M421.0 343.7h0M490.9 336.6h0M392.5 348.9h0M466.6 341.5h0M390.2 339.8h0M476.1 347.8h0M463.2 341.3h0M396.0 343.2h0M442.7 349.9h0M470.7 340.6h0M521.8 344.7h0M419.8 340.3h0M477.7 347.3h0M392.3 350.2h0M525.4 336.4h0M489.9 337.0h0M406.1 350.2h0M444.1 343.6h0M489.2 343.0h0M428.9 338.1h0M394.0 344.2h0M500.7 335.4h0M392.1 345.7h0M510.4 338.6h0M399.1 349.6h0M527.8 336.2h0M483.1 341.2h0M426.3 346.0h0M487.1 345.9h0M520.3 345.9h0M410.3 348.8h0M473.5 341.9h0M498.1 338.2h0M482.9 350.3h0M403.7 343.7h0M528.4 335.4h0M468.2 343.5h0M451.5 344.1h0M389.7 347.9h0M499.9 342.2h0M513.8 337.7h0M469.8 337.8h0M448.5 337.2h0M429.0 339.2h0M422.7 350.5h0M485.1 338.7h0M500.2 342.1h0M497.9 341.6h0M476.4 332.2h0M481.7 348.6h0M397.6 349.9h0M468.7 347.2h0M399.8 349.2h0M470.5 338.5h0M490.8 348.8h0M420.5 344.8h0M390.2 349.2h0M422.9 347.3h0M399.7 347.8h0M439.0 339.0h0M517.6 341.1h0M410.4 336.5h0M524.3 336.9h0M512.6 344.9h0M513.1 348.6h0M522.0 341.6h0M476.3 336.8h0M474.1 340.3h0M409.3 337.4h0M432.6 339.6h0M446.9 343.0h0M400.8 344.0h0M525.6 338.0h0M507.1 345.5h0M409.4 338.0h0M451.6 344.4h0M455.8 336.7h0M474.9 332.2h0M446.3 345.8h0M507.2 343.2h0M474.0 347.0h0M391.1 342.5h0M421.0 340.2h0M432.4 337.1h0M442.1 348.7h0M481.8 334.1h0M481.8 348.3h0M431.2 335.6h0M504.0 340.2h0M508.1 339.4h0M413.1 339.5h0M430.4 350.0h0M463.4 336.6h0M464.2 340.1h0M525.7 337.7h0M474.3 344.9h0M451.2 341.7h0M519.9 347.3h0M416.1 340.1h0M495.2 337.4h0M473.4 335.8h0M478.5 347.2h0M491.6 338.7h0M490.2 348.2h0M405.2 339.4h0M466.9 349.0h0M501.9 350.0h0M438.8 345.9h0M424.4 348.5h0M432.1 342.3h0M498.4 335.9h0M498.3 347.3h0M465.7 349.6h0M414.7 348.1h0M406.8 336.9h0M497.4 336.4h0M400.2 346.5h0M433.2 345.2h0M520.4 344.0h0M442.2 340.2h0M397.1 347.0h0M509.2 334.7h0M424.4 348.8h0M480.8 349.8h0M469.5 336.7h0M466.1 341.9h0M401.7 346.9h0M392.4 345.7h0M428.4 343.0h0M424.7 344.0h0M432.8 334.2h0M422.3 350.3h0M433.1 347.8h0M518.5 342.8h0M474.8 346.8h0M443.9 336.7h0M457.0 344.1h0M393.3 344.1h0M505.1 348.2h0M397.8 341.7h0M485.6 347.0h0M399.6 345.5h0M419.9 336.8h0M524.6 336.7h0M469.8 344.5h0M496.9 347.9h0M475.7 334.7h0M472.7 339.7h0M467.3 333.4h0M419.1 347.2h0M459.3 346.3h0M497.4 345.9h0M479.9 334.6h0M508.1 346.3h0M477.9 332.7h0M469.8 332.4h0M489.9 348.0h0M491.9 345.7h0M461.8 336.8h0M447.1 339.8h0M426.3 346.6h0M422.5 341.3h0M524.5 335.6h0M521.1 340.8h0M502.0 336.1h0M516.1 343.8h0M506.0 342.7h0M433.0 344.4h0M474.1 332.8h0M394.1 338.4h0M449.3 341.7h0M431.0 341.0h0M492.7 350.1h0M504.9 349.1h0M518.2 339.7h0M461.9 335.3h0M415.9 346.4h0M511.9 344.4h0M418.8 348.2h0M517.2 347.8h0M466.8 334.3h0M529.0 343.3h0M449.4 343.9h0M484.8 342.8h0M396.4 343.3h0M467.1 345.7h0M470.7 346.8h0M474.2 349.3h0M433.0 338.6h0M419.2 347.5h0M494.6 349.5h0M487.1 333.6h0M524.7 341.5h0M423.4 339.0h0M411.6 339.2h0M525.7 335.9h0M477.3 347.9h0M459.8 346.2h0M457.0 335.3h0M438.4 348.2h0M497.7 346.2h0M451.0 336.7h0M397.6 342.0h0M441.4 331.8h0M441.7 341.2h0M429.5 348.7h0M478.0 334.9h0M389.8 339.9h0M491.4 342.7h0M516.3 341.7h0M420.6 345.7h0M390.1 345.1h0M440.8 341.5h0M508.5 337.3h0M449.4 345.5h0M390.6 344.1h0M479.2 345.1h0M462.4 343.8h0M436.7 343.6h0M495.2 345.6h0M389.3 346.0h0M452.1 336.7h0M432.3 341.9h0M458.7 331.8h0M479.8 336.1h0M507.2 336.7h0M502.7 343.1h0M443.6 347.3h0M432.0 333.4h0M499.6 344.9h0M420.0 342.0h0M434.3 338.7h0M488.0 340.1h0M426.2 341.5h0M416.3 346.1h0M448.8 349.2h0M415.9 336.6h0M498.5 341.1h0M464.5 332.6h0M521.6 340.8h0M508.0 347.1h0M389.1 336.5h0M513.1 347.6h0M483.9 346.6h0M494.2 334.4h0M476.2 334.7h0M409.1 338.4h0M515.7 337.2h0M417.8 340.3h0M404.1 345.6h0M438.3 344.7h0M462.0 333.5h0M463.0 346.8h0M451.0 339.5h0M455.5 344.4h0M490.3 350.0h0M399.4 345.4h0M406.6 347.0h0M452.5 331.9h0M424.5 344.7h0M506.4 348.2h0M404.3 337.1h0M495.0 348.3h0M391.3 337.6h0M495.6 342.0h0M479.6 348.8h0M491.9 341.5h0M469.8 345.9h0M527.2 346.1h0M484.1 348.1h0M436.2 334.2h0M424.5 340.1h0M388.2 338.1h0M514.3 340.2h0M425.7 341.1h0M515.3 335.2h0M458.8 340.4h0M486.9 348.8h0M457.1 333.1h0M451.4 339.2h0M524.2 339.9h0M480.1 341.7h0M429.5 335.8h0M473.7 349.5h0M463.7 338.0h0M409.0 348.0h0M453.3 341.7h0M480.9 339.3h0M451.2 342.6h0M522.3 338.0h0M460.5 332.8h0M483.3 338.3h0M503.5 344.3h0M417.5 348.9h0M487.3 338.5h0M467.6 342.0h0M398.4 346.6h0M430.7 339.7h0M495.3 346.0h0M414.0 336.5h0M454.9 347.4h0M482.8 346.4h0M456.6 334.7h0M442.1 345.6h0M504.1 339.3h0M411.7 348.6h0M461.2 345.1h0M470.7 332.8h0M391.6 347.2h0M413.6 344.9h0M429.2 340.9h0M519.1 348.0h0M465.9 341.6h0M478.0 342.3h0M453.3 347.0h0M475.0 349.2h0M450.9 334.8h0M478.3 343.6h0M420.0 347.4h0M458.1 333.3h0M435.1 337.2h0M487.6 333.5h0M472.5 332.9h0M460.3 340.4h0M457.8 336.2h0M469.3 334.5h0M522.6 340.4h0M446.0 341.9h0M405.0 345.0h0M439.5 331.4h0M444.5 332.0h0M428.3 343.3h0M464.5 346.6h0M469.5 336.1h0M404.1 340.8h0M435.9 332.2h0M395.6 348.1h0M507.1 342.7h0M442.7 336.1h0M416.6 339.5h0M447.2 350.5h0M458.9 341.7h0M493.0 341.4h0M440.1 345.8h0M438.5 342.9h0M443.2 344.6h0M426.4 346.6h0M422.0 346.9h0M414.5 338.7h0M450.6 341.4h0M527.7 344.3h0M469.3 333.4h0M470.1 340.4h0M470.3 347.6h0M527.7 339.0h0M497.4 335.6h0M515.7 350.4h0M491.9 347.2h0M430.8 344.3h0M446.4 334.7h0M471.0 334.7h0M477.2 346.7h0M410.7 343.6h0M483.4 343.9h0M396.6 349.2h0M457.7 349.1h0M390.8 341.8h0M501.5 346.7h0M478.7 336.9h0M514.8 348.6h0M461.3 343.6h0M432.9 348.8h0M521.0 350.1h0M392.7 340.7h0M442.7 334.1h0M393.7 347.5h0M489.2 347.6h0M443.9 333.4h0M393.8 338.3h0M521.3 339.2h0M443.1 333.7h0M419.3 336.8h0M435.9 336.3h0M522.2 342.4h0M463.1 342.7h0M413.0 339.1h0M495.0 348.0h0M528.7 340.3h0M426.9 346.6h0M459.6 345.4h0M499.7 336.8h0M450.5 337.5h0M452.8 344.2h0M418.0 340.6h0M497.7 340.9h0M492.0 339.1h0M454.9 347.4h0M480.4 347.5h0M406.0 350.3h0M402.8 344.3h0M451.6 346.3h0M418.1 341.8h0M409.0 341.4h0M424.7 338.7h0M504.9 349.9h0M513.4 339.5h0M511.6 343.5h0M405.7 339.7h0M478.1 349.1h0M484.0 334.1h0M479.7 336.6h0M496.4 333.5h0M498.9 350.0h0M439.3 349.2h0M394.2 350.1h0M488.8 341.7h0M480.6 347.0h0M395.6 340.1h0M442.6 340.2h0M507.4 340.6h0M442.9 333.8h0M503.7 345.1h0M417.8 347.0h0M429.5 334.1h0M499.9 330.7h0M489.3 321.6h0M414.6 335.0h0M440.8 329.8h0M474.9 324.6h0M514.5 318.9h0M518.9 330.0h0M476.4 323.0h0M465.0 323.9h0M430.9 331.7h0M462.5 328.2h0M507.4 333.1h0M504.9 322.3h0M526.2 327.6h0M515.9 332.9h0M480.4 319.5h0M522.9 322.7h0M496.1 326.7h0M477.2 327.8h0M483.2 326.4h0M401.9 335.9h0M503.8 318.5h0M459.1 331.6h0M477.7 329.6h0M495.6 320.4h0M464.2 329.5h0M491.1 324.6h0M522.0 324.2h0M487.3 322.3h0M397.5 334.3h0M497.3 332.5h0M489.9 321.0h0M453.1 328.1h0M481.5 325.6h0M527.6 318.7h0M453.7 328.1h0M497.6 324.4h0M490.0 327.4h0M508.8 325.9h0M454.4 328.7h0M458.5 326.6h0M477.1 330.3h0M495.5 330.9h0M474.7 328.4h0M425.4 332.0h0M476.0 327.1h0M517.6 321.8h0M504.9 323.8h0M474.8 330.5h0M512.1 321.9h0M464.6 321.1h0M522.9 316.8h0M511.0 322.5h0M624.4 348.3h0M606.9 345.1h0M651.0 343.6h0M546.2 347.9h0M570.1 345.8h0M655.2 343.4h0M614.7 345.2h0M564.3 350.4h0M569.5 350.0h0M641.7 350.3h0M612.6 348.9h0M536.9 345.5h0M541.2 349.5h0M608.8 348.4h0M538.3 348.1h0M618.7 344.5h0M652.1 347.7h0M619.6 348.2h0M650.3 349.2h0M640.0 345.3h0M656.5 349.9h0M625.4 349.4h0M608.6 343.2h0M650.0 343.5h0M547.7 348.2h0M616.8 350.3h0M643.9 347.3h0M641.0 346.1h0M637.6 350.0h0M543.2 349.1h0M593.0 348.3h0M590.9 347.7h0M637.6 345.6h0M637.1 348.5h0M639.6 345.2h0M632.8 344.9h0M577.7 346.1h0M532.2 349.9h0M658.4 346.8h0M611.3 348.3h0M658.3 347.0h0M660.6 345.6h0M655.3 344.7h0M585.3 349.5h0M646.6 348.9h0M666.4 349.1h0M662.5 348.0h0M599.7 346.9h0M630.5 343.8h0M593.2 347.8h0M553.8 345.3h0M638.1 349.0h0M541.9 348.8h0M530.7 347.0h0M551.4 344.4h0M662.0 346.6h0M629.7 345.5h0M664.7 349.6h0M655.8 347.6h0M564.9 348.0h0M629.8 350.2h0M636.7 350.2h0M535.1 347.9h0M560.7 347.7h0M646.2 350.0h0M539.6 349.9h0M625.5 343.0h0M600.9 346.3h0M608.0 348.8h0M586.0 347.2h0M611.6 344.0h0M614.3 349.0h0M561.7 345.3h0M630.0 345.0h0M608.8 346.5h0M633.8 349.3h0M641.4 343.7h0M574.2 344.5h0M579.2 344.6h0M583.7 343.3h0M634.6 344.8h0M563.3 344.5h0M532.4 345.0h0M657.0 349.4h0M559.5 344.6h0M595.7 348.3h0M534.9 346.6h0M611.3 347.6h0M598.9 344.5h0M609.5 345.8h0M641.0 346.2h0M590.4 345.3h0M592.0 346.5h0M657.0 344.0h0M573.4 349.5h0M615.7 345.0h0M546.4 350.2h0M629.3 346.2h0M651.5 343.5h0M619.0 343.7h0M610.5 349.3h0M608.8 345.8h0M530.4 346.8h0M633.8 346.1h0M650.3 344.7h0M570.2 344.7h0M620.9 347.4h0M586.9 348.7h0M591.0 346.9h0M544.1 347.6h0M545.1 349.4h0M543.0 345.7h0M568.9 347.9h0M618.1 343.7h0M666.9 347.6h0M600.5 342.7h0M534.5 349.4h0M664.7 349.5h0M645.3 348.7h0M589.6 347.5h0M554.6 330.0h0M600.3 323.1h0M541.5 315.3h0M612.2 315.5h0M550.9 312.9h0M605.2 338.7h0M562.0 328.5h0M642.5 335.5h0M558.5 328.5h0M599.1 339.9h0M581.8 306.9h0M549.2 335.5h0M606.2 325.5h0M630.4 336.1h0M558.8 335.8h0M543.3 317.4h0M583.0 310.7h0M570.6 329.8h0M601.6 324.1h0M603.1 313.5h0M549.0 335.3h0M656.7 341.2h0M631.0 327.4h0M608.0 338.5h0M639.0 337.9h0M552.8 336.9h0M602.2 340.2h0M620.1 332.5h0M608.4 337.6h0M556.9 342.1h0M569.6 321.9h0M604.0 328.9h0M612.6 314.0h0M587.3 338.7h0M576.5 335.1h0M619.8 340.3h0M600.1 339.9h0M606.0 336.0h0M540.7 329.1h0M595.1 322.5h0M543.4 325.3h0M626.1 342.1h0M613.8 325.3h0M592.0 341.7h0M636.0 338.9h0M592.4 327.6h0M594.2 324.8h0M593.9 332.7h0M532.3 315.3h0M612.5 328.2h0M603.4 322.4h0M668.1 342.0h0M542.1 312.3h0M625.2 327.7h0M575.6 333.3h0M629.8 326.1h0M616.6 326.9h0M596.7 321.6h0M593.1 334.7h0M591.9 328.1h0M574.0 336.2h0M646.3 339.8h0M632.1 336.1h0M598.8 309.0h0M628.3 333.1h0M549.0 313.6h0M564.5 335.9h0M586.1 317.5h0M573.1 313.1h0M537.4 335.4h0M539.9 321.5h0M577.9 338.5h0M561.6 312.4h0M636.3 334.9h0M607.6 333.3h0M581.5 325.7h0M622.3 339.3h0M616.1 330.6h0M565.0 325.0h0M533.0 337.9h0M542.8 314.1h0M556.5 333.0h0M553.6 309.3h0M639.9 333.0h0M603.8 311.9h0M628.8 329.9h0M659.8 342.7h0M618.3 319.6h0M554.6 318.5h0M565.2 328.1h0M543.0 330.5h0M588.6 317.0h0M551.4 333.7h0M627.3 331.2h0M643.2 331.1h0M590.3 319.0h0M586.2 320.7h0M601.8 311.9h0M553.9 314.2h0M630.1 335.6h0M619.2 340.7h0M604.0 322.4h0M595.1 330.0h0M551.8 323.8h0M592.8 336.2h0M591.7 339.3h0M606.9 319.7h0M595.1 317.9h0M629.2 340.4h0M563.7 343.2h0M545.6 337.7h0M600.2 334.9h0M553.3 334.8h0M622.7 341.5h0M574.3 307.7h0M570.7 326.5h0M552.3 331.1h0M619.8 324.6h0M629.2 330.4h0M591.5 307.9h0M601.5 340.4h0M553.4 326.4h0M552.4 337.9h0M551.0 326.7h0M532.0 343.3h0M588.6 325.4h0M637.9 337.7h0M607.9 333.6h0M612.2 314.9h0M560.6 324.6h0M605.3 342.1h0M597.5 311.9h0M534.1 315.7h0M664.1 345.6h0M443.2 349.4h0M560.2 348.8h0M450.9 347.5h0M396.8 347.2h0M505.4 346.0h0M529.7 350.1h0M644.6 349.5h0M537.4 350.7h0M445.9 345.8h0M610.8 346.5h0M561.3 347.3h0M593.0 348.3h0M664.4 348.1h0M480.1 347.3h0M421.7 346.3h0M565.0 346.7h0M556.7 347.6h0M576.7 348.1h0M563.8 349.6h0M603.0 350.7h0M654.7 348.7h0M585.6 346.8h0M545.9 346.8h0M491.3 347.6h0M485.0 345.6h0M424.5 347.8h0M517.4 346.9h0M632.7 349.1h0M637.7 347.0h0M422.9 348.7h0M584.0 346.1h0M521.8 347.7h0M581.1 350.1h0M428.3 346.6h0M640.3 348.9h0M456.8 346.5h0M419.5 346.4h0M642.0 349.5h0M460.5 347.9h0M509.8 347.3h0M428.9 349.1h0M574.9 350.3h0M556.5 345.9h0M667.2 347.3h0M398.3 346.6h0M629.5 347.0h0M638.5 347.3h0M440.7 347.7h0M659.2 348.2h0M632.1 348.5h0M600.8 346.4h0M644.7 346.8h0M521.6 345.9h0M573.8 349.8h0M487.5 349.5h0M576.0 349.5h0M548.8 345.8h0M443.5 347.8h0M588.1 346.6h0M549.1 348.1h0M569.3 346.6h0M583.2 350.4h0M471.9 347.1h0M503.5 346.1h0M635.7 349.3h0M575.8 345.7h0M662.8 349.0h0M456.5 350.6h0M432.3 348.1h0M613.4 348.0h0M531.6 350.3h0M504.6 348.4h0M649.2 347.9h0M412.7 348.5h0M553.4 349.2h0M658.7 348.1h0M464.5 350.0h0M647.8 349.2h0M545.5 348.6h0M457.8 346.9h0M493.4 347.8h0M446.6 346.6h0M584.1 346.4h0M450.5 347.1h0M485.5 349.7h0M569.7 350.8h0M479.6 346.0h0M557.7 349.6h0M496.2 346.9h0M530.5 347.6h0M575.4 347.0h0M648.4 347.8h0M667.2 347.0h0M430.8 346.5h0M603.5 346.4h0M535.6 348.5h0M451.5 348.7h0M544.7 346.6h0M569.3 348.3h0M406.2 348.5h0M434.6 347.6h0M662.0 350.7h0M472.1 350.6h0M514.4 349.1h0M427.5 348.8h0M644.6 350.1h0M467.4 348.3h0M658.1 347.2h0M627.2 347.5h0M659.5 348.8h0M504.3 347.3h0M477.2 348.5h0M615.5 347.1h0M582.5 347.3h0M611.6 349.4h0M391.9 350.1h0M438.7 347.1h0M645.4 350.4h0M531.5 349.8h0M518.7 350.6h0M655.5 350.4h0M409.4 350.7h0M597.8 347.9h0M587.9 349.5h0M522.8 346.3h0M410.3 346.0h0M569.9 349.8h0M618.9 346.0h0M409.5 350.0h0M515.0 345.8h0M503.7 350.3h0M410.3 346.1h0M418.4 345.8h0M460.8 345.8h0M544.8 346.6h0M593.3 350.3h0M574.4 347.1h0M412.1 347.3h0M487.0 347.7h0M642.5 348.1h0M632.1 345.7h0M613.4 349.7h0M483.1 347.3h0M625.8 350.5h0M536.8 349.3h0M537.3 345.6h0M557.2 350.6h0M484.6 350.0h0M516.8 347.5h0M477.9 346.9h0M601.8 349.4h0M554.3 350.1h0M532.4 349.6h0M436.6 348.5h0M532.3 347.7h0M599.2 349.3h0M580.8 347.8h0M617.4 346.9h0M657.9 348.1h0M498.0 346.4h0M540.1 349.4h0M507.7 346.1h0M661.3 345.9h0M638.7 346.0h0M666.3 345.9h0M499.7 348.8h0M500.2 348.5h0M494.4 349.4h0M478.0 350.5h0M460.6 349.1h0M435.7 346.0h0M664.6 349.7h0M543.8 349.3h0M647.0 347.4h0M550.7 346.5h0M623.3 346.4h0M447.7 345.6h0M638.2 350.7h0M441.8 350.4h0M516.5 348.0h0M587.9 345.8h0M555.7 345.9h0M500.3 350.1h0M391.8 346.9h0M631.0 350.5h0M585.0 350.2h0M426.5 347.5h0M500.8 349.6h0M649.3 348.8h0M449.7 347.4h0M659.5 345.7h0M649.9 350.3h0M608.4 349.3h0M613.5 348.8h0M512.1 348.9h0M610.8 347.9h0M617.9 346.0h0M483.1 348.8h0M535.5 347.7h0M442.7 348.3h0M454.4 347.2h0M578.9 347.0h0M494.9 346.4h0M613.5 346.1h0M493.1 346.9h0M580.8 347.2h0M453.3 349.0h0M537.6 350.7h0M572.9 350.8h0M616.9 347.0h0M494.9 345.8h0M541.7 348.7h0M417.0 349.8h0M564.1 345.7h0M447.4 345.6h0M480.9 346.9h0M558.9 348.8h0M465.6 347.2h0M442.2 345.8h0M600.1 350.3h0M589.5 348.3h0M557.5 348.3h0M549.9 346.1h0M389.6 346.5h0M537.5 349.6h0M540.5 349.0h0M657.8 346.6h0M593.3 348.3h0M512.5 349.6h0M522.5 345.6h0M422.9 346.5h0M618.4 346.6h0M650.2 348.3h0M528.9 348.7h0M487.9 349.7h0M424.7 350.3h0M393.5 346.3h0M436.0 348.1h0M497.1 350.1h0M641.3 350.1h0M546.4 349.3h0M600.6 346.2h0M571.1 349.4h0M399.6 350.2h0M391.6 346.2h0M604.6 348.0h0M654.4 348.3h0M569.7 347.2h0M603.7 347.8h0M443.6 347.8h0M625.4 348.2h0M587.1 348.5h0M514.5 347.1h0M653.7 347.4h0M663.5 348.4h0M528.5 347.4h0M597.0 350.4h0M390.4 350.7h0M418.2 350.7h0M402.2 349.5h0M412.5 350.0h0M616.3 349.6h0M490.9 348.1h0M539.8 349.3h0M392.2 348.4h0M618.4 349.6h0M423.4 346.9h0M580.9 350.6h0M602.8 348.6h0M451.9 348.2h0M449.8 350.2h0M572.1 348.9h0M634.9 349.9h0M460.3 349.9h0M473.9 345.9h0M453.9 346.9h0M494.9 346.8h0M622.9 349.6h0M520.3 350.3h0M416.7 346.0h0M420.9 350.7h0M620.5 346.1h0M628.5 350.5h0M512.0 350.5h0M631.4 348.6h0M629.6 347.2h0M429.6 346.5h0M420.2 348.9h0M634.8 347.9h0M618.1 348.9h0M553.5 347.5h0M440.1 346.4h0M512.2 347.1h0M595.5 347.4h0M641.0 346.1h0M448.2 346.7h0M525.7 348.2h0M543.6 349.7h0M556.2 346.1h0M553.6 350.6h0M515.0 349.5h0M535.3 350.0h0M472.6 345.6h0M455.6 349.5h0M650.5 346.1h0M493.2 346.2h0M536.8 350.2h0M663.1 350.7h0M563.0 346.0h0M470.6 349.4h0M580.1 348.7h0M527.5 350.2h0M534.1 347.1h0M634.3 346.2h0M590.3 350.2h0M450.3 346.7h0M596.2 347.2h0M661.8 345.5h0M648.5 346.3h0M387.5 328.2h0M389.7 328.4h0M392.0 327.8h0M394.2 326.8h0M396.4 326.8h0M398.8 325.9h0M400.6 325.1h0M403.3 324.0h0M405.1 323.3h0M406.3 323.2h0M408.9 321.9h0M410.5 320.3h0M412.9 319.4h0M414.4 319.7h0M416.3 319.1h0M419.3 320.2h0M420.5 320.4h0M423.8 320.7h0M425.0 322.0h0M426.6 323.4h0M427.6 324.5h0M429.8 326.4h0M431.8 327.0h0M433.1 329.0h0M434.2 330.2h0M435.9 331.9h0M390.5 331.5h0M393.1 330.3h0M395.8 329.8h0M398.0 329.7h0M400.7 329.1h0M402.6 328.8h0M404.7 326.6h0M407.9 326.1h0M410.1 325.4h0M412.3 323.8h0M415.4 322.8h0M417.4 322.6h0M419.7 322.9h0M422.8 323.8h0M424.1 325.3h0M426.5 327.8h0M427.9 329.3h0M429.9 331.5h0M432.0 333.4h0M434.3 334.6h0M426.1 313.4h0M443.3 323.6h0M466.7 303.6h0M466.7 308.0h0M467.0 320.0h0M472.0 319.5h0M521.9 281.8h0M522.3 284.3h0M526.0 282.1h0M527.3 282.4h0M527.0 281.2h0M530.2 283.9h0M532.4 281.2h0M533.8 283.3h0M534.2 282.1h0M536.2 283.5h0M539.9 280.6h0M541.4 282.6h0M542.8 282.2h0M544.9 280.5h0M547.0 281.1h0M549.1 282.7h0M548.3 280.1h0M552.8 280.6h0M553.1 281.5h0M554.5 280.9h0M557.7 280.0h0M559.9 282.3h0M560.0 280.8h0M563.5 282.1h0M563.8 280.6h0M566.0 281.8h0M568.3 281.6h0M569.5 282.9h0M571.2 283.9h0M572.8 286.1h0M573.0 287.3h0M574.7 287.4h0M574.7 288.9h0M576.8 291.0h0M577.9 290.6h0M579.5 291.1h0M581.1 291.3h0M585.1 291.3h0M584.7 294.2h0M587.3 294.7h0M589.8 295.4h0M589.9 295.9h0M593.4 294.4h0M594.7 293.7h0M597.1 293.4h0M598.4 294.3h0M600.0 292.8h0M601.9 294.3h0M603.1 293.6h0M605.0 293.7h0M524.7 288.3h0M528.1 288.1h0M529.1 287.4h0M532.6 285.6h0M535.0 286.9h0M538.8 287.1h0M540.5 287.2h0M545.9 284.9h0M548.6 285.1h0M550.7 284.8h0M554.0 286.8h0M557.0 284.9h0M560.0 285.6h0M563.0 286.1h0M563.9 287.2h0M568.6 288.2h0M568.9 287.7h0M573.6 288.6h0M576.2 291.3h0M578.8 293.6h0M581.8 295.4h0M584.1 295.7h0M585.1 296.2h0M589.8 297.3h0M592.0 297.7h0M595.4 297.9h0M595.9 297.8h0M599.6 298.4h0M602.8 296.6h0M607.0 298.1h0M529.3 275.2h0M541.3 274.0h0M553.4 269.7h0M582.9 264.2h0M595.0 259.2h0M598.0 259.2h0M601.0 259.5h0M583.0 275.2h0M589.5 280.7h0M596.0 278.5h0M597.0 283.0h0M620.6 318.0h0M667.1 317.3h0M616.0 328.0h0M620.0 330.0h0M624.0 333.0h0M628.0 330.0h0M636.0 332.0h0M641.0 332.0h0M655.0 337.0h0M660.0 337.0h0M666.0 338.0h0M667.0 342.0h0M487.1 289.1h0M490.0 289.3h0M492.5 290.0h0M495.6 290.6h0M499.1 290.1h0M502.6 290.3h0M505.1 290.6h0M508.8 291.4h0M512.0 291.5h0M515.4 292.2h0M488.0 296.4h0M491.4 296.6h0M495.8 296.8h0M500.4 295.6h0M504.0 297.0h0M508.7 296.3h0M512.6 296.6h0M516.3 296.5h0M489.0 308.5h0M491.3 307.7h0M494.2 306.6h0M497.5 305.9h0M500.1 306.2h0M502.5 306.0h0M505.7 305.3h0M507.8 304.4h0M510.5 304.3h0M513.7 303.8h0M516.9 302.4h0M518.9 302.8h0M480.1 312.1h0M484.9 310.9h0M489.2 308.8h0M621.9 341.6h0M619.4 329.9h0M617.1 334.5h0M622.5 341.5h0M617.1 336.7h0M622.0 332.4h0M619.8 331.4h0M620.3 331.4h0M617.3 338.4h0M620.4 329.6h0M623.7 338.7h0M616.3 337.2h0M618.4 344.4h0M620.5 342.3h0M605.8 324.9h0M570.2 307.4h0M590.7 300.4h0M596.3 333.4h0M608.1 324.7h0M591.9 334.8h0M553.9 316.7h0M546.5 330.9h0M585.1 333.3h0M530.2 307.9h0M536.7 322.0h0M580.8 322.5h0M547.5 316.5h0M554.9 310.1h0M554.2 302.9h0M576.1 337.6h0M532.7 333.4h0M549.2 300.7h0M541.0 337.2h0M593.8 305.3h0M555.8 338.1h0M606.5 315.9h0M597.4 321.8h0M548.2 334.2h0M575.8 308.9h0M600.7 332.3h0M591.3 306.6h0M585.5 309.4h0M541.9 317.4h0M561.2 326.3h0M577.9 306.3h0M585.5 325.4h0M568.5 317.1h0M601.0 303.7h0M530.2 339.5h0M565.6 311.7h0M595.8 334.2h0M578.7 331.8h0M578.4 324.1h0M532.1 332.8h0M523.7 325.1h0M496.6 323.1h0M491.7 325.7h0M488.1 329.9h0M497.4 320.9h0M503.1 325.7h0M480.4 316.4h0M509.8 323.9h0M518.4 322.9h0M492.1 332.4h0M496.1 320.1h0M482.2 315.2h0M527.7 331.4h0M515.4 323.7h0M485.9 323.0h0M523.8 322.0h0M508.8 324.7h0M505.5 315.3h0M595.8 280.0h0M596.5 284.1h0M596.0 287.5h0M596.4 292.7h0M596.4 295.1h0M596.2 299.0h0" stroke="#33278a" stroke-width="3.6" stroke-linecap="round" fill="none"/>
<path d="M531.5 285.0h0" stroke="#c8232c" stroke-width="3.6" stroke-linecap="round" fill="none"/>
</svg></body></html>
